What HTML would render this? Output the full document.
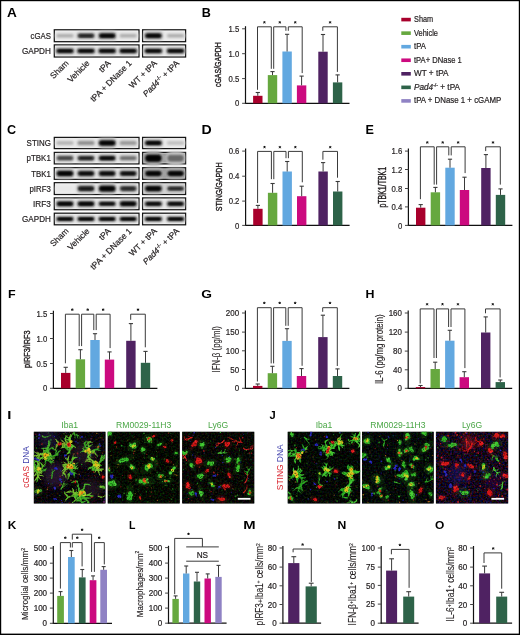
<!DOCTYPE html><html><head><meta charset="utf-8"><style>html,body{margin:0;padding:0;background:#fff;width:520px;height:635px;overflow:hidden}svg svg polyline{fill:none;stroke-linecap:round;stroke-linejoin:round}</style></head><body><svg width="520" height="635" viewBox="0 0 520 635" style="display:block;will-change:transform">
<defs><filter id="bl" x="-50%" y="-50%" width="200%" height="200%"><feGaussianBlur stdDeviation="0.85"/></filter><filter id="bl2" x="-50%" y="-50%" width="200%" height="200%"><feGaussianBlur stdDeviation="1.6"/></filter><filter id="bm" x="-20%" y="-20%" width="140%" height="140%"><feGaussianBlur stdDeviation="0.5"/></filter><filter id="bh" x="-50%" y="-50%" width="200%" height="200%"><feGaussianBlur stdDeviation="3"/></filter></defs>
<g font-family='"Liberation Sans", sans-serif'>
<rect x="0.00" y="0.00" width="520.00" height="635.00" fill="#fff" />
<text transform="translate(7.0,17.0) scale(1.08,1)" font-size="12.6" font-weight="bold" fill="#000">A</text>
<text transform="translate(201.8,17.1) scale(1.0,1)" font-size="12.6" font-weight="bold" fill="#000">B</text>
<text transform="translate(7.0,133.8) scale(1.0,1)" font-size="12.6" font-weight="bold" fill="#000">C</text>
<text transform="translate(201.6,133.7) scale(1.12,1)" font-size="12.6" font-weight="bold" fill="#000">D</text>
<text transform="translate(365.6,133.8) scale(1.0,1)" font-size="12.6" font-weight="bold" fill="#000">E</text>
<text transform="translate(7.9,297.6) scale(1.18,1)" font-size="10.6" font-weight="bold" fill="#000">F</text>
<text transform="translate(201.2,298.0) scale(1.3,1)" font-size="10.6" font-weight="bold" fill="#000">G</text>
<text transform="translate(365.4,298.0) scale(1.17,1)" font-size="10.6" font-weight="bold" fill="#000">H</text>
<text transform="translate(7.2,418.8) scale(1.4,1)" font-size="10.6" font-weight="bold" fill="#000">I</text>
<text transform="translate(269.6,418.8) scale(1.05,1)" font-size="10.6" font-weight="bold" fill="#000">J</text>
<text transform="translate(7.8,529.1) scale(1.12,1)" font-size="10.6" font-weight="bold" fill="#000">K</text>
<text transform="translate(129.0,529.0) scale(1.0,1)" font-size="10.6" font-weight="bold" fill="#000">L</text>
<text transform="translate(243.3,529.3) scale(1.4,1)" font-size="10.6" font-weight="bold" fill="#000">M</text>
<text transform="translate(337.6,529.3) scale(1.15,1)" font-size="10.6" font-weight="bold" fill="#000">N</text>
<text transform="translate(434.9,529.3) scale(1.13,1)" font-size="10.6" font-weight="bold" fill="#000">O</text>
<rect x="54.30" y="29.80" width="84.70" height="11.90" fill="#ececec" stroke="#111" stroke-width="1.25"/>
<rect x="55.50" y="31.00" width="82.30" height="9.50" fill="none" stroke="#fafafa" stroke-width="0.7" opacity="0.5"/>
<rect x="142.60" y="29.80" width="43.00" height="11.90" fill="#ececec" stroke="#111" stroke-width="1.25"/>
<rect x="143.80" y="31.00" width="40.60" height="9.50" fill="none" stroke="#fafafa" stroke-width="0.7" opacity="0.5"/>
<rect x="55.25" y="32.95" width="19.50" height="5.60" rx="2.52" fill="rgb(220,220,220)" filter="url(#bl2)"/>
<rect x="56.75" y="34.35" width="16.50" height="2.80" rx="1.26" fill="rgb(170,170,170)" filter="url(#bl)"/>
<rect x="76.25" y="31.95" width="19.50" height="7.60" rx="3.42" fill="rgb(192,192,192)" filter="url(#bl2)"/>
<rect x="77.75" y="33.85" width="16.50" height="3.80" rx="1.71" fill="rgb(58,58,58)" filter="url(#bl)"/>
<rect x="79.07" y="34.69" width="13.86" height="2.13" rx="1.06" fill="rgb(18,18,18)" filter="url(#bl)"/>
<rect x="97.45" y="31.15" width="19.50" height="9.20" rx="4.14" fill="rgb(183,183,183)" filter="url(#bl2)"/>
<rect x="98.95" y="33.45" width="16.50" height="4.60" rx="2.07" fill="rgb(20,20,20)" filter="url(#bl)"/>
<rect x="100.27" y="34.46" width="13.86" height="2.58" rx="1.29" fill="rgb(0,0,0)" filter="url(#bl)"/>
<rect x="118.45" y="32.95" width="19.50" height="5.60" rx="2.52" fill="rgb(220,220,220)" filter="url(#bl2)"/>
<rect x="119.95" y="34.35" width="16.50" height="2.80" rx="1.26" fill="rgb(170,170,170)" filter="url(#bl)"/>
<rect x="143.65" y="31.35" width="19.50" height="8.80" rx="3.96" fill="rgb(184,184,184)" filter="url(#bl2)"/>
<rect x="145.15" y="33.55" width="16.50" height="4.40" rx="1.98" fill="rgb(26,26,26)" filter="url(#bl)"/>
<rect x="146.47" y="34.52" width="13.86" height="2.46" rx="1.23" fill="rgb(0,0,0)" filter="url(#bl)"/>
<rect x="165.85" y="32.95" width="19.50" height="5.60" rx="2.52" fill="rgb(220,220,220)" filter="url(#bl2)"/>
<rect x="167.35" y="34.35" width="16.50" height="2.80" rx="1.26" fill="rgb(170,170,170)" filter="url(#bl)"/>
<rect x="54.30" y="44.90" width="84.70" height="12.10" fill="#ececec" stroke="#111" stroke-width="1.25"/>
<rect x="55.50" y="46.10" width="82.30" height="9.70" fill="none" stroke="#fafafa" stroke-width="0.7" opacity="0.5"/>
<rect x="142.60" y="44.90" width="43.00" height="12.10" fill="#ececec" stroke="#111" stroke-width="1.25"/>
<rect x="143.80" y="46.10" width="40.60" height="9.70" fill="none" stroke="#fafafa" stroke-width="0.7" opacity="0.5"/>
<rect x="55.00" y="47.25" width="20.00" height="7.40" rx="3.33" fill="rgb(182,182,182)" filter="url(#bl2)"/>
<rect x="56.50" y="49.10" width="17.00" height="3.70" rx="1.67" fill="rgb(18,18,18)" filter="url(#bl)"/>
<rect x="57.86" y="49.91" width="14.28" height="2.07" rx="1.04" fill="rgb(0,0,0)" filter="url(#bl)"/>
<rect x="76.00" y="47.25" width="20.00" height="7.40" rx="3.33" fill="rgb(182,182,182)" filter="url(#bl2)"/>
<rect x="77.50" y="49.10" width="17.00" height="3.70" rx="1.67" fill="rgb(18,18,18)" filter="url(#bl)"/>
<rect x="78.86" y="49.91" width="14.28" height="2.07" rx="1.04" fill="rgb(0,0,0)" filter="url(#bl)"/>
<rect x="97.20" y="47.25" width="20.00" height="7.40" rx="3.33" fill="rgb(182,182,182)" filter="url(#bl2)"/>
<rect x="98.70" y="49.10" width="17.00" height="3.70" rx="1.67" fill="rgb(18,18,18)" filter="url(#bl)"/>
<rect x="100.06" y="49.91" width="14.28" height="2.07" rx="1.04" fill="rgb(0,0,0)" filter="url(#bl)"/>
<rect x="118.20" y="47.25" width="20.00" height="7.40" rx="3.33" fill="rgb(182,182,182)" filter="url(#bl2)"/>
<rect x="119.70" y="49.10" width="17.00" height="3.70" rx="1.67" fill="rgb(18,18,18)" filter="url(#bl)"/>
<rect x="121.06" y="49.91" width="14.28" height="2.07" rx="1.04" fill="rgb(0,0,0)" filter="url(#bl)"/>
<rect x="143.40" y="47.25" width="20.00" height="7.40" rx="3.33" fill="rgb(182,182,182)" filter="url(#bl2)"/>
<rect x="144.90" y="49.10" width="17.00" height="3.70" rx="1.67" fill="rgb(18,18,18)" filter="url(#bl)"/>
<rect x="146.26" y="49.91" width="14.28" height="2.07" rx="1.04" fill="rgb(0,0,0)" filter="url(#bl)"/>
<rect x="165.60" y="47.25" width="20.00" height="7.40" rx="3.33" fill="rgb(182,182,182)" filter="url(#bl2)"/>
<rect x="167.10" y="49.10" width="17.00" height="3.70" rx="1.67" fill="rgb(18,18,18)" filter="url(#bl)"/>
<rect x="168.46" y="49.91" width="14.28" height="2.07" rx="1.04" fill="rgb(0,0,0)" filter="url(#bl)"/>
<text x="50.90" y="38.90" font-size="8.6" text-anchor="end" fill="#231f20" font-weight="normal" textLength="20.4" lengthAdjust="spacingAndGlyphs" stroke="#231f20" stroke-width="0.2" >cGAS</text>
<text x="50.90" y="53.90" font-size="8.6" text-anchor="end" fill="#231f20" font-weight="normal" textLength="29.0" lengthAdjust="spacingAndGlyphs" stroke="#231f20" stroke-width="0.2" >GAPDH</text>
<rect x="54.30" y="137.40" width="84.70" height="11.20" fill="#ececec" stroke="#111" stroke-width="1.25"/>
<rect x="55.50" y="138.60" width="82.30" height="8.80" fill="none" stroke="#fafafa" stroke-width="0.7" opacity="0.5"/>
<rect x="142.60" y="137.40" width="43.00" height="11.20" fill="#ececec" stroke="#111" stroke-width="1.25"/>
<rect x="143.80" y="138.60" width="40.60" height="8.80" fill="none" stroke="#fafafa" stroke-width="0.7" opacity="0.5"/>
<rect x="55.25" y="140.00" width="19.50" height="6.00" rx="2.70" fill="rgb(221,221,221)" filter="url(#bl2)"/>
<rect x="56.75" y="141.50" width="16.50" height="3.00" rx="1.35" fill="rgb(175,175,175)" filter="url(#bl)"/>
<rect x="76.25" y="139.40" width="19.50" height="7.20" rx="3.24" fill="rgb(211,211,211)" filter="url(#bl2)"/>
<rect x="77.75" y="141.20" width="16.50" height="3.60" rx="1.62" fill="rgb(137,137,137)" filter="url(#bl)"/>
<rect x="97.45" y="137.80" width="19.50" height="10.40" rx="4.68" fill="rgb(182,182,182)" filter="url(#bl2)"/>
<rect x="98.95" y="140.40" width="16.50" height="5.20" rx="2.34" fill="rgb(18,18,18)" filter="url(#bl)"/>
<rect x="100.27" y="141.54" width="13.86" height="2.91" rx="1.46" fill="rgb(0,0,0)" filter="url(#bl)"/>
<rect x="118.45" y="139.40" width="19.50" height="7.20" rx="3.24" fill="rgb(214,214,214)" filter="url(#bl2)"/>
<rect x="119.95" y="141.20" width="16.50" height="3.60" rx="1.62" fill="rgb(148,148,148)" filter="url(#bl)"/>
<rect x="143.65" y="138.80" width="19.50" height="8.40" rx="3.78" fill="rgb(183,183,183)" filter="url(#bl2)"/>
<rect x="145.15" y="140.90" width="16.50" height="4.20" rx="1.89" fill="rgb(22,22,22)" filter="url(#bl)"/>
<rect x="146.47" y="141.82" width="13.86" height="2.35" rx="1.18" fill="rgb(0,0,0)" filter="url(#bl)"/>
<rect x="165.85" y="140.00" width="19.50" height="6.00" rx="2.70" fill="rgb(224,224,224)" filter="url(#bl2)"/>
<rect x="167.35" y="141.50" width="16.50" height="3.00" rx="1.35" fill="rgb(188,188,188)" filter="url(#bl)"/>
<text x="50.80" y="146.00" font-size="8.6" text-anchor="end" fill="#231f20" font-weight="normal" textLength="24.2" lengthAdjust="spacingAndGlyphs" stroke="#231f20" stroke-width="0.2" >STING</text>
<rect x="54.30" y="152.40" width="84.70" height="11.50" fill="#ececec" stroke="#111" stroke-width="1.25"/>
<rect x="55.50" y="153.60" width="82.30" height="9.10" fill="none" stroke="#fafafa" stroke-width="0.7" opacity="0.5"/>
<rect x="142.60" y="152.40" width="43.00" height="11.50" fill="#989898" stroke="#111" stroke-width="1.25"/>
<rect x="143.80" y="153.60" width="40.60" height="9.10" fill="none" stroke="#fafafa" stroke-width="0.7" opacity="0.5"/>
<rect x="55.25" y="153.95" width="19.50" height="8.40" rx="3.78" fill="rgb(202,202,202)" filter="url(#bl2)"/>
<rect x="56.75" y="156.05" width="16.50" height="4.20" rx="1.89" fill="rgb(98,98,98)" filter="url(#bl)"/>
<rect x="58.07" y="156.97" width="13.86" height="2.35" rx="1.18" fill="rgb(58,58,58)" filter="url(#bl)"/>
<rect x="76.25" y="154.15" width="19.50" height="8.00" rx="3.60" fill="rgb(193,193,193)" filter="url(#bl2)"/>
<rect x="77.75" y="156.15" width="16.50" height="4.00" rx="1.80" fill="rgb(62,62,62)" filter="url(#bl)"/>
<rect x="79.07" y="157.03" width="13.86" height="2.24" rx="1.12" fill="rgb(22,22,22)" filter="url(#bl)"/>
<rect x="97.45" y="153.75" width="19.50" height="8.80" rx="3.96" fill="rgb(188,188,188)" filter="url(#bl2)"/>
<rect x="98.95" y="155.95" width="16.50" height="4.40" rx="1.98" fill="rgb(40,40,40)" filter="url(#bl)"/>
<rect x="100.27" y="156.92" width="13.86" height="2.46" rx="1.23" fill="rgb(0,0,0)" filter="url(#bl)"/>
<rect x="118.45" y="154.35" width="19.50" height="7.60" rx="3.42" fill="rgb(204,204,204)" filter="url(#bl2)"/>
<rect x="119.95" y="156.25" width="16.50" height="3.80" rx="1.71" fill="rgb(108,108,108)" filter="url(#bl)"/>
<rect x="143.65" y="150.65" width="19.50" height="15.00" rx="6.75" fill="rgb(182,182,182)" filter="url(#bl2)"/>
<rect x="145.15" y="154.40" width="16.50" height="7.50" rx="3.38" fill="rgb(15,15,15)" filter="url(#bl)"/>
<rect x="146.47" y="156.05" width="13.86" height="4.20" rx="2.10" fill="rgb(0,0,0)" filter="url(#bl)"/>
<rect x="165.85" y="151.15" width="19.50" height="14.00" rx="6.30" fill="rgb(203,203,203)" filter="url(#bl2)"/>
<rect x="167.35" y="154.65" width="16.50" height="7.00" rx="3.15" fill="rgb(103,103,103)" filter="url(#bl)"/>
<text x="50.80" y="161.15" font-size="8.6" text-anchor="end" fill="#231f20" font-weight="normal" textLength="24.2" lengthAdjust="spacingAndGlyphs" stroke="#231f20" stroke-width="0.2" >pTBK1</text>
<rect x="54.30" y="167.70" width="84.70" height="11.60" fill="#ececec" stroke="#111" stroke-width="1.25"/>
<rect x="55.50" y="168.90" width="82.30" height="9.20" fill="none" stroke="#fafafa" stroke-width="0.7" opacity="0.5"/>
<rect x="142.60" y="167.70" width="43.00" height="11.60" fill="#989898" stroke="#111" stroke-width="1.25"/>
<rect x="143.80" y="168.90" width="40.60" height="9.20" fill="none" stroke="#fafafa" stroke-width="0.7" opacity="0.5"/>
<rect x="55.25" y="168.30" width="19.50" height="10.40" rx="4.68" fill="rgb(182,182,182)" filter="url(#bl2)"/>
<rect x="56.75" y="170.90" width="16.50" height="5.20" rx="2.34" fill="rgb(18,18,18)" filter="url(#bl)"/>
<rect x="58.07" y="172.04" width="13.86" height="2.91" rx="1.46" fill="rgb(0,0,0)" filter="url(#bl)"/>
<rect x="76.25" y="168.90" width="19.50" height="9.20" rx="4.14" fill="rgb(188,188,188)" filter="url(#bl2)"/>
<rect x="77.75" y="171.20" width="16.50" height="4.60" rx="2.07" fill="rgb(40,40,40)" filter="url(#bl)"/>
<rect x="79.07" y="172.21" width="13.86" height="2.58" rx="1.29" fill="rgb(0,0,0)" filter="url(#bl)"/>
<rect x="97.45" y="168.90" width="19.50" height="9.20" rx="4.14" fill="rgb(188,188,188)" filter="url(#bl2)"/>
<rect x="98.95" y="171.20" width="16.50" height="4.60" rx="2.07" fill="rgb(40,40,40)" filter="url(#bl)"/>
<rect x="100.27" y="172.21" width="13.86" height="2.58" rx="1.29" fill="rgb(0,0,0)" filter="url(#bl)"/>
<rect x="118.45" y="169.10" width="19.50" height="8.80" rx="3.96" fill="rgb(190,190,190)" filter="url(#bl2)"/>
<rect x="119.95" y="171.30" width="16.50" height="4.40" rx="1.98" fill="rgb(49,49,49)" filter="url(#bl)"/>
<rect x="121.27" y="172.27" width="13.86" height="2.46" rx="1.23" fill="rgb(9,9,9)" filter="url(#bl)"/>
<rect x="143.65" y="168.10" width="19.50" height="10.80" rx="4.86" fill="rgb(185,185,185)" filter="url(#bl2)"/>
<rect x="145.15" y="170.80" width="16.50" height="5.40" rx="2.43" fill="rgb(31,31,31)" filter="url(#bl)"/>
<rect x="146.47" y="171.99" width="13.86" height="3.02" rx="1.51" fill="rgb(0,0,0)" filter="url(#bl)"/>
<rect x="165.85" y="168.10" width="19.50" height="10.80" rx="4.86" fill="rgb(184,184,184)" filter="url(#bl2)"/>
<rect x="167.35" y="170.80" width="16.50" height="5.40" rx="2.43" fill="rgb(26,26,26)" filter="url(#bl)"/>
<rect x="168.67" y="171.99" width="13.86" height="3.02" rx="1.51" fill="rgb(0,0,0)" filter="url(#bl)"/>
<text x="50.80" y="176.50" font-size="8.6" text-anchor="end" fill="#231f20" font-weight="normal" textLength="19.6" lengthAdjust="spacingAndGlyphs" stroke="#231f20" stroke-width="0.2" >TBK1</text>
<rect x="54.30" y="182.70" width="84.70" height="11.80" fill="#ececec" stroke="#111" stroke-width="1.25"/>
<rect x="55.50" y="183.90" width="82.30" height="9.40" fill="none" stroke="#fafafa" stroke-width="0.7" opacity="0.5"/>
<rect x="142.60" y="182.70" width="43.00" height="11.80" fill="#d4d4d4" stroke="#111" stroke-width="1.25"/>
<rect x="143.80" y="183.90" width="40.60" height="9.40" fill="none" stroke="#fafafa" stroke-width="0.7" opacity="0.5"/>
<rect x="55.25" y="185.60" width="19.50" height="6.00" rx="2.70" fill="rgb(234,234,234)" filter="url(#bl2)"/>
<rect x="56.75" y="187.10" width="16.50" height="3.00" rx="1.35" fill="rgb(231,231,231)" filter="url(#bl)"/>
<rect x="76.25" y="183.80" width="19.50" height="9.60" rx="4.32" fill="rgb(191,191,191)" filter="url(#bl2)"/>
<rect x="77.75" y="186.20" width="16.50" height="4.80" rx="2.16" fill="rgb(54,54,54)" filter="url(#bl)"/>
<rect x="79.07" y="187.26" width="13.86" height="2.69" rx="1.34" fill="rgb(14,14,14)" filter="url(#bl)"/>
<rect x="97.45" y="183.00" width="19.50" height="11.20" rx="5.04" fill="rgb(184,184,184)" filter="url(#bl2)"/>
<rect x="98.95" y="185.80" width="16.50" height="5.60" rx="2.52" fill="rgb(24,24,24)" filter="url(#bl)"/>
<rect x="100.27" y="187.03" width="13.86" height="3.14" rx="1.57" fill="rgb(0,0,0)" filter="url(#bl)"/>
<rect x="118.45" y="184.00" width="19.50" height="9.20" rx="4.14" fill="rgb(196,196,196)" filter="url(#bl2)"/>
<rect x="119.95" y="186.30" width="16.50" height="4.60" rx="2.07" fill="rgb(76,76,76)" filter="url(#bl)"/>
<rect x="121.27" y="187.31" width="13.86" height="2.58" rx="1.29" fill="rgb(36,36,36)" filter="url(#bl)"/>
<rect x="143.65" y="183.40" width="19.50" height="10.40" rx="4.68" fill="rgb(182,182,182)" filter="url(#bl2)"/>
<rect x="145.15" y="186.00" width="16.50" height="5.20" rx="2.34" fill="rgb(18,18,18)" filter="url(#bl)"/>
<rect x="146.47" y="187.14" width="13.86" height="2.91" rx="1.46" fill="rgb(0,0,0)" filter="url(#bl)"/>
<rect x="165.85" y="185.00" width="19.50" height="7.20" rx="3.24" fill="rgb(193,193,193)" filter="url(#bl2)"/>
<rect x="167.35" y="186.80" width="16.50" height="3.60" rx="1.62" fill="rgb(62,62,62)" filter="url(#bl)"/>
<rect x="168.67" y="187.59" width="13.86" height="2.02" rx="1.01" fill="rgb(22,22,22)" filter="url(#bl)"/>
<text x="50.80" y="191.60" font-size="8.6" text-anchor="end" fill="#231f20" font-weight="normal" textLength="21.3" lengthAdjust="spacingAndGlyphs" stroke="#231f20" stroke-width="0.2" >pIRF3</text>
<rect x="54.30" y="197.90" width="84.70" height="11.80" fill="#ececec" stroke="#111" stroke-width="1.25"/>
<rect x="55.50" y="199.10" width="82.30" height="9.40" fill="none" stroke="#fafafa" stroke-width="0.7" opacity="0.5"/>
<rect x="142.60" y="197.90" width="43.00" height="11.80" fill="#ececec" stroke="#111" stroke-width="1.25"/>
<rect x="143.80" y="199.10" width="40.60" height="9.40" fill="none" stroke="#fafafa" stroke-width="0.7" opacity="0.5"/>
<rect x="55.25" y="199.60" width="19.50" height="8.40" rx="3.78" fill="rgb(183,183,183)" filter="url(#bl2)"/>
<rect x="56.75" y="201.70" width="16.50" height="4.20" rx="1.89" fill="rgb(20,20,20)" filter="url(#bl)"/>
<rect x="58.07" y="202.62" width="13.86" height="2.35" rx="1.18" fill="rgb(0,0,0)" filter="url(#bl)"/>
<rect x="76.25" y="199.60" width="19.50" height="8.40" rx="3.78" fill="rgb(183,183,183)" filter="url(#bl2)"/>
<rect x="77.75" y="201.70" width="16.50" height="4.20" rx="1.89" fill="rgb(20,20,20)" filter="url(#bl)"/>
<rect x="79.07" y="202.62" width="13.86" height="2.35" rx="1.18" fill="rgb(0,0,0)" filter="url(#bl)"/>
<rect x="97.45" y="200.40" width="19.50" height="6.80" rx="3.06" fill="rgb(185,185,185)" filter="url(#bl2)"/>
<rect x="98.95" y="202.10" width="16.50" height="3.40" rx="1.53" fill="rgb(29,29,29)" filter="url(#bl)"/>
<rect x="100.27" y="202.85" width="13.86" height="1.90" rx="0.95" fill="rgb(0,0,0)" filter="url(#bl)"/>
<rect x="118.45" y="199.20" width="19.50" height="9.20" rx="4.14" fill="rgb(183,183,183)" filter="url(#bl2)"/>
<rect x="119.95" y="201.50" width="16.50" height="4.60" rx="2.07" fill="rgb(20,20,20)" filter="url(#bl)"/>
<rect x="121.27" y="202.51" width="13.86" height="2.58" rx="1.29" fill="rgb(0,0,0)" filter="url(#bl)"/>
<rect x="143.65" y="200.00" width="19.50" height="7.60" rx="3.42" fill="rgb(183,183,183)" filter="url(#bl2)"/>
<rect x="145.15" y="201.90" width="16.50" height="3.80" rx="1.71" fill="rgb(22,22,22)" filter="url(#bl)"/>
<rect x="146.47" y="202.74" width="13.86" height="2.13" rx="1.06" fill="rgb(0,0,0)" filter="url(#bl)"/>
<rect x="165.85" y="200.00" width="19.50" height="7.60" rx="3.42" fill="rgb(183,183,183)" filter="url(#bl2)"/>
<rect x="167.35" y="201.90" width="16.50" height="3.80" rx="1.71" fill="rgb(22,22,22)" filter="url(#bl)"/>
<rect x="168.67" y="202.74" width="13.86" height="2.13" rx="1.06" fill="rgb(0,0,0)" filter="url(#bl)"/>
<text x="50.80" y="206.80" font-size="8.6" text-anchor="end" fill="#231f20" font-weight="normal" textLength="17.8" lengthAdjust="spacingAndGlyphs" stroke="#231f20" stroke-width="0.2" >IRF3</text>
<rect x="54.30" y="213.20" width="84.70" height="11.60" fill="#ececec" stroke="#111" stroke-width="1.25"/>
<rect x="55.50" y="214.40" width="82.30" height="9.20" fill="none" stroke="#fafafa" stroke-width="0.7" opacity="0.5"/>
<rect x="142.60" y="213.20" width="43.00" height="11.60" fill="#ececec" stroke="#111" stroke-width="1.25"/>
<rect x="143.80" y="214.40" width="40.60" height="9.20" fill="none" stroke="#fafafa" stroke-width="0.7" opacity="0.5"/>
<rect x="55.25" y="215.70" width="19.50" height="6.60" rx="2.97" fill="rgb(182,182,182)" filter="url(#bl2)"/>
<rect x="56.75" y="217.35" width="16.50" height="3.30" rx="1.48" fill="rgb(18,18,18)" filter="url(#bl)"/>
<rect x="58.07" y="218.08" width="13.86" height="1.85" rx="0.92" fill="rgb(0,0,0)" filter="url(#bl)"/>
<rect x="76.25" y="215.70" width="19.50" height="6.60" rx="2.97" fill="rgb(182,182,182)" filter="url(#bl2)"/>
<rect x="77.75" y="217.35" width="16.50" height="3.30" rx="1.48" fill="rgb(18,18,18)" filter="url(#bl)"/>
<rect x="79.07" y="218.08" width="13.86" height="1.85" rx="0.92" fill="rgb(0,0,0)" filter="url(#bl)"/>
<rect x="97.45" y="215.70" width="19.50" height="6.60" rx="2.97" fill="rgb(182,182,182)" filter="url(#bl2)"/>
<rect x="98.95" y="217.35" width="16.50" height="3.30" rx="1.48" fill="rgb(18,18,18)" filter="url(#bl)"/>
<rect x="100.27" y="218.08" width="13.86" height="1.85" rx="0.92" fill="rgb(0,0,0)" filter="url(#bl)"/>
<rect x="118.45" y="215.70" width="19.50" height="6.60" rx="2.97" fill="rgb(182,182,182)" filter="url(#bl2)"/>
<rect x="119.95" y="217.35" width="16.50" height="3.30" rx="1.48" fill="rgb(18,18,18)" filter="url(#bl)"/>
<rect x="121.27" y="218.08" width="13.86" height="1.85" rx="0.92" fill="rgb(0,0,0)" filter="url(#bl)"/>
<rect x="143.65" y="215.70" width="19.50" height="6.60" rx="2.97" fill="rgb(182,182,182)" filter="url(#bl2)"/>
<rect x="145.15" y="217.35" width="16.50" height="3.30" rx="1.48" fill="rgb(18,18,18)" filter="url(#bl)"/>
<rect x="146.47" y="218.08" width="13.86" height="1.85" rx="0.92" fill="rgb(0,0,0)" filter="url(#bl)"/>
<rect x="165.85" y="215.70" width="19.50" height="6.60" rx="2.97" fill="rgb(182,182,182)" filter="url(#bl2)"/>
<rect x="167.35" y="217.35" width="16.50" height="3.30" rx="1.48" fill="rgb(18,18,18)" filter="url(#bl)"/>
<rect x="168.67" y="218.08" width="13.86" height="1.85" rx="0.92" fill="rgb(0,0,0)" filter="url(#bl)"/>
<text x="50.80" y="222.00" font-size="8.6" text-anchor="end" fill="#231f20" font-weight="normal" textLength="28.7" lengthAdjust="spacingAndGlyphs" stroke="#231f20" stroke-width="0.2" >GAPDH</text>
<text transform="translate(69.10,63.80) rotate(-45)" x="0" y="0" font-size="8.4" text-anchor="end" fill="#231f20" stroke="#231f20" stroke-width="0.2">Sham</text>
<text transform="translate(90.10,63.80) rotate(-45)" x="0" y="0" font-size="8.4" text-anchor="end" fill="#231f20" stroke="#231f20" stroke-width="0.2">Vehicle</text>
<text transform="translate(111.30,63.80) rotate(-45)" x="0" y="0" font-size="8.4" text-anchor="end" fill="#231f20" stroke="#231f20" stroke-width="0.2">tPA</text>
<text transform="translate(132.30,63.80) rotate(-45)" x="0" y="0" font-size="8.4" text-anchor="end" fill="#231f20" stroke="#231f20" stroke-width="0.2">tPA + DNase 1</text>
<text transform="translate(157.50,63.80) rotate(-45)" x="0" y="0" font-size="8.4" text-anchor="end" fill="#231f20" stroke="#231f20" stroke-width="0.2">WT + tPA</text>
<text transform="translate(179.70,63.80) rotate(-45)" x="0" y="0" font-size="8.4" text-anchor="end" fill="#231f20" stroke="#231f20" stroke-width="0.2"><tspan font-style="italic">Pad4</tspan><tspan font-size="5.5" dy="-3">-/-</tspan><tspan dy="3"> + tPA</tspan></text>
<text transform="translate(69.10,231.60) rotate(-45)" x="0" y="0" font-size="8.4" text-anchor="end" fill="#231f20" stroke="#231f20" stroke-width="0.2">Sham</text>
<text transform="translate(90.10,231.60) rotate(-45)" x="0" y="0" font-size="8.4" text-anchor="end" fill="#231f20" stroke="#231f20" stroke-width="0.2">Vehicle</text>
<text transform="translate(111.30,231.60) rotate(-45)" x="0" y="0" font-size="8.4" text-anchor="end" fill="#231f20" stroke="#231f20" stroke-width="0.2">tPA</text>
<text transform="translate(132.30,231.60) rotate(-45)" x="0" y="0" font-size="8.4" text-anchor="end" fill="#231f20" stroke="#231f20" stroke-width="0.2">tPA + DNase 1</text>
<text transform="translate(157.50,231.60) rotate(-45)" x="0" y="0" font-size="8.4" text-anchor="end" fill="#231f20" stroke="#231f20" stroke-width="0.2">WT + tPA</text>
<text transform="translate(179.70,231.60) rotate(-45)" x="0" y="0" font-size="8.4" text-anchor="end" fill="#231f20" stroke="#231f20" stroke-width="0.2"><tspan font-style="italic">Pad4</tspan><tspan font-size="5.5" dy="-3">-/-</tspan><tspan dy="3"> + tPA</tspan></text>
<line x1="245.50" y1="26.20" x2="245.50" y2="103.90" stroke="#111" stroke-width="1.2"/>
<line x1="244.90" y1="103.30" x2="349.50" y2="103.30" stroke="#111" stroke-width="1.3"/>
<line x1="242.10" y1="103.30" x2="245.50" y2="103.30" stroke="#444" stroke-width="1.0"/>
<text x="239.30" y="106.40" font-size="8.6" text-anchor="end" fill="#231f20" font-weight="normal" textLength="4.3" lengthAdjust="spacingAndGlyphs" stroke="#231f20" stroke-width="0.2" >0</text>
<line x1="242.10" y1="78.60" x2="245.50" y2="78.60" stroke="#444" stroke-width="1.0"/>
<text x="239.30" y="81.70" font-size="8.6" text-anchor="end" fill="#231f20" font-weight="normal" textLength="10.76" lengthAdjust="spacingAndGlyphs" stroke="#231f20" stroke-width="0.2" >0.5</text>
<line x1="242.10" y1="53.70" x2="245.50" y2="53.70" stroke="#444" stroke-width="1.0"/>
<text x="239.30" y="56.80" font-size="8.6" text-anchor="end" fill="#231f20" font-weight="normal" textLength="10.76" lengthAdjust="spacingAndGlyphs" stroke="#231f20" stroke-width="0.2" >1.0</text>
<line x1="242.10" y1="28.80" x2="245.50" y2="28.80" stroke="#444" stroke-width="1.0"/>
<text x="239.30" y="31.90" font-size="8.6" text-anchor="end" fill="#231f20" font-weight="normal" textLength="10.76" lengthAdjust="spacingAndGlyphs" stroke="#231f20" stroke-width="0.2" >1.5</text>
<rect x="253.10" y="95.80" width="9.40" height="7.50" fill="#a8002c" />
<line x1="257.80" y1="95.80" x2="257.80" y2="92.50" stroke="#3a3a3a" stroke-width="1.0"/>
<line x1="255.70" y1="92.50" x2="259.90" y2="92.50" stroke="#3a3a3a" stroke-width="1.1"/>
<rect x="267.80" y="75.10" width="9.40" height="28.20" fill="#66a83f" />
<line x1="272.50" y1="75.10" x2="272.50" y2="71.60" stroke="#3a3a3a" stroke-width="1.0"/>
<line x1="270.40" y1="71.60" x2="274.60" y2="71.60" stroke="#3a3a3a" stroke-width="1.1"/>
<rect x="282.40" y="51.50" width="9.40" height="51.80" fill="#62a8e0" />
<line x1="287.10" y1="51.50" x2="287.10" y2="34.30" stroke="#3a3a3a" stroke-width="1.0"/>
<line x1="285.00" y1="34.30" x2="289.20" y2="34.30" stroke="#3a3a3a" stroke-width="1.1"/>
<rect x="296.90" y="85.40" width="9.40" height="17.90" fill="#cc0a7f" />
<line x1="301.60" y1="85.40" x2="301.60" y2="76.10" stroke="#3a3a3a" stroke-width="1.0"/>
<line x1="299.50" y1="76.10" x2="303.70" y2="76.10" stroke="#3a3a3a" stroke-width="1.1"/>
<rect x="318.30" y="51.70" width="9.40" height="51.60" fill="#4f2262" />
<line x1="323.00" y1="51.70" x2="323.00" y2="34.50" stroke="#3a3a3a" stroke-width="1.0"/>
<line x1="320.90" y1="34.50" x2="325.10" y2="34.50" stroke="#3a3a3a" stroke-width="1.1"/>
<rect x="332.90" y="82.40" width="9.40" height="20.90" fill="#2e6349" />
<line x1="337.60" y1="82.40" x2="337.60" y2="74.90" stroke="#3a3a3a" stroke-width="1.0"/>
<line x1="335.50" y1="74.90" x2="339.70" y2="74.90" stroke="#3a3a3a" stroke-width="1.1"/>
<polyline points="257.50,89.80 257.50,26.80 271.30,26.80 271.30,68.80" fill="none" stroke="#3a3a3a" stroke-width="1.0"/>
<path d="M264.40,22.40L264.40,21.15M264.40,22.40L265.59,22.01M264.40,22.40L265.13,23.41M264.40,22.40L263.21,22.01M264.40,22.40L263.67,23.41" stroke="#111" stroke-width="1.0" fill="none"/>
<polyline points="273.70,68.80 273.70,26.80 285.90,26.80 285.90,30.80" fill="none" stroke="#3a3a3a" stroke-width="1.0"/>
<path d="M279.80,22.40L279.80,21.15M279.80,22.40L280.99,22.01M279.80,22.40L280.53,23.41M279.80,22.40L278.61,22.01M279.80,22.40L279.07,23.41" stroke="#111" stroke-width="1.0" fill="none"/>
<polyline points="288.30,30.80 288.30,26.80 302.20,26.80 302.20,73.10" fill="none" stroke="#3a3a3a" stroke-width="1.0"/>
<path d="M295.25,22.40L295.25,21.15M295.25,22.40L296.44,22.01M295.25,22.40L295.98,23.41M295.25,22.40L294.06,22.01M295.25,22.40L294.52,23.41" stroke="#111" stroke-width="1.0" fill="none"/>
<polyline points="322.80,30.80 322.80,26.80 337.40,26.80 337.40,71.90" fill="none" stroke="#3a3a3a" stroke-width="1.0"/>
<path d="M330.10,22.40L330.10,21.15M330.10,22.40L331.29,22.01M330.10,22.40L330.83,23.41M330.10,22.40L328.91,22.01M330.10,22.40L329.37,23.41" stroke="#111" stroke-width="1.0" fill="none"/>
<text transform="translate(217.90,64.60) rotate(-90)" x="0" y="3.36" font-size="9.6" text-anchor="middle" fill="#231f20" stroke="#231f20" stroke-width="0.4" textLength="45" lengthAdjust="spacingAndGlyphs">cGAS/GAPDH</text>
<line x1="245.60" y1="148.50" x2="245.60" y2="226.00" stroke="#111" stroke-width="1.2"/>
<line x1="245.00" y1="225.40" x2="349.60" y2="225.40" stroke="#111" stroke-width="1.3"/>
<line x1="242.20" y1="225.40" x2="245.60" y2="225.40" stroke="#444" stroke-width="1.0"/>
<text x="239.40" y="228.50" font-size="8.6" text-anchor="end" fill="#231f20" font-weight="normal" textLength="4.3" lengthAdjust="spacingAndGlyphs" stroke="#231f20" stroke-width="0.2" >0</text>
<line x1="242.20" y1="201.10" x2="245.60" y2="201.10" stroke="#444" stroke-width="1.0"/>
<text x="239.40" y="204.20" font-size="8.6" text-anchor="end" fill="#231f20" font-weight="normal" textLength="10.76" lengthAdjust="spacingAndGlyphs" stroke="#231f20" stroke-width="0.2" >0.2</text>
<line x1="242.20" y1="176.20" x2="245.60" y2="176.20" stroke="#444" stroke-width="1.0"/>
<text x="239.40" y="179.30" font-size="8.6" text-anchor="end" fill="#231f20" font-weight="normal" textLength="10.76" lengthAdjust="spacingAndGlyphs" stroke="#231f20" stroke-width="0.2" >0.4</text>
<line x1="242.20" y1="151.10" x2="245.60" y2="151.10" stroke="#444" stroke-width="1.0"/>
<text x="239.40" y="154.20" font-size="8.6" text-anchor="end" fill="#231f20" font-weight="normal" textLength="10.76" lengthAdjust="spacingAndGlyphs" stroke="#231f20" stroke-width="0.2" >0.6</text>
<rect x="253.20" y="208.80" width="9.40" height="16.60" fill="#a8002c" />
<line x1="257.90" y1="208.80" x2="257.90" y2="205.40" stroke="#3a3a3a" stroke-width="1.0"/>
<line x1="255.80" y1="205.40" x2="260.00" y2="205.40" stroke="#3a3a3a" stroke-width="1.1"/>
<rect x="267.90" y="192.80" width="9.40" height="32.60" fill="#66a83f" />
<line x1="272.60" y1="192.80" x2="272.60" y2="183.50" stroke="#3a3a3a" stroke-width="1.0"/>
<line x1="270.50" y1="183.50" x2="274.70" y2="183.50" stroke="#3a3a3a" stroke-width="1.1"/>
<rect x="282.50" y="171.50" width="9.40" height="53.90" fill="#62a8e0" />
<line x1="287.20" y1="171.50" x2="287.20" y2="161.50" stroke="#3a3a3a" stroke-width="1.0"/>
<line x1="285.10" y1="161.50" x2="289.30" y2="161.50" stroke="#3a3a3a" stroke-width="1.1"/>
<rect x="297.00" y="196.20" width="9.40" height="29.20" fill="#cc0a7f" />
<line x1="301.70" y1="196.20" x2="301.70" y2="186.20" stroke="#3a3a3a" stroke-width="1.0"/>
<line x1="299.60" y1="186.20" x2="303.80" y2="186.20" stroke="#3a3a3a" stroke-width="1.1"/>
<rect x="318.40" y="171.50" width="9.40" height="53.90" fill="#4f2262" />
<line x1="323.10" y1="171.50" x2="323.10" y2="162.60" stroke="#3a3a3a" stroke-width="1.0"/>
<line x1="321.00" y1="162.60" x2="325.20" y2="162.60" stroke="#3a3a3a" stroke-width="1.1"/>
<rect x="333.00" y="191.50" width="9.40" height="33.90" fill="#2e6349" />
<line x1="337.70" y1="191.50" x2="337.70" y2="181.50" stroke="#3a3a3a" stroke-width="1.0"/>
<line x1="335.60" y1="181.50" x2="339.80" y2="181.50" stroke="#3a3a3a" stroke-width="1.1"/>
<polyline points="257.60,203.00 257.60,151.40 271.40,151.40 271.40,179.20" fill="none" stroke="#3a3a3a" stroke-width="1.0"/>
<path d="M264.50,147.20L264.50,145.95M264.50,147.20L265.69,146.81M264.50,147.20L265.23,148.21M264.50,147.20L263.31,146.81M264.50,147.20L263.77,148.21" stroke="#111" stroke-width="1.0" fill="none"/>
<polyline points="273.80,179.20 273.80,151.40 286.00,151.40 286.00,158.20" fill="none" stroke="#3a3a3a" stroke-width="1.0"/>
<path d="M279.90,147.20L279.90,145.95M279.90,147.20L281.09,146.81M279.90,147.20L280.63,148.21M279.90,147.20L278.71,146.81M279.90,147.20L279.17,148.21" stroke="#111" stroke-width="1.0" fill="none"/>
<polyline points="288.40,158.20 288.40,151.40 302.30,151.40 302.30,182.30" fill="none" stroke="#3a3a3a" stroke-width="1.0"/>
<path d="M295.35,147.20L295.35,145.95M295.35,147.20L296.54,146.81M295.35,147.20L296.08,148.21M295.35,147.20L294.16,146.81M295.35,147.20L294.62,148.21" stroke="#111" stroke-width="1.0" fill="none"/>
<polyline points="322.90,159.70 322.90,151.40 337.50,151.40 337.50,177.70" fill="none" stroke="#3a3a3a" stroke-width="1.0"/>
<path d="M330.20,147.20L330.20,145.95M330.20,147.20L331.39,146.81M330.20,147.20L330.93,148.21M330.20,147.20L329.01,146.81M330.20,147.20L329.47,148.21" stroke="#111" stroke-width="1.0" fill="none"/>
<text transform="translate(218.75,186.90) rotate(-90)" x="0" y="3.39" font-size="9.7" text-anchor="middle" fill="#231f20" stroke="#231f20" stroke-width="0.4" textLength="48.9" lengthAdjust="spacingAndGlyphs">STING/GAPDH</text>
<line x1="408.40" y1="148.50" x2="408.40" y2="226.00" stroke="#111" stroke-width="1.2"/>
<line x1="407.80" y1="225.40" x2="512.40" y2="225.40" stroke="#111" stroke-width="1.3"/>
<line x1="405.00" y1="225.40" x2="408.40" y2="225.40" stroke="#444" stroke-width="1.0"/>
<text x="402.20" y="228.50" font-size="8.6" text-anchor="end" fill="#231f20" font-weight="normal" textLength="4.3" lengthAdjust="spacingAndGlyphs" stroke="#231f20" stroke-width="0.2" >0</text>
<line x1="405.00" y1="206.90" x2="408.40" y2="206.90" stroke="#444" stroke-width="1.0"/>
<text x="402.20" y="210.00" font-size="8.6" text-anchor="end" fill="#231f20" font-weight="normal" textLength="10.76" lengthAdjust="spacingAndGlyphs" stroke="#231f20" stroke-width="0.2" >0.4</text>
<line x1="405.00" y1="188.50" x2="408.40" y2="188.50" stroke="#444" stroke-width="1.0"/>
<text x="402.20" y="191.60" font-size="8.6" text-anchor="end" fill="#231f20" font-weight="normal" textLength="10.76" lengthAdjust="spacingAndGlyphs" stroke="#231f20" stroke-width="0.2" >0.8</text>
<line x1="405.00" y1="169.50" x2="408.40" y2="169.50" stroke="#444" stroke-width="1.0"/>
<text x="402.20" y="172.60" font-size="8.6" text-anchor="end" fill="#231f20" font-weight="normal" textLength="10.76" lengthAdjust="spacingAndGlyphs" stroke="#231f20" stroke-width="0.2" >1.2</text>
<line x1="405.00" y1="151.10" x2="408.40" y2="151.10" stroke="#444" stroke-width="1.0"/>
<text x="402.20" y="154.20" font-size="8.6" text-anchor="end" fill="#231f20" font-weight="normal" textLength="10.76" lengthAdjust="spacingAndGlyphs" stroke="#231f20" stroke-width="0.2" >1.6</text>
<rect x="416.00" y="207.70" width="9.40" height="17.70" fill="#a8002c" />
<line x1="420.70" y1="207.70" x2="420.70" y2="204.60" stroke="#3a3a3a" stroke-width="1.0"/>
<line x1="418.60" y1="204.60" x2="422.80" y2="204.60" stroke="#3a3a3a" stroke-width="1.1"/>
<rect x="430.70" y="192.30" width="9.40" height="33.10" fill="#66a83f" />
<line x1="435.40" y1="192.30" x2="435.40" y2="187.40" stroke="#3a3a3a" stroke-width="1.0"/>
<line x1="433.30" y1="187.40" x2="437.50" y2="187.40" stroke="#3a3a3a" stroke-width="1.1"/>
<rect x="445.30" y="167.70" width="9.40" height="57.70" fill="#62a8e0" />
<line x1="450.00" y1="167.70" x2="450.00" y2="159.20" stroke="#3a3a3a" stroke-width="1.0"/>
<line x1="447.90" y1="159.20" x2="452.10" y2="159.20" stroke="#3a3a3a" stroke-width="1.1"/>
<rect x="459.80" y="190.00" width="9.40" height="35.40" fill="#cc0a7f" />
<line x1="464.50" y1="190.00" x2="464.50" y2="177.20" stroke="#3a3a3a" stroke-width="1.0"/>
<line x1="462.40" y1="177.20" x2="466.60" y2="177.20" stroke="#3a3a3a" stroke-width="1.1"/>
<rect x="481.20" y="168.00" width="9.40" height="57.40" fill="#4f2262" />
<line x1="485.90" y1="168.00" x2="485.90" y2="154.60" stroke="#3a3a3a" stroke-width="1.0"/>
<line x1="483.80" y1="154.60" x2="488.00" y2="154.60" stroke="#3a3a3a" stroke-width="1.1"/>
<rect x="495.80" y="194.90" width="9.40" height="30.50" fill="#2e6349" />
<line x1="500.50" y1="194.90" x2="500.50" y2="188.90" stroke="#3a3a3a" stroke-width="1.0"/>
<line x1="498.40" y1="188.90" x2="502.60" y2="188.90" stroke="#3a3a3a" stroke-width="1.1"/>
<polyline points="420.40,199.20 420.40,146.80 434.20,146.80 434.20,184.60" fill="none" stroke="#3a3a3a" stroke-width="1.0"/>
<path d="M427.30,142.50L427.30,141.25M427.30,142.50L428.49,142.11M427.30,142.50L428.03,143.51M427.30,142.50L426.11,142.11M427.30,142.50L426.57,143.51" stroke="#111" stroke-width="1.0" fill="none"/>
<polyline points="436.60,184.60 436.60,146.80 448.80,146.80 448.80,155.40" fill="none" stroke="#3a3a3a" stroke-width="1.0"/>
<path d="M442.70,142.50L442.70,141.25M442.70,142.50L443.89,142.11M442.70,142.50L443.43,143.51M442.70,142.50L441.51,142.11M442.70,142.50L441.97,143.51" stroke="#111" stroke-width="1.0" fill="none"/>
<polyline points="451.20,155.40 451.20,146.80 465.10,146.80 465.10,173.10" fill="none" stroke="#3a3a3a" stroke-width="1.0"/>
<path d="M458.15,142.50L458.15,141.25M458.15,142.50L459.34,142.11M458.15,142.50L458.88,143.51M458.15,142.50L456.96,142.11M458.15,142.50L457.42,143.51" stroke="#111" stroke-width="1.0" fill="none"/>
<polyline points="485.70,151.10 485.70,146.80 500.30,146.80 500.30,184.60" fill="none" stroke="#3a3a3a" stroke-width="1.0"/>
<path d="M493.00,142.50L493.00,141.25M493.00,142.50L494.19,142.11M493.00,142.50L493.73,143.51M493.00,142.50L491.81,142.11M493.00,142.50L492.27,143.51" stroke="#111" stroke-width="1.0" fill="none"/>
<text transform="translate(382.90,187.25) rotate(-90)" x="0" y="3.50" font-size="10" text-anchor="middle" fill="#231f20" stroke="#231f20" stroke-width="0.4" textLength="40.7" lengthAdjust="spacingAndGlyphs">pTBK1/TBK1</text>
<line x1="53.40" y1="310.80" x2="53.40" y2="388.90" stroke="#111" stroke-width="1.2"/>
<line x1="52.80" y1="388.30" x2="157.40" y2="388.30" stroke="#111" stroke-width="1.3"/>
<line x1="50.00" y1="388.30" x2="53.40" y2="388.30" stroke="#444" stroke-width="1.0"/>
<text x="47.20" y="391.40" font-size="8.6" text-anchor="end" fill="#231f20" font-weight="normal" textLength="4.3" lengthAdjust="spacingAndGlyphs" stroke="#231f20" stroke-width="0.2" >0</text>
<line x1="50.00" y1="363.50" x2="53.40" y2="363.50" stroke="#444" stroke-width="1.0"/>
<text x="47.20" y="366.60" font-size="8.6" text-anchor="end" fill="#231f20" font-weight="normal" textLength="10.76" lengthAdjust="spacingAndGlyphs" stroke="#231f20" stroke-width="0.2" >0.5</text>
<line x1="50.00" y1="338.50" x2="53.40" y2="338.50" stroke="#444" stroke-width="1.0"/>
<text x="47.20" y="341.60" font-size="8.6" text-anchor="end" fill="#231f20" font-weight="normal" textLength="10.76" lengthAdjust="spacingAndGlyphs" stroke="#231f20" stroke-width="0.2" >1.0</text>
<line x1="50.00" y1="313.50" x2="53.40" y2="313.50" stroke="#444" stroke-width="1.0"/>
<text x="47.20" y="316.60" font-size="8.6" text-anchor="end" fill="#231f20" font-weight="normal" textLength="10.76" lengthAdjust="spacingAndGlyphs" stroke="#231f20" stroke-width="0.2" >1.5</text>
<rect x="61.00" y="372.90" width="9.40" height="15.40" fill="#a8002c" />
<line x1="65.70" y1="372.90" x2="65.70" y2="367.30" stroke="#3a3a3a" stroke-width="1.0"/>
<line x1="63.60" y1="367.30" x2="67.80" y2="367.30" stroke="#3a3a3a" stroke-width="1.1"/>
<rect x="75.70" y="359.30" width="9.40" height="29.00" fill="#66a83f" />
<line x1="80.40" y1="359.30" x2="80.40" y2="349.70" stroke="#3a3a3a" stroke-width="1.0"/>
<line x1="78.30" y1="349.70" x2="82.50" y2="349.70" stroke="#3a3a3a" stroke-width="1.1"/>
<rect x="90.30" y="340.00" width="9.40" height="48.30" fill="#62a8e0" />
<line x1="95.00" y1="340.00" x2="95.00" y2="333.70" stroke="#3a3a3a" stroke-width="1.0"/>
<line x1="92.90" y1="333.70" x2="97.10" y2="333.70" stroke="#3a3a3a" stroke-width="1.1"/>
<rect x="104.80" y="359.60" width="9.40" height="28.70" fill="#cc0a7f" />
<line x1="109.50" y1="359.60" x2="109.50" y2="351.90" stroke="#3a3a3a" stroke-width="1.0"/>
<line x1="107.40" y1="351.90" x2="111.60" y2="351.90" stroke="#3a3a3a" stroke-width="1.1"/>
<rect x="126.20" y="340.80" width="9.40" height="47.50" fill="#4f2262" />
<line x1="130.90" y1="340.80" x2="130.90" y2="323.60" stroke="#3a3a3a" stroke-width="1.0"/>
<line x1="128.80" y1="323.60" x2="133.00" y2="323.60" stroke="#3a3a3a" stroke-width="1.1"/>
<rect x="140.80" y="362.80" width="9.40" height="25.50" fill="#2e6349" />
<line x1="145.50" y1="362.80" x2="145.50" y2="351.40" stroke="#3a3a3a" stroke-width="1.0"/>
<line x1="143.40" y1="351.40" x2="147.60" y2="351.40" stroke="#3a3a3a" stroke-width="1.1"/>
<polyline points="65.40,363.30 65.40,314.20 79.20,314.20 79.20,346.10" fill="none" stroke="#3a3a3a" stroke-width="1.0"/>
<path d="M72.30,309.70L72.30,308.45M72.30,309.70L73.49,309.31M72.30,309.70L73.03,310.71M72.30,309.70L71.11,309.31M72.30,309.70L71.57,310.71" stroke="#111" stroke-width="1.0" fill="none"/>
<polyline points="81.60,346.10 81.60,314.20 93.80,314.20 93.80,330.10" fill="none" stroke="#3a3a3a" stroke-width="1.0"/>
<path d="M87.70,309.70L87.70,308.45M87.70,309.70L88.89,309.31M87.70,309.70L88.43,310.71M87.70,309.70L86.51,309.31M87.70,309.70L86.97,310.71" stroke="#111" stroke-width="1.0" fill="none"/>
<polyline points="96.20,330.10 96.20,314.20 110.10,314.20 110.10,348.10" fill="none" stroke="#3a3a3a" stroke-width="1.0"/>
<path d="M103.15,309.70L103.15,308.45M103.15,309.70L104.34,309.31M103.15,309.70L103.88,310.71M103.15,309.70L101.96,309.31M103.15,309.70L102.42,310.71" stroke="#111" stroke-width="1.0" fill="none"/>
<polyline points="130.70,319.80 130.70,314.20 145.30,314.20 145.30,347.30" fill="none" stroke="#3a3a3a" stroke-width="1.0"/>
<path d="M138.00,309.70L138.00,308.45M138.00,309.70L139.19,309.31M138.00,309.70L138.73,310.71M138.00,309.70L136.81,309.31M138.00,309.70L137.27,310.71" stroke="#111" stroke-width="1.0" fill="none"/>
<text transform="translate(26.90,349.30) rotate(-90)" x="0" y="3.39" font-size="9.7" text-anchor="middle" fill="#231f20" stroke="#231f20" stroke-width="0.4" textLength="37.6" lengthAdjust="spacingAndGlyphs">pIRF3/IRF3</text>
<line x1="245.40" y1="310.60" x2="245.40" y2="388.90" stroke="#111" stroke-width="1.2"/>
<line x1="244.80" y1="388.30" x2="349.40" y2="388.30" stroke="#111" stroke-width="1.3"/>
<line x1="242.00" y1="388.30" x2="245.40" y2="388.30" stroke="#444" stroke-width="1.0"/>
<text x="239.20" y="391.40" font-size="8.6" text-anchor="end" fill="#231f20" font-weight="normal" textLength="4.45" lengthAdjust="spacingAndGlyphs" stroke="#231f20" stroke-width="0.2" >0</text>
<line x1="242.00" y1="369.50" x2="245.40" y2="369.50" stroke="#444" stroke-width="1.0"/>
<text x="239.20" y="372.60" font-size="8.6" text-anchor="end" fill="#231f20" font-weight="normal" textLength="8.9" lengthAdjust="spacingAndGlyphs" stroke="#231f20" stroke-width="0.2" >50</text>
<line x1="242.00" y1="350.80" x2="245.40" y2="350.80" stroke="#444" stroke-width="1.0"/>
<text x="239.20" y="353.90" font-size="8.6" text-anchor="end" fill="#231f20" font-weight="normal" textLength="13.34" lengthAdjust="spacingAndGlyphs" stroke="#231f20" stroke-width="0.2" >100</text>
<line x1="242.00" y1="332.10" x2="245.40" y2="332.10" stroke="#444" stroke-width="1.0"/>
<text x="239.20" y="335.20" font-size="8.6" text-anchor="end" fill="#231f20" font-weight="normal" textLength="13.34" lengthAdjust="spacingAndGlyphs" stroke="#231f20" stroke-width="0.2" >150</text>
<line x1="242.00" y1="313.00" x2="245.40" y2="313.00" stroke="#444" stroke-width="1.0"/>
<text x="239.20" y="316.10" font-size="8.6" text-anchor="end" fill="#231f20" font-weight="normal" textLength="13.34" lengthAdjust="spacingAndGlyphs" stroke="#231f20" stroke-width="0.2" >200</text>
<rect x="253.00" y="385.90" width="9.40" height="2.40" fill="#a8002c" />
<line x1="257.70" y1="385.90" x2="257.70" y2="384.00" stroke="#3a3a3a" stroke-width="1.0"/>
<line x1="255.60" y1="384.00" x2="259.80" y2="384.00" stroke="#3a3a3a" stroke-width="1.1"/>
<rect x="267.70" y="373.20" width="9.40" height="15.10" fill="#66a83f" />
<line x1="272.40" y1="373.20" x2="272.40" y2="366.30" stroke="#3a3a3a" stroke-width="1.0"/>
<line x1="270.30" y1="366.30" x2="274.50" y2="366.30" stroke="#3a3a3a" stroke-width="1.1"/>
<rect x="282.30" y="340.90" width="9.40" height="47.40" fill="#62a8e0" />
<line x1="287.00" y1="340.90" x2="287.00" y2="328.70" stroke="#3a3a3a" stroke-width="1.0"/>
<line x1="284.90" y1="328.70" x2="289.10" y2="328.70" stroke="#3a3a3a" stroke-width="1.1"/>
<rect x="296.80" y="376.00" width="9.40" height="12.30" fill="#cc0a7f" />
<line x1="301.50" y1="376.00" x2="301.50" y2="368.60" stroke="#3a3a3a" stroke-width="1.0"/>
<line x1="299.40" y1="368.60" x2="303.60" y2="368.60" stroke="#3a3a3a" stroke-width="1.1"/>
<rect x="318.20" y="337.10" width="9.40" height="51.20" fill="#4f2262" />
<line x1="322.90" y1="337.10" x2="322.90" y2="315.20" stroke="#3a3a3a" stroke-width="1.0"/>
<line x1="320.80" y1="315.20" x2="325.00" y2="315.20" stroke="#3a3a3a" stroke-width="1.1"/>
<rect x="332.80" y="376.00" width="9.40" height="12.30" fill="#2e6349" />
<line x1="337.50" y1="376.00" x2="337.50" y2="368.90" stroke="#3a3a3a" stroke-width="1.0"/>
<line x1="335.40" y1="368.90" x2="339.60" y2="368.90" stroke="#3a3a3a" stroke-width="1.1"/>
<polyline points="257.40,381.50 257.40,307.70 271.20,307.70 271.20,363.40" fill="none" stroke="#3a3a3a" stroke-width="1.0"/>
<path d="M264.30,303.00L264.30,301.75M264.30,303.00L265.49,302.61M264.30,303.00L265.03,304.01M264.30,303.00L263.11,302.61M264.30,303.00L263.57,304.01" stroke="#111" stroke-width="1.0" fill="none"/>
<polyline points="273.60,363.40 273.60,307.70 285.80,307.70 285.80,325.80" fill="none" stroke="#3a3a3a" stroke-width="1.0"/>
<path d="M279.70,303.00L279.70,301.75M279.70,303.00L280.89,302.61M279.70,303.00L280.43,304.01M279.70,303.00L278.51,302.61M279.70,303.00L278.97,304.01" stroke="#111" stroke-width="1.0" fill="none"/>
<polyline points="288.20,325.80 288.20,307.70 302.10,307.70 302.10,365.80" fill="none" stroke="#3a3a3a" stroke-width="1.0"/>
<path d="M295.15,303.00L295.15,301.75M295.15,303.00L296.34,302.61M295.15,303.00L295.88,304.01M295.15,303.00L293.96,302.61M295.15,303.00L294.42,304.01" stroke="#111" stroke-width="1.0" fill="none"/>
<polyline points="322.70,311.80 322.70,307.70 337.30,307.70 337.30,366.00" fill="none" stroke="#3a3a3a" stroke-width="1.0"/>
<path d="M330.00,303.00L330.00,301.75M330.00,303.00L331.19,302.61M330.00,303.00L330.73,304.01M330.00,303.00L328.81,302.61M330.00,303.00L329.27,304.01" stroke="#111" stroke-width="1.0" fill="none"/>
<text transform="translate(216.20,349.25) rotate(-90)" x="0" y="3.67" font-size="10.5" text-anchor="middle" fill="#231f20" stroke="#231f20" stroke-width="0.12" textLength="46.3" lengthAdjust="spacingAndGlyphs">IFN-β (pg/ml)</text>
<line x1="408.20" y1="310.60" x2="408.20" y2="388.90" stroke="#111" stroke-width="1.2"/>
<line x1="407.60" y1="388.30" x2="512.20" y2="388.30" stroke="#111" stroke-width="1.3"/>
<line x1="404.80" y1="388.30" x2="408.20" y2="388.30" stroke="#444" stroke-width="1.0"/>
<text x="402.00" y="391.40" font-size="8.6" text-anchor="end" fill="#231f20" font-weight="normal" textLength="4.45" lengthAdjust="spacingAndGlyphs" stroke="#231f20" stroke-width="0.2" >0</text>
<line x1="404.80" y1="369.80" x2="408.20" y2="369.80" stroke="#444" stroke-width="1.0"/>
<text x="402.00" y="372.90" font-size="8.6" text-anchor="end" fill="#231f20" font-weight="normal" textLength="8.9" lengthAdjust="spacingAndGlyphs" stroke="#231f20" stroke-width="0.2" >40</text>
<line x1="404.80" y1="351.10" x2="408.20" y2="351.10" stroke="#444" stroke-width="1.0"/>
<text x="402.00" y="354.20" font-size="8.6" text-anchor="end" fill="#231f20" font-weight="normal" textLength="8.9" lengthAdjust="spacingAndGlyphs" stroke="#231f20" stroke-width="0.2" >80</text>
<line x1="404.80" y1="332.10" x2="408.20" y2="332.10" stroke="#444" stroke-width="1.0"/>
<text x="402.00" y="335.20" font-size="8.6" text-anchor="end" fill="#231f20" font-weight="normal" textLength="13.34" lengthAdjust="spacingAndGlyphs" stroke="#231f20" stroke-width="0.2" >120</text>
<line x1="404.80" y1="313.00" x2="408.20" y2="313.00" stroke="#444" stroke-width="1.0"/>
<text x="402.00" y="316.10" font-size="8.6" text-anchor="end" fill="#231f20" font-weight="normal" textLength="13.34" lengthAdjust="spacingAndGlyphs" stroke="#231f20" stroke-width="0.2" >160</text>
<rect x="415.80" y="387.10" width="9.40" height="1.20" fill="#a8002c" />
<line x1="420.50" y1="387.10" x2="420.50" y2="385.50" stroke="#3a3a3a" stroke-width="1.0"/>
<line x1="418.40" y1="385.50" x2="422.60" y2="385.50" stroke="#3a3a3a" stroke-width="1.1"/>
<rect x="430.50" y="369.00" width="9.40" height="19.30" fill="#66a83f" />
<line x1="435.20" y1="369.00" x2="435.20" y2="362.20" stroke="#3a3a3a" stroke-width="1.0"/>
<line x1="433.10" y1="362.20" x2="437.30" y2="362.20" stroke="#3a3a3a" stroke-width="1.1"/>
<rect x="445.10" y="340.70" width="9.40" height="47.60" fill="#62a8e0" />
<line x1="449.80" y1="340.70" x2="449.80" y2="330.30" stroke="#3a3a3a" stroke-width="1.0"/>
<line x1="447.70" y1="330.30" x2="451.90" y2="330.30" stroke="#3a3a3a" stroke-width="1.1"/>
<rect x="459.60" y="377.20" width="9.40" height="11.10" fill="#cc0a7f" />
<line x1="464.30" y1="377.20" x2="464.30" y2="371.70" stroke="#3a3a3a" stroke-width="1.0"/>
<line x1="462.20" y1="371.70" x2="466.40" y2="371.70" stroke="#3a3a3a" stroke-width="1.1"/>
<rect x="481.00" y="332.50" width="9.40" height="55.80" fill="#4f2262" />
<line x1="485.70" y1="332.50" x2="485.70" y2="316.90" stroke="#3a3a3a" stroke-width="1.0"/>
<line x1="483.60" y1="316.90" x2="487.80" y2="316.90" stroke="#3a3a3a" stroke-width="1.1"/>
<rect x="495.60" y="382.10" width="9.40" height="6.20" fill="#2e6349" />
<line x1="500.30" y1="382.10" x2="500.30" y2="380.00" stroke="#3a3a3a" stroke-width="1.0"/>
<line x1="498.20" y1="380.00" x2="502.40" y2="380.00" stroke="#3a3a3a" stroke-width="1.1"/>
<polyline points="420.20,383.50 420.20,308.90 434.00,308.90 434.00,358.00" fill="none" stroke="#3a3a3a" stroke-width="1.0"/>
<path d="M427.10,304.30L427.10,303.05M427.10,304.30L428.29,303.91M427.10,304.30L427.83,305.31M427.10,304.30L425.91,303.91M427.10,304.30L426.37,305.31" stroke="#111" stroke-width="1.0" fill="none"/>
<polyline points="436.40,358.00 436.40,308.90 448.60,308.90 448.60,327.00" fill="none" stroke="#3a3a3a" stroke-width="1.0"/>
<path d="M442.50,304.30L442.50,303.05M442.50,304.30L443.69,303.91M442.50,304.30L443.23,305.31M442.50,304.30L441.31,303.91M442.50,304.30L441.77,305.31" stroke="#111" stroke-width="1.0" fill="none"/>
<polyline points="451.00,327.00 451.00,308.90 464.90,308.90 464.90,368.10" fill="none" stroke="#3a3a3a" stroke-width="1.0"/>
<path d="M457.95,304.30L457.95,303.05M457.95,304.30L459.14,303.91M457.95,304.30L458.68,305.31M457.95,304.30L456.76,303.91M457.95,304.30L457.22,305.31" stroke="#111" stroke-width="1.0" fill="none"/>
<polyline points="485.50,313.30 485.50,308.90 500.10,308.90 500.10,377.40" fill="none" stroke="#3a3a3a" stroke-width="1.0"/>
<path d="M492.80,304.30L492.80,303.05M492.80,304.30L493.99,303.91M492.80,304.30L493.53,305.31M492.80,304.30L491.61,303.91M492.80,304.30L492.07,305.31" stroke="#111" stroke-width="1.0" fill="none"/>
<text transform="translate(379.80,349.25) rotate(-90)" x="0" y="3.57" font-size="10.2" text-anchor="middle" fill="#231f20" stroke="#231f20" stroke-width="0.12" textLength="69.7" lengthAdjust="spacingAndGlyphs">IL-6 (pg/mg protein)</text>
<rect x="401.30" y="17.80" width="9.50" height="3.60" fill="#a8002c" />
<text x="414.00" y="22.10" font-size="8.2" text-anchor="start" fill="#231f20" font-weight="normal" textLength="19.1" lengthAdjust="spacingAndGlyphs" stroke="#231f20" stroke-width="0.2" >Sham</text>
<rect x="401.30" y="31.35" width="9.50" height="3.60" fill="#66a83f" />
<text x="414.00" y="35.65" font-size="8.2" text-anchor="start" fill="#231f20" font-weight="normal" textLength="24.0" lengthAdjust="spacingAndGlyphs" stroke="#231f20" stroke-width="0.2" >Vehicle</text>
<rect x="401.30" y="44.90" width="9.50" height="3.60" fill="#62a8e0" />
<text x="414.00" y="49.20" font-size="8.2" text-anchor="start" fill="#231f20" font-weight="normal" textLength="11.9" lengthAdjust="spacingAndGlyphs" stroke="#231f20" stroke-width="0.2" >tPA</text>
<rect x="401.30" y="58.45" width="9.50" height="3.60" fill="#cc0a7f" />
<text x="414.00" y="62.75" font-size="8.2" text-anchor="start" fill="#231f20" font-weight="normal" textLength="47.8" lengthAdjust="spacingAndGlyphs" stroke="#231f20" stroke-width="0.2" >tPA+ DNase 1</text>
<rect x="401.30" y="72.00" width="9.50" height="3.60" fill="#4f2262" />
<text x="414.00" y="76.30" font-size="8.2" text-anchor="start" fill="#231f20" font-weight="normal" stroke="#231f20" stroke-width="0.2" >WT + tPA</text>
<rect x="401.30" y="85.55" width="9.50" height="3.60" fill="#2e6349" />
<text x="414.00" y="89.85" font-size="8.2" text-anchor="start" fill="#231f20" font-weight="normal" stroke="#231f20" stroke-width="0.2" ><tspan font-style="italic">Pad4</tspan><tspan font-size="5.2" dy="-3">-/-</tspan><tspan dy="3"> + tPA</tspan></text>
<rect x="401.30" y="99.10" width="9.50" height="3.60" fill="#8f82c4" />
<text x="414.00" y="103.40" font-size="8.2" text-anchor="start" fill="#231f20" font-weight="normal" textLength="87.2" lengthAdjust="spacingAndGlyphs" stroke="#231f20" stroke-width="0.2" >tPA + DNase 1 + cGAMP</text>
<line x1="53.30" y1="546.00" x2="53.30" y2="623.90" stroke="#111" stroke-width="1.2"/>
<line x1="52.70" y1="623.30" x2="112.00" y2="623.30" stroke="#111" stroke-width="1.3"/>
<line x1="49.90" y1="623.30" x2="53.30" y2="623.30" stroke="#444" stroke-width="1.0"/>
<text x="47.10" y="626.40" font-size="8.3" text-anchor="end" fill="#231f20" font-weight="normal" textLength="4.48" lengthAdjust="spacingAndGlyphs" stroke="#231f20" stroke-width="0.2" >0</text>
<line x1="49.90" y1="608.10" x2="53.30" y2="608.10" stroke="#444" stroke-width="1.0"/>
<text x="47.10" y="611.20" font-size="8.3" text-anchor="end" fill="#231f20" font-weight="normal" textLength="13.43" lengthAdjust="spacingAndGlyphs" stroke="#231f20" stroke-width="0.2" >100</text>
<line x1="49.90" y1="593.10" x2="53.30" y2="593.10" stroke="#444" stroke-width="1.0"/>
<text x="47.10" y="596.20" font-size="8.3" text-anchor="end" fill="#231f20" font-weight="normal" textLength="13.43" lengthAdjust="spacingAndGlyphs" stroke="#231f20" stroke-width="0.2" >200</text>
<line x1="49.90" y1="578.10" x2="53.30" y2="578.10" stroke="#444" stroke-width="1.0"/>
<text x="47.10" y="581.20" font-size="8.3" text-anchor="end" fill="#231f20" font-weight="normal" textLength="13.43" lengthAdjust="spacingAndGlyphs" stroke="#231f20" stroke-width="0.2" >300</text>
<line x1="49.90" y1="563.20" x2="53.30" y2="563.20" stroke="#444" stroke-width="1.0"/>
<text x="47.10" y="566.30" font-size="8.3" text-anchor="end" fill="#231f20" font-weight="normal" textLength="13.43" lengthAdjust="spacingAndGlyphs" stroke="#231f20" stroke-width="0.2" >400</text>
<line x1="49.90" y1="548.10" x2="53.30" y2="548.10" stroke="#444" stroke-width="1.0"/>
<text x="47.10" y="551.20" font-size="8.3" text-anchor="end" fill="#231f20" font-weight="normal" textLength="13.43" lengthAdjust="spacingAndGlyphs" stroke="#231f20" stroke-width="0.2" >500</text>
<rect x="57.20" y="595.90" width="6.70" height="27.40" fill="#66a83f" />
<line x1="60.55" y1="595.90" x2="60.55" y2="591.60" stroke="#3a3a3a" stroke-width="1.0"/>
<line x1="58.55" y1="591.60" x2="62.55" y2="591.60" stroke="#3a3a3a" stroke-width="1.1"/>
<rect x="68.00" y="557.00" width="6.70" height="66.30" fill="#62a8e0" />
<line x1="71.35" y1="557.00" x2="71.35" y2="550.50" stroke="#3a3a3a" stroke-width="1.0"/>
<line x1="69.35" y1="550.50" x2="73.35" y2="550.50" stroke="#3a3a3a" stroke-width="1.1"/>
<rect x="78.90" y="577.40" width="6.70" height="45.90" fill="#2e6349" />
<line x1="82.25" y1="577.40" x2="82.25" y2="569.50" stroke="#3a3a3a" stroke-width="1.0"/>
<line x1="80.25" y1="569.50" x2="84.25" y2="569.50" stroke="#3a3a3a" stroke-width="1.1"/>
<rect x="89.70" y="580.20" width="6.70" height="43.10" fill="#cc0a7f" />
<line x1="93.05" y1="580.20" x2="93.05" y2="575.90" stroke="#3a3a3a" stroke-width="1.0"/>
<line x1="91.05" y1="575.90" x2="95.05" y2="575.90" stroke="#3a3a3a" stroke-width="1.1"/>
<rect x="100.30" y="569.80" width="6.70" height="53.50" fill="#8f82c4" />
<line x1="103.65" y1="569.80" x2="103.65" y2="566.60" stroke="#3a3a3a" stroke-width="1.0"/>
<line x1="101.65" y1="566.60" x2="105.65" y2="566.60" stroke="#3a3a3a" stroke-width="1.1"/>
<polyline points="60.40,588.60 60.40,542.60 70.40,542.60 70.40,547.50" fill="none" stroke="#3a3a3a" stroke-width="1.0"/>
<path d="M65.30,537.80L65.30,536.55M65.30,537.80L66.49,537.41M65.30,537.80L66.03,538.81M65.30,537.80L64.11,537.41M65.30,537.80L64.57,538.81" stroke="#111" stroke-width="1.0" fill="none"/>
<polyline points="72.30,547.50 72.30,542.60 82.10,542.60 82.10,566.40" fill="none" stroke="#3a3a3a" stroke-width="1.0"/>
<path d="M77.30,537.80L77.30,536.55M77.30,537.80L78.49,537.41M77.30,537.80L78.03,538.81M77.30,537.80L76.11,537.41M77.30,537.80L76.57,538.81" stroke="#111" stroke-width="1.0" fill="none"/>
<polyline points="72.30,539.60 72.30,534.20 91.60,534.20 91.60,571.90" fill="none" stroke="#3a3a3a" stroke-width="1.0"/>
<path d="M82.10,529.80L82.10,528.55M82.10,529.80L83.29,529.41M82.10,529.80L82.83,530.81M82.10,529.80L80.91,529.41M82.10,529.80L81.37,530.81" stroke="#111" stroke-width="1.0" fill="none"/>
<polyline points="94.40,571.90 94.40,542.60 104.30,542.60 104.30,564.40" fill="none" stroke="#3a3a3a" stroke-width="1.0"/>
<path d="M99.20,537.80L99.20,536.55M99.20,537.80L100.39,537.41M99.20,537.80L99.93,538.81M99.20,537.80L98.01,537.41M99.20,537.80L98.47,538.81" stroke="#111" stroke-width="1.0" fill="none"/>
<text transform="translate(24.75,583.90) rotate(-90)" x="0" y="3.39" font-size="9.7" text-anchor="middle" fill="#231f20" stroke="#231f20" stroke-width="0.15" textLength="72.2" lengthAdjust="spacingAndGlyphs">Microglial cells/mm<tspan font-size="6" dy="-3.5">2</tspan></text>
<line x1="168.50" y1="545.80" x2="168.50" y2="623.80" stroke="#111" stroke-width="1.2"/>
<line x1="167.90" y1="623.20" x2="226.60" y2="623.20" stroke="#111" stroke-width="1.3"/>
<line x1="165.10" y1="623.20" x2="168.50" y2="623.20" stroke="#444" stroke-width="1.0"/>
<text x="162.30" y="626.30" font-size="8.3" text-anchor="end" fill="#231f20" font-weight="normal" textLength="4.48" lengthAdjust="spacingAndGlyphs" stroke="#231f20" stroke-width="0.2" >0</text>
<line x1="165.10" y1="608.10" x2="168.50" y2="608.10" stroke="#444" stroke-width="1.0"/>
<text x="162.30" y="611.20" font-size="8.3" text-anchor="end" fill="#231f20" font-weight="normal" textLength="13.43" lengthAdjust="spacingAndGlyphs" stroke="#231f20" stroke-width="0.2" >100</text>
<line x1="165.10" y1="593.10" x2="168.50" y2="593.10" stroke="#444" stroke-width="1.0"/>
<text x="162.30" y="596.20" font-size="8.3" text-anchor="end" fill="#231f20" font-weight="normal" textLength="13.43" lengthAdjust="spacingAndGlyphs" stroke="#231f20" stroke-width="0.2" >200</text>
<line x1="165.10" y1="578.10" x2="168.50" y2="578.10" stroke="#444" stroke-width="1.0"/>
<text x="162.30" y="581.20" font-size="8.3" text-anchor="end" fill="#231f20" font-weight="normal" textLength="13.43" lengthAdjust="spacingAndGlyphs" stroke="#231f20" stroke-width="0.2" >300</text>
<line x1="165.10" y1="563.10" x2="168.50" y2="563.10" stroke="#444" stroke-width="1.0"/>
<text x="162.30" y="566.20" font-size="8.3" text-anchor="end" fill="#231f20" font-weight="normal" textLength="13.43" lengthAdjust="spacingAndGlyphs" stroke="#231f20" stroke-width="0.2" >400</text>
<line x1="165.10" y1="547.60" x2="168.50" y2="547.60" stroke="#444" stroke-width="1.0"/>
<text x="162.30" y="550.70" font-size="8.3" text-anchor="end" fill="#231f20" font-weight="normal" textLength="13.43" lengthAdjust="spacingAndGlyphs" stroke="#231f20" stroke-width="0.2" >500</text>
<rect x="172.40" y="598.90" width="6.40" height="24.30" fill="#66a83f" />
<line x1="175.60" y1="598.90" x2="175.60" y2="595.90" stroke="#3a3a3a" stroke-width="1.0"/>
<line x1="173.60" y1="595.90" x2="177.60" y2="595.90" stroke="#3a3a3a" stroke-width="1.1"/>
<rect x="183.00" y="573.50" width="6.40" height="49.70" fill="#62a8e0" />
<line x1="186.20" y1="573.50" x2="186.20" y2="566.00" stroke="#3a3a3a" stroke-width="1.0"/>
<line x1="184.20" y1="566.00" x2="188.20" y2="566.00" stroke="#3a3a3a" stroke-width="1.1"/>
<rect x="193.80" y="581.50" width="6.40" height="41.70" fill="#2e6349" />
<line x1="197.00" y1="581.50" x2="197.00" y2="572.30" stroke="#3a3a3a" stroke-width="1.0"/>
<line x1="195.00" y1="572.30" x2="199.00" y2="572.30" stroke="#3a3a3a" stroke-width="1.1"/>
<rect x="204.50" y="578.50" width="6.40" height="44.70" fill="#cc0a7f" />
<line x1="207.70" y1="578.50" x2="207.70" y2="573.90" stroke="#3a3a3a" stroke-width="1.0"/>
<line x1="205.70" y1="573.90" x2="209.70" y2="573.90" stroke="#3a3a3a" stroke-width="1.1"/>
<rect x="215.30" y="576.90" width="6.40" height="46.30" fill="#8f82c4" />
<line x1="218.50" y1="576.90" x2="218.50" y2="565.40" stroke="#3a3a3a" stroke-width="1.0"/>
<line x1="216.50" y1="565.40" x2="220.50" y2="565.40" stroke="#3a3a3a" stroke-width="1.1"/>
<polyline points="174.7,594.2 174.7,538.4 202.4,538.4 202.4,546.9" fill="none" stroke="#3a3a3a" stroke-width="1"/>
<line x1="186.20" y1="546.90" x2="218.80" y2="546.90" stroke="#3a3a3a" stroke-width="1.0"/>
<line x1="186.20" y1="561.20" x2="218.80" y2="561.20" stroke="#3a3a3a" stroke-width="1.0"/>
<path d="M188.50,534.00L188.50,532.75M188.50,534.00L189.69,533.61M188.50,534.00L189.23,535.01M188.50,534.00L187.31,533.61M188.50,534.00L187.77,535.01" stroke="#111" stroke-width="1.0" fill="none"/>
<text x="202.40" y="558.00" font-size="8.2" text-anchor="middle" fill="#231f20" font-weight="normal" stroke="#231f20" stroke-width="0.2" >NS</text>
<text transform="translate(139.40,583.90) rotate(-90)" x="0" y="3.39" font-size="9.7" text-anchor="middle" fill="#231f20" stroke="#231f20" stroke-width="0.15" textLength="66.5" lengthAdjust="spacingAndGlyphs">Macrophages/mm<tspan font-size="6" dy="-3.5">2</tspan></text>
<line x1="282.90" y1="546.00" x2="282.90" y2="623.80" stroke="#111" stroke-width="1.2"/>
<line x1="282.30" y1="623.20" x2="321.10" y2="623.20" stroke="#111" stroke-width="1.3"/>
<line x1="279.50" y1="623.20" x2="282.90" y2="623.20" stroke="#444" stroke-width="1.0"/>
<text x="276.70" y="626.30" font-size="8.3" text-anchor="end" fill="#231f20" font-weight="normal" textLength="4.48" lengthAdjust="spacingAndGlyphs" stroke="#231f20" stroke-width="0.2" >0</text>
<line x1="279.50" y1="604.50" x2="282.90" y2="604.50" stroke="#444" stroke-width="1.0"/>
<text x="276.70" y="607.60" font-size="8.3" text-anchor="end" fill="#231f20" font-weight="normal" textLength="8.95" lengthAdjust="spacingAndGlyphs" stroke="#231f20" stroke-width="0.2" >20</text>
<line x1="279.50" y1="585.80" x2="282.90" y2="585.80" stroke="#444" stroke-width="1.0"/>
<text x="276.70" y="588.90" font-size="8.3" text-anchor="end" fill="#231f20" font-weight="normal" textLength="8.95" lengthAdjust="spacingAndGlyphs" stroke="#231f20" stroke-width="0.2" >40</text>
<line x1="279.50" y1="567.10" x2="282.90" y2="567.10" stroke="#444" stroke-width="1.0"/>
<text x="276.70" y="570.20" font-size="8.3" text-anchor="end" fill="#231f20" font-weight="normal" textLength="8.95" lengthAdjust="spacingAndGlyphs" stroke="#231f20" stroke-width="0.2" >60</text>
<line x1="279.50" y1="548.00" x2="282.90" y2="548.00" stroke="#444" stroke-width="1.0"/>
<text x="276.70" y="551.10" font-size="8.3" text-anchor="end" fill="#231f20" font-weight="normal" textLength="8.95" lengthAdjust="spacingAndGlyphs" stroke="#231f20" stroke-width="0.2" >80</text>
<rect x="288.20" y="563.10" width="11.20" height="60.10" fill="#4f2262" />
<line x1="293.80" y1="563.10" x2="293.80" y2="556.70" stroke="#3a3a3a" stroke-width="1.0"/>
<line x1="291.40" y1="556.70" x2="296.20" y2="556.70" stroke="#3a3a3a" stroke-width="1.1"/>
<rect x="305.60" y="586.40" width="11.20" height="36.80" fill="#2e6349" />
<line x1="311.20" y1="586.40" x2="311.20" y2="583.20" stroke="#3a3a3a" stroke-width="1.0"/>
<line x1="308.80" y1="583.20" x2="313.60" y2="583.20" stroke="#3a3a3a" stroke-width="1.1"/>
<polyline points="293.10,552.30 293.10,549.00 311.30,549.00 311.30,581.90" fill="none" stroke="#3a3a3a" stroke-width="1.0"/>
<path d="M302.60,544.60L302.60,543.35M302.60,544.60L303.79,544.21M302.60,544.60L303.33,545.61M302.60,544.60L301.41,544.21M302.60,544.60L301.87,545.61" stroke="#111" stroke-width="1.0" fill="none"/>
<text transform="translate(259.60,584.30) rotate(-90)" x="0" y="3.60" font-size="10.3" text-anchor="middle" fill="#231f20" stroke="#231f20" stroke-width="0.12" textLength="82.2" lengthAdjust="spacingAndGlyphs">pIRF3<tspan font-size="8">+</tspan>Iba1<tspan font-size="6.2" dy="-3.2">+</tspan><tspan dy="3.2"> cells/mm</tspan><tspan font-size="6.2" dy="-3.2">2</tspan></text>
<line x1="381.20" y1="546.00" x2="381.20" y2="623.80" stroke="#111" stroke-width="1.2"/>
<line x1="380.60" y1="623.20" x2="418.60" y2="623.20" stroke="#111" stroke-width="1.3"/>
<line x1="377.80" y1="623.20" x2="381.20" y2="623.20" stroke="#444" stroke-width="1.0"/>
<text x="375.00" y="626.30" font-size="8.3" text-anchor="end" fill="#231f20" font-weight="normal" textLength="4.48" lengthAdjust="spacingAndGlyphs" stroke="#231f20" stroke-width="0.2" >0</text>
<line x1="377.80" y1="604.10" x2="381.20" y2="604.10" stroke="#444" stroke-width="1.0"/>
<text x="375.00" y="607.20" font-size="8.3" text-anchor="end" fill="#231f20" font-weight="normal" textLength="8.95" lengthAdjust="spacingAndGlyphs" stroke="#231f20" stroke-width="0.2" >25</text>
<line x1="377.80" y1="585.40" x2="381.20" y2="585.40" stroke="#444" stroke-width="1.0"/>
<text x="375.00" y="588.50" font-size="8.3" text-anchor="end" fill="#231f20" font-weight="normal" textLength="8.95" lengthAdjust="spacingAndGlyphs" stroke="#231f20" stroke-width="0.2" >50</text>
<line x1="377.80" y1="567.10" x2="381.20" y2="567.10" stroke="#444" stroke-width="1.0"/>
<text x="375.00" y="570.20" font-size="8.3" text-anchor="end" fill="#231f20" font-weight="normal" textLength="8.95" lengthAdjust="spacingAndGlyphs" stroke="#231f20" stroke-width="0.2" >75</text>
<line x1="377.80" y1="548.00" x2="381.20" y2="548.00" stroke="#444" stroke-width="1.0"/>
<text x="375.00" y="551.10" font-size="8.3" text-anchor="end" fill="#231f20" font-weight="normal" textLength="13.43" lengthAdjust="spacingAndGlyphs" stroke="#231f20" stroke-width="0.2" >100</text>
<rect x="386.10" y="570.60" width="11.00" height="52.60" fill="#4f2262" />
<line x1="391.60" y1="570.60" x2="391.60" y2="558.80" stroke="#3a3a3a" stroke-width="1.0"/>
<line x1="389.20" y1="558.80" x2="394.00" y2="558.80" stroke="#3a3a3a" stroke-width="1.1"/>
<rect x="403.20" y="596.60" width="11.00" height="26.60" fill="#2e6349" />
<line x1="408.70" y1="596.60" x2="408.70" y2="591.70" stroke="#3a3a3a" stroke-width="1.0"/>
<line x1="406.30" y1="591.70" x2="411.10" y2="591.70" stroke="#3a3a3a" stroke-width="1.1"/>
<polyline points="391.40,554.30 391.40,549.40 409.10,549.40 409.10,587.80" fill="none" stroke="#3a3a3a" stroke-width="1.0"/>
<path d="M399.90,545.00L399.90,543.75M399.90,545.00L401.09,544.61M399.90,545.00L400.63,546.01M399.90,545.00L398.71,544.61M399.90,545.00L399.17,546.01" stroke="#111" stroke-width="1.0" fill="none"/>
<text transform="translate(352.60,584.30) rotate(-90)" x="0" y="3.60" font-size="10.3" text-anchor="middle" fill="#231f20" stroke="#231f20" stroke-width="0.12" textLength="82.2" lengthAdjust="spacingAndGlyphs">IFN-β<tspan font-size="6.2" dy="-3.2">+</tspan><tspan dy="3.2">Iba1</tspan><tspan font-size="6.2" dy="-3.2">+</tspan><tspan dy="3.2"> cells/mm</tspan><tspan font-size="6.2" dy="-3.2">2</tspan></text>
<line x1="473.50" y1="546.00" x2="473.50" y2="623.80" stroke="#111" stroke-width="1.2"/>
<line x1="472.90" y1="623.20" x2="512.10" y2="623.20" stroke="#111" stroke-width="1.3"/>
<line x1="470.10" y1="623.20" x2="473.50" y2="623.20" stroke="#444" stroke-width="1.0"/>
<text x="467.30" y="626.30" font-size="8.3" text-anchor="end" fill="#231f20" font-weight="normal" textLength="4.48" lengthAdjust="spacingAndGlyphs" stroke="#231f20" stroke-width="0.2" >0</text>
<line x1="470.10" y1="604.50" x2="473.50" y2="604.50" stroke="#444" stroke-width="1.0"/>
<text x="467.30" y="607.60" font-size="8.3" text-anchor="end" fill="#231f20" font-weight="normal" textLength="8.95" lengthAdjust="spacingAndGlyphs" stroke="#231f20" stroke-width="0.2" >20</text>
<line x1="470.10" y1="585.80" x2="473.50" y2="585.80" stroke="#444" stroke-width="1.0"/>
<text x="467.30" y="588.90" font-size="8.3" text-anchor="end" fill="#231f20" font-weight="normal" textLength="8.95" lengthAdjust="spacingAndGlyphs" stroke="#231f20" stroke-width="0.2" >40</text>
<line x1="470.10" y1="567.10" x2="473.50" y2="567.10" stroke="#444" stroke-width="1.0"/>
<text x="467.30" y="570.20" font-size="8.3" text-anchor="end" fill="#231f20" font-weight="normal" textLength="8.95" lengthAdjust="spacingAndGlyphs" stroke="#231f20" stroke-width="0.2" >60</text>
<line x1="470.10" y1="548.00" x2="473.50" y2="548.00" stroke="#444" stroke-width="1.0"/>
<text x="467.30" y="551.10" font-size="8.3" text-anchor="end" fill="#231f20" font-weight="normal" textLength="8.95" lengthAdjust="spacingAndGlyphs" stroke="#231f20" stroke-width="0.2" >80</text>
<rect x="479.10" y="573.40" width="11.00" height="49.80" fill="#4f2262" />
<line x1="484.60" y1="573.40" x2="484.60" y2="566.10" stroke="#3a3a3a" stroke-width="1.0"/>
<line x1="482.20" y1="566.10" x2="487.00" y2="566.10" stroke="#3a3a3a" stroke-width="1.1"/>
<rect x="496.20" y="596.60" width="11.00" height="26.60" fill="#2e6349" />
<line x1="501.70" y1="596.60" x2="501.70" y2="592.30" stroke="#3a3a3a" stroke-width="1.0"/>
<line x1="499.30" y1="592.30" x2="504.10" y2="592.30" stroke="#3a3a3a" stroke-width="1.1"/>
<polyline points="484.00,563.00 484.00,552.90 501.70,552.90 501.70,588.70" fill="none" stroke="#3a3a3a" stroke-width="1.0"/>
<path d="M493.20,548.50L493.20,547.25M493.20,548.50L494.39,548.11M493.20,548.50L493.93,549.51M493.20,548.50L492.01,548.11M493.20,548.50L492.47,549.51" stroke="#111" stroke-width="1.0" fill="none"/>
<text transform="translate(450.30,584.30) rotate(-90)" x="0" y="3.60" font-size="10.3" text-anchor="middle" fill="#231f20" stroke="#231f20" stroke-width="0.12" textLength="74.7" lengthAdjust="spacingAndGlyphs">IL-6<tspan font-size="6.2" dy="-3.2">+</tspan><tspan dy="3.2">Iba1</tspan><tspan font-size="6.2" dy="-3.2">+</tspan><tspan dy="3.2"> cells/mm</tspan><tspan font-size="6.2" dy="-3.2">2</tspan></text>
<svg x="33.80" y="431.70" width="71.70" height="71.70" viewBox="0 0 71.70 71.70" overflow="hidden">
<rect width="71.70" height="71.70" fill="#050605"/>
<filter id="nz11" x="0" y="0" width="100%" height="100%" filterUnits="userSpaceOnUse" color-interpolation-filters="sRGB"><feTurbulence type="fractalNoise" baseFrequency="0.55" numOctaves="2" seed="11"/><feColorMatrix type="matrix" values="0.45 0 0 0 -0.2 0 0.35 0 0 -0.16 0 0 0.45 0 -0.2 0 0 0 0 1"/></filter>
<rect width="71.70" height="71.70" filter="url(#nz11)"/>
<g filter="url(#bh)">
<circle cx="21.5" cy="43.0" r="12.0" fill="#402050" opacity="0.5"/>
<circle cx="50.2" cy="21.5" r="12.0" fill="#402040" opacity="0.4"/>
<circle cx="14.3" cy="7.2" r="10.0" fill="#302060" opacity="0.4"/>
<circle cx="57.4" cy="57.4" r="10.0" fill="#402040" opacity="0.4"/>
</g>
<filter id="tx11" x="0" y="0" width="100%" height="100%" filterUnits="userSpaceOnUse" color-interpolation-filters="sRGB"><feGaussianBlur in="SourceGraphic" stdDeviation="0.5" result="b"/><feTurbulence type="fractalNoise" baseFrequency="0.7" numOctaves="2" seed="61" result="n"/><feColorMatrix in="n" type="matrix" values="0 0 0 0 1 0 0 0 0 1 0 0 0 0 1 2.0 0 0 0 0.05" result="na"/><feComposite in="b" in2="na" operator="in"/></filter>
<g filter="url(#tx11)">
<circle cx="32.4" cy="40.1" r="0.6" fill="#c08020" opacity="0.86"/>
<circle cx="13.6" cy="57.6" r="0.7" fill="#c08020" opacity="0.83"/>
<circle cx="6.7" cy="21.8" r="0.7" fill="#2a2ad0" opacity="0.88"/>
<circle cx="45.5" cy="42.7" r="0.8" fill="#c08020" opacity="0.74"/>
<circle cx="44.1" cy="11.3" r="0.9" fill="#2a2ad0" opacity="0.39"/>
<circle cx="2.6" cy="63.1" r="0.4" fill="#602060" opacity="0.63"/>
<circle cx="31.6" cy="60.4" r="0.6" fill="#602060" opacity="0.53"/>
<circle cx="0.3" cy="6.1" r="0.6" fill="#35b828" opacity="0.68"/>
<circle cx="66.8" cy="6.0" r="0.6" fill="#35b828" opacity="0.49"/>
<circle cx="20.7" cy="5.0" r="0.6" fill="#2a2ad0" opacity="0.86"/>
<circle cx="27.7" cy="68.7" r="0.5" fill="#2a2ad0" opacity="0.91"/>
<circle cx="3.8" cy="26.9" r="0.6" fill="#c08020" opacity="0.69"/>
<circle cx="14.2" cy="48.4" r="0.4" fill="#35b828" opacity="0.55"/>
<circle cx="69.1" cy="54.4" r="0.5" fill="#2a2ad0" opacity="0.77"/>
<circle cx="0.8" cy="33.3" r="0.5" fill="#c08020" opacity="0.69"/>
<circle cx="32.1" cy="13.7" r="0.6" fill="#c02020" opacity="0.58"/>
<circle cx="28.3" cy="71.0" r="0.6" fill="#2a2ad0" opacity="0.93"/>
<circle cx="57.6" cy="21.8" r="0.5" fill="#2a2ad0" opacity="0.59"/>
<circle cx="61.3" cy="46.0" r="0.4" fill="#2a2ad0" opacity="0.44"/>
<circle cx="31.7" cy="0.7" r="0.7" fill="#602060" opacity="0.53"/>
<circle cx="5.3" cy="6.5" r="0.9" fill="#602060" opacity="0.36"/>
<circle cx="26.4" cy="44.6" r="0.9" fill="#c02020" opacity="0.64"/>
<circle cx="41.2" cy="62.1" r="0.7" fill="#c02020" opacity="0.54"/>
<circle cx="16.4" cy="43.8" r="0.5" fill="#c02020" opacity="0.73"/>
<circle cx="39.7" cy="49.3" r="0.8" fill="#c08020" opacity="0.71"/>
<circle cx="30.2" cy="7.4" r="0.7" fill="#2a2ad0" opacity="0.50"/>
<circle cx="53.0" cy="28.1" r="0.7" fill="#c08020" opacity="0.71"/>
<circle cx="21.0" cy="12.6" r="0.5" fill="#2a2ad0" opacity="0.64"/>
<circle cx="46.9" cy="44.2" r="0.6" fill="#2a2ad0" opacity="0.90"/>
<circle cx="14.6" cy="1.2" r="0.6" fill="#35b828" opacity="0.50"/>
<circle cx="3.3" cy="20.2" r="0.9" fill="#602060" opacity="0.43"/>
<circle cx="26.0" cy="63.9" r="0.7" fill="#35b828" opacity="0.76"/>
<circle cx="41.9" cy="10.1" r="1.0" fill="#2a2ad0" opacity="0.63"/>
<circle cx="25.6" cy="22.4" r="0.4" fill="#2a2ad0" opacity="0.73"/>
<circle cx="34.6" cy="52.4" r="0.5" fill="#35b828" opacity="0.39"/>
<circle cx="32.5" cy="26.4" r="0.9" fill="#2a2ad0" opacity="0.79"/>
<circle cx="50.5" cy="56.9" r="0.6" fill="#35b828" opacity="0.76"/>
<circle cx="64.6" cy="62.5" r="0.8" fill="#c08020" opacity="0.37"/>
<circle cx="35.8" cy="1.0" r="0.6" fill="#c08020" opacity="0.36"/>
<circle cx="5.2" cy="6.5" r="1.0" fill="#2a2ad0" opacity="0.88"/>
<circle cx="52.2" cy="27.9" r="0.8" fill="#602060" opacity="0.63"/>
<circle cx="38.8" cy="37.2" r="0.4" fill="#602060" opacity="0.71"/>
<circle cx="34.5" cy="16.5" r="0.7" fill="#2a2ad0" opacity="0.72"/>
<circle cx="66.0" cy="18.3" r="0.6" fill="#2a2ad0" opacity="0.44"/>
<circle cx="43.9" cy="37.2" r="0.7" fill="#35b828" opacity="0.62"/>
<circle cx="63.9" cy="23.4" r="0.5" fill="#35b828" opacity="0.61"/>
<circle cx="57.8" cy="65.5" r="0.6" fill="#c02020" opacity="0.70"/>
<circle cx="22.7" cy="9.8" r="0.5" fill="#c08020" opacity="0.89"/>
<circle cx="2.9" cy="4.6" r="0.8" fill="#35b828" opacity="0.42"/>
<circle cx="33.8" cy="66.4" r="0.6" fill="#c08020" opacity="0.66"/>
<circle cx="48.2" cy="51.4" r="0.8" fill="#602060" opacity="0.39"/>
<circle cx="2.3" cy="62.6" r="0.8" fill="#2a2ad0" opacity="0.52"/>
<circle cx="25.4" cy="46.6" r="0.4" fill="#602060" opacity="0.43"/>
<circle cx="32.6" cy="1.8" r="0.5" fill="#35b828" opacity="0.43"/>
<circle cx="3.4" cy="45.1" r="0.4" fill="#c08020" opacity="0.67"/>
<circle cx="45.9" cy="26.4" r="0.8" fill="#2a2ad0" opacity="0.47"/>
<circle cx="34.1" cy="12.8" r="0.9" fill="#2a2ad0" opacity="0.67"/>
<circle cx="2.6" cy="16.2" r="0.7" fill="#35b828" opacity="0.92"/>
<circle cx="35.9" cy="71.5" r="0.6" fill="#c02020" opacity="0.83"/>
<circle cx="65.0" cy="6.3" r="0.5" fill="#c08020" opacity="0.62"/>
<circle cx="44.9" cy="65.2" r="0.6" fill="#c08020" opacity="0.74"/>
<circle cx="36.0" cy="58.8" r="0.6" fill="#35b828" opacity="0.74"/>
<circle cx="14.7" cy="51.8" r="0.5" fill="#2a2ad0" opacity="0.89"/>
<circle cx="70.3" cy="70.1" r="1.2" fill="#602060" opacity="0.91"/>
<circle cx="18.8" cy="51.5" r="0.6" fill="#2a2ad0" opacity="0.40"/>
<circle cx="31.6" cy="39.5" r="0.6" fill="#35b828" opacity="0.37"/>
<circle cx="58.0" cy="4.6" r="0.5" fill="#2a2ad0" opacity="0.55"/>
<circle cx="56.5" cy="10.1" r="0.9" fill="#c02020" opacity="0.89"/>
<circle cx="37.2" cy="48.6" r="0.8" fill="#c08020" opacity="0.65"/>
<circle cx="68.1" cy="6.2" r="0.6" fill="#c02020" opacity="0.69"/>
<circle cx="59.6" cy="40.3" r="0.7" fill="#c02020" opacity="0.86"/>
<circle cx="40.1" cy="22.3" r="0.8" fill="#c08020" opacity="0.87"/>
<circle cx="43.7" cy="21.8" r="0.9" fill="#c02020" opacity="0.66"/>
<circle cx="41.1" cy="14.4" r="0.5" fill="#602060" opacity="0.35"/>
<circle cx="27.0" cy="38.6" r="0.7" fill="#2a2ad0" opacity="0.59"/>
<circle cx="57.4" cy="40.4" r="0.4" fill="#c08020" opacity="0.45"/>
<circle cx="66.7" cy="32.9" r="0.5" fill="#c08020" opacity="0.63"/>
<circle cx="9.1" cy="31.1" r="0.6" fill="#c08020" opacity="0.42"/>
<circle cx="30.1" cy="2.1" r="0.5" fill="#35b828" opacity="0.82"/>
<circle cx="1.6" cy="13.9" r="0.4" fill="#c02020" opacity="0.52"/>
<circle cx="51.9" cy="17.5" r="0.4" fill="#c08020" opacity="0.79"/>
<circle cx="8.8" cy="36.6" r="0.8" fill="#35b828" opacity="0.77"/>
<circle cx="63.0" cy="1.7" r="0.7" fill="#c08020" opacity="0.72"/>
<circle cx="38.6" cy="61.9" r="0.9" fill="#602060" opacity="0.67"/>
<circle cx="61.0" cy="43.9" r="0.5" fill="#c02020" opacity="0.79"/>
<circle cx="58.1" cy="64.7" r="0.7" fill="#35b828" opacity="0.88"/>
<circle cx="14.0" cy="55.8" r="0.8" fill="#c02020" opacity="0.43"/>
<circle cx="17.2" cy="52.1" r="0.6" fill="#35b828" opacity="0.61"/>
<circle cx="67.5" cy="39.0" r="0.5" fill="#c02020" opacity="0.73"/>
<circle cx="57.3" cy="6.9" r="0.9" fill="#602060" opacity="0.90"/>
<circle cx="69.4" cy="8.3" r="0.9" fill="#602060" opacity="0.56"/>
<circle cx="71.6" cy="59.7" r="0.7" fill="#2a2ad0" opacity="0.36"/>
<circle cx="54.6" cy="44.0" r="0.8" fill="#602060" opacity="0.46"/>
<circle cx="8.2" cy="12.4" r="0.9" fill="#c02020" opacity="0.91"/>
<circle cx="6.8" cy="4.4" r="0.4" fill="#c08020" opacity="0.41"/>
<circle cx="28.0" cy="30.6" r="0.6" fill="#35b828" opacity="0.71"/>
<circle cx="0.9" cy="50.3" r="0.5" fill="#c02020" opacity="0.62"/>
<circle cx="53.0" cy="29.1" r="0.7" fill="#c02020" opacity="0.41"/>
<circle cx="56.8" cy="23.2" r="0.9" fill="#2a2ad0" opacity="0.77"/>
<circle cx="61.7" cy="45.1" r="0.6" fill="#c08020" opacity="0.46"/>
<circle cx="41.9" cy="24.4" r="0.5" fill="#35b828" opacity="0.42"/>
<circle cx="53.3" cy="11.5" r="0.5" fill="#c08020" opacity="0.55"/>
<circle cx="38.6" cy="26.5" r="0.7" fill="#c08020" opacity="0.59"/>
<circle cx="51.8" cy="5.1" r="0.6" fill="#35b828" opacity="0.41"/>
<circle cx="63.7" cy="71.0" r="0.4" fill="#602060" opacity="0.51"/>
<circle cx="68.9" cy="21.4" r="0.7" fill="#c02020" opacity="0.69"/>
<circle cx="38.2" cy="27.9" r="0.7" fill="#c08020" opacity="0.77"/>
<circle cx="54.6" cy="70.3" r="0.5" fill="#2a2ad0" opacity="0.41"/>
<circle cx="17.0" cy="31.8" r="0.4" fill="#602060" opacity="0.47"/>
<circle cx="26.9" cy="7.1" r="0.5" fill="#35b828" opacity="0.55"/>
<circle cx="38.8" cy="29.8" r="0.9" fill="#602060" opacity="0.95"/>
<circle cx="45.7" cy="58.0" r="0.7" fill="#2a2ad0" opacity="0.75"/>
<circle cx="68.5" cy="27.7" r="0.6" fill="#c02020" opacity="0.93"/>
<circle cx="61.4" cy="38.9" r="0.4" fill="#602060" opacity="0.92"/>
<circle cx="30.2" cy="37.8" r="0.6" fill="#602060" opacity="0.67"/>
<circle cx="34.6" cy="19.3" r="0.7" fill="#35b828" opacity="0.80"/>
<circle cx="1.9" cy="55.4" r="0.4" fill="#602060" opacity="0.44"/>
<circle cx="54.1" cy="28.0" r="0.8" fill="#35b828" opacity="0.38"/>
<circle cx="70.9" cy="67.7" r="0.9" fill="#2a2ad0" opacity="0.48"/>
<circle cx="51.6" cy="18.0" r="0.4" fill="#c02020" opacity="0.41"/>
<circle cx="58.1" cy="65.2" r="0.9" fill="#c02020" opacity="0.84"/>
<circle cx="43.3" cy="8.3" r="0.7" fill="#602060" opacity="0.42"/>
<circle cx="61.7" cy="25.6" r="0.5" fill="#c02020" opacity="0.62"/>
<circle cx="47.9" cy="32.7" r="0.7" fill="#35b828" opacity="0.76"/>
<circle cx="26.1" cy="53.3" r="0.9" fill="#c02020" opacity="0.79"/>
<circle cx="17.1" cy="8.2" r="0.8" fill="#35b828" opacity="0.72"/>
<circle cx="25.8" cy="19.5" r="1.0" fill="#602060" opacity="0.46"/>
<circle cx="20.0" cy="17.2" r="0.7" fill="#c02020" opacity="0.74"/>
<circle cx="14.1" cy="49.0" r="0.4" fill="#2a2ad0" opacity="0.51"/>
<circle cx="1.9" cy="2.7" r="0.7" fill="#c02020" opacity="0.39"/>
<polyline points="35.1,12.9 36.5,13.6 37.8,14.2" stroke="#5cbc2c" stroke-width="2.3"/>
<polyline points="37.8,14.2 39.3,14.3 40.7,14.9" stroke="#5cbc2c" stroke-width="1.5"/>
<polyline points="40.7,14.9 41.9,15.8" stroke="#5cbc2c" stroke-width="1.0"/>
<polyline points="37.8,14.2 37.9,15.7" stroke="#5cbc2c" stroke-width="1.8"/>
<polyline points="37.9,15.7 37.9,17.2" stroke="#5cbc2c" stroke-width="1.2"/>
<polyline points="35.1,12.9 36.0,14.1 36.2,15.6" stroke="#5cbc2c" stroke-width="2.3"/>
<polyline points="36.2,15.6 36.4,17.1 36.0,18.6" stroke="#5cbc2c" stroke-width="1.5"/>
<polyline points="36.0,18.6 35.7,20.1 36.1,21.5" stroke="#5cbc2c" stroke-width="1.0"/>
<polyline points="35.7,20.1 34.7,21.1" stroke="#5cbc2c" stroke-width="1.8"/>
<polyline points="34.7,21.1 33.5,22.0" stroke="#5cbc2c" stroke-width="1.2"/>
<polyline points="33.5,22.0 32.4,23.1" stroke="#5cbc2c" stroke-width="0.8"/>
<polyline points="35.1,12.9 34.0,13.9 32.8,14.8" stroke="#5cbc2c" stroke-width="2.3"/>
<polyline points="32.8,14.8 31.4,15.3 29.9,15.3" stroke="#5cbc2c" stroke-width="1.5"/>
<polyline points="29.9,15.3 28.5,15.8" stroke="#5cbc2c" stroke-width="1.0"/>
<polyline points="29.9,15.3 28.9,14.1" stroke="#5cbc2c" stroke-width="1.8"/>
<polyline points="28.9,14.1 28.5,12.7" stroke="#5cbc2c" stroke-width="1.2"/>
<polyline points="35.1,12.9 33.6,13.0 32.1,13.2 30.7,12.9" stroke="#78c030" stroke-width="2.3"/>
<polyline points="30.7,12.9 29.3,12.2 27.9,11.7 26.4,11.7" stroke="#78c030" stroke-width="1.5"/>
<polyline points="26.4,11.7 25.0,12.1 23.6,12.8 22.2,13.3" stroke="#78c030" stroke-width="1.0"/>
<polyline points="32.1,13.2 30.9,14.0" stroke="#78c030" stroke-width="1.8"/>
<polyline points="30.9,14.0 29.5,14.6 28.4,15.6" stroke="#78c030" stroke-width="1.2"/>
<polyline points="28.4,15.6 27.3,16.5" stroke="#78c030" stroke-width="0.8"/>
<polyline points="30.7,12.9 30.4,11.4" stroke="#78c030" stroke-width="1.8"/>
<polyline points="30.4,11.4 29.6,10.1 28.4,9.2" stroke="#78c030" stroke-width="1.2"/>
<polyline points="28.4,9.2 27.5,8.1" stroke="#78c030" stroke-width="0.8"/>
<polyline points="25.0,12.1 24.4,10.7" stroke="#78c030" stroke-width="1.8"/>
<polyline points="24.4,10.7 23.5,9.6 22.6,8.3" stroke="#78c030" stroke-width="1.2"/>
<polyline points="22.6,8.3 21.4,7.4" stroke="#78c030" stroke-width="0.8"/>
<polyline points="23.6,12.8 23.0,14.1" stroke="#78c030" stroke-width="1.8"/>
<polyline points="23.0,14.1 22.3,15.4 21.8,16.9" stroke="#78c030" stroke-width="1.2"/>
<polyline points="21.8,16.9 21.7,18.4" stroke="#78c030" stroke-width="0.8"/>
<polyline points="35.1,12.9 33.9,12.1 33.0,10.8" stroke="#78c030" stroke-width="2.3"/>
<polyline points="33.0,10.8 32.2,9.6 31.6,8.2 31.6,6.7" stroke="#78c030" stroke-width="1.5"/>
<polyline points="31.6,6.7 32.0,5.3 32.9,4.0" stroke="#78c030" stroke-width="1.0"/>
<polyline points="35.1,12.9 35.2,11.4 35.7,10.0 36.1,8.5" stroke="#48b02a" stroke-width="2.3"/>
<polyline points="36.1,8.5 36.3,7.1 36.6,5.6 37.4,4.3" stroke="#48b02a" stroke-width="1.5"/>
<polyline points="37.4,4.3 38.4,3.2 39.0,1.8 40.1,0.8" stroke="#48b02a" stroke-width="1.0"/>
<polyline points="36.1,8.5 34.6,8.2" stroke="#48b02a" stroke-width="1.8"/>
<polyline points="34.6,8.2 33.2,8.0 31.8,7.3" stroke="#48b02a" stroke-width="1.2"/>
<polyline points="31.8,7.3 30.4,6.9" stroke="#48b02a" stroke-width="0.8"/>
<polyline points="36.3,7.1 35.1,6.2" stroke="#48b02a" stroke-width="1.8"/>
<polyline points="35.1,6.2 33.8,5.5 32.5,4.7" stroke="#48b02a" stroke-width="1.2"/>
<polyline points="32.5,4.7 31.4,3.8" stroke="#48b02a" stroke-width="0.8"/>
<polyline points="35.1,12.9 35.7,11.5 35.8,10.0" stroke="#78c030" stroke-width="2.3"/>
<polyline points="35.8,10.0 35.6,8.5 35.9,7.0 35.9,5.5" stroke="#78c030" stroke-width="1.5"/>
<polyline points="35.9,5.5 36.4,4.1 37.0,2.7" stroke="#78c030" stroke-width="1.0"/>
<circle cx="34.4" cy="16.8" r="2.1" fill="#3aa826"/>
<circle cx="35.7" cy="16.3" r="2.1" fill="#48b02a"/>
<circle cx="35.7" cy="12.3" r="1.0" fill="#78c030"/>
<circle cx="36.0" cy="14.5" r="1.3" fill="#3aa826"/>
<circle cx="35.4" cy="12.4" r="1.2" fill="#5cbc2c"/>
<circle cx="32.9" cy="15.4" r="2.1" fill="#3aa826"/>
<circle cx="37.4" cy="10.0" r="1.4" fill="#d6d020"/>
<circle cx="34.7" cy="15.3" r="1.2" fill="#78c030"/>
<circle cx="37.7" cy="14.4" r="2.2" fill="#5cbc2c"/>
<circle cx="33.5" cy="11.4" r="1.7" fill="#78c030"/>
<circle cx="35.4" cy="12.8" r="2.1" fill="#d6d020"/>
<circle cx="35.2" cy="13.8" r="1.5" fill="#e08818"/>
<circle cx="35.3" cy="13.8" r="0.7" fill="#e01c1c"/>
<circle cx="35.6" cy="12.8" r="1.4" fill="#e0a020"/>
<circle cx="35.2" cy="12.0" r="1.2" fill="#e01c1c"/>
<circle cx="35.3" cy="13.0" r="0.7" fill="#d86a14"/>
<circle cx="34.1" cy="12.9" r="1.1" fill="#c81818"/>
<circle cx="34.8" cy="14.3" r="0.6" fill="#e01c1c"/>
<circle cx="35.8" cy="13.6" r="0.9" fill="#e08818"/>
<circle cx="35.2" cy="12.9" r="1.6" fill="#c81818"/>
<circle cx="36.4" cy="14.3" r="0.8" fill="#f02828"/>
<polyline points="12.9,22.9 14.2,23.8 15.6,24.1 17.1,24.2" stroke="#3aa826" stroke-width="2.3"/>
<polyline points="17.1,24.2 18.6,24.3 20.1,24.3 21.5,23.7" stroke="#3aa826" stroke-width="1.5"/>
<polyline points="21.5,23.7 22.9,23.2 24.4,23.3" stroke="#3aa826" stroke-width="1.0"/>
<polyline points="15.6,24.1 16.6,25.2" stroke="#3aa826" stroke-width="1.8"/>
<polyline points="16.6,25.2 17.8,26.1 19.2,26.6" stroke="#3aa826" stroke-width="1.2"/>
<polyline points="19.2,26.6 20.7,26.6" stroke="#3aa826" stroke-width="0.8"/>
<polyline points="21.5,23.7 22.1,22.3" stroke="#3aa826" stroke-width="1.8"/>
<polyline points="22.1,22.3 22.1,20.8 22.7,19.4" stroke="#3aa826" stroke-width="1.2"/>
<polyline points="22.7,19.4 23.2,18.0" stroke="#3aa826" stroke-width="0.8"/>
<polyline points="22.9,23.2 23.6,21.9" stroke="#3aa826" stroke-width="1.8"/>
<polyline points="23.6,21.9 24.4,20.6 25.5,19.6" stroke="#3aa826" stroke-width="1.2"/>
<polyline points="25.5,19.6 26.8,18.9" stroke="#3aa826" stroke-width="0.8"/>
<polyline points="12.9,22.9 14.1,23.8 15.2,24.9" stroke="#78c030" stroke-width="2.3"/>
<polyline points="15.2,24.9 16.0,26.1 17.1,27.1" stroke="#78c030" stroke-width="1.5"/>
<polyline points="17.1,27.1 18.3,28.1 19.7,28.7" stroke="#78c030" stroke-width="1.0"/>
<polyline points="16.0,26.1 17.5,26.2" stroke="#78c030" stroke-width="1.8"/>
<polyline points="17.5,26.2 18.9,25.8" stroke="#78c030" stroke-width="1.2"/>
<polyline points="18.9,25.8 20.4,25.7" stroke="#78c030" stroke-width="0.8"/>
<polyline points="12.9,22.9 13.6,24.3 14.3,25.6" stroke="#3aa826" stroke-width="2.3"/>
<polyline points="14.3,25.6 14.9,27.0 15.1,28.5 15.8,29.8" stroke="#3aa826" stroke-width="1.5"/>
<polyline points="15.8,29.8 16.5,31.1 17.6,32.1" stroke="#3aa826" stroke-width="1.0"/>
<polyline points="14.3,25.6 15.7,25.2" stroke="#3aa826" stroke-width="1.8"/>
<polyline points="15.7,25.2 17.2,25.2" stroke="#3aa826" stroke-width="1.2"/>
<polyline points="17.2,25.2 18.7,25.3" stroke="#3aa826" stroke-width="0.8"/>
<polyline points="15.1,28.5 16.3,29.4" stroke="#3aa826" stroke-width="1.8"/>
<polyline points="16.3,29.4 17.7,30.0" stroke="#3aa826" stroke-width="1.2"/>
<polyline points="17.7,30.0 19.0,30.7" stroke="#3aa826" stroke-width="0.8"/>
<polyline points="15.8,29.8 17.2,30.3" stroke="#3aa826" stroke-width="1.8"/>
<polyline points="17.2,30.3 18.7,30.1" stroke="#3aa826" stroke-width="1.2"/>
<polyline points="18.7,30.1 20.1,30.6" stroke="#3aa826" stroke-width="0.8"/>
<polyline points="12.9,22.9 12.7,24.4 12.0,25.7 11.7,27.2" stroke="#3aa826" stroke-width="2.3"/>
<polyline points="11.7,27.2 11.9,28.7 11.6,30.2 11.7,31.6" stroke="#3aa826" stroke-width="1.5"/>
<polyline points="11.7,31.6 11.4,33.1 11.0,34.5" stroke="#3aa826" stroke-width="1.0"/>
<polyline points="12.7,24.4 13.3,25.8" stroke="#3aa826" stroke-width="1.8"/>
<polyline points="13.3,25.8 14.2,27.0 15.3,28.0" stroke="#3aa826" stroke-width="1.2"/>
<polyline points="15.3,28.0 16.7,28.6" stroke="#3aa826" stroke-width="0.8"/>
<polyline points="12.0,25.7 10.5,25.7" stroke="#3aa826" stroke-width="1.8"/>
<polyline points="10.5,25.7 9.0,26.1 7.7,26.7" stroke="#3aa826" stroke-width="1.2"/>
<polyline points="7.7,26.7 6.4,27.4" stroke="#3aa826" stroke-width="0.8"/>
<polyline points="11.9,28.7 13.4,28.7" stroke="#3aa826" stroke-width="1.8"/>
<polyline points="13.4,28.7 14.9,28.4 16.4,28.6" stroke="#3aa826" stroke-width="1.2"/>
<polyline points="16.4,28.6 17.8,28.2" stroke="#3aa826" stroke-width="0.8"/>
<polyline points="12.9,22.9 11.6,23.6 10.6,24.8 9.3,25.5" stroke="#5cbc2c" stroke-width="2.3"/>
<polyline points="9.3,25.5 7.9,26.1 6.7,27.0 5.5,27.9" stroke="#5cbc2c" stroke-width="1.5"/>
<polyline points="5.5,27.9 4.2,28.6 3.2,29.7" stroke="#5cbc2c" stroke-width="1.0"/>
<polyline points="3.2,29.7 1.7,29.7" stroke="#5cbc2c" stroke-width="1.8"/>
<polyline points="1.7,29.7 0.3,29.1 -1.2,28.8" stroke="#5cbc2c" stroke-width="1.2"/>
<polyline points="-1.2,28.8 -2.7,29.1" stroke="#5cbc2c" stroke-width="0.8"/>
<polyline points="12.9,22.9 11.5,22.5 10.0,22.4 8.5,22.8" stroke="#78c030" stroke-width="2.3"/>
<polyline points="8.5,22.8 7.0,22.8 5.5,22.8 4.1,22.5" stroke="#78c030" stroke-width="1.5"/>
<polyline points="4.1,22.5 2.7,21.8 1.6,20.8 0.4,20.0" stroke="#78c030" stroke-width="1.0"/>
<polyline points="8.5,22.8 7.2,22.1" stroke="#78c030" stroke-width="1.8"/>
<polyline points="7.2,22.1 5.8,21.8 4.3,21.3" stroke="#78c030" stroke-width="1.2"/>
<polyline points="4.3,21.3 2.9,20.9" stroke="#78c030" stroke-width="0.8"/>
<polyline points="5.5,22.8 5.1,24.2" stroke="#78c030" stroke-width="1.8"/>
<polyline points="5.1,24.2 5.1,25.7 5.2,27.2" stroke="#78c030" stroke-width="1.2"/>
<polyline points="5.2,27.2 5.8,28.6" stroke="#78c030" stroke-width="0.8"/>
<polyline points="12.9,22.9 11.6,22.2 10.1,22.0" stroke="#78c030" stroke-width="2.3"/>
<polyline points="10.1,22.0 8.6,21.7 7.1,22.0 5.8,22.6" stroke="#78c030" stroke-width="1.5"/>
<polyline points="5.8,22.6 4.4,23.3 3.2,24.2" stroke="#78c030" stroke-width="1.0"/>
<polyline points="11.6,22.2 10.6,21.1" stroke="#78c030" stroke-width="1.8"/>
<polyline points="10.6,21.1 10.0,19.8" stroke="#78c030" stroke-width="1.2"/>
<polyline points="10.0,19.8 9.6,18.3" stroke="#78c030" stroke-width="0.8"/>
<polyline points="3.2,24.2 1.7,24.0" stroke="#78c030" stroke-width="1.8"/>
<polyline points="1.7,24.0 0.2,24.1" stroke="#78c030" stroke-width="1.2"/>
<polyline points="0.2,24.1 -1.2,23.7" stroke="#78c030" stroke-width="0.8"/>
<polyline points="12.9,22.9 13.0,21.4 12.8,20.0" stroke="#5cbc2c" stroke-width="2.3"/>
<polyline points="12.8,20.0 13.2,18.5 13.5,17.0" stroke="#5cbc2c" stroke-width="1.5"/>
<polyline points="13.5,17.0 13.5,15.5" stroke="#5cbc2c" stroke-width="1.0"/>
<polyline points="13.0,21.4 12.0,20.3" stroke="#5cbc2c" stroke-width="1.8"/>
<polyline points="12.0,20.3 10.9,19.2" stroke="#5cbc2c" stroke-width="1.2"/>
<polyline points="12.9,22.9 13.3,21.5 13.6,20.0 13.7,18.5" stroke="#48b02a" stroke-width="2.3"/>
<polyline points="13.7,18.5 13.8,17.0 14.4,15.7 15.1,14.4" stroke="#48b02a" stroke-width="1.5"/>
<polyline points="15.1,14.4 15.9,13.1 16.2,11.6 16.1,10.1" stroke="#48b02a" stroke-width="1.0"/>
<polyline points="13.3,21.5 12.5,20.2" stroke="#48b02a" stroke-width="1.8"/>
<polyline points="12.5,20.2 11.3,19.2 10.0,18.5" stroke="#48b02a" stroke-width="1.2"/>
<polyline points="10.0,18.5 8.9,17.6" stroke="#48b02a" stroke-width="0.8"/>
<polyline points="13.8,17.0 12.3,16.7" stroke="#48b02a" stroke-width="1.8"/>
<polyline points="12.3,16.7 10.8,16.7 9.3,16.6" stroke="#48b02a" stroke-width="1.2"/>
<polyline points="9.3,16.6 7.8,16.9" stroke="#48b02a" stroke-width="0.8"/>
<polyline points="14.4,15.7 14.4,14.2" stroke="#48b02a" stroke-width="1.8"/>
<polyline points="14.4,14.2 15.0,12.8 15.1,11.3" stroke="#48b02a" stroke-width="1.2"/>
<polyline points="15.1,11.3 15.0,9.8" stroke="#48b02a" stroke-width="0.8"/>
<polyline points="15.1,14.4 15.0,12.9" stroke="#48b02a" stroke-width="1.8"/>
<polyline points="15.0,12.9 14.7,11.4 15.0,9.9" stroke="#48b02a" stroke-width="1.2"/>
<polyline points="15.0,9.9 15.2,8.5" stroke="#48b02a" stroke-width="0.8"/>
<polyline points="12.9,22.9 13.7,21.6 13.8,20.2" stroke="#3aa826" stroke-width="2.3"/>
<polyline points="13.8,20.2 14.4,18.8 15.5,17.8 16.6,16.8" stroke="#3aa826" stroke-width="1.5"/>
<polyline points="16.6,16.8 18.0,16.1 19.3,15.4" stroke="#3aa826" stroke-width="1.0"/>
<polyline points="18.0,16.1 19.3,16.9" stroke="#3aa826" stroke-width="1.8"/>
<polyline points="19.3,16.9 20.3,17.9" stroke="#3aa826" stroke-width="1.2"/>
<polyline points="20.3,17.9 21.6,18.7" stroke="#3aa826" stroke-width="0.8"/>
<circle cx="13.6" cy="21.0" r="1.0" fill="#e0b818"/>
<circle cx="12.9" cy="23.2" r="1.6" fill="#3aa826"/>
<circle cx="11.1" cy="21.8" r="1.9" fill="#3aa826"/>
<circle cx="12.9" cy="19.8" r="2.2" fill="#48b02a"/>
<circle cx="11.7" cy="26.5" r="1.8" fill="#d6d020"/>
<circle cx="13.9" cy="20.2" r="1.9" fill="#48b02a"/>
<circle cx="12.8" cy="22.9" r="1.4" fill="#e0b818"/>
<circle cx="15.4" cy="22.6" r="2.1" fill="#78c030"/>
<circle cx="11.6" cy="26.0" r="1.2" fill="#48b02a"/>
<circle cx="11.3" cy="23.0" r="1.9" fill="#e0b818"/>
<circle cx="13.1" cy="23.0" r="1.6" fill="#5cbc2c"/>
<circle cx="12.7" cy="23.3" r="1.3" fill="#e0b818"/>
<circle cx="12.6" cy="23.4" r="1.1" fill="#c8d828"/>
<circle cx="12.9" cy="23.0" r="1.0" fill="#e0b818"/>
<circle cx="12.0" cy="23.4" r="0.9" fill="#d6d020"/>
<circle cx="11.5" cy="25.9" r="1.3" fill="#c8d828"/>
<circle cx="13.7" cy="23.8" r="0.8" fill="#e0a020"/>
<circle cx="10.8" cy="24.2" r="1.0" fill="#e08818"/>
<circle cx="12.4" cy="24.1" r="0.9" fill="#e0b818"/>
<circle cx="12.6" cy="22.9" r="1.2" fill="#e08818"/>
<circle cx="13.7" cy="23.4" r="1.5" fill="#e0b818"/>
<polyline points="4.3,37.3 5.8,37.1 7.2,36.5" stroke="#5cbc2c" stroke-width="2.2"/>
<polyline points="7.2,36.5 8.3,35.6 9.2,34.3" stroke="#5cbc2c" stroke-width="1.5"/>
<polyline points="9.2,34.3 10.3,33.3 11.4,32.3" stroke="#5cbc2c" stroke-width="0.9"/>
<polyline points="9.2,34.3 8.3,33.1" stroke="#5cbc2c" stroke-width="1.7"/>
<polyline points="8.3,33.1 7.3,31.9" stroke="#5cbc2c" stroke-width="1.2"/>
<polyline points="7.3,31.9 6.5,30.7" stroke="#5cbc2c" stroke-width="0.8"/>
<polyline points="4.3,37.3 5.5,38.1 7.0,38.4" stroke="#3aa826" stroke-width="2.2"/>
<polyline points="7.0,38.4 8.5,38.7 10.0,38.7" stroke="#3aa826" stroke-width="1.5"/>
<polyline points="10.0,38.7 11.4,39.2" stroke="#3aa826" stroke-width="0.9"/>
<polyline points="7.0,38.4 7.4,39.8" stroke="#3aa826" stroke-width="1.7"/>
<polyline points="7.4,39.8 7.5,41.3" stroke="#3aa826" stroke-width="1.2"/>
<polyline points="10.0,38.7 11.4,38.1" stroke="#3aa826" stroke-width="1.7"/>
<polyline points="11.4,38.1 12.4,37.1" stroke="#3aa826" stroke-width="1.2"/>
<polyline points="4.3,37.3 4.0,38.8 4.1,40.3" stroke="#48b02a" stroke-width="2.2"/>
<polyline points="4.1,40.3 3.9,41.8 3.6,43.2" stroke="#48b02a" stroke-width="1.5"/>
<polyline points="3.6,43.2 3.7,44.7 4.3,46.1" stroke="#48b02a" stroke-width="0.9"/>
<polyline points="4.3,46.1 3.6,47.4" stroke="#48b02a" stroke-width="1.7"/>
<polyline points="3.6,47.4 3.4,48.9" stroke="#48b02a" stroke-width="1.2"/>
<polyline points="3.4,48.9 2.9,50.3" stroke="#48b02a" stroke-width="0.8"/>
<polyline points="4.3,37.3 3.9,38.7 3.6,40.2 3.5,41.7" stroke="#78c030" stroke-width="2.2"/>
<polyline points="3.5,41.7 3.8,43.2 4.1,44.6 5.0,45.8" stroke="#78c030" stroke-width="1.5"/>
<polyline points="5.0,45.8 5.8,47.1 7.0,48.0" stroke="#78c030" stroke-width="0.9"/>
<polyline points="3.9,38.7 2.6,39.4" stroke="#78c030" stroke-width="1.7"/>
<polyline points="2.6,39.4 1.1,39.8 -0.2,40.4" stroke="#78c030" stroke-width="1.2"/>
<polyline points="-0.2,40.4 -1.7,40.7" stroke="#78c030" stroke-width="0.8"/>
<polyline points="3.6,40.2 2.7,41.4" stroke="#78c030" stroke-width="1.7"/>
<polyline points="2.7,41.4 1.8,42.6 0.9,43.9" stroke="#78c030" stroke-width="1.2"/>
<polyline points="0.9,43.9 -0.3,44.7" stroke="#78c030" stroke-width="0.8"/>
<polyline points="3.8,43.2 5.3,43.3" stroke="#78c030" stroke-width="1.7"/>
<polyline points="5.3,43.3 6.7,43.8 8.2,43.8" stroke="#78c030" stroke-width="1.2"/>
<polyline points="8.2,43.8 9.6,44.5" stroke="#78c030" stroke-width="0.8"/>
<polyline points="4.1,44.6 3.4,45.9" stroke="#78c030" stroke-width="1.7"/>
<polyline points="3.4,45.9 2.4,47.0 1.6,48.3" stroke="#78c030" stroke-width="1.2"/>
<polyline points="1.6,48.3 0.5,49.3" stroke="#78c030" stroke-width="0.8"/>
<polyline points="4.3,37.3 2.9,36.9 1.4,36.7 -0.1,36.9" stroke="#78c030" stroke-width="2.2"/>
<polyline points="-0.1,36.9 -1.6,36.5 -3.1,36.4 -4.5,35.9" stroke="#78c030" stroke-width="1.5"/>
<polyline points="-4.5,35.9 -5.7,35.1 -7.2,34.8" stroke="#78c030" stroke-width="0.9"/>
<polyline points="-1.6,36.5 -2.6,37.6" stroke="#78c030" stroke-width="1.7"/>
<polyline points="-2.6,37.6 -3.3,38.9 -4.3,40.1" stroke="#78c030" stroke-width="1.2"/>
<polyline points="-4.3,40.1 -4.9,41.5" stroke="#78c030" stroke-width="0.8"/>
<polyline points="-7.2,34.8 -7.6,33.4" stroke="#78c030" stroke-width="1.7"/>
<polyline points="-7.6,33.4 -7.9,31.9 -7.6,30.4" stroke="#78c030" stroke-width="1.2"/>
<polyline points="-7.6,30.4 -7.4,28.9" stroke="#78c030" stroke-width="0.8"/>
<polyline points="4.3,37.3 3.4,36.1 2.5,34.9 1.3,34.0" stroke="#48b02a" stroke-width="2.2"/>
<polyline points="1.3,34.0 0.5,32.7 0.3,31.2 -0.3,29.8" stroke="#48b02a" stroke-width="1.5"/>
<polyline points="-0.3,29.8 -0.9,28.4 -1.8,27.2" stroke="#48b02a" stroke-width="0.9"/>
<polyline points="0.3,31.2 -0.8,30.1" stroke="#48b02a" stroke-width="1.7"/>
<polyline points="-0.8,30.1 -2.2,29.6 -3.5,29.0" stroke="#48b02a" stroke-width="1.2"/>
<polyline points="-3.5,29.0 -4.7,28.0" stroke="#48b02a" stroke-width="0.8"/>
<polyline points="-0.9,28.4 -2.1,27.5" stroke="#48b02a" stroke-width="1.7"/>
<polyline points="-2.1,27.5 -3.5,27.2 -4.8,26.4" stroke="#48b02a" stroke-width="1.2"/>
<polyline points="-4.8,26.4 -5.8,25.2" stroke="#48b02a" stroke-width="0.8"/>
<polyline points="-1.8,27.2 -3.3,27.3" stroke="#48b02a" stroke-width="1.7"/>
<polyline points="-3.3,27.3 -4.7,26.9 -6.2,26.9" stroke="#48b02a" stroke-width="1.2"/>
<polyline points="-6.2,26.9 -7.6,27.4" stroke="#48b02a" stroke-width="0.8"/>
<polyline points="4.3,37.3 4.0,35.8 4.3,34.3 4.2,32.9" stroke="#5cbc2c" stroke-width="2.2"/>
<polyline points="4.2,32.9 4.0,31.4 3.7,29.9 3.7,28.4" stroke="#5cbc2c" stroke-width="1.5"/>
<polyline points="3.7,28.4 3.3,26.9 3.5,25.5" stroke="#5cbc2c" stroke-width="0.9"/>
<polyline points="3.3,26.9 4.7,26.3" stroke="#5cbc2c" stroke-width="1.7"/>
<polyline points="4.7,26.3 6.2,26.3 7.6,26.7" stroke="#5cbc2c" stroke-width="1.2"/>
<polyline points="7.6,26.7 8.8,27.6" stroke="#5cbc2c" stroke-width="0.8"/>
<polyline points="4.3,37.3 4.6,35.8 4.8,34.3 4.8,32.8" stroke="#78c030" stroke-width="2.2"/>
<polyline points="4.8,32.8 5.2,31.4 5.2,29.9 5.0,28.4" stroke="#78c030" stroke-width="1.5"/>
<polyline points="5.0,28.4 4.4,27.0 3.4,25.8" stroke="#78c030" stroke-width="0.9"/>
<circle cx="3.9" cy="36.9" r="1.9" fill="#48b02a"/>
<circle cx="4.6" cy="37.1" r="1.4" fill="#c8d828"/>
<circle cx="2.8" cy="38.1" r="2.3" fill="#78c030"/>
<circle cx="0.2" cy="34.4" r="2.3" fill="#3aa826"/>
<circle cx="3.9" cy="37.7" r="1.3" fill="#c8d828"/>
<circle cx="-0.3" cy="36.6" r="2.3" fill="#48b02a"/>
<circle cx="6.6" cy="40.2" r="2.1" fill="#78c030"/>
<circle cx="2.8" cy="38.3" r="2.3" fill="#5cbc2c"/>
<circle cx="-0.3" cy="36.5" r="2.1" fill="#78c030"/>
<circle cx="4.4" cy="37.5" r="1.5" fill="#c8d828"/>
<circle cx="3.5" cy="37.8" r="1.8" fill="#3aa826"/>
<circle cx="4.9" cy="38.2" r="1.3" fill="#e0b818"/>
<circle cx="6.6" cy="36.6" r="1.1" fill="#c8d828"/>
<circle cx="3.4" cy="37.9" r="0.7" fill="#d6d020"/>
<circle cx="4.5" cy="36.2" r="0.8" fill="#e8c030"/>
<circle cx="4.4" cy="36.9" r="1.0" fill="#c8d828"/>
<circle cx="5.9" cy="37.5" r="0.7" fill="#d6d020"/>
<circle cx="3.6" cy="37.7" r="0.7" fill="#e0b818"/>
<circle cx="4.5" cy="37.1" r="1.3" fill="#e8c030"/>
<circle cx="5.5" cy="37.1" r="1.3" fill="#e8c030"/>
<circle cx="4.9" cy="37.4" r="1.2" fill="#c8d828"/>
<polyline points="35.9,35.1 37.3,35.4 38.6,36.1" stroke="#5cbc2c" stroke-width="2.3"/>
<polyline points="38.6,36.1 40.1,36.4 41.5,37.0" stroke="#5cbc2c" stroke-width="1.5"/>
<polyline points="41.5,37.0 43.0,36.9 44.4,36.2" stroke="#5cbc2c" stroke-width="1.0"/>
<polyline points="40.1,36.4 41.5,35.9" stroke="#5cbc2c" stroke-width="1.8"/>
<polyline points="41.5,35.9 42.6,34.9" stroke="#5cbc2c" stroke-width="1.2"/>
<polyline points="42.6,34.9 43.5,33.7" stroke="#5cbc2c" stroke-width="0.8"/>
<polyline points="35.9,35.1 36.4,36.5 37.1,37.8" stroke="#5cbc2c" stroke-width="2.3"/>
<polyline points="37.1,37.8 37.4,39.3 37.1,40.8" stroke="#5cbc2c" stroke-width="1.5"/>
<polyline points="37.1,40.8 36.4,42.1 35.4,43.2" stroke="#5cbc2c" stroke-width="1.0"/>
<polyline points="37.1,40.8 35.8,41.6" stroke="#5cbc2c" stroke-width="1.8"/>
<polyline points="35.8,41.6 34.7,42.6" stroke="#5cbc2c" stroke-width="1.2"/>
<polyline points="34.7,42.6 33.4,43.4" stroke="#5cbc2c" stroke-width="0.8"/>
<polyline points="35.4,43.2 34.8,44.6" stroke="#5cbc2c" stroke-width="1.8"/>
<polyline points="34.8,44.6 34.5,46.1" stroke="#5cbc2c" stroke-width="1.2"/>
<polyline points="34.5,46.1 34.0,47.5" stroke="#5cbc2c" stroke-width="0.8"/>
<polyline points="35.9,35.1 36.2,36.6 36.8,37.9" stroke="#3aa826" stroke-width="2.3"/>
<polyline points="36.8,37.9 37.4,39.3 38.4,40.4" stroke="#3aa826" stroke-width="1.5"/>
<polyline points="38.4,40.4 39.7,41.3 41.0,42.0" stroke="#3aa826" stroke-width="1.0"/>
<polyline points="36.8,37.9 38.3,38.1" stroke="#3aa826" stroke-width="1.8"/>
<polyline points="38.3,38.1 39.6,38.8" stroke="#3aa826" stroke-width="1.2"/>
<polyline points="39.6,38.8 41.1,39.2" stroke="#3aa826" stroke-width="0.8"/>
<polyline points="38.4,40.4 39.8,41.0" stroke="#3aa826" stroke-width="1.8"/>
<polyline points="39.8,41.0 41.3,41.3" stroke="#3aa826" stroke-width="1.2"/>
<polyline points="41.3,41.3 42.6,42.0" stroke="#3aa826" stroke-width="0.8"/>
<polyline points="39.7,41.3 40.3,42.6" stroke="#3aa826" stroke-width="1.8"/>
<polyline points="40.3,42.6 40.4,44.1" stroke="#3aa826" stroke-width="1.2"/>
<polyline points="40.4,44.1 40.5,45.6" stroke="#3aa826" stroke-width="0.8"/>
<polyline points="35.9,35.1 34.5,35.8 33.0,36.0" stroke="#78c030" stroke-width="2.3"/>
<polyline points="33.0,36.0 31.6,36.4 30.5,37.4" stroke="#78c030" stroke-width="1.5"/>
<polyline points="30.5,37.4 29.2,38.3 28.4,39.5" stroke="#78c030" stroke-width="1.0"/>
<polyline points="33.0,36.0 32.0,34.8" stroke="#78c030" stroke-width="1.8"/>
<polyline points="32.0,34.8 31.0,33.7" stroke="#78c030" stroke-width="1.2"/>
<polyline points="31.0,33.7 30.3,32.4" stroke="#78c030" stroke-width="0.8"/>
<polyline points="31.6,36.4 30.3,35.6" stroke="#78c030" stroke-width="1.8"/>
<polyline points="30.3,35.6 29.4,34.4" stroke="#78c030" stroke-width="1.2"/>
<polyline points="29.4,34.4 29.1,32.9" stroke="#78c030" stroke-width="0.8"/>
<polyline points="35.9,35.1 34.7,36.1 33.3,36.7 32.0,37.4" stroke="#78c030" stroke-width="2.3"/>
<polyline points="32.0,37.4 31.1,38.6 30.2,39.8 29.5,41.2" stroke="#78c030" stroke-width="1.5"/>
<polyline points="29.5,41.2 29.3,42.6 28.4,43.9" stroke="#78c030" stroke-width="1.0"/>
<polyline points="29.5,41.2 30.7,42.1" stroke="#78c030" stroke-width="1.8"/>
<polyline points="30.7,42.1 31.6,43.3 31.9,44.8" stroke="#78c030" stroke-width="1.2"/>
<polyline points="31.9,44.8 32.3,46.3" stroke="#78c030" stroke-width="0.8"/>
<polyline points="35.9,35.1 34.4,34.7 33.1,33.9" stroke="#78c030" stroke-width="2.3"/>
<polyline points="33.1,33.9 32.3,32.6 31.3,31.6" stroke="#78c030" stroke-width="1.5"/>
<polyline points="31.3,31.6 30.2,30.6" stroke="#78c030" stroke-width="1.0"/>
<polyline points="34.4,34.7 33.1,35.4" stroke="#78c030" stroke-width="1.8"/>
<polyline points="33.1,35.4 32.0,36.4" stroke="#78c030" stroke-width="1.2"/>
<polyline points="32.3,32.6 30.9,33.0" stroke="#78c030" stroke-width="1.8"/>
<polyline points="30.9,33.0 29.4,33.1" stroke="#78c030" stroke-width="1.2"/>
<polyline points="35.9,35.1 35.1,33.8 34.7,32.4" stroke="#78c030" stroke-width="2.3"/>
<polyline points="34.7,32.4 34.8,30.9 34.5,29.4 33.6,28.2" stroke="#78c030" stroke-width="1.5"/>
<polyline points="33.6,28.2 32.5,27.2 31.3,26.3" stroke="#78c030" stroke-width="1.0"/>
<polyline points="35.1,33.8 35.3,32.4" stroke="#78c030" stroke-width="1.8"/>
<polyline points="35.3,32.4 35.8,30.9" stroke="#78c030" stroke-width="1.2"/>
<polyline points="35.8,30.9 36.3,29.5" stroke="#78c030" stroke-width="0.8"/>
<polyline points="33.6,28.2 34.4,26.9" stroke="#78c030" stroke-width="1.8"/>
<polyline points="34.4,26.9 34.7,25.5" stroke="#78c030" stroke-width="1.2"/>
<polyline points="34.7,25.5 35.2,24.0" stroke="#78c030" stroke-width="0.8"/>
<polyline points="35.9,35.1 36.2,33.7 36.4,32.2" stroke="#5cbc2c" stroke-width="2.3"/>
<polyline points="36.4,32.2 36.9,30.8 37.9,29.7" stroke="#5cbc2c" stroke-width="1.5"/>
<polyline points="37.9,29.7 38.6,28.3 39.4,27.0" stroke="#5cbc2c" stroke-width="1.0"/>
<polyline points="38.6,28.3 38.8,26.8" stroke="#5cbc2c" stroke-width="1.8"/>
<polyline points="38.8,26.8 39.2,25.4" stroke="#5cbc2c" stroke-width="1.2"/>
<polyline points="39.2,25.4 39.4,23.9" stroke="#5cbc2c" stroke-width="0.8"/>
<polyline points="39.4,27.0 40.6,26.1" stroke="#5cbc2c" stroke-width="1.8"/>
<polyline points="40.6,26.1 42.0,25.8" stroke="#5cbc2c" stroke-width="1.2"/>
<polyline points="42.0,25.8 43.5,25.8" stroke="#5cbc2c" stroke-width="0.8"/>
<polyline points="35.9,35.1 37.3,34.7 38.7,34.2" stroke="#3aa826" stroke-width="2.3"/>
<polyline points="38.7,34.2 40.1,33.6 41.5,33.0" stroke="#3aa826" stroke-width="1.5"/>
<polyline points="41.5,33.0 42.7,32.3 43.8,31.2" stroke="#3aa826" stroke-width="1.0"/>
<polyline points="37.3,34.7 37.5,33.3" stroke="#3aa826" stroke-width="1.8"/>
<polyline points="37.5,33.3 38.2,31.9" stroke="#3aa826" stroke-width="1.2"/>
<polyline points="38.2,31.9 38.6,30.5" stroke="#3aa826" stroke-width="0.8"/>
<circle cx="40.0" cy="32.4" r="1.5" fill="#e8c030"/>
<circle cx="36.7" cy="34.4" r="1.9" fill="#5cbc2c"/>
<circle cx="36.9" cy="34.2" r="1.6" fill="#48b02a"/>
<circle cx="36.0" cy="33.2" r="1.9" fill="#78c030"/>
<circle cx="34.0" cy="36.0" r="1.8" fill="#48b02a"/>
<circle cx="36.7" cy="34.2" r="1.1" fill="#e0b818"/>
<circle cx="32.8" cy="35.5" r="1.6" fill="#78c030"/>
<circle cx="34.1" cy="35.4" r="1.5" fill="#e8c030"/>
<circle cx="39.2" cy="34.6" r="2.4" fill="#48b02a"/>
<circle cx="36.4" cy="35.3" r="1.1" fill="#3aa826"/>
<circle cx="37.3" cy="34.2" r="1.9" fill="#e0b818"/>
<circle cx="38.0" cy="35.8" r="1.0" fill="#d86a14"/>
<circle cx="34.9" cy="33.7" r="1.6" fill="#e08818"/>
<circle cx="37.7" cy="35.5" r="1.4" fill="#d86a14"/>
<circle cx="34.3" cy="34.7" r="1.1" fill="#e8c030"/>
<circle cx="36.4" cy="35.9" r="1.3" fill="#e08818"/>
<circle cx="38.5" cy="35.7" r="1.3" fill="#e8c030"/>
<circle cx="35.9" cy="34.6" r="1.4" fill="#c8d828"/>
<circle cx="33.4" cy="35.0" r="1.0" fill="#d86a14"/>
<circle cx="38.2" cy="35.8" r="1.5" fill="#e08818"/>
<circle cx="36.6" cy="35.8" r="1.2" fill="#e08818"/>
<polyline points="62.4,33.7 63.7,32.9 64.8,31.9" stroke="#48b02a" stroke-width="2.4"/>
<polyline points="64.8,31.9 65.7,30.7 66.5,29.5 67.4,28.3" stroke="#48b02a" stroke-width="1.6"/>
<polyline points="67.4,28.3 68.7,27.5 70.0,26.7" stroke="#48b02a" stroke-width="1.0"/>
<polyline points="63.7,32.9 63.2,31.5" stroke="#48b02a" stroke-width="1.9"/>
<polyline points="63.2,31.5 62.3,30.3" stroke="#48b02a" stroke-width="1.3"/>
<polyline points="62.3,30.3 61.8,28.9" stroke="#48b02a" stroke-width="0.8"/>
<polyline points="67.4,28.3 67.4,26.8" stroke="#48b02a" stroke-width="1.9"/>
<polyline points="67.4,26.8 67.7,25.3" stroke="#48b02a" stroke-width="1.3"/>
<polyline points="67.7,25.3 67.6,23.8" stroke="#48b02a" stroke-width="0.8"/>
<polyline points="68.7,27.5 69.2,26.0" stroke="#48b02a" stroke-width="1.9"/>
<polyline points="69.2,26.0 69.0,24.6" stroke="#48b02a" stroke-width="1.3"/>
<polyline points="69.0,24.6 68.4,23.2" stroke="#48b02a" stroke-width="0.8"/>
<polyline points="70.0,26.7 70.0,25.2" stroke="#48b02a" stroke-width="1.9"/>
<polyline points="70.0,25.2 70.6,23.9" stroke="#48b02a" stroke-width="1.3"/>
<polyline points="70.6,23.9 71.4,22.6" stroke="#48b02a" stroke-width="0.8"/>
<polyline points="62.4,33.7 63.2,35.0 64.1,36.2" stroke="#78c030" stroke-width="2.4"/>
<polyline points="64.1,36.2 65.3,37.1 66.4,38.0" stroke="#78c030" stroke-width="1.6"/>
<polyline points="66.4,38.0 67.7,38.8" stroke="#78c030" stroke-width="1.0"/>
<polyline points="63.2,35.0 64.7,34.6" stroke="#78c030" stroke-width="1.9"/>
<polyline points="64.7,34.6 66.1,34.1" stroke="#78c030" stroke-width="1.3"/>
<polyline points="66.4,38.0 67.9,37.8" stroke="#78c030" stroke-width="1.9"/>
<polyline points="67.9,37.8 69.4,37.4" stroke="#78c030" stroke-width="1.3"/>
<polyline points="62.4,33.7 62.7,35.2 63.0,36.6" stroke="#78c030" stroke-width="2.4"/>
<polyline points="63.0,36.6 63.5,38.1 64.5,39.2 64.9,40.6" stroke="#78c030" stroke-width="1.6"/>
<polyline points="64.9,40.6 65.3,42.1 65.9,43.4" stroke="#78c030" stroke-width="1.0"/>
<polyline points="63.0,36.6 62.5,38.0" stroke="#78c030" stroke-width="1.9"/>
<polyline points="62.5,38.0 61.7,39.3" stroke="#78c030" stroke-width="1.3"/>
<polyline points="61.7,39.3 61.1,40.7" stroke="#78c030" stroke-width="0.8"/>
<polyline points="63.5,38.1 65.0,38.1" stroke="#78c030" stroke-width="1.9"/>
<polyline points="65.0,38.1 66.3,38.7" stroke="#78c030" stroke-width="1.3"/>
<polyline points="66.3,38.7 67.6,39.6" stroke="#78c030" stroke-width="0.8"/>
<polyline points="62.4,33.7 61.0,34.2 59.5,34.7" stroke="#48b02a" stroke-width="2.4"/>
<polyline points="59.5,34.7 58.4,35.7 57.1,36.3" stroke="#48b02a" stroke-width="1.6"/>
<polyline points="57.1,36.3 55.7,36.8 54.5,37.8" stroke="#48b02a" stroke-width="1.0"/>
<polyline points="58.4,35.7 56.9,35.9" stroke="#48b02a" stroke-width="1.9"/>
<polyline points="56.9,35.9 55.5,36.2" stroke="#48b02a" stroke-width="1.3"/>
<polyline points="55.5,36.2 54.2,36.9" stroke="#48b02a" stroke-width="0.8"/>
<polyline points="62.4,33.7 61.1,32.9 59.9,32.0" stroke="#5cbc2c" stroke-width="2.4"/>
<polyline points="59.9,32.0 58.8,31.0 58.2,29.6" stroke="#5cbc2c" stroke-width="1.6"/>
<polyline points="58.2,29.6 57.1,28.6" stroke="#5cbc2c" stroke-width="1.0"/>
<polyline points="59.9,32.0 59.8,30.5" stroke="#5cbc2c" stroke-width="1.9"/>
<polyline points="59.8,30.5 59.9,29.0" stroke="#5cbc2c" stroke-width="1.3"/>
<polyline points="62.4,33.7 61.3,32.6 60.8,31.2 59.8,30.1" stroke="#78c030" stroke-width="2.4"/>
<polyline points="59.8,30.1 58.8,29.0 57.5,28.3 56.3,27.3" stroke="#78c030" stroke-width="1.6"/>
<polyline points="56.3,27.3 55.1,26.5 54.0,25.5" stroke="#78c030" stroke-width="1.0"/>
<polyline points="59.8,30.1 58.3,30.1" stroke="#78c030" stroke-width="1.9"/>
<polyline points="58.3,30.1 56.8,29.9 55.4,29.5" stroke="#78c030" stroke-width="1.3"/>
<polyline points="55.4,29.5 53.9,29.7" stroke="#78c030" stroke-width="0.8"/>
<polyline points="56.3,27.3 54.8,27.5" stroke="#78c030" stroke-width="1.9"/>
<polyline points="54.8,27.5 53.5,28.2 52.3,29.2" stroke="#78c030" stroke-width="1.3"/>
<polyline points="52.3,29.2 51.5,30.4" stroke="#78c030" stroke-width="0.8"/>
<polyline points="62.4,33.7 63.6,32.9 64.7,31.8" stroke="#3aa826" stroke-width="2.4"/>
<polyline points="64.7,31.8 65.7,30.7 66.9,29.9" stroke="#3aa826" stroke-width="1.6"/>
<polyline points="66.9,29.9 68.2,29.0 69.6,28.6" stroke="#3aa826" stroke-width="1.0"/>
<polyline points="63.6,32.9 65.0,33.5" stroke="#3aa826" stroke-width="1.9"/>
<polyline points="65.0,33.5 66.5,33.5" stroke="#3aa826" stroke-width="1.3"/>
<polyline points="66.5,33.5 67.9,34.0" stroke="#3aa826" stroke-width="0.8"/>
<circle cx="63.7" cy="35.6" r="1.7" fill="#e0b818"/>
<circle cx="62.8" cy="35.0" r="1.9" fill="#78c030"/>
<circle cx="63.7" cy="33.7" r="1.1" fill="#78c030"/>
<circle cx="61.6" cy="33.4" r="2.1" fill="#e0b818"/>
<circle cx="59.7" cy="37.2" r="2.2" fill="#48b02a"/>
<circle cx="62.2" cy="30.7" r="1.7" fill="#e0b818"/>
<circle cx="61.8" cy="34.3" r="1.6" fill="#d6d020"/>
<circle cx="63.1" cy="31.5" r="1.4" fill="#e0b818"/>
<circle cx="61.3" cy="34.5" r="2.3" fill="#48b02a"/>
<circle cx="61.6" cy="35.3" r="1.3" fill="#78c030"/>
<circle cx="62.2" cy="33.2" r="2.5" fill="#5cbc2c"/>
<circle cx="62.6" cy="34.2" r="0.9" fill="#c8d828"/>
<circle cx="60.4" cy="33.5" r="1.2" fill="#c8d828"/>
<circle cx="63.1" cy="34.1" r="1.6" fill="#c8d828"/>
<circle cx="64.5" cy="33.7" r="1.6" fill="#d6d020"/>
<circle cx="62.4" cy="33.7" r="1.2" fill="#c8d828"/>
<circle cx="63.0" cy="34.0" r="1.2" fill="#c8d828"/>
<circle cx="62.9" cy="33.2" r="0.9" fill="#c8d828"/>
<circle cx="62.1" cy="34.0" r="1.0" fill="#e0b818"/>
<circle cx="63.8" cy="33.7" r="1.4" fill="#c8d828"/>
<circle cx="62.2" cy="32.7" r="1.4" fill="#e0b818"/>
<polyline points="46.6,62.4 48.0,62.9 49.4,63.5" stroke="#5cbc2c" stroke-width="2.3"/>
<polyline points="49.4,63.5 50.9,63.8 52.3,63.5" stroke="#5cbc2c" stroke-width="1.5"/>
<polyline points="52.3,63.5 53.8,63.5 55.3,63.5" stroke="#5cbc2c" stroke-width="1.0"/>
<polyline points="53.8,63.5 55.2,63.0" stroke="#5cbc2c" stroke-width="1.8"/>
<polyline points="55.2,63.0 56.3,61.9" stroke="#5cbc2c" stroke-width="1.2"/>
<polyline points="56.3,61.9 57.6,61.1" stroke="#5cbc2c" stroke-width="0.8"/>
<polyline points="55.3,63.5 56.7,64.2" stroke="#5cbc2c" stroke-width="1.8"/>
<polyline points="56.7,64.2 58.2,64.2" stroke="#5cbc2c" stroke-width="1.2"/>
<polyline points="58.2,64.2 59.7,64.3" stroke="#5cbc2c" stroke-width="0.8"/>
<polyline points="46.6,62.4 47.5,63.6 48.7,64.4 49.9,65.4" stroke="#48b02a" stroke-width="2.3"/>
<polyline points="49.9,65.4 50.7,66.7 51.8,67.6 53.0,68.5" stroke="#48b02a" stroke-width="1.5"/>
<polyline points="53.0,68.5 54.1,69.6 55.4,70.3" stroke="#48b02a" stroke-width="1.0"/>
<polyline points="50.7,66.7 52.1,66.4" stroke="#48b02a" stroke-width="1.8"/>
<polyline points="52.1,66.4 53.6,66.2 55.1,66.5" stroke="#48b02a" stroke-width="1.2"/>
<polyline points="55.1,66.5 56.6,66.3" stroke="#48b02a" stroke-width="0.8"/>
<polyline points="54.1,69.6 54.3,71.1" stroke="#48b02a" stroke-width="1.8"/>
<polyline points="54.3,71.1 54.1,72.5 53.7,74.0" stroke="#48b02a" stroke-width="1.2"/>
<polyline points="53.7,74.0 53.0,75.3" stroke="#48b02a" stroke-width="0.8"/>
<polyline points="46.6,62.4 45.9,63.7 45.8,65.2" stroke="#3aa826" stroke-width="2.3"/>
<polyline points="45.8,65.2 46.4,66.6 46.9,68.0 47.1,69.5" stroke="#3aa826" stroke-width="1.5"/>
<polyline points="47.1,69.5 47.9,70.8 48.3,72.2" stroke="#3aa826" stroke-width="1.0"/>
<polyline points="45.9,63.7 47.0,64.7" stroke="#3aa826" stroke-width="1.8"/>
<polyline points="47.0,64.7 48.3,65.5" stroke="#3aa826" stroke-width="1.2"/>
<polyline points="48.3,65.5 49.8,65.7" stroke="#3aa826" stroke-width="0.8"/>
<polyline points="45.8,65.2 44.4,65.4" stroke="#3aa826" stroke-width="1.8"/>
<polyline points="44.4,65.4 42.9,65.8" stroke="#3aa826" stroke-width="1.2"/>
<polyline points="42.9,65.8 41.5,66.2" stroke="#3aa826" stroke-width="0.8"/>
<polyline points="46.4,66.6 47.9,66.9" stroke="#3aa826" stroke-width="1.8"/>
<polyline points="47.9,66.9 49.4,67.0" stroke="#3aa826" stroke-width="1.2"/>
<polyline points="49.4,67.0 50.8,67.3" stroke="#3aa826" stroke-width="0.8"/>
<polyline points="47.9,70.8 49.4,70.4" stroke="#3aa826" stroke-width="1.8"/>
<polyline points="49.4,70.4 50.7,69.7" stroke="#3aa826" stroke-width="1.2"/>
<polyline points="50.7,69.7 52.2,69.5" stroke="#3aa826" stroke-width="0.8"/>
<polyline points="46.6,62.4 46.6,63.9 46.3,65.4" stroke="#3aa826" stroke-width="2.3"/>
<polyline points="46.3,65.4 46.0,66.8 45.5,68.2" stroke="#3aa826" stroke-width="1.5"/>
<polyline points="45.5,68.2 45.3,69.7" stroke="#3aa826" stroke-width="1.0"/>
<polyline points="46.6,63.9 45.4,64.8" stroke="#3aa826" stroke-width="1.8"/>
<polyline points="45.4,64.8 44.1,65.5" stroke="#3aa826" stroke-width="1.2"/>
<polyline points="45.5,68.2 44.0,68.6" stroke="#3aa826" stroke-width="1.8"/>
<polyline points="44.0,68.6 42.6,68.9" stroke="#3aa826" stroke-width="1.2"/>
<polyline points="46.6,62.4 45.8,63.7 45.2,65.0 44.1,66.0" stroke="#5cbc2c" stroke-width="2.3"/>
<polyline points="44.1,66.0 43.3,67.3 42.2,68.3 40.9,69.1" stroke="#5cbc2c" stroke-width="1.5"/>
<polyline points="40.9,69.1 39.8,70.1 38.5,70.8" stroke="#5cbc2c" stroke-width="1.0"/>
<polyline points="45.8,63.7 45.8,65.2" stroke="#5cbc2c" stroke-width="1.8"/>
<polyline points="45.8,65.2 46.4,66.5 47.0,67.9" stroke="#5cbc2c" stroke-width="1.2"/>
<polyline points="47.0,67.9 47.8,69.2" stroke="#5cbc2c" stroke-width="0.8"/>
<polyline points="46.6,62.4 45.5,63.4 44.1,63.9 42.6,63.8" stroke="#5cbc2c" stroke-width="2.3"/>
<polyline points="42.6,63.8 41.1,64.2 39.6,64.2 38.1,64.4" stroke="#5cbc2c" stroke-width="1.5"/>
<polyline points="38.1,64.4 36.8,65.0 35.3,65.0 33.8,64.8" stroke="#5cbc2c" stroke-width="1.0"/>
<polyline points="45.5,63.4 44.0,63.2" stroke="#5cbc2c" stroke-width="1.8"/>
<polyline points="44.0,63.2 42.5,63.1 41.0,62.8" stroke="#5cbc2c" stroke-width="1.2"/>
<polyline points="41.0,62.8 39.6,62.5" stroke="#5cbc2c" stroke-width="0.8"/>
<polyline points="42.6,63.8 42.4,62.4" stroke="#5cbc2c" stroke-width="1.8"/>
<polyline points="42.4,62.4 42.2,60.9 42.7,59.4" stroke="#5cbc2c" stroke-width="1.2"/>
<polyline points="42.7,59.4 42.6,57.9" stroke="#5cbc2c" stroke-width="0.8"/>
<polyline points="41.1,64.2 41.2,65.7" stroke="#5cbc2c" stroke-width="1.8"/>
<polyline points="41.2,65.7 41.8,67.1 42.7,68.3" stroke="#5cbc2c" stroke-width="1.2"/>
<polyline points="42.7,68.3 43.2,69.7" stroke="#5cbc2c" stroke-width="0.8"/>
<polyline points="35.3,65.0 34.1,65.9" stroke="#5cbc2c" stroke-width="1.8"/>
<polyline points="34.1,65.9 32.9,66.9 32.1,68.1" stroke="#5cbc2c" stroke-width="1.2"/>
<polyline points="32.1,68.1 31.4,69.5" stroke="#5cbc2c" stroke-width="0.8"/>
<polyline points="33.8,64.8 32.9,63.6" stroke="#5cbc2c" stroke-width="1.8"/>
<polyline points="32.9,63.6 31.7,62.6 30.9,61.4" stroke="#5cbc2c" stroke-width="1.2"/>
<polyline points="30.9,61.4 30.7,59.9" stroke="#5cbc2c" stroke-width="0.8"/>
<polyline points="46.6,62.4 45.3,61.6 43.9,61.4" stroke="#78c030" stroke-width="2.3"/>
<polyline points="43.9,61.4 42.4,61.3 40.9,61.4 39.5,60.8" stroke="#78c030" stroke-width="1.5"/>
<polyline points="39.5,60.8 38.1,60.3 36.6,59.8" stroke="#78c030" stroke-width="1.0"/>
<polyline points="45.3,61.6 46.2,60.3" stroke="#78c030" stroke-width="1.8"/>
<polyline points="46.2,60.3 46.9,59.0" stroke="#78c030" stroke-width="1.2"/>
<polyline points="46.9,59.0 47.9,57.9" stroke="#78c030" stroke-width="0.8"/>
<polyline points="42.4,61.3 41.1,62.1" stroke="#78c030" stroke-width="1.8"/>
<polyline points="41.1,62.1 39.6,62.6" stroke="#78c030" stroke-width="1.2"/>
<polyline points="39.6,62.6 38.4,63.4" stroke="#78c030" stroke-width="0.8"/>
<polyline points="39.5,60.8 39.6,59.3" stroke="#78c030" stroke-width="1.8"/>
<polyline points="39.6,59.3 39.3,57.9" stroke="#78c030" stroke-width="1.2"/>
<polyline points="39.3,57.9 38.6,56.6" stroke="#78c030" stroke-width="0.8"/>
<polyline points="36.6,59.8 35.2,60.2" stroke="#78c030" stroke-width="1.8"/>
<polyline points="35.2,60.2 33.7,60.5" stroke="#78c030" stroke-width="1.2"/>
<polyline points="33.7,60.5 32.3,60.8" stroke="#78c030" stroke-width="0.8"/>
<polyline points="46.6,62.4 45.9,61.1 45.7,59.6" stroke="#78c030" stroke-width="2.3"/>
<polyline points="45.7,59.6 45.0,58.2 44.9,56.7" stroke="#78c030" stroke-width="1.5"/>
<polyline points="44.9,56.7 44.4,55.3 43.6,54.1" stroke="#78c030" stroke-width="1.0"/>
<polyline points="46.6,62.4 46.9,60.9 46.4,59.5 45.5,58.2" stroke="#3aa826" stroke-width="2.3"/>
<polyline points="45.5,58.2 45.0,56.8 44.7,55.4 44.3,53.9" stroke="#3aa826" stroke-width="1.5"/>
<polyline points="44.3,53.9 44.4,52.4 43.8,51.0 43.5,49.6" stroke="#3aa826" stroke-width="1.0"/>
<polyline points="43.5,49.6 42.0,49.7" stroke="#3aa826" stroke-width="1.8"/>
<polyline points="42.0,49.7 40.5,49.8 39.1,50.5" stroke="#3aa826" stroke-width="1.2"/>
<polyline points="39.1,50.5 37.7,50.8" stroke="#3aa826" stroke-width="0.8"/>
<polyline points="46.6,62.4 47.3,61.1 48.1,59.8 48.9,58.5" stroke="#48b02a" stroke-width="2.3"/>
<polyline points="48.9,58.5 49.7,57.2 50.2,55.8 50.7,54.4" stroke="#48b02a" stroke-width="1.5"/>
<polyline points="50.7,54.4 50.9,52.9 51.6,51.6" stroke="#48b02a" stroke-width="1.0"/>
<polyline points="50.9,52.9 52.3,52.6" stroke="#48b02a" stroke-width="1.8"/>
<polyline points="52.3,52.6 53.8,52.6 55.3,53.0" stroke="#48b02a" stroke-width="1.2"/>
<polyline points="55.3,53.0 56.6,53.7" stroke="#48b02a" stroke-width="0.8"/>
<circle cx="46.7" cy="63.4" r="1.3" fill="#48b02a"/>
<circle cx="44.8" cy="64.4" r="1.7" fill="#c8d828"/>
<circle cx="50.1" cy="62.2" r="2.3" fill="#c8d828"/>
<circle cx="45.8" cy="65.9" r="1.2" fill="#48b02a"/>
<circle cx="43.8" cy="64.8" r="1.4" fill="#3aa826"/>
<circle cx="49.6" cy="62.3" r="1.3" fill="#e8c030"/>
<circle cx="47.1" cy="62.4" r="2.0" fill="#48b02a"/>
<circle cx="47.6" cy="61.0" r="1.5" fill="#48b02a"/>
<circle cx="50.3" cy="61.4" r="1.9" fill="#78c030"/>
<circle cx="44.9" cy="60.8" r="1.0" fill="#3aa826"/>
<circle cx="49.9" cy="60.0" r="1.3" fill="#e0b818"/>
<circle cx="47.5" cy="61.7" r="0.9" fill="#d86a14"/>
<circle cx="45.8" cy="62.9" r="1.4" fill="#e08818"/>
<circle cx="47.0" cy="60.3" r="1.5" fill="#e0a020"/>
<circle cx="48.3" cy="61.2" r="0.9" fill="#d6d020"/>
<circle cx="46.8" cy="62.9" r="0.9" fill="#e0b818"/>
<circle cx="46.4" cy="62.5" r="0.7" fill="#c8d828"/>
<circle cx="48.0" cy="61.4" r="1.3" fill="#d86a14"/>
<circle cx="46.3" cy="60.7" r="1.0" fill="#d6d020"/>
<circle cx="46.6" cy="62.2" r="0.7" fill="#e0a020"/>
<circle cx="46.4" cy="60.8" r="1.4" fill="#e0b818"/>
<polyline points="55.2,19.4 56.7,19.6 58.1,20.0" stroke="#78c030" stroke-width="1.7"/>
<polyline points="58.1,20.0 59.5,20.6 60.6,21.6 61.9,22.4" stroke="#78c030" stroke-width="1.2"/>
<polyline points="61.9,22.4 62.7,23.6 63.9,24.6" stroke="#78c030" stroke-width="0.8"/>
<polyline points="56.7,19.6 57.9,20.4" stroke="#78c030" stroke-width="1.4"/>
<polyline points="57.9,20.4 59.4,20.9" stroke="#78c030" stroke-width="1.0"/>
<polyline points="59.4,20.9 60.8,21.4" stroke="#78c030" stroke-width="0.6"/>
<polyline points="55.2,19.4 56.7,19.7 58.1,19.5" stroke="#3aa826" stroke-width="1.7"/>
<polyline points="58.1,19.5 59.4,18.7 60.9,18.5" stroke="#3aa826" stroke-width="1.2"/>
<polyline points="60.9,18.5 62.2,17.8 63.6,17.2" stroke="#3aa826" stroke-width="0.8"/>
<polyline points="58.1,19.5 59.4,18.6" stroke="#3aa826" stroke-width="1.4"/>
<polyline points="59.4,18.6 60.6,17.8" stroke="#3aa826" stroke-width="1.0"/>
<polyline points="60.6,17.8 62.1,17.3" stroke="#3aa826" stroke-width="0.6"/>
<polyline points="62.2,17.8 63.7,18.0" stroke="#3aa826" stroke-width="1.4"/>
<polyline points="63.7,18.0 65.1,18.6" stroke="#3aa826" stroke-width="1.0"/>
<polyline points="65.1,18.6 66.6,18.8" stroke="#3aa826" stroke-width="0.6"/>
<polyline points="55.2,19.4 55.0,20.8 54.8,22.3" stroke="#48b02a" stroke-width="1.7"/>
<polyline points="54.8,22.3 54.4,23.8 53.8,25.1" stroke="#48b02a" stroke-width="1.2"/>
<polyline points="53.8,25.1 53.2,26.5" stroke="#48b02a" stroke-width="0.8"/>
<polyline points="55.0,20.8 56.2,21.7" stroke="#48b02a" stroke-width="1.4"/>
<polyline points="56.2,21.7 56.9,23.0" stroke="#48b02a" stroke-width="1.0"/>
<polyline points="53.8,25.1 55.1,25.9" stroke="#48b02a" stroke-width="1.4"/>
<polyline points="55.1,25.9 56.5,26.4" stroke="#48b02a" stroke-width="1.0"/>
<polyline points="55.2,19.4 54.8,20.8 54.7,22.3" stroke="#78c030" stroke-width="1.7"/>
<polyline points="54.7,22.3 54.7,23.8 54.9,25.3" stroke="#78c030" stroke-width="1.2"/>
<polyline points="54.9,25.3 55.2,26.7 55.7,28.2" stroke="#78c030" stroke-width="0.8"/>
<polyline points="54.7,22.3 55.7,23.4" stroke="#78c030" stroke-width="1.4"/>
<polyline points="55.7,23.4 56.8,24.4" stroke="#78c030" stroke-width="1.0"/>
<polyline points="56.8,24.4 57.9,25.5" stroke="#78c030" stroke-width="0.6"/>
<polyline points="55.2,19.4 53.7,19.6 52.2,19.4" stroke="#78c030" stroke-width="1.7"/>
<polyline points="52.2,19.4 50.9,18.8 49.7,17.9" stroke="#78c030" stroke-width="1.2"/>
<polyline points="49.7,17.9 48.6,16.8" stroke="#78c030" stroke-width="0.8"/>
<polyline points="50.9,18.8 49.5,19.3" stroke="#78c030" stroke-width="1.4"/>
<polyline points="49.5,19.3 48.0,19.7" stroke="#78c030" stroke-width="1.0"/>
<polyline points="55.2,19.4 53.7,19.6 52.2,19.4" stroke="#3aa826" stroke-width="1.7"/>
<polyline points="52.2,19.4 50.7,19.3 49.2,19.3" stroke="#3aa826" stroke-width="1.2"/>
<polyline points="49.2,19.3 47.8,19.7 46.6,20.7" stroke="#3aa826" stroke-width="0.8"/>
<polyline points="50.7,19.3 50.1,17.9" stroke="#3aa826" stroke-width="1.4"/>
<polyline points="50.1,17.9 49.8,16.5" stroke="#3aa826" stroke-width="1.0"/>
<polyline points="49.8,16.5 49.4,15.0" stroke="#3aa826" stroke-width="0.6"/>
<polyline points="55.2,19.4 54.3,18.2 53.2,17.2" stroke="#3aa826" stroke-width="1.7"/>
<polyline points="53.2,17.2 52.1,16.2 51.5,14.8" stroke="#3aa826" stroke-width="1.2"/>
<polyline points="51.5,14.8 51.0,13.4 50.4,12.0" stroke="#3aa826" stroke-width="0.8"/>
<polyline points="51.5,14.8 52.3,13.5" stroke="#3aa826" stroke-width="1.4"/>
<polyline points="52.3,13.5 53.3,12.4" stroke="#3aa826" stroke-width="1.0"/>
<polyline points="53.3,12.4 54.3,11.3" stroke="#3aa826" stroke-width="0.6"/>
<polyline points="51.0,13.4 51.3,11.9" stroke="#3aa826" stroke-width="1.4"/>
<polyline points="51.3,11.9 51.8,10.5" stroke="#3aa826" stroke-width="1.0"/>
<polyline points="51.8,10.5 52.2,9.1" stroke="#3aa826" stroke-width="0.6"/>
<polyline points="50.4,12.0 51.3,10.8" stroke="#3aa826" stroke-width="1.4"/>
<polyline points="51.3,10.8 52.7,10.1" stroke="#3aa826" stroke-width="1.0"/>
<polyline points="52.7,10.1 54.0,9.5" stroke="#3aa826" stroke-width="0.6"/>
<polyline points="55.2,19.4 54.7,17.9 54.5,16.5" stroke="#48b02a" stroke-width="1.7"/>
<polyline points="54.5,16.5 54.7,15.0 54.6,13.5" stroke="#48b02a" stroke-width="1.2"/>
<polyline points="54.6,13.5 54.5,12.0" stroke="#48b02a" stroke-width="0.8"/>
<polyline points="54.5,12.0 55.5,10.8" stroke="#48b02a" stroke-width="1.4"/>
<polyline points="55.5,10.8 56.8,10.0" stroke="#48b02a" stroke-width="1.0"/>
<polyline points="55.2,19.4 55.4,17.9 55.0,16.4" stroke="#5cbc2c" stroke-width="1.7"/>
<polyline points="55.0,16.4 54.9,14.9 54.4,13.5" stroke="#5cbc2c" stroke-width="1.2"/>
<polyline points="54.4,13.5 54.1,12.1 54.3,10.6" stroke="#5cbc2c" stroke-width="0.8"/>
<polyline points="55.4,17.9 54.0,17.4" stroke="#5cbc2c" stroke-width="1.4"/>
<polyline points="54.0,17.4 52.9,16.5" stroke="#5cbc2c" stroke-width="1.0"/>
<polyline points="52.9,16.5 52.0,15.2" stroke="#5cbc2c" stroke-width="0.6"/>
<polyline points="55.0,16.4 53.6,16.1" stroke="#5cbc2c" stroke-width="1.4"/>
<polyline points="53.6,16.1 52.1,15.8" stroke="#5cbc2c" stroke-width="1.0"/>
<polyline points="52.1,15.8 50.6,15.7" stroke="#5cbc2c" stroke-width="0.6"/>
<polyline points="54.9,14.9 56.2,14.2" stroke="#5cbc2c" stroke-width="1.4"/>
<polyline points="56.2,14.2 57.6,13.6" stroke="#5cbc2c" stroke-width="1.0"/>
<polyline points="57.6,13.6 58.8,12.8" stroke="#5cbc2c" stroke-width="0.6"/>
<polyline points="54.3,10.6 55.8,10.2" stroke="#5cbc2c" stroke-width="1.4"/>
<polyline points="55.8,10.2 57.3,10.4" stroke="#5cbc2c" stroke-width="1.0"/>
<polyline points="57.3,10.4 58.7,10.9" stroke="#5cbc2c" stroke-width="0.6"/>
<polyline points="55.2,19.4 56.7,19.4" stroke="#5cbc2c" stroke-width="1.7"/>
<polyline points="56.7,19.4 58.2,19.1 59.7,19.0" stroke="#5cbc2c" stroke-width="1.2"/>
<polyline points="59.7,19.0 61.1,18.6" stroke="#5cbc2c" stroke-width="0.8"/>
<polyline points="59.7,19.0 60.7,20.1" stroke="#5cbc2c" stroke-width="1.4"/>
<polyline points="60.7,20.1 61.5,21.4" stroke="#5cbc2c" stroke-width="1.0"/>
<circle cx="58.4" cy="20.5" r="1.4" fill="#e0b818"/>
<circle cx="56.6" cy="19.7" r="1.4" fill="#78c030"/>
<circle cx="52.4" cy="17.9" r="0.8" fill="#5cbc2c"/>
<circle cx="51.7" cy="19.7" r="1.4" fill="#d6d020"/>
<circle cx="54.6" cy="20.6" r="1.5" fill="#5cbc2c"/>
<circle cx="58.3" cy="20.3" r="1.0" fill="#48b02a"/>
<circle cx="54.2" cy="19.8" r="1.0" fill="#48b02a"/>
<circle cx="55.2" cy="19.4" r="1.2" fill="#3aa826"/>
<circle cx="54.3" cy="18.9" r="0.9" fill="#5cbc2c"/>
<circle cx="53.0" cy="19.2" r="1.1" fill="#e0b818"/>
<circle cx="55.9" cy="18.6" r="1.6" fill="#78c030"/>
<circle cx="54.9" cy="18.3" r="0.9" fill="#e0b818"/>
<circle cx="55.7" cy="21.2" r="1.1" fill="#e0a020"/>
<circle cx="55.3" cy="20.1" r="0.5" fill="#e8c030"/>
<circle cx="55.3" cy="20.4" r="0.9" fill="#e0a020"/>
<circle cx="56.4" cy="20.4" r="1.0" fill="#c8d828"/>
<circle cx="53.8" cy="18.1" r="0.6" fill="#e0b818"/>
<circle cx="55.1" cy="17.3" r="1.2" fill="#e8c030"/>
<circle cx="55.3" cy="19.4" r="0.7" fill="#e0a020"/>
<circle cx="55.1" cy="18.2" r="0.7" fill="#e8c030"/>
<circle cx="54.7" cy="19.3" r="1.2" fill="#e0b818"/>
<ellipse cx="4.3" cy="59.5" rx="5.1" ry="5.1" transform="rotate(179 4.3 59.5)" fill="#48b02a" opacity="0.13"/>
<circle cx="3.7" cy="58.7" r="1.3" fill="#48b02a"/>
<circle cx="6.7" cy="58.7" r="1.5" fill="#48b02a"/>
<circle cx="4.7" cy="59.7" r="1.1" fill="#5cbc2c"/>
<circle cx="4.6" cy="60.0" r="1.1" fill="#3aa826"/>
<circle cx="1.9" cy="59.7" r="1.3" fill="#48b02a"/>
<circle cx="4.0" cy="57.9" r="0.9" fill="#48b02a"/>
<circle cx="4.2" cy="58.7" r="0.8" fill="#48b02a"/>
<circle cx="3.8" cy="59.6" r="0.8" fill="#5cbc2c"/>
<circle cx="4.3" cy="59.7" r="0.7" fill="#5cbc2c"/>
<circle cx="3.9" cy="61.1" r="1.4" fill="#78c030"/>
<circle cx="4.6" cy="60.6" r="0.8" fill="#c8d828"/>
<circle cx="5.1" cy="58.8" r="1.0" fill="#d6d020"/>
<circle cx="4.3" cy="60.1" r="0.9" fill="#c8d828"/>
<circle cx="4.5" cy="58.2" r="0.6" fill="#d6d020"/>
<circle cx="4.1" cy="59.4" r="0.9" fill="#d6d020"/>
<circle cx="4.0" cy="59.9" r="0.5" fill="#c8d828"/>
<circle cx="3.8" cy="61.0" r="0.5" fill="#e8c030"/>
<ellipse cx="68.8" cy="55.2" rx="5.2" ry="3.5" transform="rotate(168 68.8 55.2)" fill="#48b02a" opacity="0.13"/>
<circle cx="67.8" cy="55.4" r="1.0" fill="#48b02a"/>
<circle cx="69.0" cy="55.2" r="0.6" fill="#3aa826"/>
<circle cx="69.8" cy="55.3" r="1.3" fill="#5cbc2c"/>
<circle cx="68.8" cy="55.2" r="1.1" fill="#5cbc2c"/>
<circle cx="69.9" cy="54.7" r="0.6" fill="#48b02a"/>
<circle cx="68.1" cy="54.9" r="0.7" fill="#78c030"/>
<circle cx="70.4" cy="55.8" r="1.2" fill="#48b02a"/>
<circle cx="68.9" cy="55.1" r="0.8" fill="#48b02a"/>
<circle cx="68.4" cy="55.6" r="1.1" fill="#5cbc2c"/>
<circle cx="68.7" cy="55.2" r="1.2" fill="#48b02a"/>
<circle cx="69.4" cy="55.3" r="0.7" fill="#78c030"/>
<circle cx="68.4" cy="55.1" r="1.1" fill="#5cbc2c"/>
<circle cx="66.8" cy="55.0" r="1.2" fill="#78c030"/>
<polyline points="8.6,4.3 9.3,5.0 10.2,5.5 11.2,5.6" stroke="#48b02a" stroke-width="1.3"/>
<polyline points="11.2,5.6 12.1,5.3 13.1,5.1 14.1,4.9" stroke="#48b02a" stroke-width="0.9"/>
<polyline points="14.1,4.9 15.0,4.4 15.9,4.1 16.9,4.0" stroke="#48b02a" stroke-width="0.6"/>
<polyline points="39.4,2.2 40.4,2.2 41.3,2.7 42.3,3.0" stroke="#3aa826" stroke-width="1.3"/>
<polyline points="42.3,3.0 43.2,3.3 44.2,3.6 45.0,4.2" stroke="#3aa826" stroke-width="0.9"/>
<polyline points="45.0,4.2 45.7,4.8 46.1,5.8 46.4,6.7" stroke="#3aa826" stroke-width="0.6"/>
<polyline points="40.4,2.2 40.7,1.3" stroke="#3aa826" stroke-width="1.0"/>
<polyline points="40.7,1.3 40.9,0.3 41.2,-0.7" stroke="#3aa826" stroke-width="0.7"/>
<polyline points="41.2,-0.7 41.2,-1.7" stroke="#3aa826" stroke-width="0.4"/>
<polyline points="41.3,2.7 41.1,3.6" stroke="#3aa826" stroke-width="1.0"/>
<polyline points="41.1,3.6 41.2,4.6 41.2,5.6" stroke="#3aa826" stroke-width="0.7"/>
<polyline points="41.2,5.6 41.5,6.6" stroke="#3aa826" stroke-width="0.4"/>
<polyline points="43.2,3.3 43.5,4.3" stroke="#3aa826" stroke-width="1.0"/>
<polyline points="43.5,4.3 43.6,5.3 44.0,6.2" stroke="#3aa826" stroke-width="0.7"/>
<polyline points="44.0,6.2 44.5,7.1" stroke="#3aa826" stroke-width="0.4"/>
<polyline points="27.2,57.4 27.7,56.5 28.3,55.7 28.9,54.9" stroke="#48b02a" stroke-width="1.3"/>
<polyline points="28.9,54.9 29.1,53.9 29.5,53.0 29.9,52.0" stroke="#48b02a" stroke-width="0.9"/>
<polyline points="29.9,52.0 30.0,51.1 30.3,50.1 31.0,49.4" stroke="#48b02a" stroke-width="0.6"/>
<polyline points="28.3,55.7 29.2,55.3" stroke="#48b02a" stroke-width="1.0"/>
<polyline points="29.2,55.3 30.1,54.8 30.9,54.2" stroke="#48b02a" stroke-width="0.7"/>
<polyline points="30.9,54.2 31.8,53.8" stroke="#48b02a" stroke-width="0.4"/>
<polyline points="29.1,53.9 28.5,53.2" stroke="#48b02a" stroke-width="1.0"/>
<polyline points="28.5,53.2 27.9,52.4 27.1,51.8" stroke="#48b02a" stroke-width="0.7"/>
<polyline points="27.1,51.8 26.5,51.0" stroke="#48b02a" stroke-width="0.4"/>
<polyline points="29.9,52.0 30.8,52.3" stroke="#48b02a" stroke-width="1.0"/>
<polyline points="30.8,52.3 31.8,52.3 32.8,52.4" stroke="#48b02a" stroke-width="0.7"/>
<polyline points="32.8,52.4 33.8,52.1" stroke="#48b02a" stroke-width="0.4"/>
<polyline points="64.5,64.5 65.4,65.0 66.4,65.3 67.4,65.4" stroke="#78c030" stroke-width="1.3"/>
<polyline points="67.4,65.4 68.4,65.4 69.3,65.1 70.2,64.6" stroke="#78c030" stroke-width="0.9"/>
<polyline points="70.2,64.6 71.0,64.1 72.0,63.9 72.9,63.4" stroke="#78c030" stroke-width="0.6"/>
<polyline points="72.0,63.9 72.7,63.2" stroke="#78c030" stroke-width="1.0"/>
<polyline points="72.7,63.2 73.2,62.4 73.6,61.4" stroke="#78c030" stroke-width="0.7"/>
<polyline points="73.6,61.4 73.6,60.4" stroke="#78c030" stroke-width="0.4"/>
<polyline points="17.9,46.6 18.0,45.6 18.2,44.6 18.3,43.6" stroke="#3aa826" stroke-width="1.3"/>
<polyline points="18.3,43.6 18.2,42.6 18.4,41.7 18.5,40.7" stroke="#3aa826" stroke-width="0.9"/>
<polyline points="18.5,40.7 18.6,39.7 18.4,38.7 18.2,37.7" stroke="#3aa826" stroke-width="0.6"/>
<polyline points="18.2,42.6 18.8,41.8" stroke="#3aa826" stroke-width="1.0"/>
<polyline points="18.8,41.8 18.9,40.8 19.5,40.0" stroke="#3aa826" stroke-width="0.7"/>
<polyline points="19.5,40.0 20.2,39.3" stroke="#3aa826" stroke-width="0.4"/>
<polyline points="18.5,40.7 19.2,40.0" stroke="#3aa826" stroke-width="1.0"/>
<polyline points="19.2,40.0 20.1,39.4 20.8,38.8" stroke="#3aa826" stroke-width="0.7"/>
<polyline points="20.8,38.8 21.4,38.0" stroke="#3aa826" stroke-width="0.4"/>
<ellipse cx="26.5" cy="12.2" rx="4.5" ry="2.1" transform="rotate(173 26.5 12.2)" fill="#e01c1c" opacity="0.13"/>
<circle cx="25.2" cy="12.7" r="0.9" fill="#e01c1c"/>
<circle cx="26.4" cy="12.2" r="0.6" fill="#e01c1c"/>
<circle cx="24.5" cy="12.7" r="0.7" fill="#c81818"/>
<circle cx="26.1" cy="12.1" r="0.5" fill="#f02828"/>
<circle cx="26.8" cy="11.8" r="0.9" fill="#e01c1c"/>
<circle cx="26.1" cy="12.2" r="0.5" fill="#d01414"/>
<circle cx="25.1" cy="11.7" r="0.8" fill="#e01c1c"/>
<circle cx="26.9" cy="12.2" r="0.6" fill="#d01414"/>
<circle cx="26.6" cy="12.2" r="1.0" fill="#f02828"/>
<circle cx="26.8" cy="12.6" r="0.4" fill="#e01c1c"/>
<circle cx="25.8" cy="12.3" r="0.6" fill="#d01414"/>
<circle cx="25.7" cy="13.1" r="0.5" fill="#c81818"/>
<circle cx="27.1" cy="11.2" r="0.5" fill="#e01c1c"/>
<circle cx="22.1" cy="36.2" r="0.5" fill="#3030c0"/>
<circle cx="23.3" cy="37.7" r="0.5" fill="#2020a0"/>
<circle cx="20.9" cy="37.0" r="0.9" fill="#2020a0"/>
<circle cx="22.6" cy="36.8" r="0.9" fill="#3030c0"/>
<circle cx="23.1" cy="37.2" r="0.7" fill="#2a2ad8"/>
<circle cx="21.5" cy="36.3" r="1.0" fill="#2020a0"/>
<circle cx="22.1" cy="36.6" r="0.9" fill="#2a2ad8"/>
<circle cx="1.4" cy="26.4" r="0.7" fill="#3030c0"/>
<circle cx="3.3" cy="27.6" r="0.8" fill="#2a2ad8"/>
<circle cx="3.7" cy="28.4" r="0.8" fill="#2020a0"/>
<circle cx="4.8" cy="28.3" r="1.0" fill="#3030c0"/>
<circle cx="1.4" cy="26.8" r="0.7" fill="#3030c0"/>
<circle cx="3.0" cy="27.2" r="0.6" fill="#3030c0"/>
<circle cx="1.3" cy="27.2" r="1.0" fill="#2020a0"/>
<circle cx="37.3" cy="41.5" r="0.6" fill="#2020a0"/>
<circle cx="38.1" cy="42.7" r="0.9" fill="#3030c0"/>
<circle cx="36.6" cy="40.7" r="0.8" fill="#2020a0"/>
<circle cx="36.4" cy="40.9" r="0.7" fill="#3030c0"/>
<circle cx="37.0" cy="42.7" r="0.6" fill="#3030c0"/>
<circle cx="38.7" cy="41.9" r="0.9" fill="#3030c0"/>
<circle cx="36.8" cy="42.0" r="0.5" fill="#2020a0"/>
<circle cx="47.9" cy="5.7" r="0.4" fill="#2020a0"/>
<circle cx="48.1" cy="5.7" r="0.6" fill="#2020a0"/>
<circle cx="48.5" cy="5.4" r="0.6" fill="#3030c0"/>
<circle cx="48.3" cy="4.5" r="0.5" fill="#2020a0"/>
<circle cx="48.2" cy="5.7" r="0.8" fill="#2a2ad8"/>
<circle cx="47.3" cy="5.5" r="0.6" fill="#2a2ad8"/>
<circle cx="48.2" cy="5.5" r="0.9" fill="#2020a0"/>
<circle cx="66.2" cy="14.3" r="0.4" fill="#2a2ad8"/>
<circle cx="66.7" cy="13.3" r="0.4" fill="#2020a0"/>
<circle cx="67.0" cy="14.0" r="0.7" fill="#2020a0"/>
<circle cx="65.8" cy="12.4" r="0.8" fill="#3030c0"/>
<circle cx="66.0" cy="13.8" r="0.4" fill="#2a2ad8"/>
<circle cx="66.9" cy="14.5" r="0.4" fill="#2a2ad8"/>
<circle cx="65.3" cy="13.0" r="0.5" fill="#2020a0"/>
<circle cx="26.5" cy="48.0" r="0.7" fill="#2a2ad8"/>
<circle cx="26.8" cy="48.3" r="0.6" fill="#2020a0"/>
<circle cx="27.1" cy="47.9" r="0.8" fill="#3030c0"/>
<circle cx="25.7" cy="47.7" r="0.7" fill="#2a2ad8"/>
<circle cx="25.9" cy="48.3" r="0.5" fill="#2a2ad8"/>
<circle cx="26.2" cy="46.9" r="0.7" fill="#3030c0"/>
<circle cx="27.7" cy="50.1" r="0.9" fill="#3030c0"/>
<circle cx="21.4" cy="56.4" r="0.8" fill="#3030c0"/>
<circle cx="20.7" cy="57.0" r="0.5" fill="#2a2ad8"/>
<circle cx="21.0" cy="54.9" r="0.4" fill="#2a2ad8"/>
<circle cx="20.9" cy="56.4" r="0.6" fill="#2a2ad8"/>
<circle cx="20.1" cy="55.9" r="0.7" fill="#3030c0"/>
<circle cx="20.9" cy="55.8" r="0.7" fill="#3030c0"/>
<circle cx="21.2" cy="57.1" r="1.0" fill="#3030c0"/>
<circle cx="20.2" cy="67.1" r="0.6" fill="#2a2ad8"/>
<circle cx="22.5" cy="67.5" r="0.7" fill="#2a2ad8"/>
<circle cx="20.8" cy="67.4" r="0.5" fill="#3030c0"/>
<circle cx="19.6" cy="67.0" r="0.4" fill="#2020a0"/>
<circle cx="20.4" cy="67.7" r="0.4" fill="#2a2ad8"/>
<circle cx="21.2" cy="67.0" r="0.8" fill="#2a2ad8"/>
<circle cx="21.1" cy="68.1" r="0.4" fill="#2a2ad8"/>
<circle cx="5.8" cy="4.2" r="0.4" fill="#3030c0"/>
<circle cx="5.2" cy="2.5" r="0.8" fill="#3030c0"/>
<circle cx="5.8" cy="3.0" r="0.5" fill="#3030c0"/>
<circle cx="6.6" cy="4.3" r="0.4" fill="#3030c0"/>
<circle cx="5.2" cy="3.6" r="0.4" fill="#3030c0"/>
<circle cx="5.8" cy="3.0" r="0.7" fill="#3030c0"/>
<circle cx="5.1" cy="3.6" r="0.8" fill="#2020a0"/>
<circle cx="32.7" cy="23.3" r="0.6" fill="#2a2ad8"/>
<circle cx="30.5" cy="23.0" r="0.4" fill="#2a2ad8"/>
<circle cx="30.7" cy="24.0" r="0.6" fill="#3030c0"/>
<circle cx="31.6" cy="23.7" r="0.6" fill="#2020a0"/>
<circle cx="31.0" cy="24.6" r="0.6" fill="#3030c0"/>
<circle cx="32.6" cy="23.9" r="0.5" fill="#3030c0"/>
<circle cx="31.6" cy="23.6" r="0.7" fill="#2a2ad8"/>
<ellipse cx="68.8" cy="45.2" rx="3.7" ry="2.5" transform="rotate(53 68.8 45.2)" fill="#e01c1c" opacity="0.13"/>
<circle cx="68.8" cy="45.2" r="0.7" fill="#e01c1c"/>
<circle cx="68.9" cy="45.1" r="0.4" fill="#d01414"/>
<circle cx="68.9" cy="45.3" r="0.9" fill="#c81818"/>
<circle cx="69.0" cy="45.8" r="0.6" fill="#c81818"/>
<circle cx="69.9" cy="44.9" r="0.9" fill="#d01414"/>
<circle cx="69.0" cy="44.5" r="0.7" fill="#e01c1c"/>
<circle cx="70.0" cy="45.2" r="0.7" fill="#e01c1c"/>
<circle cx="68.8" cy="45.0" r="0.4" fill="#d01414"/>
<circle cx="69.2" cy="45.4" r="0.9" fill="#c81818"/>
<circle cx="68.9" cy="46.2" r="0.9" fill="#c81818"/>
<circle cx="69.1" cy="45.5" r="0.8" fill="#f02828"/>
<circle cx="69.4" cy="45.7" r="0.7" fill="#e01c1c"/>
<circle cx="68.6" cy="44.0" r="0.4" fill="#c81818"/>
<ellipse cx="64.5" cy="15.1" rx="3.4" ry="2.2" transform="rotate(86 64.5 15.1)" fill="#48b02a" opacity="0.13"/>
<circle cx="64.0" cy="16.3" r="0.8" fill="#48b02a"/>
<circle cx="64.7" cy="15.1" r="0.6" fill="#48b02a"/>
<circle cx="64.2" cy="15.3" r="0.6" fill="#78c030"/>
<circle cx="64.3" cy="15.4" r="0.4" fill="#5cbc2c"/>
<circle cx="64.7" cy="15.0" r="0.8" fill="#78c030"/>
<circle cx="64.7" cy="14.6" r="0.9" fill="#3aa826"/>
<circle cx="64.6" cy="14.9" r="0.8" fill="#48b02a"/>
<circle cx="64.6" cy="15.0" r="0.4" fill="#48b02a"/>
<circle cx="64.7" cy="15.4" r="0.4" fill="#3aa826"/>
<circle cx="64.7" cy="16.2" r="0.6" fill="#3aa826"/>
<circle cx="64.4" cy="14.8" r="0.4" fill="#e0a020"/>
<circle cx="64.6" cy="15.1" r="0.3" fill="#d86a14"/>
<circle cx="64.0" cy="15.0" r="0.2" fill="#e08818"/>
<circle cx="64.1" cy="15.8" r="0.5" fill="#c81818"/>
<circle cx="64.6" cy="14.5" r="0.5" fill="#c81818"/>
<circle cx="64.6" cy="15.1" r="0.3" fill="#d01414"/>
<circle cx="64.8" cy="15.2" r="0.5" fill="#f02828"/>
<ellipse cx="41.6" cy="50.2" rx="2.5" ry="1.2" transform="rotate(80 41.6 50.2)" fill="#e01c1c" opacity="0.13"/>
<circle cx="41.9" cy="49.7" r="0.3" fill="#e01c1c"/>
<circle cx="41.8" cy="50.2" r="0.5" fill="#c81818"/>
<circle cx="41.5" cy="49.9" r="0.4" fill="#e01c1c"/>
<circle cx="41.2" cy="50.9" r="0.5" fill="#d01414"/>
<circle cx="41.3" cy="51.0" r="0.5" fill="#d01414"/>
<circle cx="41.6" cy="50.2" r="0.5" fill="#d01414"/>
<circle cx="41.9" cy="50.0" r="0.3" fill="#f02828"/>
<circle cx="41.7" cy="49.9" r="0.5" fill="#e01c1c"/>
<circle cx="41.8" cy="49.8" r="0.5" fill="#c81818"/>
<circle cx="41.6" cy="50.2" r="0.4" fill="#d01414"/>
<circle cx="41.9" cy="50.6" r="0.3" fill="#e01c1c"/>
<circle cx="41.7" cy="49.9" r="0.4" fill="#c81818"/>
<circle cx="41.7" cy="49.3" r="0.5" fill="#d01414"/>
</g></svg>
<svg x="107.70" y="431.70" width="72.00" height="71.70" viewBox="0 0 72.00 71.70" overflow="hidden">
<rect width="72.00" height="71.70" fill="#050605"/>
<filter id="nz12" x="0" y="0" width="100%" height="100%" filterUnits="userSpaceOnUse" color-interpolation-filters="sRGB"><feTurbulence type="fractalNoise" baseFrequency="0.55" numOctaves="2" seed="12"/><feColorMatrix type="matrix" values="0.3 0 0 0 -0.14 0 0.45 0 0 -0.19 0 0 0.2 0 -0.1 0 0 0 0 1"/></filter>
<rect width="72.00" height="71.70" filter="url(#nz12)"/>
<filter id="tx12" x="0" y="0" width="100%" height="100%" filterUnits="userSpaceOnUse" color-interpolation-filters="sRGB"><feGaussianBlur in="SourceGraphic" stdDeviation="0.5" result="b"/><feTurbulence type="fractalNoise" baseFrequency="0.7" numOctaves="2" seed="62" result="n"/><feColorMatrix in="n" type="matrix" values="0 0 0 0 1 0 0 0 0 1 0 0 0 0 1 2.0 0 0 0 0.05" result="na"/><feComposite in="b" in2="na" operator="in"/></filter>
<g filter="url(#tx12)">
<circle cx="34.2" cy="47.1" r="0.5" fill="#30b828" opacity="0.36"/>
<circle cx="27.0" cy="19.6" r="0.7" fill="#a07010" opacity="0.71"/>
<circle cx="40.2" cy="47.4" r="0.9" fill="#c03020" opacity="0.57"/>
<circle cx="24.5" cy="15.1" r="0.4" fill="#c03020" opacity="0.76"/>
<circle cx="24.3" cy="29.0" r="0.4" fill="#2a9a20" opacity="0.39"/>
<circle cx="65.9" cy="36.5" r="0.9" fill="#2a9a20" opacity="0.60"/>
<circle cx="31.9" cy="47.4" r="0.7" fill="#c03020" opacity="0.88"/>
<circle cx="40.2" cy="70.0" r="0.7" fill="#2a9a20" opacity="0.65"/>
<circle cx="6.0" cy="43.6" r="0.6" fill="#a07010" opacity="0.58"/>
<circle cx="2.2" cy="52.1" r="0.9" fill="#c03020" opacity="0.75"/>
<circle cx="25.7" cy="26.0" r="0.7" fill="#a07010" opacity="0.42"/>
<circle cx="16.9" cy="26.1" r="0.4" fill="#c03020" opacity="0.84"/>
<circle cx="31.0" cy="37.2" r="0.7" fill="#c03020" opacity="0.38"/>
<circle cx="14.7" cy="43.5" r="0.5" fill="#c03020" opacity="0.77"/>
<circle cx="2.7" cy="19.8" r="0.6" fill="#30b828" opacity="0.79"/>
<circle cx="37.0" cy="26.4" r="0.5" fill="#30b828" opacity="0.64"/>
<circle cx="69.0" cy="34.5" r="0.6" fill="#c03020" opacity="0.68"/>
<circle cx="13.1" cy="55.0" r="0.9" fill="#c03020" opacity="0.35"/>
<circle cx="19.3" cy="55.3" r="0.5" fill="#30b828" opacity="0.83"/>
<circle cx="36.1" cy="17.7" r="0.9" fill="#2a9a20" opacity="0.95"/>
<circle cx="36.3" cy="1.7" r="0.8" fill="#30b828" opacity="0.75"/>
<circle cx="20.1" cy="8.5" r="0.6" fill="#a07010" opacity="0.56"/>
<circle cx="49.3" cy="31.9" r="0.6" fill="#c03020" opacity="0.72"/>
<circle cx="3.3" cy="23.7" r="0.7" fill="#a07010" opacity="0.48"/>
<circle cx="20.5" cy="18.3" r="0.7" fill="#2a9a20" opacity="0.43"/>
<circle cx="63.8" cy="30.1" r="0.5" fill="#c03020" opacity="0.63"/>
<circle cx="4.2" cy="40.9" r="0.7" fill="#30b828" opacity="0.60"/>
<circle cx="42.4" cy="64.6" r="0.7" fill="#c03020" opacity="0.56"/>
<circle cx="26.5" cy="52.8" r="0.4" fill="#c03020" opacity="0.78"/>
<circle cx="65.1" cy="57.2" r="0.9" fill="#2a9a20" opacity="0.67"/>
<circle cx="56.8" cy="27.2" r="0.8" fill="#2a9a20" opacity="0.46"/>
<circle cx="19.5" cy="56.9" r="0.6" fill="#a07010" opacity="0.42"/>
<circle cx="38.5" cy="50.2" r="0.6" fill="#a07010" opacity="0.39"/>
<circle cx="25.6" cy="5.9" r="0.5" fill="#30b828" opacity="0.40"/>
<circle cx="22.5" cy="49.9" r="0.5" fill="#a07010" opacity="0.37"/>
<circle cx="35.1" cy="31.8" r="0.4" fill="#c03020" opacity="0.71"/>
<circle cx="32.9" cy="63.4" r="0.9" fill="#2a9a20" opacity="0.35"/>
<circle cx="25.9" cy="20.1" r="0.7" fill="#c03020" opacity="0.53"/>
<circle cx="37.2" cy="10.5" r="0.5" fill="#30b828" opacity="0.63"/>
<circle cx="43.7" cy="60.4" r="0.6" fill="#c03020" opacity="0.82"/>
<circle cx="3.5" cy="55.4" r="0.6" fill="#a07010" opacity="0.81"/>
<circle cx="28.5" cy="48.3" r="0.9" fill="#2a9a20" opacity="0.68"/>
<circle cx="49.0" cy="25.1" r="0.6" fill="#2a9a20" opacity="0.65"/>
<circle cx="26.0" cy="22.0" r="0.6" fill="#c03020" opacity="0.83"/>
<circle cx="9.7" cy="35.5" r="0.7" fill="#a07010" opacity="0.52"/>
<circle cx="67.4" cy="42.9" r="0.7" fill="#a07010" opacity="0.82"/>
<circle cx="43.7" cy="10.6" r="0.7" fill="#30b828" opacity="0.86"/>
<circle cx="43.8" cy="56.2" r="0.6" fill="#a07010" opacity="0.75"/>
<circle cx="24.5" cy="55.1" r="0.6" fill="#a07010" opacity="0.59"/>
<circle cx="58.1" cy="12.2" r="0.8" fill="#c03020" opacity="0.42"/>
<circle cx="19.3" cy="63.6" r="0.8" fill="#30b828" opacity="0.90"/>
<circle cx="55.5" cy="61.6" r="0.7" fill="#30b828" opacity="0.48"/>
<circle cx="63.3" cy="1.8" r="0.4" fill="#30b828" opacity="0.84"/>
<circle cx="14.1" cy="14.1" r="0.8" fill="#30b828" opacity="0.94"/>
<circle cx="55.7" cy="39.2" r="0.7" fill="#2a9a20" opacity="0.41"/>
<circle cx="49.3" cy="38.4" r="0.4" fill="#a07010" opacity="0.35"/>
<circle cx="9.1" cy="28.2" r="0.7" fill="#a07010" opacity="0.63"/>
<circle cx="45.7" cy="27.9" r="0.8" fill="#a07010" opacity="0.37"/>
<circle cx="60.8" cy="1.5" r="0.6" fill="#c03020" opacity="0.86"/>
<circle cx="49.7" cy="68.6" r="0.6" fill="#a07010" opacity="0.93"/>
<circle cx="27.0" cy="5.1" r="0.6" fill="#c03020" opacity="0.49"/>
<circle cx="30.5" cy="57.8" r="0.9" fill="#2a9a20" opacity="0.37"/>
<circle cx="49.4" cy="40.5" r="0.7" fill="#2a9a20" opacity="0.70"/>
<circle cx="57.8" cy="45.1" r="0.7" fill="#a07010" opacity="0.60"/>
<circle cx="39.1" cy="22.7" r="0.6" fill="#c03020" opacity="0.74"/>
<circle cx="24.3" cy="4.2" r="0.5" fill="#30b828" opacity="0.42"/>
<circle cx="35.0" cy="9.8" r="0.4" fill="#30b828" opacity="0.49"/>
<circle cx="34.7" cy="52.4" r="0.7" fill="#a07010" opacity="0.55"/>
<circle cx="27.5" cy="61.8" r="0.5" fill="#a07010" opacity="0.88"/>
<circle cx="45.8" cy="44.4" r="0.5" fill="#2a9a20" opacity="0.58"/>
<circle cx="44.1" cy="9.1" r="0.7" fill="#a07010" opacity="0.50"/>
<circle cx="30.1" cy="7.3" r="0.5" fill="#a07010" opacity="0.68"/>
<circle cx="42.9" cy="41.4" r="0.5" fill="#a07010" opacity="0.57"/>
<circle cx="65.3" cy="65.7" r="0.4" fill="#a07010" opacity="0.72"/>
<circle cx="64.0" cy="67.4" r="0.6" fill="#30b828" opacity="0.87"/>
<circle cx="10.2" cy="24.1" r="0.4" fill="#a07010" opacity="0.55"/>
<circle cx="38.7" cy="59.9" r="0.8" fill="#2a9a20" opacity="0.45"/>
<circle cx="35.0" cy="6.5" r="0.5" fill="#30b828" opacity="0.61"/>
<circle cx="20.4" cy="60.3" r="0.5" fill="#c03020" opacity="0.51"/>
<circle cx="8.8" cy="15.2" r="0.6" fill="#c03020" opacity="0.93"/>
<circle cx="33.0" cy="67.2" r="0.6" fill="#a07010" opacity="0.58"/>
<circle cx="19.7" cy="64.7" r="0.5" fill="#c03020" opacity="0.67"/>
<circle cx="52.3" cy="36.0" r="0.5" fill="#30b828" opacity="0.53"/>
<circle cx="1.8" cy="63.8" r="0.6" fill="#30b828" opacity="0.93"/>
<circle cx="65.0" cy="10.9" r="0.6" fill="#a07010" opacity="0.46"/>
<circle cx="30.4" cy="59.6" r="0.4" fill="#c03020" opacity="0.42"/>
<circle cx="22.1" cy="11.4" r="0.8" fill="#2a9a20" opacity="0.68"/>
<circle cx="36.9" cy="22.0" r="0.9" fill="#2a9a20" opacity="0.44"/>
<circle cx="16.4" cy="61.7" r="0.8" fill="#30b828" opacity="0.67"/>
<circle cx="26.4" cy="13.5" r="0.8" fill="#c03020" opacity="0.68"/>
<circle cx="57.0" cy="18.7" r="0.4" fill="#a07010" opacity="0.72"/>
<circle cx="13.3" cy="60.1" r="0.6" fill="#2a9a20" opacity="0.36"/>
<circle cx="35.6" cy="25.8" r="0.4" fill="#a07010" opacity="0.68"/>
<circle cx="65.6" cy="32.6" r="0.6" fill="#a07010" opacity="0.86"/>
<circle cx="26.8" cy="64.6" r="0.6" fill="#2a9a20" opacity="0.39"/>
<circle cx="48.8" cy="19.9" r="0.5" fill="#30b828" opacity="0.59"/>
<circle cx="57.6" cy="53.5" r="0.8" fill="#2a9a20" opacity="0.76"/>
<circle cx="62.6" cy="46.6" r="0.7" fill="#30b828" opacity="0.56"/>
<circle cx="47.1" cy="59.2" r="0.9" fill="#2a9a20" opacity="0.43"/>
<circle cx="43.4" cy="9.6" r="0.5" fill="#c03020" opacity="0.85"/>
<circle cx="61.9" cy="70.1" r="0.8" fill="#c03020" opacity="0.36"/>
<circle cx="10.4" cy="32.8" r="0.7" fill="#a07010" opacity="0.80"/>
<circle cx="59.3" cy="53.8" r="0.6" fill="#30b828" opacity="0.81"/>
<circle cx="14.8" cy="68.4" r="0.5" fill="#30b828" opacity="0.41"/>
<circle cx="35.3" cy="29.7" r="0.4" fill="#30b828" opacity="0.53"/>
<circle cx="62.8" cy="44.6" r="0.5" fill="#2a9a20" opacity="0.87"/>
<circle cx="22.7" cy="67.2" r="0.9" fill="#2a9a20" opacity="0.49"/>
<circle cx="39.3" cy="56.1" r="0.8" fill="#c03020" opacity="0.40"/>
<circle cx="69.0" cy="43.7" r="0.8" fill="#a07010" opacity="0.94"/>
<circle cx="24.5" cy="19.2" r="0.6" fill="#2a9a20" opacity="0.90"/>
<ellipse cx="1.4" cy="1.4" rx="4.6" ry="4.3" transform="rotate(57 1.4 1.4)" fill="#34bb28" opacity="0.13"/>
<circle cx="2.9" cy="2.8" r="1.1" fill="#4cd03a"/>
<circle cx="3.2" cy="2.2" r="1.1" fill="#34bb28"/>
<circle cx="1.9" cy="0.5" r="1.3" fill="#3fc82e"/>
<circle cx="0.7" cy="0.1" r="1.0" fill="#4cd03a"/>
<circle cx="2.8" cy="-0.2" r="1.3" fill="#3fc82e"/>
<circle cx="1.4" cy="1.1" r="1.0" fill="#4cd03a"/>
<circle cx="1.6" cy="1.6" r="1.1" fill="#3fc82e"/>
<circle cx="0.8" cy="2.6" r="0.9" fill="#4cd03a"/>
<circle cx="1.0" cy="0.5" r="0.9" fill="#3fc82e"/>
<circle cx="0.6" cy="3.1" r="1.1" fill="#3fc82e"/>
<circle cx="1.5" cy="1.1" r="1.0" fill="#3fc82e"/>
<circle cx="2.4" cy="0.5" r="1.2" fill="#34bb28"/>
<circle cx="0.2" cy="2.4" r="1.0" fill="#3fc82e"/>
<ellipse cx="41.0" cy="7.2" rx="5.7" ry="5.0" transform="rotate(29 41.0 7.2)" fill="#34bb28" opacity="0.13"/>
<circle cx="42.7" cy="7.4" r="1.4" fill="#3fc82e"/>
<circle cx="41.5" cy="9.7" r="1.2" fill="#3fc82e"/>
<circle cx="42.4" cy="7.0" r="1.3" fill="#2aa822"/>
<circle cx="40.6" cy="8.0" r="1.3" fill="#34bb28"/>
<circle cx="40.9" cy="7.2" r="1.6" fill="#3fc82e"/>
<circle cx="42.7" cy="7.7" r="1.5" fill="#3fc82e"/>
<circle cx="41.0" cy="5.4" r="0.7" fill="#34bb28"/>
<circle cx="41.2" cy="6.8" r="1.0" fill="#3fc82e"/>
<circle cx="42.0" cy="8.7" r="1.4" fill="#34bb28"/>
<circle cx="39.1" cy="6.0" r="0.8" fill="#3fc82e"/>
<circle cx="41.5" cy="5.7" r="0.5" fill="#e08818"/>
<circle cx="39.8" cy="7.4" r="0.6" fill="#e0a020"/>
<circle cx="41.1" cy="7.3" r="0.8" fill="#d86a14"/>
<circle cx="42.1" cy="6.4" r="0.5" fill="#f02828"/>
<circle cx="42.3" cy="6.2" r="0.7" fill="#e0a020"/>
<circle cx="39.9" cy="8.3" r="0.5" fill="#e0a020"/>
<circle cx="40.8" cy="6.7" r="1.0" fill="#c81818"/>
<ellipse cx="25.9" cy="13.6" rx="7.6" ry="4.3" transform="rotate(138 25.9 13.6)" fill="#34bb28" opacity="0.13"/>
<circle cx="25.7" cy="13.8" r="0.7" fill="#3fc82e"/>
<circle cx="27.0" cy="12.2" r="1.3" fill="#4cd03a"/>
<circle cx="25.0" cy="15.9" r="1.2" fill="#34bb28"/>
<circle cx="23.1" cy="14.7" r="0.9" fill="#4cd03a"/>
<circle cx="23.3" cy="13.5" r="1.7" fill="#4cd03a"/>
<circle cx="25.9" cy="12.9" r="1.5" fill="#34bb28"/>
<circle cx="25.4" cy="14.1" r="1.3" fill="#2aa822"/>
<circle cx="27.2" cy="15.3" r="1.8" fill="#34bb28"/>
<circle cx="26.1" cy="13.4" r="1.1" fill="#4cd03a"/>
<circle cx="24.6" cy="14.8" r="1.1" fill="#2aa822"/>
<circle cx="25.5" cy="13.6" r="0.6" fill="#e8c030"/>
<circle cx="25.4" cy="15.1" r="0.9" fill="#d6d020"/>
<circle cx="26.2" cy="13.4" r="0.5" fill="#e0b818"/>
<circle cx="26.2" cy="14.2" r="1.0" fill="#c8d828"/>
<circle cx="24.7" cy="14.8" r="0.9" fill="#d6d020"/>
<circle cx="27.5" cy="13.8" r="0.8" fill="#e8c030"/>
<circle cx="25.3" cy="14.5" r="0.9" fill="#c8d828"/>
<ellipse cx="35.3" cy="17.9" rx="4.4" ry="3.5" transform="rotate(77 35.3 17.9)" fill="#34bb28" opacity="0.13"/>
<circle cx="34.8" cy="18.6" r="0.6" fill="#34bb28"/>
<circle cx="35.3" cy="18.1" r="0.9" fill="#3fc82e"/>
<circle cx="36.5" cy="17.8" r="1.2" fill="#3fc82e"/>
<circle cx="35.3" cy="16.6" r="1.2" fill="#2aa822"/>
<circle cx="35.3" cy="18.0" r="1.3" fill="#34bb28"/>
<circle cx="35.3" cy="18.1" r="1.2" fill="#4cd03a"/>
<circle cx="36.3" cy="17.9" r="1.0" fill="#4cd03a"/>
<circle cx="35.1" cy="17.0" r="0.7" fill="#4cd03a"/>
<circle cx="34.4" cy="16.9" r="1.0" fill="#4cd03a"/>
<circle cx="35.9" cy="17.9" r="1.1" fill="#3fc82e"/>
<circle cx="35.8" cy="18.0" r="1.0" fill="#34bb28"/>
<circle cx="34.0" cy="18.7" r="1.1" fill="#34bb28"/>
<circle cx="34.6" cy="18.7" r="1.2" fill="#4cd03a"/>
<ellipse cx="16.6" cy="28.0" rx="10.9" ry="3.8" transform="rotate(157 16.6 28.0)" fill="#34bb28" opacity="0.13"/>
<circle cx="18.1" cy="28.6" r="1.0" fill="#2aa822"/>
<circle cx="14.5" cy="29.5" r="1.2" fill="#3fc82e"/>
<circle cx="12.5" cy="30.6" r="0.9" fill="#34bb28"/>
<circle cx="15.8" cy="28.6" r="1.6" fill="#4cd03a"/>
<circle cx="18.8" cy="27.4" r="1.6" fill="#4cd03a"/>
<circle cx="16.8" cy="27.8" r="1.6" fill="#34bb28"/>
<circle cx="19.2" cy="27.9" r="1.9" fill="#34bb28"/>
<circle cx="15.8" cy="27.9" r="1.9" fill="#34bb28"/>
<circle cx="12.3" cy="29.5" r="1.4" fill="#4cd03a"/>
<circle cx="16.7" cy="28.0" r="1.4" fill="#4cd03a"/>
<circle cx="14.8" cy="28.5" r="1.1" fill="#4cd03a"/>
<circle cx="13.6" cy="28.4" r="1.6" fill="#2aa822"/>
<circle cx="17.1" cy="27.4" r="1.3" fill="#2aa822"/>
<ellipse cx="24.5" cy="35.8" rx="8.8" ry="3.3" transform="rotate(44 24.5 35.8)" fill="#34bb28" opacity="0.13"/>
<circle cx="24.4" cy="36.8" r="1.2" fill="#3fc82e"/>
<circle cx="25.4" cy="35.3" r="1.3" fill="#34bb28"/>
<circle cx="24.7" cy="35.7" r="1.5" fill="#4cd03a"/>
<circle cx="23.0" cy="35.2" r="1.3" fill="#4cd03a"/>
<circle cx="23.7" cy="34.5" r="1.4" fill="#3fc82e"/>
<circle cx="23.8" cy="36.3" r="0.8" fill="#2aa822"/>
<circle cx="24.1" cy="35.9" r="1.4" fill="#4cd03a"/>
<circle cx="23.2" cy="33.4" r="0.8" fill="#4cd03a"/>
<circle cx="25.9" cy="36.3" r="1.4" fill="#2aa822"/>
<circle cx="24.4" cy="35.9" r="1.3" fill="#4cd03a"/>
<circle cx="23.9" cy="36.3" r="0.8" fill="#d6d020"/>
<circle cx="23.6" cy="35.8" r="0.8" fill="#e8c030"/>
<circle cx="23.3" cy="35.8" r="0.6" fill="#d6d020"/>
<circle cx="24.3" cy="36.0" r="0.7" fill="#c8d828"/>
<circle cx="25.0" cy="36.8" r="0.6" fill="#e8c030"/>
<circle cx="24.2" cy="37.0" r="0.6" fill="#e0b818"/>
<circle cx="24.4" cy="35.7" r="0.9" fill="#e8c030"/>
<ellipse cx="41.8" cy="35.1" rx="10.8" ry="5.2" transform="rotate(148 41.8 35.1)" fill="#34bb28" opacity="0.13"/>
<circle cx="39.4" cy="38.6" r="1.1" fill="#3fc82e"/>
<circle cx="40.9" cy="35.5" r="1.2" fill="#4cd03a"/>
<circle cx="38.1" cy="35.5" r="1.1" fill="#34bb28"/>
<circle cx="41.4" cy="33.9" r="2.0" fill="#3fc82e"/>
<circle cx="42.1" cy="33.8" r="2.3" fill="#4cd03a"/>
<circle cx="39.5" cy="34.7" r="2.2" fill="#3fc82e"/>
<circle cx="41.5" cy="34.4" r="2.2" fill="#2aa822"/>
<circle cx="43.0" cy="34.4" r="2.2" fill="#3fc82e"/>
<circle cx="42.8" cy="34.5" r="1.9" fill="#2aa822"/>
<circle cx="39.1" cy="36.7" r="2.1" fill="#34bb28"/>
<circle cx="41.3" cy="36.0" r="1.1" fill="#d6d020"/>
<circle cx="40.6" cy="34.2" r="1.3" fill="#e8c030"/>
<circle cx="42.2" cy="34.8" r="1.0" fill="#c8d828"/>
<circle cx="41.1" cy="34.4" r="0.9" fill="#c8d828"/>
<circle cx="42.0" cy="33.6" r="1.0" fill="#e0b818"/>
<circle cx="41.8" cy="34.2" r="0.6" fill="#e0b818"/>
<circle cx="41.2" cy="33.4" r="1.4" fill="#e0b818"/>
<ellipse cx="44.6" cy="27.2" rx="5.3" ry="2.4" transform="rotate(26 44.6 27.2)" fill="#34bb28" opacity="0.13"/>
<circle cx="44.9" cy="26.3" r="0.8" fill="#4cd03a"/>
<circle cx="44.6" cy="28.4" r="1.0" fill="#2aa822"/>
<circle cx="44.6" cy="27.2" r="1.1" fill="#4cd03a"/>
<circle cx="44.4" cy="26.5" r="1.0" fill="#3fc82e"/>
<circle cx="45.3" cy="27.1" r="0.7" fill="#4cd03a"/>
<circle cx="43.3" cy="27.4" r="0.8" fill="#2aa822"/>
<circle cx="44.3" cy="27.0" r="1.1" fill="#4cd03a"/>
<circle cx="44.6" cy="27.2" r="0.8" fill="#4cd03a"/>
<circle cx="43.6" cy="26.8" r="0.9" fill="#3fc82e"/>
<circle cx="46.3" cy="27.1" r="1.0" fill="#4cd03a"/>
<circle cx="45.4" cy="27.8" r="0.4" fill="#c8d828"/>
<circle cx="44.1" cy="26.1" r="0.7" fill="#d6d020"/>
<circle cx="45.5" cy="28.2" r="0.6" fill="#e8c030"/>
<circle cx="44.6" cy="27.2" r="0.6" fill="#e0b818"/>
<circle cx="44.8" cy="27.6" r="0.3" fill="#e0b818"/>
<circle cx="45.4" cy="27.9" r="0.3" fill="#e8c030"/>
<circle cx="45.5" cy="27.8" r="0.7" fill="#c8d828"/>
<ellipse cx="64.8" cy="38.7" rx="8.2" ry="3.5" transform="rotate(123 64.8 38.7)" fill="#34bb28" opacity="0.13"/>
<circle cx="62.4" cy="42.0" r="0.7" fill="#4cd03a"/>
<circle cx="64.9" cy="38.2" r="0.7" fill="#2aa822"/>
<circle cx="62.7" cy="41.2" r="1.7" fill="#4cd03a"/>
<circle cx="64.8" cy="38.6" r="1.2" fill="#4cd03a"/>
<circle cx="66.6" cy="36.3" r="1.1" fill="#34bb28"/>
<circle cx="66.8" cy="36.1" r="1.3" fill="#4cd03a"/>
<circle cx="65.7" cy="37.3" r="1.4" fill="#3fc82e"/>
<circle cx="64.4" cy="40.0" r="1.0" fill="#3fc82e"/>
<circle cx="64.8" cy="38.7" r="1.3" fill="#34bb28"/>
<circle cx="64.4" cy="38.4" r="0.8" fill="#2aa822"/>
<circle cx="65.3" cy="38.1" r="0.5" fill="#e8c030"/>
<circle cx="65.5" cy="39.2" r="0.9" fill="#c8d828"/>
<circle cx="65.0" cy="38.7" r="0.7" fill="#c8d828"/>
<circle cx="65.0" cy="38.0" r="0.8" fill="#d6d020"/>
<circle cx="64.1" cy="38.3" r="0.8" fill="#e0b818"/>
<circle cx="65.4" cy="38.9" r="0.4" fill="#d6d020"/>
<circle cx="64.1" cy="38.2" r="0.9" fill="#d6d020"/>
<ellipse cx="37.4" cy="49.5" rx="10.5" ry="5.4" transform="rotate(2 37.4 49.5)" fill="#34bb28" opacity="0.13"/>
<circle cx="36.6" cy="48.6" r="2.2" fill="#34bb28"/>
<circle cx="36.5" cy="51.2" r="1.8" fill="#2aa822"/>
<circle cx="35.4" cy="49.1" r="1.6" fill="#2aa822"/>
<circle cx="37.1" cy="49.2" r="1.1" fill="#4cd03a"/>
<circle cx="40.3" cy="50.8" r="1.0" fill="#4cd03a"/>
<circle cx="39.6" cy="47.7" r="1.1" fill="#4cd03a"/>
<circle cx="37.4" cy="49.5" r="1.8" fill="#3fc82e"/>
<circle cx="37.3" cy="49.6" r="2.3" fill="#3fc82e"/>
<circle cx="36.6" cy="49.5" r="2.4" fill="#2aa822"/>
<circle cx="32.8" cy="49.7" r="2.1" fill="#3fc82e"/>
<circle cx="38.6" cy="50.9" r="0.8" fill="#e0a020"/>
<circle cx="37.4" cy="49.4" r="0.9" fill="#f02828"/>
<circle cx="36.3" cy="46.9" r="0.7" fill="#e01c1c"/>
<circle cx="36.8" cy="48.8" r="1.3" fill="#e08818"/>
<circle cx="37.1" cy="49.9" r="1.2" fill="#d86a14"/>
<circle cx="37.4" cy="47.2" r="1.0" fill="#f02828"/>
<circle cx="35.9" cy="48.7" r="1.1" fill="#f02828"/>
<ellipse cx="52.6" cy="44.5" rx="5.4" ry="4.0" transform="rotate(164 52.6 44.5)" fill="#34bb28" opacity="0.13"/>
<circle cx="52.5" cy="44.4" r="1.2" fill="#34bb28"/>
<circle cx="50.3" cy="44.7" r="0.7" fill="#4cd03a"/>
<circle cx="51.4" cy="44.9" r="1.1" fill="#4cd03a"/>
<circle cx="54.6" cy="43.9" r="1.4" fill="#2aa822"/>
<circle cx="52.0" cy="43.0" r="0.7" fill="#3fc82e"/>
<circle cx="52.2" cy="44.7" r="1.1" fill="#2aa822"/>
<circle cx="52.6" cy="44.4" r="0.7" fill="#34bb28"/>
<circle cx="54.8" cy="43.8" r="1.0" fill="#2aa822"/>
<circle cx="52.5" cy="44.7" r="1.1" fill="#4cd03a"/>
<circle cx="51.7" cy="43.6" r="1.5" fill="#2aa822"/>
<circle cx="53.1" cy="45.0" r="0.9" fill="#e0a020"/>
<circle cx="52.6" cy="43.7" r="0.5" fill="#c81818"/>
<circle cx="52.6" cy="44.5" r="0.5" fill="#e0a020"/>
<circle cx="53.3" cy="43.5" r="0.5" fill="#e0a020"/>
<circle cx="53.9" cy="44.5" r="0.7" fill="#d86a14"/>
<circle cx="53.4" cy="45.6" r="0.6" fill="#e08818"/>
<circle cx="52.4" cy="45.2" r="0.6" fill="#f02828"/>
<ellipse cx="58.3" cy="49.5" rx="7.7" ry="2.8" transform="rotate(169 58.3 49.5)" fill="#34bb28" opacity="0.13"/>
<circle cx="61.4" cy="49.5" r="1.1" fill="#4cd03a"/>
<circle cx="58.7" cy="49.3" r="0.7" fill="#2aa822"/>
<circle cx="54.8" cy="49.9" r="0.6" fill="#2aa822"/>
<circle cx="57.3" cy="48.6" r="1.0" fill="#4cd03a"/>
<circle cx="57.7" cy="49.2" r="0.7" fill="#2aa822"/>
<circle cx="58.3" cy="49.5" r="0.7" fill="#2aa822"/>
<circle cx="60.2" cy="49.3" r="0.7" fill="#4cd03a"/>
<circle cx="57.8" cy="50.0" r="0.8" fill="#34bb28"/>
<circle cx="59.4" cy="49.3" r="0.8" fill="#3fc82e"/>
<circle cx="57.9" cy="49.5" r="0.8" fill="#3fc82e"/>
<circle cx="59.1" cy="49.4" r="0.8" fill="#c81818"/>
<circle cx="57.3" cy="49.5" r="0.8" fill="#c81818"/>
<circle cx="58.9" cy="49.4" r="0.8" fill="#d86a14"/>
<circle cx="56.7" cy="49.8" r="0.4" fill="#e08818"/>
<circle cx="56.6" cy="49.4" r="0.5" fill="#d86a14"/>
<circle cx="58.4" cy="49.5" r="0.5" fill="#d01414"/>
<circle cx="57.6" cy="49.0" r="0.5" fill="#d86a14"/>
<ellipse cx="4.3" cy="52.3" rx="8.8" ry="5.8" transform="rotate(180 4.3 52.3)" fill="#34bb28" opacity="0.13"/>
<circle cx="4.0" cy="52.3" r="1.7" fill="#2aa822"/>
<circle cx="2.7" cy="52.6" r="2.0" fill="#3fc82e"/>
<circle cx="4.3" cy="52.8" r="1.8" fill="#34bb28"/>
<circle cx="4.0" cy="51.1" r="2.0" fill="#2aa822"/>
<circle cx="2.0" cy="51.4" r="1.8" fill="#34bb28"/>
<circle cx="5.8" cy="50.4" r="1.9" fill="#4cd03a"/>
<circle cx="1.5" cy="51.5" r="1.4" fill="#3fc82e"/>
<circle cx="3.4" cy="51.9" r="1.4" fill="#34bb28"/>
<circle cx="4.5" cy="52.0" r="1.3" fill="#2aa822"/>
<circle cx="4.3" cy="52.8" r="1.3" fill="#3fc82e"/>
<circle cx="7.5" cy="52.7" r="1.6" fill="#4cd03a"/>
<circle cx="3.2" cy="50.8" r="0.9" fill="#3fc82e"/>
<circle cx="4.5" cy="53.0" r="1.8" fill="#2aa822"/>
<ellipse cx="22.3" cy="62.4" rx="10.3" ry="4.0" transform="rotate(95 22.3 62.4)" fill="#34bb28" opacity="0.13"/>
<circle cx="22.4" cy="66.6" r="1.5" fill="#3fc82e"/>
<circle cx="22.3" cy="62.6" r="1.2" fill="#4cd03a"/>
<circle cx="21.0" cy="66.5" r="2.0" fill="#34bb28"/>
<circle cx="22.5" cy="60.5" r="1.2" fill="#2aa822"/>
<circle cx="22.7" cy="63.9" r="1.9" fill="#3fc82e"/>
<circle cx="22.1" cy="65.8" r="1.3" fill="#3fc82e"/>
<circle cx="22.9" cy="66.0" r="1.5" fill="#3fc82e"/>
<circle cx="22.2" cy="61.7" r="1.7" fill="#3fc82e"/>
<circle cx="23.6" cy="63.2" r="1.7" fill="#3fc82e"/>
<circle cx="21.7" cy="64.8" r="1.7" fill="#34bb28"/>
<circle cx="22.5" cy="66.8" r="2.0" fill="#34bb28"/>
<circle cx="22.0" cy="61.7" r="1.7" fill="#3fc82e"/>
<circle cx="21.8" cy="63.8" r="1.9" fill="#34bb28"/>
<circle cx="10.7" cy="64.5" r="1.0" fill="#2020a0"/>
<circle cx="12.5" cy="63.5" r="1.0" fill="#2020a0"/>
<circle cx="10.9" cy="63.5" r="0.7" fill="#2020a0"/>
<circle cx="11.0" cy="65.0" r="0.9" fill="#2a2ad8"/>
<circle cx="11.1" cy="64.6" r="1.3" fill="#3030c0"/>
<circle cx="12.3" cy="65.1" r="1.4" fill="#3030c0"/>
<circle cx="11.7" cy="64.3" r="0.8" fill="#2020a0"/>
<circle cx="3.1" cy="45.0" r="1.1" fill="#2020a0"/>
<circle cx="3.2" cy="43.5" r="0.8" fill="#3030c0"/>
<circle cx="4.6" cy="45.5" r="1.1" fill="#3030c0"/>
<circle cx="4.7" cy="43.7" r="0.9" fill="#2a2ad8"/>
<circle cx="3.3" cy="44.5" r="0.6" fill="#2020a0"/>
<circle cx="3.9" cy="46.6" r="0.7" fill="#2020a0"/>
<circle cx="4.3" cy="45.2" r="0.6" fill="#3030c0"/>
<ellipse cx="59.8" cy="29.4" rx="4.4" ry="2.4" transform="rotate(19 59.8 29.4)" fill="#e01c1c" opacity="0.13"/>
<circle cx="59.4" cy="28.7" r="0.5" fill="#d01414"/>
<circle cx="60.4" cy="29.7" r="0.6" fill="#e01c1c"/>
<circle cx="61.0" cy="29.9" r="0.6" fill="#e01c1c"/>
<circle cx="59.1" cy="29.2" r="0.7" fill="#f02828"/>
<circle cx="59.2" cy="28.2" r="0.8" fill="#f02828"/>
<circle cx="60.2" cy="29.9" r="0.9" fill="#c81818"/>
<circle cx="59.4" cy="29.5" r="1.0" fill="#d01414"/>
<circle cx="59.8" cy="28.8" r="0.9" fill="#d01414"/>
<circle cx="59.4" cy="29.5" r="0.7" fill="#c81818"/>
<circle cx="60.0" cy="28.3" r="0.5" fill="#d01414"/>
<circle cx="58.4" cy="29.7" r="0.5" fill="#d01414"/>
<circle cx="60.0" cy="30.3" r="0.9" fill="#d01414"/>
<circle cx="59.8" cy="29.3" r="0.5" fill="#c81818"/>
<ellipse cx="22.3" cy="45.2" rx="3.4" ry="3.0" transform="rotate(46 22.3 45.2)" fill="#e01c1c" opacity="0.13"/>
<circle cx="22.0" cy="45.2" r="0.8" fill="#f02828"/>
<circle cx="23.1" cy="46.6" r="1.0" fill="#d01414"/>
<circle cx="22.3" cy="45.2" r="1.0" fill="#d01414"/>
<circle cx="22.9" cy="45.5" r="0.9" fill="#e01c1c"/>
<circle cx="23.0" cy="44.6" r="0.7" fill="#f02828"/>
<circle cx="22.0" cy="44.9" r="0.8" fill="#e01c1c"/>
<circle cx="23.0" cy="46.0" r="0.9" fill="#c81818"/>
<circle cx="22.2" cy="45.2" r="0.9" fill="#c81818"/>
<circle cx="21.6" cy="44.1" r="0.7" fill="#e01c1c"/>
<circle cx="21.6" cy="45.6" r="0.7" fill="#f02828"/>
<circle cx="22.6" cy="46.5" r="0.9" fill="#d01414"/>
<circle cx="22.4" cy="45.3" r="0.8" fill="#d01414"/>
<circle cx="22.5" cy="43.8" r="0.9" fill="#e01c1c"/>
<ellipse cx="51.8" cy="12.9" rx="5.8" ry="2.2" transform="rotate(140 51.8 12.9)" fill="#34bb28" opacity="0.13"/>
<circle cx="51.6" cy="12.7" r="1.0" fill="#4cd03a"/>
<circle cx="51.7" cy="13.0" r="0.7" fill="#4cd03a"/>
<circle cx="52.7" cy="12.7" r="0.6" fill="#34bb28"/>
<circle cx="51.6" cy="13.2" r="0.6" fill="#4cd03a"/>
<circle cx="52.7" cy="11.7" r="0.6" fill="#34bb28"/>
<circle cx="51.8" cy="12.9" r="0.5" fill="#3fc82e"/>
<circle cx="53.7" cy="12.1" r="0.7" fill="#3fc82e"/>
<circle cx="50.9" cy="13.9" r="0.7" fill="#3fc82e"/>
<circle cx="52.5" cy="12.9" r="1.0" fill="#3fc82e"/>
<circle cx="50.5" cy="13.4" r="1.1" fill="#34bb28"/>
<circle cx="51.6" cy="13.4" r="0.5" fill="#34bb28"/>
<circle cx="52.3" cy="12.4" r="0.5" fill="#34bb28"/>
<circle cx="51.9" cy="12.7" r="0.6" fill="#2aa822"/>
<ellipse cx="1.4" cy="37.3" rx="5.1" ry="2.0" transform="rotate(91 1.4 37.3)" fill="#34bb28" opacity="0.13"/>
<circle cx="1.6" cy="38.5" r="0.5" fill="#34bb28"/>
<circle cx="1.8" cy="38.4" r="0.7" fill="#2aa822"/>
<circle cx="1.4" cy="37.3" r="1.0" fill="#4cd03a"/>
<circle cx="1.3" cy="37.7" r="1.0" fill="#4cd03a"/>
<circle cx="1.7" cy="37.5" r="0.9" fill="#34bb28"/>
<circle cx="0.9" cy="38.5" r="0.5" fill="#2aa822"/>
<circle cx="1.6" cy="36.1" r="0.6" fill="#4cd03a"/>
<circle cx="1.8" cy="39.2" r="0.8" fill="#4cd03a"/>
<circle cx="1.4" cy="37.1" r="0.5" fill="#2aa822"/>
<circle cx="1.2" cy="37.0" r="1.0" fill="#2aa822"/>
<circle cx="1.6" cy="37.2" r="0.4" fill="#c81818"/>
<circle cx="1.6" cy="36.8" r="0.5" fill="#d86a14"/>
<circle cx="1.5" cy="37.0" r="0.3" fill="#f02828"/>
<circle cx="1.5" cy="36.1" r="0.5" fill="#c81818"/>
<circle cx="1.3" cy="37.4" r="0.4" fill="#e0a020"/>
<circle cx="1.9" cy="38.5" r="0.3" fill="#e0a020"/>
<circle cx="1.7" cy="37.0" r="0.3" fill="#e01c1c"/>
<ellipse cx="46.1" cy="4.3" rx="3.6" ry="1.7" transform="rotate(160 46.1 4.3)" fill="#e01c1c" opacity="0.13"/>
<circle cx="44.7" cy="5.2" r="0.3" fill="#f02828"/>
<circle cx="45.7" cy="4.4" r="0.8" fill="#d01414"/>
<circle cx="46.1" cy="4.3" r="0.5" fill="#f02828"/>
<circle cx="45.6" cy="5.0" r="0.7" fill="#c81818"/>
<circle cx="46.1" cy="4.3" r="0.7" fill="#e01c1c"/>
<circle cx="46.0" cy="4.3" r="0.7" fill="#d01414"/>
<circle cx="47.2" cy="3.4" r="0.4" fill="#e01c1c"/>
<circle cx="46.7" cy="4.6" r="0.6" fill="#e01c1c"/>
<circle cx="45.3" cy="4.7" r="0.7" fill="#e01c1c"/>
<circle cx="46.2" cy="4.4" r="0.6" fill="#f02828"/>
<circle cx="46.7" cy="4.2" r="0.5" fill="#d01414"/>
<circle cx="45.2" cy="4.9" r="0.6" fill="#c81818"/>
<circle cx="46.1" cy="4.0" r="0.5" fill="#d01414"/>
<ellipse cx="56.9" cy="15.1" rx="2.7" ry="2.3" transform="rotate(8 56.9 15.1)" fill="#e01c1c" opacity="0.13"/>
<circle cx="57.5" cy="15.1" r="0.4" fill="#d01414"/>
<circle cx="55.8" cy="14.9" r="0.5" fill="#f02828"/>
<circle cx="57.2" cy="15.3" r="0.3" fill="#d01414"/>
<circle cx="56.6" cy="16.0" r="0.4" fill="#d01414"/>
<circle cx="57.0" cy="15.1" r="0.8" fill="#e01c1c"/>
<circle cx="57.9" cy="15.6" r="0.8" fill="#f02828"/>
<circle cx="56.9" cy="15.1" r="0.5" fill="#d01414"/>
<circle cx="58.1" cy="15.6" r="0.4" fill="#d01414"/>
<circle cx="56.9" cy="15.0" r="0.8" fill="#d01414"/>
<circle cx="57.2" cy="14.9" r="0.3" fill="#f02828"/>
<circle cx="57.0" cy="14.8" r="0.5" fill="#f02828"/>
<circle cx="56.3" cy="14.5" r="0.5" fill="#d01414"/>
<circle cx="55.8" cy="14.9" r="0.5" fill="#f02828"/>
<ellipse cx="64.1" cy="8.6" rx="2.9" ry="1.6" transform="rotate(156 64.1 8.6)" fill="#e01c1c" opacity="0.13"/>
<circle cx="63.9" cy="8.6" r="0.3" fill="#f02828"/>
<circle cx="64.9" cy="8.5" r="0.6" fill="#f02828"/>
<circle cx="64.1" cy="8.6" r="0.5" fill="#d01414"/>
<circle cx="64.6" cy="8.5" r="0.6" fill="#d01414"/>
<circle cx="64.2" cy="8.8" r="0.3" fill="#f02828"/>
<circle cx="63.9" cy="8.1" r="0.6" fill="#d01414"/>
<circle cx="63.3" cy="8.8" r="0.5" fill="#c81818"/>
<circle cx="64.1" cy="8.6" r="0.3" fill="#c81818"/>
<circle cx="64.2" cy="9.3" r="0.7" fill="#c81818"/>
<circle cx="64.1" cy="8.6" r="0.4" fill="#f02828"/>
<circle cx="64.4" cy="8.8" r="0.4" fill="#f02828"/>
<circle cx="64.2" cy="8.5" r="0.4" fill="#f02828"/>
<circle cx="64.0" cy="8.5" r="0.3" fill="#f02828"/>
<ellipse cx="7.2" cy="10.8" rx="2.7" ry="1.7" transform="rotate(146 7.2 10.8)" fill="#e01c1c" opacity="0.13"/>
<circle cx="7.2" cy="10.9" r="0.4" fill="#d01414"/>
<circle cx="7.3" cy="10.1" r="0.4" fill="#c81818"/>
<circle cx="7.2" cy="10.7" r="0.6" fill="#f02828"/>
<circle cx="7.4" cy="10.8" r="0.6" fill="#e01c1c"/>
<circle cx="7.8" cy="10.4" r="0.4" fill="#e01c1c"/>
<circle cx="7.8" cy="11.2" r="0.7" fill="#e01c1c"/>
<circle cx="6.9" cy="10.8" r="0.4" fill="#e01c1c"/>
<circle cx="8.0" cy="9.9" r="0.6" fill="#d01414"/>
<circle cx="7.6" cy="11.2" r="0.5" fill="#d01414"/>
<circle cx="7.4" cy="11.0" r="0.5" fill="#d01414"/>
<circle cx="7.1" cy="11.6" r="0.6" fill="#d01414"/>
<circle cx="7.3" cy="10.8" r="0.4" fill="#e01c1c"/>
<circle cx="6.6" cy="11.2" r="0.4" fill="#c81818"/>
<ellipse cx="32.4" cy="66.0" rx="3.0" ry="1.5" transform="rotate(58 32.4 66.0)" fill="#e01c1c" opacity="0.13"/>
<circle cx="32.8" cy="65.6" r="0.5" fill="#c81818"/>
<circle cx="32.1" cy="65.9" r="0.6" fill="#f02828"/>
<circle cx="31.9" cy="65.9" r="0.5" fill="#d01414"/>
<circle cx="32.6" cy="65.8" r="0.4" fill="#f02828"/>
<circle cx="32.2" cy="65.2" r="0.7" fill="#f02828"/>
<circle cx="32.6" cy="65.8" r="0.5" fill="#c81818"/>
<circle cx="32.7" cy="66.6" r="0.3" fill="#e01c1c"/>
<circle cx="32.8" cy="66.9" r="0.5" fill="#c81818"/>
<circle cx="32.3" cy="66.0" r="0.5" fill="#f02828"/>
<circle cx="32.5" cy="65.8" r="0.6" fill="#d01414"/>
<circle cx="32.2" cy="65.1" r="0.4" fill="#d01414"/>
<circle cx="32.1" cy="66.4" r="0.5" fill="#d01414"/>
<circle cx="32.6" cy="67.2" r="0.6" fill="#f02828"/>
<ellipse cx="68.4" cy="21.5" rx="3.4" ry="2.4" transform="rotate(14 68.4 21.5)" fill="#34bb28" opacity="0.13"/>
<circle cx="69.1" cy="21.5" r="0.9" fill="#3fc82e"/>
<circle cx="68.4" cy="21.5" r="0.5" fill="#3fc82e"/>
<circle cx="68.7" cy="21.4" r="0.6" fill="#34bb28"/>
<circle cx="67.7" cy="20.9" r="0.8" fill="#2aa822"/>
<circle cx="69.1" cy="21.1" r="0.7" fill="#2aa822"/>
<circle cx="68.2" cy="21.3" r="0.4" fill="#2aa822"/>
<circle cx="68.4" cy="21.5" r="0.8" fill="#34bb28"/>
<circle cx="68.5" cy="21.2" r="0.5" fill="#3fc82e"/>
<circle cx="67.2" cy="22.0" r="0.7" fill="#34bb28"/>
<circle cx="67.9" cy="21.3" r="0.7" fill="#4cd03a"/>
<circle cx="68.6" cy="21.5" r="0.7" fill="#34bb28"/>
<circle cx="68.6" cy="21.6" r="0.8" fill="#34bb28"/>
<circle cx="68.3" cy="21.7" r="0.8" fill="#34bb28"/>
</g></svg>
<svg x="182.20" y="431.70" width="72.10" height="71.70" viewBox="0 0 72.10 71.70" overflow="hidden">
<rect width="72.10" height="71.70" fill="#050605"/>
<filter id="nz13" x="0" y="0" width="100%" height="100%" filterUnits="userSpaceOnUse" color-interpolation-filters="sRGB"><feTurbulence type="fractalNoise" baseFrequency="0.55" numOctaves="2" seed="13"/><feColorMatrix type="matrix" values="0.35 0 0 0 -0.15 0 0.4 0 0 -0.17 0 0 0.3 0 -0.14 0 0 0 0 1"/></filter>
<rect width="72.10" height="71.70" filter="url(#nz13)"/>
<filter id="tx13" x="0" y="0" width="100%" height="100%" filterUnits="userSpaceOnUse" color-interpolation-filters="sRGB"><feGaussianBlur in="SourceGraphic" stdDeviation="0.5" result="b"/><feTurbulence type="fractalNoise" baseFrequency="0.7" numOctaves="2" seed="63" result="n"/><feColorMatrix in="n" type="matrix" values="0 0 0 0 1 0 0 0 0 1 0 0 0 0 1 2.0 0 0 0 0.05" result="na"/><feComposite in="b" in2="na" operator="in"/></filter>
<g filter="url(#tx13)">
<circle cx="18.7" cy="49.1" r="0.7" fill="#2a9a20" opacity="0.75"/>
<circle cx="62.7" cy="46.0" r="0.5" fill="#2a9a20" opacity="0.67"/>
<circle cx="15.4" cy="21.1" r="0.4" fill="#30b828" opacity="0.76"/>
<circle cx="72.0" cy="71.2" r="0.4" fill="#2a9a20" opacity="0.83"/>
<circle cx="64.1" cy="18.8" r="0.6" fill="#30b828" opacity="0.92"/>
<circle cx="57.2" cy="18.4" r="0.6" fill="#2a9a20" opacity="0.80"/>
<circle cx="40.7" cy="30.8" r="0.8" fill="#2a2ad0" opacity="0.73"/>
<circle cx="47.2" cy="24.8" r="0.7" fill="#2a2ad0" opacity="0.68"/>
<circle cx="54.0" cy="9.7" r="0.6" fill="#30b828" opacity="0.53"/>
<circle cx="12.9" cy="25.5" r="0.6" fill="#2a2ad0" opacity="0.71"/>
<circle cx="28.5" cy="9.4" r="0.6" fill="#30b828" opacity="0.69"/>
<circle cx="63.9" cy="50.3" r="0.4" fill="#2a9a20" opacity="0.74"/>
<circle cx="68.8" cy="27.9" r="0.7" fill="#30b828" opacity="0.38"/>
<circle cx="10.2" cy="57.8" r="0.6" fill="#30b828" opacity="0.45"/>
<circle cx="29.8" cy="62.3" r="0.5" fill="#2a2ad0" opacity="0.86"/>
<circle cx="27.0" cy="51.4" r="0.9" fill="#2a9a20" opacity="0.77"/>
<circle cx="17.1" cy="35.6" r="0.7" fill="#d02020" opacity="0.70"/>
<circle cx="25.9" cy="52.2" r="0.5" fill="#2a2ad0" opacity="0.47"/>
<circle cx="56.8" cy="39.8" r="0.5" fill="#2a9a20" opacity="0.61"/>
<circle cx="42.9" cy="57.9" r="0.9" fill="#d02020" opacity="0.85"/>
<circle cx="46.5" cy="37.8" r="0.9" fill="#2a9a20" opacity="0.42"/>
<circle cx="21.7" cy="19.3" r="0.9" fill="#d02020" opacity="0.66"/>
<circle cx="61.4" cy="2.6" r="0.5" fill="#2a2ad0" opacity="0.65"/>
<circle cx="69.9" cy="37.0" r="0.5" fill="#30b828" opacity="0.47"/>
<circle cx="57.6" cy="27.0" r="0.8" fill="#2a9a20" opacity="0.50"/>
<circle cx="49.3" cy="60.9" r="0.6" fill="#2a2ad0" opacity="0.49"/>
<circle cx="55.7" cy="42.5" r="0.5" fill="#30b828" opacity="0.56"/>
<circle cx="2.7" cy="28.5" r="0.4" fill="#d02020" opacity="0.38"/>
<circle cx="66.4" cy="46.8" r="0.5" fill="#2a2ad0" opacity="0.64"/>
<circle cx="40.0" cy="23.9" r="0.6" fill="#2a2ad0" opacity="0.92"/>
<circle cx="10.7" cy="3.8" r="0.7" fill="#2a2ad0" opacity="0.48"/>
<circle cx="21.9" cy="27.8" r="0.6" fill="#d02020" opacity="0.41"/>
<circle cx="35.4" cy="42.0" r="0.4" fill="#30b828" opacity="0.67"/>
<circle cx="9.3" cy="57.6" r="0.5" fill="#2a2ad0" opacity="0.88"/>
<circle cx="53.3" cy="64.7" r="0.9" fill="#2a9a20" opacity="0.76"/>
<circle cx="6.5" cy="66.8" r="0.6" fill="#d02020" opacity="0.83"/>
<circle cx="15.4" cy="51.5" r="0.7" fill="#2a9a20" opacity="0.90"/>
<circle cx="31.8" cy="41.1" r="0.8" fill="#d02020" opacity="0.89"/>
<circle cx="8.3" cy="9.8" r="0.6" fill="#2a2ad0" opacity="0.53"/>
<circle cx="69.4" cy="21.4" r="0.6" fill="#d02020" opacity="0.91"/>
<circle cx="12.0" cy="1.1" r="0.7" fill="#2a2ad0" opacity="0.95"/>
<circle cx="58.3" cy="30.4" r="0.8" fill="#2a2ad0" opacity="0.37"/>
<circle cx="6.8" cy="29.1" r="0.5" fill="#30b828" opacity="0.51"/>
<circle cx="56.6" cy="32.3" r="0.7" fill="#d02020" opacity="0.67"/>
<circle cx="19.9" cy="16.2" r="0.9" fill="#2a9a20" opacity="0.92"/>
<circle cx="27.0" cy="11.2" r="0.5" fill="#30b828" opacity="0.44"/>
<circle cx="41.7" cy="68.7" r="0.5" fill="#30b828" opacity="0.58"/>
<circle cx="34.3" cy="13.7" r="0.6" fill="#d02020" opacity="0.65"/>
<circle cx="9.0" cy="0.4" r="0.6" fill="#2a9a20" opacity="0.88"/>
<circle cx="35.8" cy="37.4" r="0.5" fill="#d02020" opacity="0.80"/>
<circle cx="46.8" cy="30.7" r="0.8" fill="#d02020" opacity="0.76"/>
<circle cx="21.5" cy="44.4" r="0.8" fill="#d02020" opacity="0.61"/>
<circle cx="54.1" cy="16.2" r="0.7" fill="#d02020" opacity="0.50"/>
<circle cx="38.2" cy="0.7" r="0.7" fill="#30b828" opacity="0.89"/>
<circle cx="47.1" cy="43.6" r="0.5" fill="#30b828" opacity="0.66"/>
<circle cx="0.9" cy="26.5" r="0.9" fill="#2a9a20" opacity="0.84"/>
<circle cx="59.9" cy="48.9" r="0.7" fill="#2a9a20" opacity="0.70"/>
<circle cx="18.5" cy="9.6" r="0.7" fill="#2a9a20" opacity="0.38"/>
<circle cx="46.3" cy="43.7" r="0.8" fill="#d02020" opacity="0.88"/>
<circle cx="27.5" cy="58.4" r="0.6" fill="#30b828" opacity="0.66"/>
<circle cx="4.9" cy="61.6" r="0.5" fill="#2a2ad0" opacity="0.75"/>
<circle cx="65.8" cy="49.0" r="0.6" fill="#30b828" opacity="0.81"/>
<circle cx="67.2" cy="21.5" r="0.9" fill="#d02020" opacity="0.62"/>
<circle cx="29.6" cy="40.5" r="0.4" fill="#d02020" opacity="0.48"/>
<circle cx="10.5" cy="23.3" r="0.7" fill="#2a2ad0" opacity="0.67"/>
<circle cx="31.1" cy="40.3" r="0.5" fill="#d02020" opacity="0.93"/>
<circle cx="6.4" cy="8.1" r="0.9" fill="#2a9a20" opacity="0.68"/>
<circle cx="45.3" cy="22.5" r="0.5" fill="#d02020" opacity="0.46"/>
<circle cx="4.0" cy="31.4" r="0.7" fill="#2a9a20" opacity="0.78"/>
<circle cx="50.5" cy="57.2" r="0.5" fill="#2a9a20" opacity="0.56"/>
<circle cx="3.7" cy="58.8" r="0.4" fill="#2a9a20" opacity="0.82"/>
<circle cx="22.0" cy="21.3" r="0.5" fill="#2a2ad0" opacity="0.70"/>
<circle cx="39.9" cy="65.0" r="0.7" fill="#2a2ad0" opacity="0.48"/>
<circle cx="60.5" cy="6.1" r="0.8" fill="#d02020" opacity="0.93"/>
<circle cx="18.3" cy="57.9" r="0.7" fill="#2a9a20" opacity="0.41"/>
<circle cx="35.5" cy="42.9" r="0.8" fill="#d02020" opacity="0.70"/>
<circle cx="30.3" cy="50.9" r="0.6" fill="#2a9a20" opacity="0.85"/>
<circle cx="9.0" cy="51.1" r="0.4" fill="#30b828" opacity="0.41"/>
<circle cx="57.5" cy="58.7" r="0.4" fill="#30b828" opacity="0.90"/>
<circle cx="50.9" cy="45.3" r="0.5" fill="#2a9a20" opacity="0.44"/>
<circle cx="65.3" cy="1.4" r="0.5" fill="#2a2ad0" opacity="0.56"/>
<circle cx="13.9" cy="10.6" r="0.7" fill="#2a9a20" opacity="0.73"/>
<circle cx="68.0" cy="57.3" r="0.6" fill="#30b828" opacity="0.65"/>
<circle cx="39.8" cy="58.6" r="0.6" fill="#30b828" opacity="0.59"/>
<circle cx="28.4" cy="65.4" r="0.5" fill="#30b828" opacity="0.68"/>
<circle cx="28.9" cy="59.8" r="0.8" fill="#d02020" opacity="0.61"/>
<circle cx="38.7" cy="53.8" r="0.6" fill="#30b828" opacity="0.88"/>
<circle cx="40.2" cy="39.8" r="0.4" fill="#2a9a20" opacity="0.93"/>
<circle cx="3.2" cy="19.6" r="0.4" fill="#30b828" opacity="0.56"/>
<circle cx="53.4" cy="32.9" r="0.6" fill="#2a9a20" opacity="0.47"/>
<circle cx="54.4" cy="28.2" r="0.5" fill="#30b828" opacity="0.83"/>
<circle cx="53.0" cy="40.4" r="0.5" fill="#30b828" opacity="0.37"/>
<circle cx="1.2" cy="37.6" r="0.5" fill="#30b828" opacity="0.87"/>
<circle cx="9.5" cy="68.8" r="0.6" fill="#d02020" opacity="0.64"/>
<circle cx="45.3" cy="5.8" r="0.4" fill="#d02020" opacity="0.83"/>
<circle cx="46.1" cy="17.2" r="0.4" fill="#d02020" opacity="0.77"/>
<circle cx="40.4" cy="14.6" r="0.4" fill="#30b828" opacity="0.85"/>
<circle cx="14.6" cy="52.4" r="0.6" fill="#30b828" opacity="0.44"/>
<circle cx="11.2" cy="59.1" r="0.5" fill="#d02020" opacity="0.39"/>
<circle cx="12.2" cy="34.1" r="0.7" fill="#2a9a20" opacity="0.65"/>
<circle cx="43.5" cy="17.8" r="0.6" fill="#30b828" opacity="0.39"/>
<circle cx="42.9" cy="27.8" r="0.5" fill="#2a9a20" opacity="0.90"/>
<circle cx="52.8" cy="27.4" r="0.8" fill="#2a9a20" opacity="0.88"/>
<circle cx="48.8" cy="71.4" r="0.6" fill="#2a9a20" opacity="0.71"/>
<circle cx="55.3" cy="63.3" r="0.7" fill="#2a9a20" opacity="0.91"/>
<circle cx="50.6" cy="56.8" r="0.7" fill="#d02020" opacity="0.61"/>
<circle cx="58.6" cy="28.7" r="0.5" fill="#30b828" opacity="0.54"/>
<circle cx="32.5" cy="53.9" r="0.8" fill="#d02020" opacity="0.62"/>
<circle cx="51.4" cy="57.8" r="0.5" fill="#2a9a20" opacity="0.78"/>
<circle cx="33.5" cy="15.6" r="0.6" fill="#2a2ad0" opacity="0.90"/>
<ellipse cx="12.3" cy="12.2" rx="7.8" ry="2.9" transform="rotate(127 12.3 12.2)" fill="#e01c1c" opacity="0.13"/>
<circle cx="14.3" cy="11.4" r="0.7" fill="#f02828"/>
<circle cx="11.7" cy="11.9" r="1.3" fill="#f02828"/>
<circle cx="12.2" cy="12.3" r="0.9" fill="#e01c1c"/>
<circle cx="9.9" cy="14.3" r="0.7" fill="#f02828"/>
<circle cx="10.3" cy="13.9" r="1.3" fill="#d01414"/>
<circle cx="12.9" cy="12.6" r="1.1" fill="#e01c1c"/>
<circle cx="13.7" cy="9.9" r="1.5" fill="#f02828"/>
<circle cx="14.7" cy="9.6" r="0.7" fill="#c81818"/>
<circle cx="13.1" cy="13.2" r="1.4" fill="#d01414"/>
<circle cx="12.0" cy="12.7" r="1.1" fill="#e01c1c"/>
<circle cx="12.6" cy="11.3" r="1.1" fill="#c81818"/>
<circle cx="12.3" cy="13.2" r="0.7" fill="#c81818"/>
<circle cx="12.2" cy="12.0" r="1.0" fill="#d01414"/>
<polyline points="10.1,5.7 9.1,6.0 8.3,6.5 7.4,6.9" stroke="#e01c1c" stroke-width="1.1"/>
<polyline points="7.4,6.9 6.6,7.6 5.7,8.0 4.8,8.3" stroke="#e01c1c" stroke-width="0.8"/>
<polyline points="4.8,8.3 3.8,8.1 2.8,8.3 1.8,8.2" stroke="#e01c1c" stroke-width="0.5"/>
<polyline points="9.1,6.0 8.2,5.7" stroke="#e01c1c" stroke-width="0.9"/>
<polyline points="8.2,5.7 7.3,5.2 6.5,4.6" stroke="#e01c1c" stroke-width="0.6"/>
<polyline points="6.5,4.6 5.6,4.3" stroke="#e01c1c" stroke-width="0.4"/>
<polyline points="7.4,6.9 6.4,7.1" stroke="#e01c1c" stroke-width="0.9"/>
<polyline points="6.4,7.1 5.4,6.8 4.4,7.0" stroke="#e01c1c" stroke-width="0.6"/>
<polyline points="4.4,7.0 3.5,7.3" stroke="#e01c1c" stroke-width="0.4"/>
<polyline points="3.8,8.1 3.0,7.5" stroke="#e01c1c" stroke-width="0.9"/>
<polyline points="3.0,7.5 2.4,6.7 2.1,5.7" stroke="#e01c1c" stroke-width="0.6"/>
<polyline points="2.1,5.7 2.2,4.7" stroke="#e01c1c" stroke-width="0.4"/>
<ellipse cx="20.2" cy="12.9" rx="5.1" ry="5.1" transform="rotate(114 20.2 12.9)" fill="#34bb28" opacity="0.13"/>
<circle cx="20.6" cy="13.1" r="1.6" fill="#34bb28"/>
<circle cx="21.4" cy="11.5" r="0.8" fill="#4cd03a"/>
<circle cx="20.6" cy="14.0" r="1.0" fill="#2aa822"/>
<circle cx="19.4" cy="13.7" r="1.3" fill="#4cd03a"/>
<circle cx="18.1" cy="13.8" r="0.8" fill="#3fc82e"/>
<circle cx="19.7" cy="13.1" r="1.3" fill="#2aa822"/>
<circle cx="20.1" cy="12.4" r="1.2" fill="#34bb28"/>
<circle cx="19.5" cy="13.4" r="1.1" fill="#4cd03a"/>
<circle cx="20.1" cy="12.7" r="1.2" fill="#3fc82e"/>
<circle cx="18.4" cy="12.0" r="1.0" fill="#34bb28"/>
<circle cx="21.5" cy="11.0" r="0.7" fill="#34bb28"/>
<circle cx="21.0" cy="12.6" r="1.2" fill="#4cd03a"/>
<circle cx="21.1" cy="13.3" r="0.8" fill="#3fc82e"/>
<ellipse cx="2.9" cy="20.8" rx="6.6" ry="2.9" transform="rotate(172 2.9 20.8)" fill="#34bb28" opacity="0.13"/>
<circle cx="4.5" cy="20.0" r="1.0" fill="#3fc82e"/>
<circle cx="0.8" cy="20.2" r="0.9" fill="#4cd03a"/>
<circle cx="4.4" cy="21.7" r="0.9" fill="#34bb28"/>
<circle cx="2.0" cy="21.4" r="0.9" fill="#2aa822"/>
<circle cx="1.8" cy="22.0" r="1.0" fill="#2aa822"/>
<circle cx="1.7" cy="21.1" r="0.8" fill="#2aa822"/>
<circle cx="1.3" cy="21.9" r="1.3" fill="#34bb28"/>
<circle cx="3.0" cy="20.7" r="0.7" fill="#3fc82e"/>
<circle cx="3.0" cy="22.1" r="1.3" fill="#2aa822"/>
<circle cx="2.2" cy="21.3" r="1.0" fill="#3fc82e"/>
<circle cx="4.3" cy="20.9" r="0.9" fill="#4cd03a"/>
<circle cx="0.2" cy="20.4" r="1.4" fill="#3fc82e"/>
<circle cx="2.3" cy="22.1" r="0.6" fill="#34bb28"/>
<ellipse cx="16.6" cy="29.4" rx="6.1" ry="4.9" transform="rotate(75 16.6 29.4)" fill="#e01c1c" opacity="0.13"/>
<circle cx="15.1" cy="30.5" r="1.7" fill="#f02828"/>
<circle cx="15.9" cy="31.5" r="1.3" fill="#e01c1c"/>
<circle cx="15.5" cy="28.0" r="1.1" fill="#e01c1c"/>
<circle cx="16.1" cy="28.6" r="1.6" fill="#f02828"/>
<circle cx="14.4" cy="29.9" r="1.2" fill="#e01c1c"/>
<circle cx="15.5" cy="27.0" r="1.5" fill="#c81818"/>
<circle cx="15.8" cy="30.4" r="1.6" fill="#d01414"/>
<circle cx="17.2" cy="27.0" r="1.3" fill="#c81818"/>
<circle cx="18.5" cy="28.6" r="1.1" fill="#f02828"/>
<circle cx="17.6" cy="30.7" r="0.8" fill="#d01414"/>
<circle cx="18.6" cy="30.0" r="1.3" fill="#f02828"/>
<circle cx="15.1" cy="28.7" r="0.9" fill="#e01c1c"/>
<circle cx="17.6" cy="29.2" r="1.6" fill="#e01c1c"/>
<polyline points="4.3,28.7 4.1,27.7 3.8,26.8 3.1,26.0" stroke="#f02828" stroke-width="1.1"/>
<polyline points="3.1,26.0 2.6,25.2 2.0,24.4 1.1,23.9" stroke="#f02828" stroke-width="0.8"/>
<polyline points="1.1,23.9 0.3,23.4 -0.7,23.0 -1.6,22.6" stroke="#f02828" stroke-width="0.5"/>
<polyline points="3.1,26.0 2.1,26.0" stroke="#f02828" stroke-width="0.9"/>
<polyline points="2.1,26.0 1.2,26.4 0.3,26.8" stroke="#f02828" stroke-width="0.6"/>
<polyline points="0.3,26.8 -0.7,26.9" stroke="#f02828" stroke-width="0.4"/>
<polyline points="2.6,25.2 3.0,24.3" stroke="#f02828" stroke-width="0.9"/>
<polyline points="3.0,24.3 3.4,23.3 4.0,22.5" stroke="#f02828" stroke-width="0.6"/>
<polyline points="4.0,22.5 4.8,22.0" stroke="#f02828" stroke-width="0.4"/>
<polyline points="1.1,23.9 0.3,24.4" stroke="#f02828" stroke-width="0.9"/>
<polyline points="0.3,24.4 -0.3,25.2 -0.6,26.2" stroke="#f02828" stroke-width="0.6"/>
<polyline points="-0.6,26.2 -1.0,27.1" stroke="#f02828" stroke-width="0.4"/>
<ellipse cx="9.4" cy="33.0" rx="6.0" ry="3.2" transform="rotate(61 9.4 33.0)" fill="#34bb28" opacity="0.13"/>
<circle cx="10.3" cy="35.6" r="0.8" fill="#4cd03a"/>
<circle cx="9.0" cy="32.8" r="1.1" fill="#2aa822"/>
<circle cx="8.6" cy="32.8" r="1.3" fill="#3fc82e"/>
<circle cx="9.8" cy="33.3" r="1.4" fill="#4cd03a"/>
<circle cx="10.2" cy="34.1" r="0.8" fill="#34bb28"/>
<circle cx="10.0" cy="34.9" r="0.6" fill="#2aa822"/>
<circle cx="9.6" cy="33.2" r="1.1" fill="#2aa822"/>
<circle cx="8.0" cy="33.7" r="0.6" fill="#3fc82e"/>
<circle cx="8.4" cy="32.7" r="0.7" fill="#4cd03a"/>
<circle cx="8.8" cy="33.3" r="1.0" fill="#3fc82e"/>
<circle cx="9.2" cy="33.2" r="1.0" fill="#4cd03a"/>
<circle cx="9.2" cy="34.4" r="0.7" fill="#2aa822"/>
<circle cx="9.2" cy="34.4" r="1.3" fill="#4cd03a"/>
<ellipse cx="28.1" cy="31.5" rx="7.4" ry="4.0" transform="rotate(171 28.1 31.5)" fill="#34bb28" opacity="0.13"/>
<circle cx="28.6" cy="31.2" r="1.3" fill="#4cd03a"/>
<circle cx="29.5" cy="31.3" r="1.0" fill="#34bb28"/>
<circle cx="26.0" cy="32.0" r="1.5" fill="#2aa822"/>
<circle cx="27.9" cy="31.8" r="0.8" fill="#4cd03a"/>
<circle cx="29.2" cy="32.6" r="1.6" fill="#4cd03a"/>
<circle cx="26.8" cy="30.8" r="1.5" fill="#3fc82e"/>
<circle cx="29.0" cy="32.4" r="1.5" fill="#34bb28"/>
<circle cx="27.3" cy="31.6" r="1.2" fill="#3fc82e"/>
<circle cx="28.2" cy="32.1" r="1.3" fill="#3fc82e"/>
<circle cx="28.2" cy="31.6" r="1.1" fill="#2aa822"/>
<circle cx="30.6" cy="31.2" r="1.4" fill="#4cd03a"/>
<circle cx="29.2" cy="31.2" r="0.8" fill="#3fc82e"/>
<circle cx="29.9" cy="32.5" r="1.0" fill="#3fc82e"/>
<polyline points="41.8,8.6 41.3,9.5 40.5,10.1 39.8,10.8" stroke="#f02828" stroke-width="1.1"/>
<polyline points="39.8,10.8 38.9,11.2 38.0,11.6 37.0,11.6 36.0,11.4" stroke="#f02828" stroke-width="0.8"/>
<polyline points="36.0,11.4 35.0,11.6 34.2,12.1 33.6,12.9" stroke="#f02828" stroke-width="0.5"/>
<polyline points="37.0,11.6 36.3,12.4 36.0,13.3" stroke="#f02828" stroke-width="0.9"/>
<polyline points="36.0,13.3 35.4,14.1 34.4,14.5" stroke="#f02828" stroke-width="0.6"/>
<polyline points="34.4,14.5 33.6,15.0" stroke="#f02828" stroke-width="0.4"/>
<ellipse cx="45.4" cy="12.9" rx="4.5" ry="4.3" transform="rotate(113 45.4 12.9)" fill="#e01c1c" opacity="0.13"/>
<circle cx="46.4" cy="11.7" r="1.4" fill="#f02828"/>
<circle cx="45.1" cy="12.9" r="1.4" fill="#c81818"/>
<circle cx="45.0" cy="12.8" r="1.1" fill="#d01414"/>
<circle cx="44.3" cy="12.4" r="1.0" fill="#d01414"/>
<circle cx="44.8" cy="12.2" r="0.7" fill="#e01c1c"/>
<circle cx="45.2" cy="12.4" r="0.9" fill="#e01c1c"/>
<circle cx="45.7" cy="12.9" r="1.3" fill="#e01c1c"/>
<circle cx="46.4" cy="11.3" r="1.1" fill="#e01c1c"/>
<circle cx="45.2" cy="12.8" r="0.7" fill="#c81818"/>
<circle cx="44.0" cy="13.3" r="1.4" fill="#e01c1c"/>
<circle cx="44.9" cy="14.3" r="0.9" fill="#d01414"/>
<circle cx="45.8" cy="13.5" r="0.7" fill="#e01c1c"/>
<circle cx="43.9" cy="11.5" r="1.4" fill="#d01414"/>
<polyline points="59.8,10.8 58.9,10.4 57.9,10.4 56.9,10.5" stroke="#e01c1c" stroke-width="1.1"/>
<polyline points="56.9,10.5 56.0,10.2 55.1,9.7 54.2,9.2 53.4,8.7" stroke="#e01c1c" stroke-width="0.8"/>
<polyline points="53.4,8.7 52.4,8.5 51.4,8.2 50.5,7.8" stroke="#e01c1c" stroke-width="0.5"/>
<polyline points="58.9,10.4 58.6,9.4 58.3,8.5" stroke="#e01c1c" stroke-width="0.9"/>
<polyline points="58.3,8.5 57.8,7.6 57.5,6.7" stroke="#e01c1c" stroke-width="0.6"/>
<polyline points="57.5,6.7 57.2,5.7" stroke="#e01c1c" stroke-width="0.4"/>
<polyline points="56.0,10.2 55.6,11.1 55.2,12.0" stroke="#e01c1c" stroke-width="0.9"/>
<polyline points="55.2,12.0 55.0,13.0 54.5,13.8" stroke="#e01c1c" stroke-width="0.6"/>
<polyline points="54.5,13.8 53.7,14.4" stroke="#e01c1c" stroke-width="0.4"/>
<polyline points="54.2,9.2 53.2,9.5 52.4,10.1" stroke="#e01c1c" stroke-width="0.9"/>
<polyline points="52.4,10.1 51.4,10.2 50.4,10.0" stroke="#e01c1c" stroke-width="0.6"/>
<polyline points="50.4,10.0 49.6,9.5" stroke="#e01c1c" stroke-width="0.4"/>
<polyline points="50.5,7.8 49.6,7.3 48.8,6.8" stroke="#e01c1c" stroke-width="0.9"/>
<polyline points="48.8,6.8 47.8,6.5 46.9,6.1" stroke="#e01c1c" stroke-width="0.6"/>
<polyline points="46.9,6.1 46.1,5.5" stroke="#e01c1c" stroke-width="0.4"/>
<polyline points="61.3,16.5 62.0,17.2 62.8,17.7 63.8,17.9" stroke="#f02828" stroke-width="1.1"/>
<polyline points="63.8,17.9 64.8,17.9 65.7,17.6 66.7,17.4" stroke="#f02828" stroke-width="0.8"/>
<polyline points="66.7,17.4 67.7,17.5 68.7,17.4 69.7,17.3" stroke="#f02828" stroke-width="0.5"/>
<polyline points="67.7,17.5 68.4,16.8" stroke="#f02828" stroke-width="0.9"/>
<polyline points="68.4,16.8 68.7,15.9 68.9,14.9" stroke="#f02828" stroke-width="0.6"/>
<polyline points="68.9,14.9 69.3,14.0" stroke="#f02828" stroke-width="0.4"/>
<polyline points="69.7,17.3 70.3,16.5" stroke="#f02828" stroke-width="0.9"/>
<polyline points="70.3,16.5 70.6,15.6 70.5,14.6" stroke="#f02828" stroke-width="0.6"/>
<polyline points="70.5,14.6 70.8,13.6" stroke="#f02828" stroke-width="0.4"/>
<ellipse cx="46.1" cy="28.0" rx="6.1" ry="4.3" transform="rotate(174 46.1 28.0)" fill="#34bb28" opacity="0.13"/>
<circle cx="46.3" cy="28.0" r="1.2" fill="#3fc82e"/>
<circle cx="45.5" cy="27.9" r="1.0" fill="#2aa822"/>
<circle cx="44.9" cy="29.9" r="1.1" fill="#3fc82e"/>
<circle cx="47.7" cy="27.4" r="1.6" fill="#3fc82e"/>
<circle cx="44.5" cy="26.8" r="1.0" fill="#34bb28"/>
<circle cx="45.7" cy="28.2" r="0.8" fill="#2aa822"/>
<circle cx="46.3" cy="27.4" r="1.6" fill="#2aa822"/>
<circle cx="46.1" cy="29.7" r="1.1" fill="#4cd03a"/>
<circle cx="46.1" cy="27.9" r="1.4" fill="#2aa822"/>
<circle cx="44.7" cy="28.1" r="1.0" fill="#3fc82e"/>
<circle cx="46.5" cy="26.4" r="1.0" fill="#4cd03a"/>
<circle cx="46.6" cy="29.4" r="1.1" fill="#4cd03a"/>
<circle cx="47.4" cy="29.5" r="0.9" fill="#34bb28"/>
<ellipse cx="56.2" cy="28.7" rx="6.3" ry="3.1" transform="rotate(108 56.2 28.7)" fill="#34bb28" opacity="0.13"/>
<circle cx="56.1" cy="28.7" r="1.2" fill="#3fc82e"/>
<circle cx="55.1" cy="29.8" r="0.6" fill="#3fc82e"/>
<circle cx="54.9" cy="31.3" r="1.0" fill="#2aa822"/>
<circle cx="55.8" cy="26.7" r="0.6" fill="#3fc82e"/>
<circle cx="56.1" cy="26.5" r="0.7" fill="#4cd03a"/>
<circle cx="55.8" cy="27.3" r="1.2" fill="#3fc82e"/>
<circle cx="55.2" cy="30.3" r="0.9" fill="#4cd03a"/>
<circle cx="56.4" cy="28.3" r="0.7" fill="#2aa822"/>
<circle cx="56.3" cy="28.9" r="1.3" fill="#2aa822"/>
<circle cx="56.6" cy="28.7" r="1.1" fill="#34bb28"/>
<circle cx="55.3" cy="30.2" r="0.6" fill="#3fc82e"/>
<circle cx="57.1" cy="27.4" r="0.7" fill="#4cd03a"/>
<circle cx="56.4" cy="29.6" r="1.0" fill="#34bb28"/>
<ellipse cx="55.5" cy="36.6" rx="6.2" ry="3.6" transform="rotate(125 55.5 36.6)" fill="#34bb28" opacity="0.13"/>
<circle cx="56.0" cy="37.6" r="0.7" fill="#34bb28"/>
<circle cx="55.5" cy="38.7" r="1.5" fill="#4cd03a"/>
<circle cx="55.5" cy="36.7" r="1.2" fill="#4cd03a"/>
<circle cx="56.3" cy="34.4" r="1.5" fill="#2aa822"/>
<circle cx="56.2" cy="35.2" r="1.1" fill="#4cd03a"/>
<circle cx="55.3" cy="37.6" r="0.7" fill="#2aa822"/>
<circle cx="54.2" cy="35.9" r="0.9" fill="#2aa822"/>
<circle cx="55.9" cy="38.0" r="0.8" fill="#4cd03a"/>
<circle cx="55.6" cy="38.0" r="1.2" fill="#3fc82e"/>
<circle cx="55.4" cy="37.0" r="0.9" fill="#34bb28"/>
<circle cx="55.9" cy="35.8" r="0.9" fill="#3fc82e"/>
<circle cx="55.9" cy="38.0" r="0.8" fill="#34bb28"/>
<circle cx="56.7" cy="36.5" r="1.1" fill="#34bb28"/>
<ellipse cx="18.7" cy="44.5" rx="6.5" ry="4.0" transform="rotate(171 18.7 44.5)" fill="#34bb28" opacity="0.13"/>
<circle cx="17.4" cy="43.7" r="1.1" fill="#4cd03a"/>
<circle cx="21.3" cy="43.8" r="0.7" fill="#34bb28"/>
<circle cx="16.1" cy="44.1" r="1.4" fill="#3fc82e"/>
<circle cx="19.8" cy="45.2" r="1.0" fill="#34bb28"/>
<circle cx="18.1" cy="43.4" r="1.1" fill="#3fc82e"/>
<circle cx="16.3" cy="45.0" r="1.2" fill="#2aa822"/>
<circle cx="19.1" cy="43.3" r="1.6" fill="#34bb28"/>
<circle cx="19.8" cy="43.1" r="1.1" fill="#3fc82e"/>
<circle cx="17.7" cy="43.3" r="0.8" fill="#34bb28"/>
<circle cx="19.0" cy="45.1" r="0.7" fill="#3fc82e"/>
<circle cx="18.8" cy="43.7" r="1.5" fill="#4cd03a"/>
<circle cx="19.0" cy="44.7" r="0.8" fill="#2aa822"/>
<circle cx="18.2" cy="45.7" r="1.5" fill="#3fc82e"/>
<circle cx="33.2" cy="44.4" r="0.7" fill="#3030c0"/>
<circle cx="33.4" cy="43.6" r="0.7" fill="#2a2ad8"/>
<circle cx="32.6" cy="43.8" r="0.5" fill="#2a2ad8"/>
<circle cx="32.1" cy="44.0" r="0.7" fill="#3030c0"/>
<circle cx="31.8" cy="44.1" r="0.6" fill="#3030c0"/>
<circle cx="33.3" cy="43.7" r="0.9" fill="#2020a0"/>
<circle cx="31.0" cy="44.4" r="0.8" fill="#2a2ad8"/>
<ellipse cx="29.6" cy="52.3" rx="6.7" ry="2.5" transform="rotate(60 29.6 52.3)" fill="#34bb28" opacity="0.13"/>
<circle cx="29.9" cy="52.7" r="0.6" fill="#34bb28"/>
<circle cx="29.4" cy="52.3" r="0.6" fill="#34bb28"/>
<circle cx="29.9" cy="53.8" r="1.2" fill="#4cd03a"/>
<circle cx="29.8" cy="52.1" r="1.2" fill="#2aa822"/>
<circle cx="30.5" cy="54.2" r="0.9" fill="#2aa822"/>
<circle cx="31.4" cy="54.2" r="1.2" fill="#2aa822"/>
<circle cx="30.4" cy="53.5" r="0.5" fill="#2aa822"/>
<circle cx="28.9" cy="51.6" r="0.8" fill="#3fc82e"/>
<circle cx="29.4" cy="52.2" r="0.8" fill="#4cd03a"/>
<circle cx="29.6" cy="52.1" r="1.1" fill="#34bb28"/>
<circle cx="28.8" cy="51.4" r="0.5" fill="#e0b818"/>
<circle cx="29.6" cy="52.4" r="0.8" fill="#d6d020"/>
<circle cx="29.9" cy="52.9" r="0.7" fill="#d6d020"/>
<circle cx="29.8" cy="52.6" r="0.6" fill="#d6d020"/>
<circle cx="29.5" cy="52.5" r="0.4" fill="#c8d828"/>
<circle cx="29.1" cy="52.3" r="0.5" fill="#d6d020"/>
<circle cx="29.3" cy="52.0" r="0.5" fill="#e0b818"/>
<ellipse cx="5.8" cy="54.5" rx="6.1" ry="3.2" transform="rotate(80 5.8 54.5)" fill="#e01c1c" opacity="0.13"/>
<circle cx="6.4" cy="52.9" r="1.1" fill="#f02828"/>
<circle cx="7.3" cy="55.8" r="1.0" fill="#f02828"/>
<circle cx="5.2" cy="55.4" r="1.0" fill="#f02828"/>
<circle cx="5.3" cy="54.6" r="0.8" fill="#f02828"/>
<circle cx="4.8" cy="54.1" r="1.3" fill="#c81818"/>
<circle cx="5.7" cy="53.8" r="1.2" fill="#c81818"/>
<circle cx="5.9" cy="53.2" r="1.3" fill="#f02828"/>
<circle cx="5.9" cy="51.7" r="0.9" fill="#d01414"/>
<circle cx="5.3" cy="51.6" r="1.3" fill="#e01c1c"/>
<circle cx="4.5" cy="55.4" r="1.1" fill="#e01c1c"/>
<circle cx="7.0" cy="56.1" r="1.4" fill="#c81818"/>
<circle cx="5.9" cy="54.3" r="1.2" fill="#f02828"/>
<circle cx="5.4" cy="54.3" r="1.2" fill="#f02828"/>
<ellipse cx="43.3" cy="54.5" rx="7.3" ry="3.1" transform="rotate(175 43.3 54.5)" fill="#e01c1c" opacity="0.13"/>
<circle cx="42.9" cy="54.8" r="1.3" fill="#e01c1c"/>
<circle cx="43.3" cy="54.5" r="1.4" fill="#d01414"/>
<circle cx="46.4" cy="54.9" r="1.2" fill="#f02828"/>
<circle cx="41.9" cy="53.8" r="1.5" fill="#e01c1c"/>
<circle cx="44.3" cy="54.1" r="1.0" fill="#e01c1c"/>
<circle cx="45.7" cy="53.3" r="0.9" fill="#f02828"/>
<circle cx="42.0" cy="55.8" r="1.3" fill="#d01414"/>
<circle cx="41.9" cy="53.3" r="0.6" fill="#c81818"/>
<circle cx="42.8" cy="53.5" r="0.8" fill="#d01414"/>
<circle cx="40.5" cy="54.5" r="0.8" fill="#d01414"/>
<circle cx="44.1" cy="54.9" r="1.4" fill="#c81818"/>
<circle cx="46.1" cy="54.6" r="0.9" fill="#d01414"/>
<circle cx="41.7" cy="54.4" r="0.8" fill="#f02828"/>
<ellipse cx="18.7" cy="60.9" rx="8.3" ry="3.2" transform="rotate(76 18.7 60.9)" fill="#34bb28" opacity="0.13"/>
<circle cx="18.3" cy="60.1" r="0.8" fill="#34bb28"/>
<circle cx="18.4" cy="61.7" r="1.3" fill="#34bb28"/>
<circle cx="18.8" cy="62.3" r="1.1" fill="#2aa822"/>
<circle cx="18.7" cy="63.3" r="0.9" fill="#3fc82e"/>
<circle cx="18.4" cy="60.6" r="1.5" fill="#34bb28"/>
<circle cx="18.1" cy="60.1" r="0.9" fill="#2aa822"/>
<circle cx="19.0" cy="64.1" r="0.9" fill="#4cd03a"/>
<circle cx="18.4" cy="60.0" r="0.9" fill="#3fc82e"/>
<circle cx="19.4" cy="60.9" r="1.0" fill="#2aa822"/>
<circle cx="19.9" cy="61.3" r="1.6" fill="#3fc82e"/>
<circle cx="19.5" cy="62.6" r="1.2" fill="#4cd03a"/>
<circle cx="17.4" cy="59.7" r="1.0" fill="#34bb28"/>
<circle cx="18.2" cy="61.2" r="1.4" fill="#4cd03a"/>
<ellipse cx="9.4" cy="61.7" rx="4.4" ry="4.4" transform="rotate(107 9.4 61.7)" fill="#34bb28" opacity="0.13"/>
<circle cx="9.1" cy="62.6" r="0.7" fill="#34bb28"/>
<circle cx="10.5" cy="60.0" r="0.9" fill="#2aa822"/>
<circle cx="9.7" cy="61.7" r="1.4" fill="#2aa822"/>
<circle cx="9.5" cy="62.8" r="1.3" fill="#3fc82e"/>
<circle cx="10.1" cy="61.3" r="1.4" fill="#34bb28"/>
<circle cx="8.8" cy="60.9" r="0.8" fill="#2aa822"/>
<circle cx="9.7" cy="61.7" r="1.2" fill="#34bb28"/>
<circle cx="9.0" cy="61.8" r="1.2" fill="#4cd03a"/>
<circle cx="10.1" cy="62.2" r="1.4" fill="#2aa822"/>
<circle cx="7.6" cy="61.0" r="1.2" fill="#2aa822"/>
<circle cx="8.5" cy="62.0" r="1.3" fill="#2aa822"/>
<circle cx="11.5" cy="61.8" r="0.9" fill="#2aa822"/>
<circle cx="9.4" cy="62.0" r="1.1" fill="#2aa822"/>
<ellipse cx="38.9" cy="67.4" rx="5.7" ry="4.6" transform="rotate(171 38.9 67.4)" fill="#e01c1c" opacity="0.13"/>
<circle cx="38.7" cy="67.0" r="0.8" fill="#f02828"/>
<circle cx="39.6" cy="67.6" r="1.5" fill="#f02828"/>
<circle cx="37.6" cy="67.7" r="0.9" fill="#d01414"/>
<circle cx="39.6" cy="67.8" r="1.6" fill="#d01414"/>
<circle cx="40.9" cy="67.1" r="0.9" fill="#c81818"/>
<circle cx="41.5" cy="67.5" r="1.2" fill="#c81818"/>
<circle cx="41.3" cy="67.4" r="1.3" fill="#c81818"/>
<circle cx="39.6" cy="68.1" r="1.4" fill="#d01414"/>
<circle cx="40.6" cy="67.5" r="1.1" fill="#c81818"/>
<circle cx="39.7" cy="67.0" r="1.3" fill="#c81818"/>
<circle cx="40.9" cy="67.5" r="1.5" fill="#e01c1c"/>
<circle cx="36.6" cy="66.7" r="1.2" fill="#c81818"/>
<circle cx="39.2" cy="67.7" r="1.3" fill="#c81818"/>
<ellipse cx="67.8" cy="60.9" rx="5.0" ry="3.9" transform="rotate(102 67.8 60.9)" fill="#34bb28" opacity="0.13"/>
<circle cx="67.8" cy="61.5" r="1.0" fill="#3fc82e"/>
<circle cx="67.9" cy="61.4" r="1.1" fill="#4cd03a"/>
<circle cx="66.4" cy="62.3" r="1.1" fill="#3fc82e"/>
<circle cx="67.3" cy="58.7" r="0.9" fill="#4cd03a"/>
<circle cx="67.5" cy="60.2" r="1.3" fill="#4cd03a"/>
<circle cx="68.1" cy="61.2" r="0.6" fill="#2aa822"/>
<circle cx="67.2" cy="62.2" r="1.3" fill="#34bb28"/>
<circle cx="67.9" cy="59.4" r="1.0" fill="#2aa822"/>
<circle cx="66.5" cy="61.9" r="1.0" fill="#4cd03a"/>
<circle cx="65.9" cy="61.9" r="0.7" fill="#34bb28"/>
<circle cx="67.6" cy="60.9" r="0.7" fill="#d01414"/>
<circle cx="67.8" cy="61.5" r="0.9" fill="#d86a14"/>
<circle cx="67.7" cy="59.7" r="0.5" fill="#d86a14"/>
<circle cx="67.8" cy="60.7" r="0.8" fill="#c81818"/>
<circle cx="67.8" cy="60.9" r="0.7" fill="#e01c1c"/>
<circle cx="67.3" cy="62.1" r="0.4" fill="#c81818"/>
<circle cx="68.5" cy="61.0" r="0.8" fill="#d86a14"/>
<polyline points="61.3,60.9 62.0,60.3 62.8,59.6 63.2,58.7" stroke="#e01c1c" stroke-width="1.1"/>
<polyline points="63.2,58.7 64.0,58.1 64.4,57.2 64.5,56.2" stroke="#e01c1c" stroke-width="0.8"/>
<polyline points="64.5,56.2 64.8,55.2 64.9,54.2 64.9,53.2" stroke="#e01c1c" stroke-width="0.5"/>
<ellipse cx="47.6" cy="43.7" rx="4.3" ry="2.7" transform="rotate(63 47.6 43.7)" fill="#e01c1c" opacity="0.13"/>
<circle cx="47.6" cy="42.9" r="0.8" fill="#f02828"/>
<circle cx="47.6" cy="43.6" r="0.5" fill="#d01414"/>
<circle cx="47.4" cy="45.3" r="0.9" fill="#f02828"/>
<circle cx="46.8" cy="43.5" r="0.8" fill="#d01414"/>
<circle cx="47.2" cy="43.3" r="0.5" fill="#d01414"/>
<circle cx="47.7" cy="44.9" r="0.5" fill="#f02828"/>
<circle cx="47.0" cy="43.5" r="0.8" fill="#d01414"/>
<circle cx="46.5" cy="42.2" r="1.1" fill="#c81818"/>
<circle cx="46.3" cy="42.2" r="1.1" fill="#d01414"/>
<circle cx="48.0" cy="45.2" r="0.8" fill="#f02828"/>
<circle cx="47.3" cy="43.2" r="0.6" fill="#e01c1c"/>
<circle cx="46.7" cy="42.7" r="1.1" fill="#c81818"/>
<circle cx="47.1" cy="42.3" r="1.0" fill="#d01414"/>
<polyline points="62.7,50.9 63.4,50.2 63.9,49.3 64.4,48.4" stroke="#f02828" stroke-width="1.1"/>
<polyline points="64.4,48.4 64.8,47.5 64.9,46.5 65.4,45.6" stroke="#f02828" stroke-width="0.8"/>
<polyline points="65.4,45.6 65.4,44.6 65.6,43.7 65.9,42.7" stroke="#f02828" stroke-width="0.5"/>
<polyline points="65.6,43.7 64.8,43.1" stroke="#f02828" stroke-width="0.9"/>
<polyline points="64.8,43.1 63.9,42.6 63.3,41.8" stroke="#f02828" stroke-width="0.6"/>
<polyline points="63.3,41.8 62.5,41.2" stroke="#f02828" stroke-width="0.4"/>
<ellipse cx="25.2" cy="38.7" rx="5.1" ry="2.3" transform="rotate(138 25.2 38.7)" fill="#e01c1c" opacity="0.13"/>
<circle cx="25.1" cy="38.6" r="1.0" fill="#c81818"/>
<circle cx="25.9" cy="38.2" r="0.7" fill="#f02828"/>
<circle cx="25.2" cy="38.7" r="0.9" fill="#e01c1c"/>
<circle cx="23.3" cy="39.8" r="0.5" fill="#d01414"/>
<circle cx="25.4" cy="39.3" r="0.5" fill="#c81818"/>
<circle cx="25.2" cy="38.7" r="0.6" fill="#c81818"/>
<circle cx="25.4" cy="38.3" r="0.9" fill="#e01c1c"/>
<circle cx="26.0" cy="39.5" r="0.7" fill="#f02828"/>
<circle cx="26.1" cy="38.3" r="0.7" fill="#c81818"/>
<circle cx="25.4" cy="38.3" r="1.0" fill="#c81818"/>
<circle cx="24.3" cy="40.4" r="0.6" fill="#d01414"/>
<circle cx="24.0" cy="40.4" r="0.5" fill="#c81818"/>
<circle cx="25.6" cy="37.8" r="0.5" fill="#f02828"/>
<circle cx="13.6" cy="63.2" r="0.8" fill="#3030c0"/>
<circle cx="12.9" cy="61.5" r="0.8" fill="#2020a0"/>
<circle cx="13.6" cy="61.6" r="0.6" fill="#2a2ad8"/>
<circle cx="14.4" cy="63.3" r="0.5" fill="#3030c0"/>
<circle cx="14.5" cy="64.9" r="0.6" fill="#2020a0"/>
<circle cx="13.7" cy="61.7" r="1.0" fill="#2a2ad8"/>
<circle cx="13.5" cy="63.0" r="0.7" fill="#3030c0"/>
<circle cx="37.6" cy="54.8" r="0.4" fill="#2a2ad8"/>
<circle cx="36.8" cy="55.1" r="0.8" fill="#3030c0"/>
<circle cx="37.8" cy="55.3" r="0.7" fill="#2a2ad8"/>
<circle cx="36.4" cy="57.1" r="0.4" fill="#2020a0"/>
<circle cx="35.4" cy="57.0" r="0.4" fill="#2020a0"/>
<circle cx="36.7" cy="55.9" r="0.4" fill="#2020a0"/>
<circle cx="36.4" cy="55.8" r="0.6" fill="#2a2ad8"/>
<circle cx="31.2" cy="68.3" r="0.9" fill="#2020a0"/>
<circle cx="30.6" cy="68.2" r="0.9" fill="#2020a0"/>
<circle cx="29.1" cy="67.7" r="0.9" fill="#2020a0"/>
<circle cx="31.1" cy="68.2" r="0.4" fill="#2020a0"/>
<circle cx="31.1" cy="68.3" r="0.5" fill="#2020a0"/>
<circle cx="30.9" cy="68.1" r="0.5" fill="#2a2ad8"/>
<circle cx="31.0" cy="69.0" r="0.5" fill="#2020a0"/>
<polyline points="36.0,21.5 37.0,21.5 38.0,21.5 39.0,21.4" stroke="#4cd03a" stroke-width="1.3"/>
<polyline points="39.0,21.4 40.0,21.3 41.0,21.0 41.8,20.4" stroke="#4cd03a" stroke-width="0.9"/>
<polyline points="41.8,20.4 42.4,19.6 42.8,18.7 43.0,17.7" stroke="#4cd03a" stroke-width="0.6"/>
<polyline points="37.0,21.5 37.9,21.0" stroke="#4cd03a" stroke-width="1.0"/>
<polyline points="37.9,21.0 38.6,20.2 39.0,19.3" stroke="#4cd03a" stroke-width="0.7"/>
<polyline points="39.0,19.3 39.5,18.4" stroke="#4cd03a" stroke-width="0.4"/>
<polyline points="41.0,21.0 42.0,21.2" stroke="#4cd03a" stroke-width="1.0"/>
<polyline points="42.0,21.2 43.0,21.3 43.9,21.1" stroke="#4cd03a" stroke-width="0.7"/>
<polyline points="43.9,21.1 44.9,20.9" stroke="#4cd03a" stroke-width="0.4"/>
<polyline points="64.9,43.0 64.9,42.0 65.3,41.1 65.6,40.1" stroke="#34bb28" stroke-width="1.3"/>
<polyline points="65.6,40.1 66.3,39.4 66.6,38.5 67.2,37.6" stroke="#34bb28" stroke-width="0.9"/>
<polyline points="67.2,37.6 67.6,36.7 68.1,35.8 68.9,35.2" stroke="#34bb28" stroke-width="0.6"/>
<polyline points="65.3,41.1 64.5,40.4" stroke="#34bb28" stroke-width="1.0"/>
<polyline points="64.5,40.4 63.6,40.1 62.7,39.6" stroke="#34bb28" stroke-width="0.7"/>
<polyline points="62.7,39.6 61.9,39.0" stroke="#34bb28" stroke-width="0.4"/>
<polyline points="66.6,38.5 66.0,37.7" stroke="#34bb28" stroke-width="1.0"/>
<polyline points="66.0,37.7 65.7,36.7 65.0,36.0" stroke="#34bb28" stroke-width="0.7"/>
<polyline points="65.0,36.0 64.2,35.4" stroke="#34bb28" stroke-width="0.4"/>
</g></svg>
<svg x="287.70" y="431.70" width="72.50" height="71.70" viewBox="0 0 72.50 71.70" overflow="hidden">
<rect width="72.50" height="71.70" fill="#050605"/>
<filter id="nz14" x="0" y="0" width="100%" height="100%" filterUnits="userSpaceOnUse" color-interpolation-filters="sRGB"><feTurbulence type="fractalNoise" baseFrequency="0.55" numOctaves="2" seed="14"/><feColorMatrix type="matrix" values="0.3 0 0 0 -0.14 0 0.4 0 0 -0.17 0 0 0.3 0 -0.14 0 0 0 0 1"/></filter>
<rect width="72.50" height="71.70" filter="url(#nz14)"/>
<filter id="tx14" x="0" y="0" width="100%" height="100%" filterUnits="userSpaceOnUse" color-interpolation-filters="sRGB"><feGaussianBlur in="SourceGraphic" stdDeviation="0.5" result="b"/><feTurbulence type="fractalNoise" baseFrequency="0.7" numOctaves="2" seed="64" result="n"/><feColorMatrix in="n" type="matrix" values="0 0 0 0 1 0 0 0 0 1 0 0 0 0 1 2.0 0 0 0 0.05" result="na"/><feComposite in="b" in2="na" operator="in"/></filter>
<g filter="url(#tx14)">
<circle cx="7.7" cy="50.4" r="0.8" fill="#c08020" opacity="0.51"/>
<circle cx="18.5" cy="52.6" r="0.5" fill="#2a9a20" opacity="0.76"/>
<circle cx="28.8" cy="55.7" r="0.6" fill="#30b828" opacity="0.87"/>
<circle cx="22.9" cy="57.9" r="0.8" fill="#2a2ad0" opacity="0.73"/>
<circle cx="10.9" cy="39.5" r="0.5" fill="#2a2ad0" opacity="0.74"/>
<circle cx="8.9" cy="24.2" r="0.6" fill="#30b828" opacity="0.86"/>
<circle cx="27.7" cy="41.8" r="0.8" fill="#2a9a20" opacity="0.41"/>
<circle cx="46.5" cy="63.5" r="0.6" fill="#c08020" opacity="0.73"/>
<circle cx="13.1" cy="6.8" r="0.6" fill="#2a9a20" opacity="0.47"/>
<circle cx="32.8" cy="15.6" r="0.7" fill="#2a2ad0" opacity="0.41"/>
<circle cx="59.3" cy="6.4" r="0.5" fill="#2a2ad0" opacity="0.45"/>
<circle cx="29.9" cy="49.2" r="0.4" fill="#c08020" opacity="0.64"/>
<circle cx="49.7" cy="38.3" r="0.5" fill="#2a9a20" opacity="0.63"/>
<circle cx="30.3" cy="59.3" r="0.6" fill="#2a2ad0" opacity="0.49"/>
<circle cx="62.7" cy="67.3" r="0.7" fill="#30b828" opacity="0.64"/>
<circle cx="19.3" cy="31.6" r="0.8" fill="#2a9a20" opacity="0.60"/>
<circle cx="25.2" cy="40.8" r="0.5" fill="#2a9a20" opacity="0.53"/>
<circle cx="13.7" cy="45.1" r="0.7" fill="#2a9a20" opacity="0.41"/>
<circle cx="7.1" cy="13.8" r="1.0" fill="#30b828" opacity="0.70"/>
<circle cx="20.5" cy="67.1" r="0.9" fill="#2a2ad0" opacity="0.42"/>
<circle cx="69.3" cy="55.6" r="0.5" fill="#30b828" opacity="0.87"/>
<circle cx="19.2" cy="17.8" r="0.7" fill="#c08020" opacity="0.55"/>
<circle cx="52.3" cy="64.2" r="0.7" fill="#30b828" opacity="0.71"/>
<circle cx="68.3" cy="54.3" r="0.7" fill="#c08020" opacity="0.47"/>
<circle cx="35.5" cy="17.6" r="0.6" fill="#2a9a20" opacity="0.81"/>
<circle cx="22.8" cy="65.6" r="0.4" fill="#c08020" opacity="0.74"/>
<circle cx="31.1" cy="55.5" r="0.6" fill="#30b828" opacity="0.41"/>
<circle cx="14.5" cy="49.6" r="0.5" fill="#e02020" opacity="0.64"/>
<circle cx="9.1" cy="64.3" r="0.9" fill="#30b828" opacity="0.50"/>
<circle cx="26.7" cy="30.5" r="0.6" fill="#e02020" opacity="0.40"/>
<circle cx="58.6" cy="12.3" r="0.8" fill="#30b828" opacity="0.48"/>
<circle cx="46.9" cy="47.1" r="0.9" fill="#2a2ad0" opacity="0.71"/>
<circle cx="59.7" cy="50.4" r="0.6" fill="#c08020" opacity="0.51"/>
<circle cx="34.1" cy="66.9" r="0.4" fill="#2a2ad0" opacity="0.76"/>
<circle cx="67.7" cy="38.9" r="1.0" fill="#30b828" opacity="0.39"/>
<circle cx="60.9" cy="8.3" r="0.9" fill="#30b828" opacity="0.91"/>
<circle cx="4.9" cy="56.9" r="0.4" fill="#2a2ad0" opacity="0.94"/>
<circle cx="64.3" cy="10.7" r="0.6" fill="#2a9a20" opacity="0.87"/>
<circle cx="52.1" cy="1.4" r="1.0" fill="#30b828" opacity="0.50"/>
<circle cx="49.4" cy="46.3" r="0.7" fill="#30b828" opacity="0.83"/>
<circle cx="52.6" cy="0.6" r="0.9" fill="#2a2ad0" opacity="0.86"/>
<circle cx="28.8" cy="31.9" r="0.8" fill="#2a2ad0" opacity="0.55"/>
<circle cx="18.3" cy="20.2" r="0.7" fill="#c08020" opacity="0.77"/>
<circle cx="70.2" cy="37.5" r="0.4" fill="#2a9a20" opacity="0.74"/>
<circle cx="72.4" cy="24.4" r="0.7" fill="#2a9a20" opacity="0.60"/>
<circle cx="49.3" cy="69.4" r="0.8" fill="#2a9a20" opacity="0.82"/>
<circle cx="27.3" cy="51.3" r="0.6" fill="#e02020" opacity="0.66"/>
<circle cx="8.7" cy="15.9" r="0.5" fill="#e02020" opacity="0.86"/>
<circle cx="5.4" cy="56.7" r="0.7" fill="#2a9a20" opacity="0.68"/>
<circle cx="2.0" cy="48.4" r="0.7" fill="#c08020" opacity="0.81"/>
<circle cx="30.7" cy="16.1" r="0.8" fill="#30b828" opacity="0.77"/>
<circle cx="13.3" cy="26.7" r="0.6" fill="#e02020" opacity="0.71"/>
<circle cx="34.3" cy="54.1" r="0.6" fill="#2a2ad0" opacity="0.67"/>
<circle cx="71.1" cy="3.6" r="0.7" fill="#c08020" opacity="0.43"/>
<circle cx="62.1" cy="19.7" r="0.7" fill="#2a2ad0" opacity="0.44"/>
<circle cx="37.8" cy="48.9" r="0.5" fill="#2a9a20" opacity="0.53"/>
<circle cx="48.6" cy="53.0" r="0.8" fill="#e02020" opacity="0.36"/>
<circle cx="36.8" cy="4.8" r="0.8" fill="#e02020" opacity="0.49"/>
<circle cx="62.6" cy="60.9" r="0.6" fill="#c08020" opacity="0.71"/>
<circle cx="25.4" cy="25.2" r="0.7" fill="#c08020" opacity="0.55"/>
<circle cx="37.8" cy="70.2" r="0.4" fill="#30b828" opacity="0.53"/>
<circle cx="65.1" cy="12.3" r="0.8" fill="#e02020" opacity="0.47"/>
<circle cx="37.1" cy="53.0" r="0.5" fill="#2a9a20" opacity="0.61"/>
<circle cx="28.0" cy="8.1" r="0.7" fill="#c08020" opacity="0.40"/>
<circle cx="59.6" cy="58.9" r="0.4" fill="#e02020" opacity="0.68"/>
<circle cx="39.3" cy="70.4" r="0.6" fill="#c08020" opacity="0.67"/>
<circle cx="9.5" cy="61.9" r="0.7" fill="#2a9a20" opacity="0.40"/>
<circle cx="54.0" cy="6.5" r="0.6" fill="#c08020" opacity="0.49"/>
<circle cx="68.9" cy="9.6" r="0.6" fill="#c08020" opacity="0.58"/>
<circle cx="4.7" cy="47.8" r="0.5" fill="#2a2ad0" opacity="0.65"/>
<circle cx="61.5" cy="11.9" r="0.8" fill="#2a9a20" opacity="0.82"/>
<circle cx="45.9" cy="2.8" r="0.5" fill="#2a9a20" opacity="0.80"/>
<circle cx="38.8" cy="14.5" r="0.4" fill="#c08020" opacity="0.66"/>
<circle cx="56.7" cy="66.4" r="0.6" fill="#2a2ad0" opacity="0.46"/>
<circle cx="69.9" cy="30.4" r="0.6" fill="#2a2ad0" opacity="0.46"/>
<circle cx="63.8" cy="63.2" r="0.5" fill="#2a9a20" opacity="0.92"/>
<circle cx="39.3" cy="49.9" r="0.8" fill="#2a2ad0" opacity="0.83"/>
<circle cx="15.7" cy="49.9" r="0.6" fill="#30b828" opacity="0.66"/>
<circle cx="4.3" cy="10.3" r="0.5" fill="#2a9a20" opacity="0.49"/>
<circle cx="0.7" cy="53.1" r="0.4" fill="#2a2ad0" opacity="0.52"/>
<polyline points="10.9,23.7 12.1,22.8 13.0,21.6" stroke="#3fc82e" stroke-width="2.0"/>
<polyline points="13.0,21.6 14.2,20.7 15.2,19.6 16.5,18.8" stroke="#3fc82e" stroke-width="1.4"/>
<polyline points="16.5,18.8 17.7,17.9 19.1,17.2" stroke="#3fc82e" stroke-width="0.9"/>
<polyline points="17.7,17.9 18.2,16.5" stroke="#3fc82e" stroke-width="1.6"/>
<polyline points="18.2,16.5 19.2,15.4" stroke="#3fc82e" stroke-width="1.1"/>
<polyline points="19.2,15.4 20.2,14.3" stroke="#3fc82e" stroke-width="0.7"/>
<polyline points="10.9,23.7 11.5,25.0 12.2,26.3" stroke="#34bb28" stroke-width="2.0"/>
<polyline points="12.2,26.3 12.3,27.8 12.3,29.3" stroke="#34bb28" stroke-width="1.4"/>
<polyline points="12.3,29.3 12.9,30.7" stroke="#34bb28" stroke-width="0.9"/>
<polyline points="10.9,23.7 9.8,24.7" stroke="#3fc82e" stroke-width="2.0"/>
<polyline points="9.8,24.7 8.8,25.8 7.9,27.0" stroke="#3fc82e" stroke-width="1.4"/>
<polyline points="7.9,27.0 7.1,28.3" stroke="#3fc82e" stroke-width="0.9"/>
<polyline points="7.1,28.3 7.4,29.7" stroke="#3fc82e" stroke-width="1.6"/>
<polyline points="7.4,29.7 7.6,31.2" stroke="#3fc82e" stroke-width="1.1"/>
<polyline points="10.9,23.7 9.4,23.9 7.9,23.6" stroke="#4cd03a" stroke-width="2.0"/>
<polyline points="7.9,23.6 6.6,23.0 5.2,22.5" stroke="#4cd03a" stroke-width="1.4"/>
<polyline points="5.2,22.5 3.9,21.7 2.5,21.2" stroke="#4cd03a" stroke-width="0.9"/>
<polyline points="2.5,21.2 1.5,22.3" stroke="#4cd03a" stroke-width="1.6"/>
<polyline points="1.5,22.3 0.6,23.5" stroke="#4cd03a" stroke-width="1.1"/>
<polyline points="0.6,23.5 -0.6,24.5" stroke="#4cd03a" stroke-width="0.7"/>
<polyline points="10.9,23.7 9.4,23.6 8.0,24.2" stroke="#34bb28" stroke-width="2.0"/>
<polyline points="8.0,24.2 6.5,24.2 5.0,24.0 3.5,24.3" stroke="#34bb28" stroke-width="1.4"/>
<polyline points="3.5,24.3 2.0,24.2 0.6,24.6" stroke="#34bb28" stroke-width="0.9"/>
<polyline points="3.5,24.3 2.5,23.2" stroke="#34bb28" stroke-width="1.6"/>
<polyline points="2.5,23.2 1.2,22.6" stroke="#34bb28" stroke-width="1.1"/>
<polyline points="1.2,22.6 -0.0,21.7" stroke="#34bb28" stroke-width="0.7"/>
<polyline points="10.9,23.7 9.9,22.5 9.1,21.3" stroke="#3fc82e" stroke-width="2.0"/>
<polyline points="9.1,21.3 8.3,20.0 7.1,19.1" stroke="#3fc82e" stroke-width="1.4"/>
<polyline points="7.1,19.1 5.6,18.8 4.2,19.2" stroke="#3fc82e" stroke-width="0.9"/>
<polyline points="9.9,22.5 8.4,22.2" stroke="#3fc82e" stroke-width="1.6"/>
<polyline points="8.4,22.2 7.1,21.6" stroke="#3fc82e" stroke-width="1.1"/>
<polyline points="7.1,21.6 5.6,21.4" stroke="#3fc82e" stroke-width="0.7"/>
<polyline points="4.2,19.2 2.7,18.7" stroke="#3fc82e" stroke-width="1.6"/>
<polyline points="2.7,18.7 1.2,18.9" stroke="#3fc82e" stroke-width="1.1"/>
<polyline points="1.2,18.9 -0.3,19.1" stroke="#3fc82e" stroke-width="0.7"/>
<polyline points="10.9,23.7 10.1,22.4 9.1,21.3" stroke="#2aa822" stroke-width="2.0"/>
<polyline points="9.1,21.3 8.1,20.2 7.4,18.8" stroke="#2aa822" stroke-width="1.4"/>
<polyline points="7.4,18.8 7.0,17.4" stroke="#2aa822" stroke-width="0.9"/>
<polyline points="8.1,20.2 8.1,18.7" stroke="#2aa822" stroke-width="1.6"/>
<polyline points="8.1,18.7 8.2,17.2" stroke="#2aa822" stroke-width="1.1"/>
<polyline points="10.9,23.7 11.5,22.3 12.5,21.2" stroke="#2aa822" stroke-width="2.0"/>
<polyline points="12.5,21.2 13.5,20.1 14.0,18.7" stroke="#2aa822" stroke-width="1.4"/>
<polyline points="14.0,18.7 14.9,17.5 16.3,16.9" stroke="#2aa822" stroke-width="0.9"/>
<polyline points="11.5,22.3 12.8,21.5" stroke="#2aa822" stroke-width="1.6"/>
<polyline points="12.8,21.5 14.1,20.8" stroke="#2aa822" stroke-width="1.1"/>
<polyline points="14.1,20.8 15.6,20.5" stroke="#2aa822" stroke-width="0.7"/>
<polyline points="16.3,16.9 15.9,15.5" stroke="#2aa822" stroke-width="1.6"/>
<polyline points="15.9,15.5 15.2,14.1" stroke="#2aa822" stroke-width="1.1"/>
<polyline points="15.2,14.1 14.6,12.8" stroke="#2aa822" stroke-width="0.7"/>
<circle cx="10.9" cy="23.1" r="1.1" fill="#d6d020"/>
<circle cx="10.3" cy="25.2" r="1.1" fill="#3fc82e"/>
<circle cx="10.2" cy="26.3" r="1.7" fill="#e0b818"/>
<circle cx="10.6" cy="22.3" r="1.2" fill="#c8d828"/>
<circle cx="14.4" cy="21.1" r="1.2" fill="#e8c030"/>
<circle cx="10.1" cy="26.0" r="1.0" fill="#3fc82e"/>
<circle cx="11.2" cy="22.4" r="2.1" fill="#3fc82e"/>
<circle cx="10.2" cy="21.8" r="1.3" fill="#4cd03a"/>
<circle cx="10.9" cy="24.7" r="1.8" fill="#34bb28"/>
<circle cx="10.5" cy="23.0" r="1.3" fill="#d6d020"/>
<circle cx="10.2" cy="25.0" r="2.1" fill="#e8c030"/>
<circle cx="11.3" cy="24.9" r="1.4" fill="#e0a020"/>
<circle cx="12.1" cy="25.4" r="1.4" fill="#e0a020"/>
<circle cx="12.4" cy="24.4" r="0.7" fill="#e08818"/>
<circle cx="10.0" cy="24.0" r="1.0" fill="#d86a14"/>
<circle cx="12.5" cy="25.2" r="1.1" fill="#d86a14"/>
<circle cx="11.5" cy="22.5" r="0.9" fill="#e01c1c"/>
<circle cx="9.0" cy="22.1" r="0.7" fill="#d01414"/>
<circle cx="10.3" cy="22.8" r="0.8" fill="#d86a14"/>
<circle cx="11.9" cy="24.4" r="1.4" fill="#f02828"/>
<circle cx="12.4" cy="23.7" r="1.4" fill="#e0a020"/>
<polyline points="40.6,18.6 42.0,19.1 43.2,20.1" stroke="#4cd03a" stroke-width="2.0"/>
<polyline points="43.2,20.1 44.0,21.3 44.5,22.7" stroke="#4cd03a" stroke-width="1.4"/>
<polyline points="44.5,22.7 45.0,24.2" stroke="#4cd03a" stroke-width="0.9"/>
<polyline points="44.0,21.3 45.5,21.1" stroke="#4cd03a" stroke-width="1.6"/>
<polyline points="45.5,21.1 46.9,21.4" stroke="#4cd03a" stroke-width="1.1"/>
<polyline points="40.6,18.6 41.4,19.9" stroke="#34bb28" stroke-width="2.0"/>
<polyline points="41.4,19.9 42.5,20.9 43.2,22.2" stroke="#34bb28" stroke-width="1.4"/>
<polyline points="43.2,22.2 43.8,23.6" stroke="#34bb28" stroke-width="0.9"/>
<polyline points="41.4,19.9 42.9,20.1" stroke="#34bb28" stroke-width="1.6"/>
<polyline points="42.9,20.1 44.4,20.3" stroke="#34bb28" stroke-width="1.1"/>
<polyline points="40.6,18.6 40.6,20.1" stroke="#3fc82e" stroke-width="2.0"/>
<polyline points="40.6,20.1 41.1,21.5 42.1,22.7" stroke="#3fc82e" stroke-width="1.4"/>
<polyline points="42.1,22.7 43.0,23.9" stroke="#3fc82e" stroke-width="0.9"/>
<polyline points="40.6,20.1 39.2,20.5" stroke="#3fc82e" stroke-width="1.6"/>
<polyline points="39.2,20.5 37.9,21.3" stroke="#3fc82e" stroke-width="1.1"/>
<polyline points="41.1,21.5 40.0,22.5" stroke="#3fc82e" stroke-width="1.6"/>
<polyline points="40.0,22.5 39.1,23.7" stroke="#3fc82e" stroke-width="1.1"/>
<polyline points="42.1,22.7 43.6,22.6" stroke="#3fc82e" stroke-width="1.6"/>
<polyline points="43.6,22.6 45.1,22.6" stroke="#3fc82e" stroke-width="1.1"/>
<polyline points="40.6,18.6 40.5,20.1 40.1,21.6" stroke="#3fc82e" stroke-width="2.0"/>
<polyline points="40.1,21.6 40.4,23.1 40.3,24.6" stroke="#3fc82e" stroke-width="1.4"/>
<polyline points="40.3,24.6 39.9,26.0 39.0,27.2" stroke="#3fc82e" stroke-width="0.9"/>
<polyline points="40.6,18.6 39.2,18.0 38.2,16.9" stroke="#4cd03a" stroke-width="2.0"/>
<polyline points="38.2,16.9 37.7,15.5 36.5,14.5" stroke="#4cd03a" stroke-width="1.4"/>
<polyline points="36.5,14.5 35.4,13.6 34.0,12.9" stroke="#4cd03a" stroke-width="0.9"/>
<polyline points="38.2,16.9 36.8,16.4" stroke="#4cd03a" stroke-width="1.6"/>
<polyline points="36.8,16.4 35.3,16.6" stroke="#4cd03a" stroke-width="1.1"/>
<polyline points="35.3,16.6 33.8,16.9" stroke="#4cd03a" stroke-width="0.7"/>
<polyline points="40.6,18.6 39.2,18.0" stroke="#3fc82e" stroke-width="2.0"/>
<polyline points="39.2,18.0 37.8,17.7 36.3,17.6" stroke="#3fc82e" stroke-width="1.4"/>
<polyline points="36.3,17.6 34.8,17.2" stroke="#3fc82e" stroke-width="0.9"/>
<polyline points="37.8,17.7 36.5,18.5" stroke="#3fc82e" stroke-width="1.6"/>
<polyline points="36.5,18.5 35.1,18.9" stroke="#3fc82e" stroke-width="1.1"/>
<polyline points="36.3,17.6 36.3,19.1" stroke="#3fc82e" stroke-width="1.6"/>
<polyline points="36.3,19.1 36.2,20.6" stroke="#3fc82e" stroke-width="1.1"/>
<polyline points="34.8,17.2 35.0,15.7" stroke="#3fc82e" stroke-width="1.6"/>
<polyline points="35.0,15.7 35.0,14.2" stroke="#3fc82e" stroke-width="1.1"/>
<polyline points="40.6,18.6 39.2,18.1 37.8,17.5" stroke="#2aa822" stroke-width="2.0"/>
<polyline points="37.8,17.5 36.7,16.5 35.3,16.1 33.8,15.7" stroke="#2aa822" stroke-width="1.4"/>
<polyline points="33.8,15.7 32.5,14.9 31.1,14.7" stroke="#2aa822" stroke-width="0.9"/>
<polyline points="39.2,18.1 39.1,16.7" stroke="#2aa822" stroke-width="1.6"/>
<polyline points="39.1,16.7 38.8,15.2" stroke="#2aa822" stroke-width="1.1"/>
<polyline points="38.8,15.2 38.2,13.8" stroke="#2aa822" stroke-width="0.7"/>
<polyline points="35.3,16.1 33.9,16.7" stroke="#2aa822" stroke-width="1.6"/>
<polyline points="33.9,16.7 32.5,17.1" stroke="#2aa822" stroke-width="1.1"/>
<polyline points="32.5,17.1 31.0,17.0" stroke="#2aa822" stroke-width="0.7"/>
<polyline points="40.6,18.6 40.3,17.2 40.1,15.7" stroke="#3fc82e" stroke-width="2.0"/>
<polyline points="40.1,15.7 39.2,14.5 38.3,13.3" stroke="#3fc82e" stroke-width="1.4"/>
<polyline points="38.3,13.3 37.8,11.9 37.6,10.4" stroke="#3fc82e" stroke-width="0.9"/>
<polyline points="37.6,10.4 38.5,9.2" stroke="#3fc82e" stroke-width="1.6"/>
<polyline points="38.5,9.2 39.7,8.3" stroke="#3fc82e" stroke-width="1.1"/>
<polyline points="39.7,8.3 41.2,8.1" stroke="#3fc82e" stroke-width="0.7"/>
<polyline points="40.6,18.6 41.7,17.7 42.6,16.4" stroke="#34bb28" stroke-width="2.0"/>
<polyline points="42.6,16.4 43.5,15.2 43.9,13.8" stroke="#34bb28" stroke-width="1.4"/>
<polyline points="43.9,13.8 43.8,12.3 43.3,10.9" stroke="#34bb28" stroke-width="0.9"/>
<polyline points="41.7,17.7 43.1,17.1" stroke="#34bb28" stroke-width="1.6"/>
<polyline points="43.1,17.1 44.5,16.6" stroke="#34bb28" stroke-width="1.1"/>
<polyline points="44.5,16.6 45.8,15.8" stroke="#34bb28" stroke-width="0.7"/>
<polyline points="43.9,13.8 42.8,12.7" stroke="#34bb28" stroke-width="1.6"/>
<polyline points="42.8,12.7 42.0,11.5" stroke="#34bb28" stroke-width="1.1"/>
<polyline points="42.0,11.5 41.4,10.1" stroke="#34bb28" stroke-width="0.7"/>
<circle cx="40.9" cy="16.2" r="1.7" fill="#3fc82e"/>
<circle cx="38.6" cy="23.0" r="1.0" fill="#3fc82e"/>
<circle cx="40.6" cy="18.6" r="1.8" fill="#34bb28"/>
<circle cx="41.2" cy="15.5" r="1.5" fill="#e0b818"/>
<circle cx="41.1" cy="21.7" r="1.8" fill="#2aa822"/>
<circle cx="40.6" cy="19.7" r="1.8" fill="#4cd03a"/>
<circle cx="40.9" cy="19.8" r="2.1" fill="#c8d828"/>
<circle cx="40.6" cy="19.2" r="1.5" fill="#3fc82e"/>
<circle cx="41.7" cy="18.7" r="1.6" fill="#34bb28"/>
<circle cx="41.0" cy="17.7" r="1.6" fill="#d6d020"/>
<circle cx="40.3" cy="17.5" r="2.1" fill="#4cd03a"/>
<circle cx="40.2" cy="17.7" r="0.6" fill="#f02828"/>
<circle cx="41.6" cy="15.9" r="1.2" fill="#e08818"/>
<circle cx="41.0" cy="17.5" r="1.0" fill="#e08818"/>
<circle cx="39.7" cy="20.9" r="1.2" fill="#e08818"/>
<circle cx="40.8" cy="17.0" r="1.4" fill="#f02828"/>
<circle cx="40.3" cy="19.3" r="1.1" fill="#c81818"/>
<circle cx="40.1" cy="19.1" r="1.3" fill="#c81818"/>
<circle cx="40.5" cy="18.7" r="0.9" fill="#c81818"/>
<circle cx="39.6" cy="20.0" r="1.3" fill="#f02828"/>
<circle cx="39.7" cy="19.5" r="1.2" fill="#e01c1c"/>
<polyline points="51.5,11.5 52.8,12.2" stroke="#4cd03a" stroke-width="1.8"/>
<polyline points="52.8,12.2 53.9,13.2 55.2,13.9" stroke="#4cd03a" stroke-width="1.3"/>
<polyline points="55.2,13.9 56.7,14.1" stroke="#4cd03a" stroke-width="0.8"/>
<polyline points="51.5,11.5 52.6,12.5" stroke="#3fc82e" stroke-width="1.8"/>
<polyline points="52.6,12.5 53.3,13.8 54.2,15.0" stroke="#3fc82e" stroke-width="1.3"/>
<polyline points="54.2,15.0 55.1,16.2" stroke="#3fc82e" stroke-width="0.8"/>
<polyline points="52.6,12.5 53.8,11.6" stroke="#3fc82e" stroke-width="1.5"/>
<polyline points="53.8,11.6 55.2,11.3" stroke="#3fc82e" stroke-width="1.0"/>
<polyline points="51.5,11.5 51.4,13.0" stroke="#3fc82e" stroke-width="1.8"/>
<polyline points="51.4,13.0 51.1,14.4 51.1,15.9" stroke="#3fc82e" stroke-width="1.3"/>
<polyline points="51.1,15.9 50.8,17.4" stroke="#3fc82e" stroke-width="0.8"/>
<polyline points="51.1,15.9 51.7,17.3" stroke="#3fc82e" stroke-width="1.5"/>
<polyline points="51.7,17.3 51.7,18.8" stroke="#3fc82e" stroke-width="1.0"/>
<polyline points="51.5,11.5 50.3,12.4 48.9,12.9" stroke="#3fc82e" stroke-width="1.8"/>
<polyline points="48.9,12.9 47.7,13.8 46.9,15.1" stroke="#3fc82e" stroke-width="1.3"/>
<polyline points="46.9,15.1 46.3,16.5" stroke="#3fc82e" stroke-width="0.8"/>
<polyline points="48.9,12.9 47.8,11.9" stroke="#3fc82e" stroke-width="1.5"/>
<polyline points="47.8,11.9 47.0,10.6" stroke="#3fc82e" stroke-width="1.0"/>
<polyline points="46.3,16.5 44.8,16.5" stroke="#3fc82e" stroke-width="1.5"/>
<polyline points="44.8,16.5 43.3,16.1" stroke="#3fc82e" stroke-width="1.0"/>
<polyline points="51.5,11.5 50.1,11.9 48.6,12.5" stroke="#3fc82e" stroke-width="1.8"/>
<polyline points="48.6,12.5 47.2,13.0 45.7,12.9" stroke="#3fc82e" stroke-width="1.3"/>
<polyline points="45.7,12.9 44.3,13.4 42.8,13.7" stroke="#3fc82e" stroke-width="0.8"/>
<polyline points="50.1,11.9 48.6,11.7" stroke="#3fc82e" stroke-width="1.5"/>
<polyline points="48.6,11.7 47.1,11.5" stroke="#3fc82e" stroke-width="1.0"/>
<polyline points="47.1,11.5 45.7,10.8" stroke="#3fc82e" stroke-width="0.6"/>
<polyline points="47.2,13.0 46.4,14.2" stroke="#3fc82e" stroke-width="1.5"/>
<polyline points="46.4,14.2 45.9,15.6" stroke="#3fc82e" stroke-width="1.0"/>
<polyline points="45.9,15.6 44.9,16.7" stroke="#3fc82e" stroke-width="0.6"/>
<polyline points="45.7,12.9 44.7,14.0" stroke="#3fc82e" stroke-width="1.5"/>
<polyline points="44.7,14.0 43.7,15.1" stroke="#3fc82e" stroke-width="1.0"/>
<polyline points="43.7,15.1 42.9,16.4" stroke="#3fc82e" stroke-width="0.6"/>
<polyline points="51.5,11.5 50.1,10.8" stroke="#3fc82e" stroke-width="1.8"/>
<polyline points="50.1,10.8 48.7,10.4 47.2,10.2" stroke="#3fc82e" stroke-width="1.3"/>
<polyline points="47.2,10.2 45.8,10.7" stroke="#3fc82e" stroke-width="0.8"/>
<polyline points="51.5,11.5 51.7,10.0 51.6,8.5" stroke="#34bb28" stroke-width="1.8"/>
<polyline points="51.6,8.5 51.9,7.0 52.5,5.6" stroke="#34bb28" stroke-width="1.3"/>
<polyline points="52.5,5.6 53.1,4.3 54.0,3.0" stroke="#34bb28" stroke-width="0.8"/>
<polyline points="51.5,11.5 52.7,10.6" stroke="#2aa822" stroke-width="1.8"/>
<polyline points="52.7,10.6 53.8,9.6" stroke="#2aa822" stroke-width="1.3"/>
<polyline points="53.8,9.6 55.3,9.2" stroke="#2aa822" stroke-width="0.8"/>
<circle cx="53.6" cy="10.7" r="1.9" fill="#e0b818"/>
<circle cx="50.3" cy="8.6" r="1.1" fill="#e0b818"/>
<circle cx="51.4" cy="11.9" r="1.7" fill="#34bb28"/>
<circle cx="51.5" cy="11.4" r="1.2" fill="#e8c030"/>
<circle cx="52.2" cy="11.7" r="1.8" fill="#3fc82e"/>
<circle cx="51.0" cy="10.2" r="1.4" fill="#34bb28"/>
<circle cx="52.5" cy="11.9" r="1.1" fill="#4cd03a"/>
<circle cx="51.5" cy="10.7" r="1.3" fill="#34bb28"/>
<circle cx="52.9" cy="10.1" r="0.8" fill="#c8d828"/>
<circle cx="51.4" cy="7.6" r="1.8" fill="#e8c030"/>
<circle cx="51.4" cy="8.4" r="1.8" fill="#34bb28"/>
<circle cx="51.4" cy="10.5" r="1.0" fill="#d6d020"/>
<circle cx="52.1" cy="11.3" r="0.7" fill="#e0b818"/>
<circle cx="51.8" cy="10.7" r="0.6" fill="#e8c030"/>
<circle cx="51.5" cy="11.5" r="1.3" fill="#e8c030"/>
<circle cx="52.0" cy="10.4" r="0.7" fill="#e8c030"/>
<circle cx="51.5" cy="12.3" r="1.1" fill="#c8d828"/>
<circle cx="51.3" cy="11.4" r="0.7" fill="#d6d020"/>
<circle cx="51.1" cy="10.0" r="1.3" fill="#c8d828"/>
<circle cx="51.3" cy="12.1" r="1.2" fill="#c8d828"/>
<circle cx="51.2" cy="9.9" r="1.3" fill="#e8c030"/>
<polyline points="68.1,7.2 69.5,7.7 71.0,7.8" stroke="#34bb28" stroke-width="1.7"/>
<polyline points="71.0,7.8 72.5,7.9 74.0,8.1" stroke="#34bb28" stroke-width="1.2"/>
<polyline points="74.0,8.1 75.4,8.7" stroke="#34bb28" stroke-width="0.8"/>
<polyline points="69.5,7.7 69.7,9.2" stroke="#34bb28" stroke-width="1.4"/>
<polyline points="69.7,9.2 69.6,10.7" stroke="#34bb28" stroke-width="1.0"/>
<polyline points="71.0,7.8 72.3,7.0" stroke="#34bb28" stroke-width="1.4"/>
<polyline points="72.3,7.0 73.3,5.9" stroke="#34bb28" stroke-width="1.0"/>
<polyline points="72.5,7.9 72.6,6.4" stroke="#34bb28" stroke-width="1.4"/>
<polyline points="72.6,6.4 73.0,4.9" stroke="#34bb28" stroke-width="1.0"/>
<polyline points="74.0,8.1 74.6,6.7" stroke="#34bb28" stroke-width="1.4"/>
<polyline points="74.6,6.7 74.6,5.2" stroke="#34bb28" stroke-width="1.0"/>
<polyline points="75.4,8.7 76.7,7.9" stroke="#34bb28" stroke-width="1.4"/>
<polyline points="76.7,7.9 78.2,7.7" stroke="#34bb28" stroke-width="1.0"/>
<polyline points="68.1,7.2 69.2,8.2 70.5,9.0" stroke="#2aa822" stroke-width="1.7"/>
<polyline points="70.5,9.0 71.8,9.7 73.3,9.9" stroke="#2aa822" stroke-width="1.2"/>
<polyline points="73.3,9.9 74.8,10.1" stroke="#2aa822" stroke-width="0.8"/>
<polyline points="69.2,8.2 68.3,9.4" stroke="#2aa822" stroke-width="1.4"/>
<polyline points="68.3,9.4 67.2,10.4" stroke="#2aa822" stroke-width="1.0"/>
<polyline points="68.1,7.2 68.3,8.7 68.9,10.0" stroke="#4cd03a" stroke-width="1.7"/>
<polyline points="68.9,10.0 69.9,11.2 71.0,12.1" stroke="#4cd03a" stroke-width="1.2"/>
<polyline points="71.0,12.1 72.0,13.3" stroke="#4cd03a" stroke-width="0.8"/>
<polyline points="72.0,13.3 71.5,14.7" stroke="#4cd03a" stroke-width="1.4"/>
<polyline points="71.5,14.7 70.8,16.0" stroke="#4cd03a" stroke-width="1.0"/>
<polyline points="68.1,7.2 66.7,7.5 65.5,8.4" stroke="#34bb28" stroke-width="1.7"/>
<polyline points="65.5,8.4 64.8,9.7 64.1,11.1" stroke="#34bb28" stroke-width="1.2"/>
<polyline points="64.1,11.1 63.0,12.1" stroke="#34bb28" stroke-width="0.8"/>
<polyline points="68.1,7.2 66.7,7.7 65.3,8.2" stroke="#3fc82e" stroke-width="1.7"/>
<polyline points="65.3,8.2 64.1,9.0 62.6,9.3" stroke="#3fc82e" stroke-width="1.2"/>
<polyline points="62.6,9.3 61.3,10.0" stroke="#3fc82e" stroke-width="0.8"/>
<polyline points="68.1,7.2 66.9,6.3" stroke="#2aa822" stroke-width="1.7"/>
<polyline points="66.9,6.3 65.7,5.4 64.3,5.1" stroke="#2aa822" stroke-width="1.2"/>
<polyline points="64.3,5.1 62.9,4.5" stroke="#2aa822" stroke-width="0.8"/>
<polyline points="68.1,7.2 67.3,5.9" stroke="#34bb28" stroke-width="1.7"/>
<polyline points="67.3,5.9 66.8,4.5 66.0,3.3" stroke="#34bb28" stroke-width="1.2"/>
<polyline points="66.0,3.3 64.8,2.4" stroke="#34bb28" stroke-width="0.8"/>
<polyline points="66.8,4.5 67.5,3.2" stroke="#34bb28" stroke-width="1.4"/>
<polyline points="67.5,3.2 67.7,1.7" stroke="#34bb28" stroke-width="1.0"/>
<polyline points="68.1,7.2 69.3,6.2 70.3,5.0" stroke="#4cd03a" stroke-width="1.7"/>
<polyline points="70.3,5.0 71.1,3.8 72.1,2.7" stroke="#4cd03a" stroke-width="1.2"/>
<polyline points="72.1,2.7 73.1,1.5" stroke="#4cd03a" stroke-width="0.8"/>
<polyline points="69.3,6.2 70.1,4.9" stroke="#4cd03a" stroke-width="1.4"/>
<polyline points="70.1,4.9 71.3,4.0" stroke="#4cd03a" stroke-width="1.0"/>
<polyline points="70.3,5.0 70.7,3.6" stroke="#4cd03a" stroke-width="1.4"/>
<polyline points="70.7,3.6 71.2,2.2" stroke="#4cd03a" stroke-width="1.0"/>
<polyline points="72.1,2.7 72.0,1.2" stroke="#4cd03a" stroke-width="1.4"/>
<polyline points="72.0,1.2 72.3,-0.3" stroke="#4cd03a" stroke-width="1.0"/>
<polyline points="73.1,1.5 74.4,2.1" stroke="#4cd03a" stroke-width="1.4"/>
<polyline points="74.4,2.1 75.5,3.2" stroke="#4cd03a" stroke-width="1.0"/>
<circle cx="66.6" cy="6.4" r="1.1" fill="#c8d828"/>
<circle cx="68.1" cy="7.0" r="1.5" fill="#e0b818"/>
<circle cx="69.4" cy="8.7" r="1.5" fill="#4cd03a"/>
<circle cx="68.1" cy="7.0" r="1.2" fill="#3fc82e"/>
<circle cx="69.1" cy="6.7" r="1.6" fill="#e0b818"/>
<circle cx="67.0" cy="8.4" r="1.4" fill="#2aa822"/>
<circle cx="67.7" cy="7.2" r="0.8" fill="#2aa822"/>
<circle cx="68.9" cy="6.2" r="1.5" fill="#34bb28"/>
<circle cx="67.5" cy="6.8" r="1.0" fill="#3fc82e"/>
<circle cx="68.6" cy="7.5" r="1.5" fill="#2aa822"/>
<circle cx="70.8" cy="9.2" r="1.0" fill="#2aa822"/>
<circle cx="68.3" cy="7.1" r="0.9" fill="#e0b818"/>
<circle cx="68.0" cy="6.4" r="1.2" fill="#d6d020"/>
<circle cx="69.3" cy="7.3" r="0.9" fill="#e8c030"/>
<circle cx="68.6" cy="7.0" r="1.1" fill="#e0a020"/>
<circle cx="67.9" cy="7.1" r="1.2" fill="#e0a020"/>
<circle cx="69.1" cy="7.1" r="0.7" fill="#e8c030"/>
<circle cx="69.1" cy="7.8" r="0.6" fill="#d6d020"/>
<circle cx="68.2" cy="7.8" r="1.0" fill="#e0a020"/>
<circle cx="68.4" cy="6.7" r="0.8" fill="#d86a14"/>
<circle cx="65.8" cy="7.3" r="0.7" fill="#d86a14"/>
<polyline points="63.1,41.6 64.5,41.2 66.0,40.8" stroke="#4cd03a" stroke-width="2.3"/>
<polyline points="66.0,40.8 67.5,41.0 69.0,41.2" stroke="#4cd03a" stroke-width="1.5"/>
<polyline points="69.0,41.2 70.5,41.0" stroke="#4cd03a" stroke-width="1.0"/>
<polyline points="63.1,41.6 63.8,42.9 64.2,44.3" stroke="#4cd03a" stroke-width="2.3"/>
<polyline points="64.2,44.3 64.9,45.7 64.9,47.2" stroke="#4cd03a" stroke-width="1.5"/>
<polyline points="64.9,47.2 65.3,48.6" stroke="#4cd03a" stroke-width="1.0"/>
<polyline points="65.3,48.6 64.3,49.8" stroke="#4cd03a" stroke-width="1.8"/>
<polyline points="64.3,49.8 63.6,51.1" stroke="#4cd03a" stroke-width="1.2"/>
<polyline points="63.1,41.6 63.4,43.0" stroke="#3fc82e" stroke-width="2.3"/>
<polyline points="63.4,43.0 63.2,44.5 62.6,45.9" stroke="#3fc82e" stroke-width="1.5"/>
<polyline points="62.6,45.9 61.8,47.2" stroke="#3fc82e" stroke-width="1.0"/>
<polyline points="63.4,43.0 62.8,44.4" stroke="#3fc82e" stroke-width="1.8"/>
<polyline points="62.8,44.4 61.8,45.5" stroke="#3fc82e" stroke-width="1.2"/>
<polyline points="63.1,41.6 62.1,42.7 61.6,44.1" stroke="#34bb28" stroke-width="2.3"/>
<polyline points="61.6,44.1 61.5,45.6 61.8,47.1 62.2,48.5" stroke="#34bb28" stroke-width="1.5"/>
<polyline points="62.2,48.5 62.0,50.0 61.5,51.4" stroke="#34bb28" stroke-width="1.0"/>
<polyline points="61.5,45.6 62.2,46.9" stroke="#34bb28" stroke-width="1.8"/>
<polyline points="62.2,46.9 62.4,48.4" stroke="#34bb28" stroke-width="1.2"/>
<polyline points="62.4,48.4 62.5,49.9" stroke="#34bb28" stroke-width="0.8"/>
<polyline points="62.2,48.5 63.7,48.6" stroke="#34bb28" stroke-width="1.8"/>
<polyline points="63.7,48.6 65.2,48.4" stroke="#34bb28" stroke-width="1.2"/>
<polyline points="65.2,48.4 66.7,48.3" stroke="#34bb28" stroke-width="0.8"/>
<polyline points="63.1,41.6 61.6,41.7 60.1,41.7" stroke="#34bb28" stroke-width="2.3"/>
<polyline points="60.1,41.7 58.6,41.9 57.2,42.4" stroke="#34bb28" stroke-width="1.5"/>
<polyline points="57.2,42.4 55.7,42.5" stroke="#34bb28" stroke-width="1.0"/>
<polyline points="61.6,41.7 60.7,42.9" stroke="#34bb28" stroke-width="1.8"/>
<polyline points="60.7,42.9 60.1,44.3" stroke="#34bb28" stroke-width="1.2"/>
<polyline points="60.1,41.7 59.4,43.1" stroke="#34bb28" stroke-width="1.8"/>
<polyline points="59.4,43.1 58.3,44.1" stroke="#34bb28" stroke-width="1.2"/>
<polyline points="58.6,41.9 57.4,41.0" stroke="#34bb28" stroke-width="1.8"/>
<polyline points="57.4,41.0 56.1,40.2" stroke="#34bb28" stroke-width="1.2"/>
<polyline points="57.2,42.4 55.8,41.9" stroke="#34bb28" stroke-width="1.8"/>
<polyline points="55.8,41.9 54.5,41.2" stroke="#34bb28" stroke-width="1.2"/>
<polyline points="63.1,41.6 62.4,40.2" stroke="#2aa822" stroke-width="2.3"/>
<polyline points="62.4,40.2 61.8,38.9 60.9,37.7" stroke="#2aa822" stroke-width="1.5"/>
<polyline points="60.9,37.7 60.1,36.4" stroke="#2aa822" stroke-width="1.0"/>
<polyline points="60.1,36.4 60.1,34.9" stroke="#2aa822" stroke-width="1.8"/>
<polyline points="60.1,34.9 60.6,33.5" stroke="#2aa822" stroke-width="1.2"/>
<polyline points="63.1,41.6 64.2,40.6 65.6,40.0" stroke="#3fc82e" stroke-width="2.3"/>
<polyline points="65.6,40.0 67.0,39.7 68.5,39.9 70.0,39.8" stroke="#3fc82e" stroke-width="1.5"/>
<polyline points="70.0,39.8 71.5,39.7 73.0,39.7" stroke="#3fc82e" stroke-width="1.0"/>
<polyline points="64.2,40.6 63.8,39.1" stroke="#3fc82e" stroke-width="1.8"/>
<polyline points="63.8,39.1 63.3,37.7" stroke="#3fc82e" stroke-width="1.2"/>
<polyline points="63.3,37.7 62.9,36.3" stroke="#3fc82e" stroke-width="0.8"/>
<polyline points="67.0,39.7 68.5,39.9" stroke="#3fc82e" stroke-width="1.8"/>
<polyline points="68.5,39.9 69.9,40.5" stroke="#3fc82e" stroke-width="1.2"/>
<polyline points="69.9,40.5 71.3,40.9" stroke="#3fc82e" stroke-width="0.8"/>
<polyline points="73.0,39.7 73.9,38.5" stroke="#3fc82e" stroke-width="1.8"/>
<polyline points="73.9,38.5 74.3,37.1" stroke="#3fc82e" stroke-width="1.2"/>
<polyline points="74.3,37.1 74.4,35.6" stroke="#3fc82e" stroke-width="0.8"/>
<circle cx="61.0" cy="43.2" r="2.2" fill="#d6d020"/>
<circle cx="64.3" cy="38.8" r="1.5" fill="#3fc82e"/>
<circle cx="63.9" cy="42.3" r="1.1" fill="#2aa822"/>
<circle cx="63.7" cy="45.9" r="1.3" fill="#e0b818"/>
<circle cx="63.5" cy="36.3" r="2.4" fill="#2aa822"/>
<circle cx="61.2" cy="42.5" r="1.6" fill="#4cd03a"/>
<circle cx="65.4" cy="39.8" r="1.1" fill="#4cd03a"/>
<circle cx="62.4" cy="41.8" r="1.6" fill="#4cd03a"/>
<circle cx="63.5" cy="37.6" r="1.9" fill="#e0b818"/>
<circle cx="63.8" cy="41.3" r="2.1" fill="#4cd03a"/>
<circle cx="62.3" cy="42.1" r="1.9" fill="#e0b818"/>
<circle cx="62.4" cy="41.6" r="0.9" fill="#c8d828"/>
<circle cx="63.8" cy="41.8" r="1.2" fill="#d6d020"/>
<circle cx="63.5" cy="39.9" r="0.8" fill="#c8d828"/>
<circle cx="60.2" cy="42.8" r="0.6" fill="#e8c030"/>
<circle cx="64.2" cy="40.7" r="1.1" fill="#e8c030"/>
<circle cx="63.1" cy="41.6" r="1.4" fill="#c8d828"/>
<circle cx="63.2" cy="40.8" r="0.8" fill="#d6d020"/>
<circle cx="65.6" cy="42.2" r="1.1" fill="#e0b818"/>
<circle cx="63.9" cy="42.2" r="1.2" fill="#e0b818"/>
<circle cx="63.6" cy="39.8" r="0.8" fill="#c8d828"/>
<polyline points="8.7,43.0 10.2,42.8 11.7,42.8" stroke="#4cd03a" stroke-width="2.0"/>
<polyline points="11.7,42.8 13.1,43.4 14.6,43.3" stroke="#4cd03a" stroke-width="1.4"/>
<polyline points="14.6,43.3 16.0,43.0" stroke="#4cd03a" stroke-width="0.9"/>
<polyline points="10.2,42.8 11.3,43.8" stroke="#4cd03a" stroke-width="1.6"/>
<polyline points="11.3,43.8 12.5,44.7" stroke="#4cd03a" stroke-width="1.1"/>
<polyline points="8.7,43.0 10.1,43.5 11.5,44.1" stroke="#2aa822" stroke-width="2.0"/>
<polyline points="11.5,44.1 12.5,45.2 13.5,46.4 14.5,47.5" stroke="#2aa822" stroke-width="1.4"/>
<polyline points="14.5,47.5 15.4,48.6 16.7,49.4" stroke="#2aa822" stroke-width="0.9"/>
<polyline points="13.5,46.4 15.0,46.1" stroke="#2aa822" stroke-width="1.6"/>
<polyline points="15.0,46.1 16.5,46.3" stroke="#2aa822" stroke-width="1.1"/>
<polyline points="16.5,46.3 17.9,45.9" stroke="#2aa822" stroke-width="0.7"/>
<polyline points="14.5,47.5 14.4,49.0" stroke="#2aa822" stroke-width="1.6"/>
<polyline points="14.4,49.0 13.8,50.3" stroke="#2aa822" stroke-width="1.1"/>
<polyline points="13.8,50.3 13.6,51.8" stroke="#2aa822" stroke-width="0.7"/>
<polyline points="8.7,43.0 9.1,44.5 9.3,46.0" stroke="#2aa822" stroke-width="2.0"/>
<polyline points="9.3,46.0 9.8,47.4 9.8,48.9" stroke="#2aa822" stroke-width="1.4"/>
<polyline points="9.8,48.9 10.0,50.4" stroke="#2aa822" stroke-width="0.9"/>
<polyline points="9.1,44.5 10.0,45.7" stroke="#2aa822" stroke-width="1.6"/>
<polyline points="10.0,45.7 10.7,47.0" stroke="#2aa822" stroke-width="1.1"/>
<polyline points="8.7,43.0 8.6,44.5 9.0,45.9" stroke="#2aa822" stroke-width="2.0"/>
<polyline points="9.0,45.9 8.9,47.4 9.4,48.9" stroke="#2aa822" stroke-width="1.4"/>
<polyline points="9.4,48.9 9.2,50.4" stroke="#2aa822" stroke-width="0.9"/>
<polyline points="8.7,43.0 7.6,44.1 6.2,44.7" stroke="#2aa822" stroke-width="2.0"/>
<polyline points="6.2,44.7 5.0,45.4 3.8,46.4" stroke="#2aa822" stroke-width="1.4"/>
<polyline points="3.8,46.4 2.4,46.9 1.0,47.4" stroke="#2aa822" stroke-width="0.9"/>
<polyline points="5.0,45.4 3.5,45.3" stroke="#2aa822" stroke-width="1.6"/>
<polyline points="3.5,45.3 2.1,44.8" stroke="#2aa822" stroke-width="1.1"/>
<polyline points="2.1,44.8 0.7,44.2" stroke="#2aa822" stroke-width="0.7"/>
<polyline points="8.7,43.0 7.2,42.8" stroke="#3fc82e" stroke-width="2.0"/>
<polyline points="7.2,42.8 5.8,43.3 4.7,44.3" stroke="#3fc82e" stroke-width="1.4"/>
<polyline points="4.7,44.3 3.6,45.3" stroke="#3fc82e" stroke-width="0.9"/>
<polyline points="8.7,43.0 7.7,41.9 7.0,40.6" stroke="#4cd03a" stroke-width="2.0"/>
<polyline points="7.0,40.6 6.2,39.3 5.8,37.9" stroke="#4cd03a" stroke-width="1.4"/>
<polyline points="5.8,37.9 5.8,36.4" stroke="#4cd03a" stroke-width="0.9"/>
<polyline points="7.7,41.9 6.5,42.8" stroke="#4cd03a" stroke-width="1.6"/>
<polyline points="6.5,42.8 5.5,43.9" stroke="#4cd03a" stroke-width="1.1"/>
<polyline points="8.7,43.0 8.9,41.5 9.5,40.1" stroke="#3fc82e" stroke-width="2.0"/>
<polyline points="9.5,40.1 10.2,38.8 10.7,37.4" stroke="#3fc82e" stroke-width="1.4"/>
<polyline points="10.7,37.4 10.7,35.9 10.6,34.4" stroke="#3fc82e" stroke-width="0.9"/>
<polyline points="8.9,41.5 7.5,41.0" stroke="#3fc82e" stroke-width="1.6"/>
<polyline points="7.5,41.0 6.3,40.1" stroke="#3fc82e" stroke-width="1.1"/>
<polyline points="6.3,40.1 5.3,39.0" stroke="#3fc82e" stroke-width="0.7"/>
<polyline points="8.7,43.0 10.0,42.2" stroke="#3fc82e" stroke-width="2.0"/>
<polyline points="10.0,42.2 11.3,41.5 12.4,40.6" stroke="#3fc82e" stroke-width="1.4"/>
<polyline points="12.4,40.6 13.7,39.7" stroke="#3fc82e" stroke-width="0.9"/>
<polyline points="10.0,42.2 9.9,40.7" stroke="#3fc82e" stroke-width="1.6"/>
<polyline points="9.9,40.7 9.6,39.3" stroke="#3fc82e" stroke-width="1.1"/>
<polyline points="11.3,41.5 11.6,40.1" stroke="#3fc82e" stroke-width="1.6"/>
<polyline points="11.6,40.1 12.4,38.8" stroke="#3fc82e" stroke-width="1.1"/>
<polyline points="13.7,39.7 13.0,38.3" stroke="#3fc82e" stroke-width="1.6"/>
<polyline points="13.0,38.3 12.3,37.0" stroke="#3fc82e" stroke-width="1.1"/>
<polyline points="8.7,43.0 10.1,42.6 11.3,41.7" stroke="#2aa822" stroke-width="2.0"/>
<polyline points="11.3,41.7 12.2,40.5 13.3,39.5" stroke="#2aa822" stroke-width="1.4"/>
<polyline points="13.3,39.5 14.6,38.7" stroke="#2aa822" stroke-width="0.9"/>
<circle cx="7.7" cy="41.0" r="2.0" fill="#3fc82e"/>
<circle cx="11.3" cy="44.0" r="2.1" fill="#2aa822"/>
<circle cx="6.5" cy="42.8" r="1.7" fill="#e8c030"/>
<circle cx="11.8" cy="43.3" r="1.6" fill="#34bb28"/>
<circle cx="10.6" cy="45.3" r="1.3" fill="#34bb28"/>
<circle cx="8.8" cy="42.6" r="1.2" fill="#34bb28"/>
<circle cx="6.9" cy="42.9" r="1.6" fill="#c8d828"/>
<circle cx="7.4" cy="40.4" r="1.9" fill="#e8c030"/>
<circle cx="6.1" cy="43.9" r="1.4" fill="#34bb28"/>
<circle cx="9.2" cy="44.6" r="1.1" fill="#e0b818"/>
<circle cx="9.0" cy="44.4" r="1.9" fill="#d6d020"/>
<circle cx="9.7" cy="41.5" r="0.6" fill="#d6d020"/>
<circle cx="9.3" cy="42.0" r="1.1" fill="#d6d020"/>
<circle cx="8.8" cy="43.0" r="1.1" fill="#e8c030"/>
<circle cx="8.3" cy="42.8" r="0.7" fill="#d86a14"/>
<circle cx="9.0" cy="42.6" r="0.7" fill="#e0a020"/>
<circle cx="8.7" cy="43.0" r="0.9" fill="#e0a020"/>
<circle cx="7.4" cy="42.4" r="1.2" fill="#d6d020"/>
<circle cx="8.4" cy="42.8" r="0.8" fill="#e08818"/>
<circle cx="8.6" cy="43.1" r="1.3" fill="#e08818"/>
<circle cx="8.0" cy="42.8" r="0.7" fill="#d6d020"/>
<polyline points="19.6,49.5 18.6,49.5 17.7,50.0 16.9,50.6 16.2,51.3" stroke="#34bb28" stroke-width="1.3"/>
<polyline points="16.2,51.3 15.3,51.8 14.5,52.4 13.8,53.1 13.4,54.0" stroke="#34bb28" stroke-width="0.9"/>
<polyline points="13.4,54.0 12.6,54.6 11.6,55.0 10.8,55.5 10.1,56.2" stroke="#34bb28" stroke-width="0.6"/>
<polyline points="16.9,50.6 16.1,51.1 15.1,51.4" stroke="#34bb28" stroke-width="1.0"/>
<polyline points="15.1,51.4 14.1,51.4 13.2,51.8" stroke="#34bb28" stroke-width="0.7"/>
<polyline points="13.2,51.8 12.3,52.3 11.4,52.6" stroke="#34bb28" stroke-width="0.4"/>
<polyline points="13.8,53.1 13.4,54.0 12.8,54.8" stroke="#34bb28" stroke-width="1.0"/>
<polyline points="12.8,54.8 12.0,55.4 11.2,56.0" stroke="#34bb28" stroke-width="0.7"/>
<polyline points="11.2,56.0 10.3,56.3 9.3,56.7" stroke="#34bb28" stroke-width="0.4"/>
<polyline points="13.4,54.0 13.6,55.0 14.1,55.8" stroke="#34bb28" stroke-width="1.0"/>
<polyline points="14.1,55.8 14.3,56.8 14.6,57.8" stroke="#34bb28" stroke-width="0.7"/>
<polyline points="14.6,57.8 14.6,58.8 14.2,59.7" stroke="#34bb28" stroke-width="0.4"/>
<polyline points="12.6,54.6 13.0,55.5 13.3,56.5" stroke="#34bb28" stroke-width="1.0"/>
<polyline points="13.3,56.5 13.7,57.4 14.2,58.2" stroke="#34bb28" stroke-width="0.7"/>
<polyline points="14.2,58.2 14.8,59.0 15.6,59.7" stroke="#34bb28" stroke-width="0.4"/>
<polyline points="11.6,55.0 11.3,55.9 11.1,56.9" stroke="#34bb28" stroke-width="1.0"/>
<polyline points="11.1,56.9 11.3,57.9 11.0,58.9" stroke="#34bb28" stroke-width="0.7"/>
<polyline points="11.0,58.9 10.4,59.7 9.6,60.2" stroke="#34bb28" stroke-width="0.4"/>
<polyline points="10.1,56.2 9.1,56.3 8.1,56.7" stroke="#34bb28" stroke-width="1.0"/>
<polyline points="8.1,56.7 7.4,57.4 6.8,58.2" stroke="#34bb28" stroke-width="0.7"/>
<polyline points="6.8,58.2 6.0,58.8 5.0,59.1" stroke="#34bb28" stroke-width="0.4"/>
<polyline points="14.5,51.6 13.7,52.3 12.9,52.8 12.2,53.5" stroke="#2aa822" stroke-width="1.3"/>
<polyline points="12.2,53.5 11.5,54.2 11.1,55.2 11.1,56.2" stroke="#2aa822" stroke-width="0.9"/>
<polyline points="11.1,56.2 10.7,57.1 10.6,58.1 10.8,59.1" stroke="#2aa822" stroke-width="0.6"/>
<polyline points="13.7,52.3 13.9,53.3" stroke="#2aa822" stroke-width="1.0"/>
<polyline points="13.9,53.3 13.6,54.2 13.5,55.2" stroke="#2aa822" stroke-width="0.7"/>
<polyline points="13.5,55.2 13.2,56.2" stroke="#2aa822" stroke-width="0.4"/>
<polyline points="11.5,54.2 11.4,55.2" stroke="#2aa822" stroke-width="1.0"/>
<polyline points="11.4,55.2 11.2,56.2 11.0,57.2" stroke="#2aa822" stroke-width="0.7"/>
<polyline points="11.0,57.2 11.2,58.2" stroke="#2aa822" stroke-width="0.4"/>
<polyline points="11.1,55.2 10.2,55.6" stroke="#2aa822" stroke-width="1.0"/>
<polyline points="10.2,55.6 9.2,55.9 8.4,56.4" stroke="#2aa822" stroke-width="0.7"/>
<polyline points="8.4,56.4 7.5,56.9" stroke="#2aa822" stroke-width="0.4"/>
<polyline points="11.1,56.2 11.9,56.6" stroke="#2aa822" stroke-width="1.0"/>
<polyline points="11.9,56.6 12.6,57.4 13.4,57.9" stroke="#2aa822" stroke-width="0.7"/>
<polyline points="13.4,57.9 14.2,58.6" stroke="#2aa822" stroke-width="0.4"/>
<polyline points="10.8,59.1 11.6,59.7" stroke="#2aa822" stroke-width="1.0"/>
<polyline points="11.6,59.7 12.2,60.5 12.9,61.2" stroke="#2aa822" stroke-width="0.7"/>
<polyline points="12.9,61.2 13.7,61.8" stroke="#2aa822" stroke-width="0.4"/>
<polyline points="39.2,38.7 40.6,38.4 42.0,38.0" stroke="#34bb28" stroke-width="1.6"/>
<polyline points="42.0,38.0 43.5,37.5 44.6,36.5" stroke="#34bb28" stroke-width="1.1"/>
<polyline points="44.6,36.5 45.7,35.5" stroke="#34bb28" stroke-width="0.7"/>
<polyline points="42.0,38.0 42.2,36.5" stroke="#34bb28" stroke-width="1.3"/>
<polyline points="42.2,36.5 42.2,35.0" stroke="#34bb28" stroke-width="0.9"/>
<polyline points="39.2,38.7 39.7,40.1" stroke="#3fc82e" stroke-width="1.6"/>
<polyline points="39.7,40.1 40.8,41.1 42.1,41.9" stroke="#3fc82e" stroke-width="1.1"/>
<polyline points="42.1,41.9 43.5,42.4" stroke="#3fc82e" stroke-width="0.7"/>
<polyline points="40.8,41.1 42.3,41.4" stroke="#3fc82e" stroke-width="1.3"/>
<polyline points="42.3,41.4 43.8,41.6" stroke="#3fc82e" stroke-width="0.9"/>
<polyline points="42.1,41.9 41.9,43.3" stroke="#3fc82e" stroke-width="1.3"/>
<polyline points="41.9,43.3 42.2,44.8" stroke="#3fc82e" stroke-width="0.9"/>
<polyline points="39.2,38.7 39.1,40.2 38.4,41.6" stroke="#4cd03a" stroke-width="1.6"/>
<polyline points="38.4,41.6 37.4,42.7 36.0,43.3" stroke="#4cd03a" stroke-width="1.1"/>
<polyline points="36.0,43.3 34.7,44.0" stroke="#4cd03a" stroke-width="0.7"/>
<polyline points="39.1,40.2 37.6,40.7" stroke="#4cd03a" stroke-width="1.3"/>
<polyline points="37.6,40.7 36.5,41.6" stroke="#4cd03a" stroke-width="0.9"/>
<polyline points="37.4,42.7 35.9,42.5" stroke="#4cd03a" stroke-width="1.3"/>
<polyline points="35.9,42.5 34.4,42.7" stroke="#4cd03a" stroke-width="0.9"/>
<polyline points="39.2,38.7 39.2,40.2" stroke="#2aa822" stroke-width="1.6"/>
<polyline points="39.2,40.2 39.1,41.7 39.4,43.2" stroke="#2aa822" stroke-width="1.1"/>
<polyline points="39.4,43.2 39.0,44.6" stroke="#2aa822" stroke-width="0.7"/>
<polyline points="39.2,38.7 38.1,39.8 37.4,41.1" stroke="#3fc82e" stroke-width="1.6"/>
<polyline points="37.4,41.1 36.5,42.4 35.5,43.5" stroke="#3fc82e" stroke-width="1.1"/>
<polyline points="35.5,43.5 34.9,44.8" stroke="#3fc82e" stroke-width="0.7"/>
<polyline points="38.1,39.8 37.9,41.3" stroke="#3fc82e" stroke-width="1.3"/>
<polyline points="37.9,41.3 37.6,42.8" stroke="#3fc82e" stroke-width="0.9"/>
<polyline points="37.4,41.1 37.8,42.6" stroke="#3fc82e" stroke-width="1.3"/>
<polyline points="37.8,42.6 38.4,44.0" stroke="#3fc82e" stroke-width="0.9"/>
<polyline points="36.5,42.4 37.4,43.6" stroke="#3fc82e" stroke-width="1.3"/>
<polyline points="37.4,43.6 38.1,44.9" stroke="#3fc82e" stroke-width="0.9"/>
<polyline points="39.2,38.7 37.7,38.2" stroke="#2aa822" stroke-width="1.6"/>
<polyline points="37.7,38.2 36.4,37.5 35.3,36.5" stroke="#2aa822" stroke-width="1.1"/>
<polyline points="35.3,36.5 34.0,35.8" stroke="#2aa822" stroke-width="0.7"/>
<polyline points="36.4,37.5 35.4,36.4" stroke="#2aa822" stroke-width="1.3"/>
<polyline points="35.4,36.4 34.4,35.3" stroke="#2aa822" stroke-width="0.9"/>
<polyline points="39.2,38.7 38.2,37.5" stroke="#34bb28" stroke-width="1.6"/>
<polyline points="38.2,37.5 37.4,36.3 36.6,35.0" stroke="#34bb28" stroke-width="1.1"/>
<polyline points="36.6,35.0 35.4,34.1" stroke="#34bb28" stroke-width="0.7"/>
<polyline points="37.4,36.3 38.1,35.0" stroke="#34bb28" stroke-width="1.3"/>
<polyline points="38.1,35.0 38.8,33.6" stroke="#34bb28" stroke-width="0.9"/>
<polyline points="39.2,38.7 39.2,37.2 38.7,35.8" stroke="#34bb28" stroke-width="1.6"/>
<polyline points="38.7,35.8 38.6,34.3 39.0,32.9" stroke="#34bb28" stroke-width="1.1"/>
<polyline points="39.0,32.9 39.7,31.5" stroke="#34bb28" stroke-width="0.7"/>
<polyline points="38.7,35.8 37.3,35.3" stroke="#34bb28" stroke-width="1.3"/>
<polyline points="37.3,35.3 35.9,34.7" stroke="#34bb28" stroke-width="0.9"/>
<polyline points="39.0,32.9 37.8,32.1" stroke="#34bb28" stroke-width="1.3"/>
<polyline points="37.8,32.1 36.5,31.3" stroke="#34bb28" stroke-width="0.9"/>
<polyline points="39.2,38.7 40.6,38.4" stroke="#2aa822" stroke-width="1.6"/>
<polyline points="40.6,38.4 42.1,38.7" stroke="#2aa822" stroke-width="1.1"/>
<polyline points="42.1,38.7 43.5,39.4" stroke="#2aa822" stroke-width="0.7"/>
<circle cx="37.6" cy="38.5" r="1.4" fill="#c8d828"/>
<circle cx="37.1" cy="38.1" r="1.4" fill="#3fc82e"/>
<circle cx="40.2" cy="38.2" r="1.3" fill="#e8c030"/>
<circle cx="39.7" cy="37.6" r="1.3" fill="#34bb28"/>
<circle cx="38.7" cy="38.2" r="1.0" fill="#4cd03a"/>
<circle cx="39.9" cy="37.9" r="1.2" fill="#4cd03a"/>
<circle cx="37.6" cy="36.7" r="1.6" fill="#34bb28"/>
<circle cx="38.0" cy="38.5" r="1.3" fill="#3fc82e"/>
<circle cx="37.6" cy="38.0" r="1.5" fill="#e0b818"/>
<circle cx="38.7" cy="38.7" r="1.4" fill="#34bb28"/>
<circle cx="40.6" cy="38.6" r="1.5" fill="#c8d828"/>
<circle cx="39.1" cy="38.6" r="1.0" fill="#c8d828"/>
<circle cx="39.0" cy="38.1" r="0.8" fill="#e0b818"/>
<circle cx="38.5" cy="37.9" r="0.9" fill="#d6d020"/>
<circle cx="38.7" cy="38.2" r="0.6" fill="#e0b818"/>
<circle cx="40.2" cy="38.9" r="0.9" fill="#e0b818"/>
<circle cx="37.9" cy="36.5" r="1.1" fill="#e8c030"/>
<circle cx="38.0" cy="36.8" r="0.7" fill="#c8d828"/>
<circle cx="39.9" cy="39.7" r="0.7" fill="#d6d020"/>
<circle cx="38.9" cy="38.3" r="0.7" fill="#e8c030"/>
<circle cx="38.7" cy="38.2" r="0.7" fill="#c8d828"/>
<ellipse cx="31.9" cy="41.6" rx="3.9" ry="2.4" transform="rotate(60 31.9 41.6)" fill="#34bb28" opacity="0.13"/>
<circle cx="32.5" cy="42.2" r="0.4" fill="#34bb28"/>
<circle cx="31.9" cy="41.9" r="1.0" fill="#3fc82e"/>
<circle cx="32.3" cy="40.9" r="0.6" fill="#34bb28"/>
<circle cx="32.1" cy="41.7" r="0.9" fill="#4cd03a"/>
<circle cx="31.9" cy="41.6" r="0.9" fill="#2aa822"/>
<circle cx="32.1" cy="41.4" r="0.5" fill="#3fc82e"/>
<circle cx="31.4" cy="41.4" r="0.7" fill="#4cd03a"/>
<circle cx="32.7" cy="42.5" r="0.8" fill="#2aa822"/>
<circle cx="31.9" cy="41.7" r="0.6" fill="#3fc82e"/>
<circle cx="32.3" cy="43.2" r="0.4" fill="#2aa822"/>
<circle cx="31.2" cy="41.5" r="0.4" fill="#d6d020"/>
<circle cx="32.2" cy="42.1" r="0.3" fill="#e0b818"/>
<circle cx="32.2" cy="41.5" r="0.3" fill="#c8d828"/>
<circle cx="32.1" cy="41.6" r="0.3" fill="#d6d020"/>
<circle cx="31.7" cy="42.3" r="0.6" fill="#e0b818"/>
<circle cx="31.9" cy="41.6" r="0.5" fill="#e8c030"/>
<circle cx="32.1" cy="40.5" r="0.3" fill="#e8c030"/>
<polyline points="58.7,58.1 59.9,59.0" stroke="#34bb28" stroke-width="1.9"/>
<polyline points="59.9,59.0 61.4,59.3 62.9,59.3" stroke="#34bb28" stroke-width="1.3"/>
<polyline points="62.9,59.3 64.4,59.2" stroke="#34bb28" stroke-width="0.9"/>
<polyline points="59.9,59.0 61.4,58.5" stroke="#34bb28" stroke-width="1.6"/>
<polyline points="61.4,58.5 62.8,58.3" stroke="#34bb28" stroke-width="1.1"/>
<polyline points="61.4,59.3 61.5,60.8" stroke="#34bb28" stroke-width="1.6"/>
<polyline points="61.5,60.8 62.0,62.2" stroke="#34bb28" stroke-width="1.1"/>
<polyline points="58.7,58.1 59.7,59.2 60.1,60.7" stroke="#34bb28" stroke-width="1.9"/>
<polyline points="60.1,60.7 60.9,61.9 61.1,63.4" stroke="#34bb28" stroke-width="1.3"/>
<polyline points="61.1,63.4 60.6,64.8 59.6,66.0" stroke="#34bb28" stroke-width="0.9"/>
<polyline points="59.7,59.2 58.8,60.4" stroke="#34bb28" stroke-width="1.6"/>
<polyline points="58.8,60.4 57.5,61.1" stroke="#34bb28" stroke-width="1.1"/>
<polyline points="57.5,61.1 56.0,61.5" stroke="#34bb28" stroke-width="0.7"/>
<polyline points="59.6,66.0 58.1,66.0" stroke="#34bb28" stroke-width="1.6"/>
<polyline points="58.1,66.0 56.7,65.6" stroke="#34bb28" stroke-width="1.1"/>
<polyline points="56.7,65.6 55.2,65.6" stroke="#34bb28" stroke-width="0.7"/>
<polyline points="58.7,58.1 57.9,59.3" stroke="#2aa822" stroke-width="1.9"/>
<polyline points="57.9,59.3 56.7,60.3 55.9,61.5" stroke="#2aa822" stroke-width="1.3"/>
<polyline points="55.9,61.5 54.6,62.3" stroke="#2aa822" stroke-width="0.9"/>
<polyline points="55.9,61.5 54.7,62.4" stroke="#2aa822" stroke-width="1.6"/>
<polyline points="54.7,62.4 53.4,63.2" stroke="#2aa822" stroke-width="1.1"/>
<polyline points="54.6,62.3 55.1,63.8" stroke="#2aa822" stroke-width="1.6"/>
<polyline points="55.1,63.8 55.0,65.3" stroke="#2aa822" stroke-width="1.1"/>
<polyline points="58.7,58.1 57.9,59.3" stroke="#34bb28" stroke-width="1.9"/>
<polyline points="57.9,59.3 57.0,60.5 56.6,62.0" stroke="#34bb28" stroke-width="1.3"/>
<polyline points="56.6,62.0 55.6,63.1" stroke="#34bb28" stroke-width="0.9"/>
<polyline points="58.7,58.1 57.3,58.6" stroke="#2aa822" stroke-width="1.9"/>
<polyline points="57.3,58.6 56.2,59.6" stroke="#2aa822" stroke-width="1.3"/>
<polyline points="56.2,59.6 54.8,60.2" stroke="#2aa822" stroke-width="0.9"/>
<polyline points="56.2,59.6 55.9,61.0" stroke="#2aa822" stroke-width="1.6"/>
<polyline points="55.9,61.0 55.5,62.5" stroke="#2aa822" stroke-width="1.1"/>
<polyline points="58.7,58.1 57.3,57.5 55.9,57.4" stroke="#2aa822" stroke-width="1.9"/>
<polyline points="55.9,57.4 54.4,57.6 53.0,58.1" stroke="#2aa822" stroke-width="1.3"/>
<polyline points="53.0,58.1 51.8,59.1 50.8,60.1" stroke="#2aa822" stroke-width="0.9"/>
<polyline points="58.7,58.1 58.7,56.6 59.3,55.2" stroke="#34bb28" stroke-width="1.9"/>
<polyline points="59.3,55.2 60.0,53.9 61.1,52.9" stroke="#34bb28" stroke-width="1.3"/>
<polyline points="61.1,52.9 61.9,51.6 62.5,50.2" stroke="#34bb28" stroke-width="0.9"/>
<polyline points="59.3,55.2 60.7,54.8" stroke="#34bb28" stroke-width="1.6"/>
<polyline points="60.7,54.8 62.2,54.6" stroke="#34bb28" stroke-width="1.1"/>
<polyline points="62.2,54.6 63.7,54.6" stroke="#34bb28" stroke-width="0.7"/>
<polyline points="62.5,50.2 63.8,49.5" stroke="#34bb28" stroke-width="1.6"/>
<polyline points="63.8,49.5 65.2,49.0" stroke="#34bb28" stroke-width="1.1"/>
<polyline points="65.2,49.0 66.7,48.8" stroke="#34bb28" stroke-width="0.7"/>
<polyline points="58.7,58.1 59.8,57.0 60.6,55.7" stroke="#4cd03a" stroke-width="1.9"/>
<polyline points="60.6,55.7 61.0,54.3 62.0,53.1" stroke="#4cd03a" stroke-width="1.3"/>
<polyline points="62.0,53.1 62.5,51.7 63.6,50.7" stroke="#4cd03a" stroke-width="0.9"/>
<polyline points="62.5,51.7 63.7,50.8" stroke="#4cd03a" stroke-width="1.6"/>
<polyline points="63.7,50.8 64.7,49.7" stroke="#4cd03a" stroke-width="1.1"/>
<polyline points="64.7,49.7 65.7,48.6" stroke="#4cd03a" stroke-width="0.7"/>
<circle cx="60.3" cy="56.6" r="1.8" fill="#e0b818"/>
<circle cx="54.9" cy="57.9" r="1.9" fill="#2aa822"/>
<circle cx="59.2" cy="59.0" r="1.6" fill="#2aa822"/>
<circle cx="62.1" cy="57.7" r="1.3" fill="#3fc82e"/>
<circle cx="59.7" cy="57.9" r="1.5" fill="#4cd03a"/>
<circle cx="58.6" cy="58.9" r="1.0" fill="#4cd03a"/>
<circle cx="60.6" cy="58.3" r="1.2" fill="#3fc82e"/>
<circle cx="59.0" cy="56.3" r="1.5" fill="#d6d020"/>
<circle cx="57.9" cy="57.1" r="1.8" fill="#34bb28"/>
<circle cx="60.4" cy="59.2" r="1.8" fill="#4cd03a"/>
<circle cx="57.8" cy="57.8" r="1.1" fill="#4cd03a"/>
<circle cx="57.3" cy="57.2" r="0.8" fill="#c8d828"/>
<circle cx="58.2" cy="58.2" r="0.6" fill="#c8d828"/>
<circle cx="58.5" cy="59.6" r="1.1" fill="#d6d020"/>
<circle cx="59.4" cy="59.2" r="1.1" fill="#e8c030"/>
<circle cx="58.3" cy="58.7" r="1.1" fill="#e0b818"/>
<circle cx="59.3" cy="58.7" r="0.9" fill="#e0b818"/>
<circle cx="57.2" cy="59.1" r="0.8" fill="#d6d020"/>
<circle cx="58.9" cy="56.3" r="1.2" fill="#e8c030"/>
<circle cx="57.7" cy="58.0" r="0.9" fill="#d6d020"/>
<circle cx="58.9" cy="57.8" r="1.2" fill="#e0b818"/>
<ellipse cx="2.9" cy="66.0" rx="7.2" ry="2.7" transform="rotate(48 2.9 66.0)" fill="#34bb28" opacity="0.13"/>
<circle cx="3.5" cy="65.9" r="1.0" fill="#3fc82e"/>
<circle cx="3.1" cy="65.0" r="0.8" fill="#4cd03a"/>
<circle cx="1.5" cy="66.1" r="1.4" fill="#4cd03a"/>
<circle cx="4.9" cy="66.3" r="1.1" fill="#2aa822"/>
<circle cx="4.3" cy="68.1" r="0.9" fill="#4cd03a"/>
<circle cx="2.5" cy="65.3" r="0.7" fill="#4cd03a"/>
<circle cx="3.5" cy="66.8" r="1.1" fill="#4cd03a"/>
<circle cx="1.8" cy="65.5" r="0.7" fill="#34bb28"/>
<circle cx="3.2" cy="65.1" r="1.3" fill="#34bb28"/>
<circle cx="3.2" cy="66.8" r="1.4" fill="#34bb28"/>
<circle cx="2.8" cy="65.2" r="0.5" fill="#d86a14"/>
<circle cx="2.6" cy="66.1" r="0.8" fill="#e01c1c"/>
<circle cx="3.4" cy="64.9" r="0.4" fill="#d01414"/>
<circle cx="2.7" cy="66.2" r="0.4" fill="#c81818"/>
<circle cx="3.0" cy="66.4" r="0.7" fill="#e0a020"/>
<circle cx="2.8" cy="67.6" r="0.8" fill="#d01414"/>
<circle cx="2.7" cy="67.5" r="0.7" fill="#e01c1c"/>
<polyline points="34.8,53.8 33.8,53.8 32.9,53.4 32.0,52.9" stroke="#3fc82e" stroke-width="1.3"/>
<polyline points="32.0,52.9 31.4,52.1 31.2,51.2 31.1,50.2" stroke="#3fc82e" stroke-width="0.9"/>
<polyline points="31.1,50.2 31.2,49.2 31.6,48.3 32.0,47.4" stroke="#3fc82e" stroke-width="0.6"/>
<polyline points="31.6,48.3 31.5,47.3" stroke="#3fc82e" stroke-width="1.0"/>
<polyline points="31.5,47.3 31.4,46.3 31.4,45.3" stroke="#3fc82e" stroke-width="0.7"/>
<polyline points="31.4,45.3 31.1,44.4" stroke="#3fc82e" stroke-width="0.4"/>
<ellipse cx="47.9" cy="39.4" rx="4.4" ry="3.2" transform="rotate(12 47.9 39.4)" fill="#e01c1c" opacity="0.13"/>
<circle cx="47.7" cy="38.9" r="0.9" fill="#f02828"/>
<circle cx="49.1" cy="38.5" r="0.8" fill="#d01414"/>
<circle cx="48.2" cy="40.0" r="0.8" fill="#d01414"/>
<circle cx="49.3" cy="40.1" r="0.9" fill="#e01c1c"/>
<circle cx="48.0" cy="39.4" r="1.1" fill="#e01c1c"/>
<circle cx="47.5" cy="39.1" r="0.5" fill="#d01414"/>
<circle cx="50.0" cy="39.6" r="0.8" fill="#d01414"/>
<circle cx="47.2" cy="39.9" r="1.2" fill="#d01414"/>
<circle cx="49.1" cy="39.4" r="0.7" fill="#e01c1c"/>
<circle cx="49.4" cy="40.5" r="0.8" fill="#f02828"/>
<circle cx="48.4" cy="40.1" r="0.6" fill="#f02828"/>
<circle cx="47.2" cy="38.8" r="1.1" fill="#f02828"/>
<circle cx="48.0" cy="39.7" r="0.7" fill="#e01c1c"/>
<ellipse cx="31.9" cy="55.2" rx="4.1" ry="2.3" transform="rotate(175 31.9 55.2)" fill="#e01c1c" opacity="0.13"/>
<circle cx="31.5" cy="55.8" r="0.8" fill="#e01c1c"/>
<circle cx="31.0" cy="54.3" r="0.9" fill="#e01c1c"/>
<circle cx="33.8" cy="54.7" r="0.8" fill="#c81818"/>
<circle cx="31.9" cy="56.2" r="0.5" fill="#c81818"/>
<circle cx="32.1" cy="54.6" r="0.9" fill="#c81818"/>
<circle cx="31.4" cy="55.1" r="0.7" fill="#d01414"/>
<circle cx="32.0" cy="54.9" r="0.7" fill="#e01c1c"/>
<circle cx="30.3" cy="54.9" r="0.5" fill="#f02828"/>
<circle cx="31.9" cy="55.5" r="0.4" fill="#d01414"/>
<circle cx="31.3" cy="55.6" r="0.9" fill="#d01414"/>
<circle cx="32.5" cy="55.4" r="0.9" fill="#f02828"/>
<circle cx="33.5" cy="54.9" r="0.5" fill="#e01c1c"/>
<circle cx="31.8" cy="56.2" r="0.7" fill="#f02828"/>
<ellipse cx="26.8" cy="67.4" rx="5.0" ry="2.8" transform="rotate(29 26.8 67.4)" fill="#e01c1c" opacity="0.13"/>
<circle cx="25.7" cy="67.3" r="0.5" fill="#d01414"/>
<circle cx="26.8" cy="68.1" r="0.7" fill="#d01414"/>
<circle cx="27.5" cy="67.2" r="0.8" fill="#e01c1c"/>
<circle cx="27.0" cy="67.5" r="1.0" fill="#f02828"/>
<circle cx="28.1" cy="67.7" r="0.9" fill="#d01414"/>
<circle cx="28.7" cy="67.8" r="0.8" fill="#e01c1c"/>
<circle cx="28.1" cy="67.1" r="1.0" fill="#d01414"/>
<circle cx="28.5" cy="68.0" r="0.7" fill="#c81818"/>
<circle cx="27.4" cy="68.1" r="0.9" fill="#f02828"/>
<circle cx="26.4" cy="67.4" r="0.6" fill="#c81818"/>
<circle cx="26.6" cy="67.8" r="0.8" fill="#c81818"/>
<circle cx="27.0" cy="67.9" r="1.0" fill="#e01c1c"/>
<circle cx="28.3" cy="68.7" r="0.8" fill="#e01c1c"/>
<ellipse cx="65.2" cy="19.4" rx="3.8" ry="2.5" transform="rotate(37 65.2 19.4)" fill="#e01c1c" opacity="0.13"/>
<circle cx="65.2" cy="19.4" r="0.9" fill="#d01414"/>
<circle cx="65.5" cy="19.4" r="0.8" fill="#f02828"/>
<circle cx="65.1" cy="18.1" r="0.5" fill="#f02828"/>
<circle cx="65.3" cy="19.5" r="0.8" fill="#f02828"/>
<circle cx="64.7" cy="19.6" r="0.8" fill="#e01c1c"/>
<circle cx="66.1" cy="19.9" r="0.8" fill="#f02828"/>
<circle cx="65.3" cy="19.4" r="0.5" fill="#d01414"/>
<circle cx="65.9" cy="18.6" r="0.9" fill="#e01c1c"/>
<circle cx="64.0" cy="19.4" r="0.8" fill="#d01414"/>
<circle cx="64.3" cy="19.1" r="0.7" fill="#f02828"/>
<circle cx="64.2" cy="19.9" r="0.8" fill="#d01414"/>
<circle cx="64.9" cy="20.5" r="0.7" fill="#e01c1c"/>
<circle cx="65.7" cy="19.7" r="0.7" fill="#f02828"/>
<ellipse cx="45.0" cy="10.8" rx="3.2" ry="2.3" transform="rotate(36 45.0 10.8)" fill="#e01c1c" opacity="0.13"/>
<circle cx="44.7" cy="10.7" r="0.7" fill="#e01c1c"/>
<circle cx="45.0" cy="10.8" r="0.8" fill="#e01c1c"/>
<circle cx="45.6" cy="9.9" r="0.6" fill="#f02828"/>
<circle cx="43.9" cy="10.1" r="0.9" fill="#f02828"/>
<circle cx="44.9" cy="10.7" r="0.4" fill="#e01c1c"/>
<circle cx="45.2" cy="10.8" r="0.6" fill="#f02828"/>
<circle cx="44.9" cy="11.1" r="0.5" fill="#d01414"/>
<circle cx="45.8" cy="11.0" r="0.9" fill="#e01c1c"/>
<circle cx="44.9" cy="11.0" r="0.5" fill="#e01c1c"/>
<circle cx="44.0" cy="9.6" r="0.4" fill="#d01414"/>
<circle cx="44.2" cy="11.1" r="0.4" fill="#d01414"/>
<circle cx="45.4" cy="9.9" r="0.4" fill="#f02828"/>
<circle cx="45.3" cy="10.9" r="0.7" fill="#f02828"/>
<circle cx="22.9" cy="3.4" r="1.0" fill="#2a2ad8"/>
<circle cx="24.1" cy="-1.0" r="0.5" fill="#2020a0"/>
<circle cx="22.7" cy="3.7" r="1.0" fill="#3030c0"/>
<circle cx="23.5" cy="1.1" r="0.6" fill="#2a2ad8"/>
<circle cx="22.8" cy="0.1" r="0.8" fill="#3030c0"/>
<circle cx="23.3" cy="1.5" r="1.0" fill="#2020a0"/>
<circle cx="24.1" cy="0.4" r="0.8" fill="#2020a0"/>
<circle cx="33.4" cy="21.6" r="0.6" fill="#2a2ad8"/>
<circle cx="33.6" cy="21.7" r="0.6" fill="#2020a0"/>
<circle cx="32.4" cy="22.8" r="0.8" fill="#3030c0"/>
<circle cx="33.6" cy="22.9" r="0.7" fill="#2020a0"/>
<circle cx="32.2" cy="22.1" r="0.8" fill="#2020a0"/>
<circle cx="33.4" cy="23.4" r="0.7" fill="#3030c0"/>
<circle cx="33.0" cy="21.0" r="1.1" fill="#2020a0"/>
<circle cx="27.6" cy="13.5" r="0.5" fill="#2020a0"/>
<circle cx="29.2" cy="13.5" r="0.5" fill="#2020a0"/>
<circle cx="27.9" cy="13.0" r="1.0" fill="#2a2ad8"/>
<circle cx="29.0" cy="12.1" r="0.8" fill="#2020a0"/>
<circle cx="29.6" cy="13.5" r="0.9" fill="#3030c0"/>
<circle cx="30.1" cy="12.5" r="0.5" fill="#2020a0"/>
<circle cx="28.9" cy="13.6" r="0.8" fill="#2020a0"/>
<circle cx="16.3" cy="18.5" r="0.9" fill="#2a2ad8"/>
<circle cx="13.7" cy="18.3" r="0.8" fill="#3030c0"/>
<circle cx="15.3" cy="17.9" r="0.6" fill="#2a2ad8"/>
<circle cx="14.3" cy="17.4" r="0.6" fill="#2020a0"/>
<circle cx="15.4" cy="18.1" r="0.4" fill="#2020a0"/>
<circle cx="15.9" cy="17.8" r="0.6" fill="#3030c0"/>
<circle cx="15.7" cy="17.0" r="0.4" fill="#2a2ad8"/>
<circle cx="39.1" cy="5.6" r="0.9" fill="#2020a0"/>
<circle cx="39.0" cy="5.0" r="0.7" fill="#2a2ad8"/>
<circle cx="39.0" cy="4.7" r="0.8" fill="#2020a0"/>
<circle cx="39.2" cy="5.7" r="0.4" fill="#2a2ad8"/>
<circle cx="39.1" cy="5.7" r="0.4" fill="#2020a0"/>
<circle cx="38.7" cy="5.5" r="0.8" fill="#2a2ad8"/>
<circle cx="39.5" cy="5.6" r="0.8" fill="#2a2ad8"/>
<circle cx="27.1" cy="52.3" r="0.7" fill="#2a2ad8"/>
<circle cx="26.1" cy="51.1" r="0.6" fill="#2020a0"/>
<circle cx="27.5" cy="53.0" r="0.4" fill="#3030c0"/>
<circle cx="27.9" cy="52.7" r="0.6" fill="#2020a0"/>
<circle cx="26.4" cy="52.4" r="0.4" fill="#2a2ad8"/>
<circle cx="27.7" cy="52.3" r="0.5" fill="#2a2ad8"/>
<circle cx="26.8" cy="52.3" r="0.8" fill="#2a2ad8"/>
<ellipse cx="4.3" cy="2.9" rx="4.4" ry="2.6" transform="rotate(58 4.3 2.9)" fill="#34bb28" opacity="0.13"/>
<circle cx="3.4" cy="2.1" r="0.6" fill="#2aa822"/>
<circle cx="3.0" cy="2.6" r="0.8" fill="#3fc82e"/>
<circle cx="5.4" cy="2.2" r="0.8" fill="#34bb28"/>
<circle cx="4.5" cy="2.9" r="0.5" fill="#2aa822"/>
<circle cx="4.3" cy="4.4" r="1.1" fill="#2aa822"/>
<circle cx="5.5" cy="3.1" r="0.8" fill="#34bb28"/>
<circle cx="3.9" cy="2.6" r="1.0" fill="#3fc82e"/>
<circle cx="5.2" cy="3.8" r="0.5" fill="#2aa822"/>
<circle cx="5.0" cy="4.3" r="0.6" fill="#4cd03a"/>
<circle cx="4.2" cy="2.8" r="0.9" fill="#4cd03a"/>
<circle cx="4.4" cy="3.6" r="0.5" fill="#34bb28"/>
<circle cx="3.6" cy="0.9" r="0.8" fill="#4cd03a"/>
<circle cx="3.6" cy="2.0" r="0.7" fill="#3fc82e"/>
<polyline points="16.7,5.7 17.5,6.3 18.2,7.0 18.7,7.9" stroke="#34bb28" stroke-width="1.3"/>
<polyline points="18.7,7.9 19.2,8.8 19.7,9.6 20.3,10.4" stroke="#34bb28" stroke-width="0.9"/>
<polyline points="20.3,10.4 21.1,11.1 21.5,12.0 21.9,12.9" stroke="#34bb28" stroke-width="0.6"/>
<polyline points="18.2,7.0 19.2,7.2" stroke="#34bb28" stroke-width="1.0"/>
<polyline points="19.2,7.2 20.1,7.4 21.1,7.6" stroke="#34bb28" stroke-width="0.7"/>
<polyline points="21.1,7.6 22.1,7.7" stroke="#34bb28" stroke-width="0.4"/>
<polyline points="2.9,62.4 2.0,61.9 1.2,61.3 0.6,60.5" stroke="#34bb28" stroke-width="1.3"/>
<polyline points="0.6,60.5 -0.1,59.8 -0.9,59.3 -1.9,59.1" stroke="#34bb28" stroke-width="0.9"/>
<polyline points="-1.9,59.1 -2.9,58.8 -3.6,58.1 -4.0,57.2" stroke="#34bb28" stroke-width="0.6"/>
<polyline points="-1.9,59.1 -2.8,59.6" stroke="#34bb28" stroke-width="1.0"/>
<polyline points="-2.8,59.6 -3.8,59.7 -4.8,59.6" stroke="#34bb28" stroke-width="0.7"/>
<polyline points="-4.8,59.6 -5.7,59.2" stroke="#34bb28" stroke-width="0.4"/>
<polyline points="-2.9,58.8 -3.7,58.3" stroke="#34bb28" stroke-width="1.0"/>
<polyline points="-3.7,58.3 -4.4,57.5 -5.1,56.8" stroke="#34bb28" stroke-width="0.7"/>
<polyline points="-5.1,56.8 -5.6,55.9" stroke="#34bb28" stroke-width="0.4"/>
<polyline points="-3.6,58.1 -4.6,57.9" stroke="#34bb28" stroke-width="1.0"/>
<polyline points="-4.6,57.9 -5.6,57.8 -6.6,57.8" stroke="#34bb28" stroke-width="0.7"/>
<polyline points="-6.6,57.8 -7.5,57.4" stroke="#34bb28" stroke-width="0.4"/>
<polyline points="68.9,68.1 68.6,69.1 68.0,69.9 67.1,70.4" stroke="#4cd03a" stroke-width="1.3"/>
<polyline points="67.1,70.4 66.2,70.8 65.3,71.1 64.3,71.1" stroke="#4cd03a" stroke-width="0.9"/>
<polyline points="64.3,71.1 63.3,70.7 62.6,70.0 62.1,69.1" stroke="#4cd03a" stroke-width="0.6"/>
<polyline points="66.2,70.8 65.3,70.3" stroke="#4cd03a" stroke-width="1.0"/>
<polyline points="65.3,70.3 64.5,69.7 63.5,69.4" stroke="#4cd03a" stroke-width="0.7"/>
<polyline points="63.5,69.4 62.7,68.9" stroke="#4cd03a" stroke-width="0.4"/>
<polyline points="65.3,71.1 64.4,70.7" stroke="#4cd03a" stroke-width="1.0"/>
<polyline points="64.4,70.7 63.5,70.2 62.7,69.5" stroke="#4cd03a" stroke-width="0.7"/>
<polyline points="62.7,69.5 62.0,68.9" stroke="#4cd03a" stroke-width="0.4"/>
<polyline points="64.3,71.1 64.0,72.0" stroke="#4cd03a" stroke-width="1.0"/>
<polyline points="64.0,72.0 63.5,72.9 62.8,73.6" stroke="#4cd03a" stroke-width="0.7"/>
<polyline points="62.8,73.6 62.0,74.3" stroke="#4cd03a" stroke-width="0.4"/>
<polyline points="62.6,70.0 61.7,70.3" stroke="#4cd03a" stroke-width="1.0"/>
<polyline points="61.7,70.3 60.7,70.6 59.9,71.2" stroke="#4cd03a" stroke-width="0.7"/>
<polyline points="59.9,71.2 59.4,72.1" stroke="#4cd03a" stroke-width="0.4"/>
</g></svg>
<svg x="362.00" y="431.70" width="71.70" height="71.70" viewBox="0 0 71.70 71.70" overflow="hidden">
<rect width="71.70" height="71.70" fill="#050605"/>
<filter id="nz15" x="0" y="0" width="100%" height="100%" filterUnits="userSpaceOnUse" color-interpolation-filters="sRGB"><feTurbulence type="fractalNoise" baseFrequency="0.55" numOctaves="2" seed="15"/><feColorMatrix type="matrix" values="0.3 0 0 0 -0.14 0 0.4 0 0 -0.17 0 0 0.35 0 -0.15 0 0 0 0 1"/></filter>
<rect width="71.70" height="71.70" filter="url(#nz15)"/>
<filter id="tx15" x="0" y="0" width="100%" height="100%" filterUnits="userSpaceOnUse" color-interpolation-filters="sRGB"><feGaussianBlur in="SourceGraphic" stdDeviation="0.5" result="b"/><feTurbulence type="fractalNoise" baseFrequency="0.7" numOctaves="2" seed="65" result="n"/><feColorMatrix in="n" type="matrix" values="0 0 0 0 1 0 0 0 0 1 0 0 0 0 1 2.0 0 0 0 0.05" result="na"/><feComposite in="b" in2="na" operator="in"/></filter>
<g filter="url(#tx15)">
<circle cx="69.2" cy="0.8" r="0.5" fill="#30c028" opacity="0.94"/>
<circle cx="1.2" cy="63.1" r="0.7" fill="#d08020" opacity="0.95"/>
<circle cx="17.2" cy="24.2" r="0.5" fill="#2a2ad0" opacity="0.51"/>
<circle cx="16.4" cy="61.5" r="0.7" fill="#2a2ad0" opacity="0.48"/>
<circle cx="66.3" cy="36.7" r="0.6" fill="#d08020" opacity="0.85"/>
<circle cx="35.1" cy="33.1" r="0.6" fill="#2a2ad0" opacity="0.54"/>
<circle cx="49.8" cy="32.3" r="0.7" fill="#30c028" opacity="0.92"/>
<circle cx="1.3" cy="10.1" r="0.6" fill="#d08020" opacity="0.82"/>
<circle cx="60.5" cy="1.2" r="0.4" fill="#e02020" opacity="0.86"/>
<circle cx="63.9" cy="28.3" r="0.7" fill="#30c028" opacity="0.85"/>
<circle cx="39.8" cy="28.8" r="0.5" fill="#d08020" opacity="0.92"/>
<circle cx="25.4" cy="16.9" r="0.5" fill="#2a2ad0" opacity="0.73"/>
<circle cx="27.7" cy="34.2" r="0.6" fill="#e02020" opacity="0.80"/>
<circle cx="60.1" cy="19.5" r="0.4" fill="#d08020" opacity="0.65"/>
<circle cx="27.0" cy="60.2" r="0.6" fill="#30c028" opacity="0.37"/>
<circle cx="64.1" cy="67.7" r="0.7" fill="#d08020" opacity="0.69"/>
<circle cx="62.6" cy="35.7" r="0.7" fill="#30c028" opacity="0.40"/>
<circle cx="68.9" cy="16.6" r="0.6" fill="#e02020" opacity="0.50"/>
<circle cx="6.1" cy="0.6" r="0.7" fill="#2a2ad0" opacity="0.85"/>
<circle cx="31.1" cy="4.0" r="0.6" fill="#2a2ad0" opacity="0.54"/>
<circle cx="58.9" cy="57.4" r="0.4" fill="#e02020" opacity="0.75"/>
<circle cx="25.0" cy="27.9" r="0.5" fill="#30c028" opacity="0.50"/>
<circle cx="70.7" cy="23.7" r="0.7" fill="#d08020" opacity="0.54"/>
<circle cx="22.9" cy="43.4" r="0.5" fill="#d08020" opacity="0.39"/>
<circle cx="12.3" cy="61.7" r="1.0" fill="#30c028" opacity="0.78"/>
<circle cx="28.6" cy="62.7" r="0.5" fill="#d08020" opacity="0.54"/>
<circle cx="32.9" cy="44.0" r="0.6" fill="#e02020" opacity="0.42"/>
<circle cx="66.5" cy="41.7" r="0.9" fill="#30c028" opacity="0.44"/>
<circle cx="47.0" cy="60.1" r="0.6" fill="#d08020" opacity="0.68"/>
<circle cx="53.9" cy="26.4" r="0.8" fill="#d08020" opacity="0.74"/>
<circle cx="45.1" cy="71.4" r="0.6" fill="#e02020" opacity="0.85"/>
<circle cx="49.2" cy="65.9" r="0.7" fill="#e02020" opacity="0.94"/>
<circle cx="47.5" cy="29.2" r="0.5" fill="#2a2ad0" opacity="0.81"/>
<circle cx="25.6" cy="13.4" r="0.7" fill="#e02020" opacity="0.77"/>
<circle cx="56.2" cy="7.1" r="0.5" fill="#2a2ad0" opacity="0.76"/>
<circle cx="56.9" cy="51.7" r="0.8" fill="#d08020" opacity="0.49"/>
<circle cx="11.3" cy="62.1" r="0.6" fill="#30c028" opacity="0.49"/>
<circle cx="53.0" cy="12.2" r="0.6" fill="#d08020" opacity="0.64"/>
<circle cx="33.9" cy="33.6" r="0.6" fill="#d08020" opacity="0.60"/>
<circle cx="66.3" cy="70.0" r="0.7" fill="#d08020" opacity="0.94"/>
<circle cx="32.4" cy="29.0" r="0.4" fill="#d08020" opacity="0.70"/>
<circle cx="0.3" cy="48.6" r="0.4" fill="#e02020" opacity="0.62"/>
<circle cx="33.3" cy="56.6" r="0.5" fill="#e02020" opacity="0.62"/>
<circle cx="49.9" cy="36.0" r="0.5" fill="#30c028" opacity="0.92"/>
<circle cx="32.3" cy="34.4" r="0.6" fill="#e02020" opacity="0.48"/>
<circle cx="15.8" cy="54.5" r="0.6" fill="#e02020" opacity="0.77"/>
<circle cx="48.9" cy="23.2" r="0.5" fill="#e02020" opacity="0.91"/>
<circle cx="19.4" cy="29.7" r="0.8" fill="#2a2ad0" opacity="0.76"/>
<circle cx="19.4" cy="41.2" r="0.5" fill="#2a2ad0" opacity="0.75"/>
<circle cx="17.2" cy="10.7" r="0.8" fill="#30c028" opacity="0.83"/>
<circle cx="28.3" cy="30.7" r="0.7" fill="#2a2ad0" opacity="0.77"/>
<circle cx="33.7" cy="45.0" r="0.6" fill="#e02020" opacity="0.92"/>
<circle cx="33.7" cy="16.2" r="0.5" fill="#e02020" opacity="0.56"/>
<circle cx="23.6" cy="24.0" r="0.6" fill="#d08020" opacity="0.93"/>
<circle cx="52.7" cy="40.9" r="0.5" fill="#30c028" opacity="0.67"/>
<circle cx="22.0" cy="15.4" r="0.5" fill="#e02020" opacity="0.65"/>
<circle cx="13.3" cy="16.8" r="0.7" fill="#e02020" opacity="0.45"/>
<circle cx="37.2" cy="47.2" r="0.6" fill="#2a2ad0" opacity="0.84"/>
<circle cx="3.0" cy="55.0" r="0.4" fill="#d08020" opacity="0.86"/>
<circle cx="23.6" cy="21.2" r="0.5" fill="#2a2ad0" opacity="0.60"/>
<circle cx="39.7" cy="45.1" r="1.0" fill="#30c028" opacity="0.64"/>
<circle cx="53.3" cy="40.9" r="0.6" fill="#d08020" opacity="0.39"/>
<circle cx="66.0" cy="31.3" r="0.4" fill="#30c028" opacity="0.40"/>
<circle cx="45.3" cy="53.5" r="0.5" fill="#e02020" opacity="0.47"/>
<circle cx="24.7" cy="58.8" r="1.0" fill="#30c028" opacity="0.38"/>
<circle cx="37.5" cy="18.7" r="0.7" fill="#30c028" opacity="0.37"/>
<circle cx="0.5" cy="31.6" r="0.5" fill="#e02020" opacity="0.44"/>
<circle cx="12.2" cy="44.5" r="0.7" fill="#d08020" opacity="0.48"/>
<circle cx="51.5" cy="68.3" r="0.7" fill="#e02020" opacity="0.74"/>
<circle cx="35.5" cy="8.7" r="0.6" fill="#d08020" opacity="0.91"/>
<circle cx="41.1" cy="68.6" r="0.7" fill="#2a2ad0" opacity="0.84"/>
<circle cx="7.8" cy="19.5" r="0.6" fill="#d08020" opacity="0.36"/>
<circle cx="18.4" cy="10.2" r="0.5" fill="#e02020" opacity="0.39"/>
<circle cx="37.6" cy="70.6" r="0.7" fill="#d08020" opacity="0.79"/>
<circle cx="52.5" cy="44.4" r="0.5" fill="#d08020" opacity="0.47"/>
<circle cx="8.1" cy="21.3" r="0.5" fill="#d08020" opacity="0.88"/>
<circle cx="21.2" cy="68.1" r="0.5" fill="#e02020" opacity="0.36"/>
<circle cx="37.0" cy="64.7" r="1.0" fill="#30c028" opacity="0.88"/>
<circle cx="26.8" cy="6.0" r="0.6" fill="#2a2ad0" opacity="0.74"/>
<circle cx="49.9" cy="56.5" r="0.8" fill="#30c028" opacity="0.63"/>
<circle cx="71.6" cy="47.2" r="0.7" fill="#d08020" opacity="0.59"/>
<circle cx="26.2" cy="68.4" r="0.6" fill="#e02020" opacity="0.85"/>
<circle cx="26.3" cy="4.9" r="0.7" fill="#2a2ad0" opacity="0.72"/>
<circle cx="44.1" cy="6.8" r="0.8" fill="#d08020" opacity="0.48"/>
<circle cx="5.5" cy="25.7" r="0.9" fill="#30c028" opacity="0.58"/>
<circle cx="14.3" cy="39.3" r="0.4" fill="#e02020" opacity="0.83"/>
<circle cx="46.0" cy="54.0" r="0.4" fill="#d08020" opacity="0.41"/>
<circle cx="67.6" cy="69.9" r="0.6" fill="#d08020" opacity="0.78"/>
<circle cx="33.1" cy="39.0" r="0.8" fill="#30c028" opacity="0.58"/>
<circle cx="65.2" cy="56.5" r="0.5" fill="#30c028" opacity="0.52"/>
<circle cx="39.7" cy="23.0" r="0.7" fill="#e02020" opacity="0.72"/>
<circle cx="17.6" cy="4.8" r="0.5" fill="#d08020" opacity="0.55"/>
<circle cx="62.4" cy="45.4" r="0.6" fill="#2a2ad0" opacity="0.54"/>
<circle cx="68.2" cy="15.8" r="0.6" fill="#2a2ad0" opacity="0.92"/>
<circle cx="16.5" cy="26.9" r="0.4" fill="#2a2ad0" opacity="0.47"/>
<circle cx="66.2" cy="26.0" r="0.8" fill="#30c028" opacity="0.85"/>
<circle cx="16.7" cy="49.0" r="0.4" fill="#2a2ad0" opacity="0.46"/>
<circle cx="10.6" cy="60.6" r="0.4" fill="#d08020" opacity="0.71"/>
<circle cx="54.5" cy="63.0" r="0.7" fill="#2a2ad0" opacity="0.86"/>
<circle cx="5.9" cy="70.8" r="0.7" fill="#d08020" opacity="0.38"/>
<ellipse cx="5.0" cy="8.6" rx="6.8" ry="5.1" transform="rotate(150 5.0 8.6)" fill="#34bb28" opacity="0.13"/>
<circle cx="7.0" cy="7.7" r="1.0" fill="#2aa822"/>
<circle cx="4.7" cy="9.2" r="1.0" fill="#2aa822"/>
<circle cx="4.0" cy="9.9" r="0.9" fill="#34bb28"/>
<circle cx="6.5" cy="10.7" r="1.7" fill="#34bb28"/>
<circle cx="5.0" cy="8.6" r="1.1" fill="#34bb28"/>
<circle cx="6.1" cy="8.3" r="1.4" fill="#3fc82e"/>
<circle cx="5.1" cy="8.3" r="0.9" fill="#34bb28"/>
<circle cx="3.2" cy="9.2" r="1.7" fill="#3fc82e"/>
<circle cx="4.0" cy="10.7" r="1.4" fill="#3fc82e"/>
<circle cx="5.0" cy="8.1" r="1.8" fill="#34bb28"/>
<circle cx="4.7" cy="8.7" r="0.8" fill="#e8c030"/>
<circle cx="4.2" cy="9.2" r="0.6" fill="#e8c030"/>
<circle cx="4.8" cy="8.3" r="0.6" fill="#c8d828"/>
<circle cx="5.4" cy="8.3" r="0.9" fill="#e0b818"/>
<circle cx="5.5" cy="9.0" r="1.1" fill="#c8d828"/>
<circle cx="4.9" cy="10.1" r="0.8" fill="#e8c030"/>
<circle cx="5.5" cy="7.5" r="0.6" fill="#e0b818"/>
<ellipse cx="45.2" cy="5.0" rx="8.9" ry="4.4" transform="rotate(90 45.2 5.0)" fill="#34bb28" opacity="0.13"/>
<circle cx="44.7" cy="4.2" r="1.2" fill="#2aa822"/>
<circle cx="44.7" cy="3.2" r="1.5" fill="#3fc82e"/>
<circle cx="46.5" cy="4.5" r="1.4" fill="#34bb28"/>
<circle cx="44.5" cy="6.2" r="1.8" fill="#34bb28"/>
<circle cx="45.8" cy="6.5" r="1.1" fill="#2aa822"/>
<circle cx="45.6" cy="3.0" r="1.9" fill="#3fc82e"/>
<circle cx="45.6" cy="6.9" r="1.1" fill="#34bb28"/>
<circle cx="46.6" cy="5.5" r="1.8" fill="#2aa822"/>
<circle cx="45.8" cy="3.8" r="1.0" fill="#4cd03a"/>
<circle cx="44.1" cy="7.7" r="1.2" fill="#3fc82e"/>
<circle cx="45.1" cy="5.4" r="0.7" fill="#d86a14"/>
<circle cx="45.2" cy="5.3" r="1.1" fill="#e0a020"/>
<circle cx="44.5" cy="6.2" r="0.9" fill="#d86a14"/>
<circle cx="45.3" cy="5.8" r="0.6" fill="#d01414"/>
<circle cx="44.6" cy="5.3" r="1.1" fill="#e08818"/>
<circle cx="43.7" cy="6.1" r="0.9" fill="#c81818"/>
<circle cx="45.2" cy="5.1" r="0.5" fill="#f02828"/>
<ellipse cx="62.4" cy="1.4" rx="5.2" ry="4.4" transform="rotate(91 62.4 1.4)" fill="#34bb28" opacity="0.13"/>
<circle cx="61.4" cy="0.5" r="1.5" fill="#2aa822"/>
<circle cx="62.4" cy="0.7" r="0.7" fill="#2aa822"/>
<circle cx="63.4" cy="-0.1" r="1.2" fill="#34bb28"/>
<circle cx="62.4" cy="1.3" r="0.9" fill="#34bb28"/>
<circle cx="62.4" cy="1.4" r="1.0" fill="#3fc82e"/>
<circle cx="63.7" cy="3.0" r="1.2" fill="#2aa822"/>
<circle cx="64.1" cy="-0.1" r="0.9" fill="#34bb28"/>
<circle cx="63.6" cy="3.3" r="1.0" fill="#3fc82e"/>
<circle cx="61.0" cy="1.6" r="0.9" fill="#4cd03a"/>
<circle cx="60.8" cy="1.3" r="1.4" fill="#34bb28"/>
<circle cx="63.4" cy="1.6" r="1.2" fill="#2aa822"/>
<circle cx="62.1" cy="2.0" r="1.0" fill="#4cd03a"/>
<circle cx="62.4" cy="2.0" r="1.1" fill="#3fc82e"/>
<ellipse cx="63.8" cy="15.8" rx="9.6" ry="4.5" transform="rotate(144 63.8 15.8)" fill="#34bb28" opacity="0.13"/>
<circle cx="64.5" cy="13.1" r="2.0" fill="#34bb28"/>
<circle cx="64.0" cy="16.7" r="2.0" fill="#2aa822"/>
<circle cx="65.7" cy="16.3" r="1.5" fill="#34bb28"/>
<circle cx="63.2" cy="17.2" r="1.4" fill="#34bb28"/>
<circle cx="66.7" cy="13.5" r="1.1" fill="#3fc82e"/>
<circle cx="64.5" cy="15.1" r="1.9" fill="#2aa822"/>
<circle cx="60.6" cy="17.8" r="1.1" fill="#3fc82e"/>
<circle cx="62.9" cy="16.2" r="1.4" fill="#34bb28"/>
<circle cx="62.9" cy="16.2" r="1.0" fill="#3fc82e"/>
<circle cx="61.8" cy="18.5" r="1.9" fill="#3fc82e"/>
<circle cx="64.5" cy="14.7" r="0.6" fill="#e01c1c"/>
<circle cx="63.6" cy="18.6" r="0.5" fill="#e0a020"/>
<circle cx="63.9" cy="16.2" r="0.6" fill="#e01c1c"/>
<circle cx="63.5" cy="15.0" r="0.9" fill="#d01414"/>
<circle cx="63.9" cy="17.1" r="0.5" fill="#e01c1c"/>
<circle cx="64.6" cy="15.4" r="0.7" fill="#e01c1c"/>
<circle cx="63.6" cy="17.5" r="0.6" fill="#d86a14"/>
<ellipse cx="37.3" cy="20.8" rx="7.1" ry="3.7" transform="rotate(88 37.3 20.8)" fill="#34bb28" opacity="0.13"/>
<circle cx="37.6" cy="23.9" r="1.4" fill="#2aa822"/>
<circle cx="37.1" cy="21.2" r="1.7" fill="#34bb28"/>
<circle cx="39.0" cy="21.4" r="1.4" fill="#4cd03a"/>
<circle cx="37.6" cy="18.4" r="1.3" fill="#4cd03a"/>
<circle cx="37.1" cy="19.0" r="0.7" fill="#4cd03a"/>
<circle cx="36.9" cy="21.7" r="1.1" fill="#34bb28"/>
<circle cx="37.3" cy="20.6" r="1.5" fill="#34bb28"/>
<circle cx="37.8" cy="21.0" r="1.3" fill="#4cd03a"/>
<circle cx="37.3" cy="20.1" r="0.9" fill="#34bb28"/>
<circle cx="37.6" cy="23.9" r="1.0" fill="#34bb28"/>
<circle cx="37.2" cy="21.0" r="0.8" fill="#f02828"/>
<circle cx="37.7" cy="20.8" r="0.6" fill="#c81818"/>
<circle cx="36.7" cy="21.0" r="0.9" fill="#f02828"/>
<circle cx="37.1" cy="20.7" r="0.9" fill="#e08818"/>
<circle cx="37.7" cy="21.3" r="0.8" fill="#d86a14"/>
<circle cx="36.2" cy="21.3" r="0.6" fill="#e08818"/>
<circle cx="37.2" cy="20.9" r="0.7" fill="#f02828"/>
<ellipse cx="44.5" cy="19.4" rx="5.4" ry="4.2" transform="rotate(136 44.5 19.4)" fill="#34bb28" opacity="0.13"/>
<circle cx="43.1" cy="18.6" r="1.2" fill="#34bb28"/>
<circle cx="43.7" cy="18.2" r="1.5" fill="#2aa822"/>
<circle cx="45.5" cy="19.1" r="1.5" fill="#2aa822"/>
<circle cx="42.8" cy="18.8" r="0.9" fill="#2aa822"/>
<circle cx="42.9" cy="19.8" r="1.1" fill="#3fc82e"/>
<circle cx="43.7" cy="19.1" r="0.7" fill="#34bb28"/>
<circle cx="43.7" cy="18.2" r="0.7" fill="#34bb28"/>
<circle cx="44.1" cy="17.2" r="1.1" fill="#2aa822"/>
<circle cx="43.1" cy="19.8" r="1.2" fill="#4cd03a"/>
<circle cx="45.4" cy="18.2" r="0.7" fill="#3fc82e"/>
<circle cx="43.9" cy="18.7" r="0.7" fill="#e01c1c"/>
<circle cx="45.4" cy="19.1" r="0.7" fill="#d01414"/>
<circle cx="45.9" cy="19.5" r="0.6" fill="#e08818"/>
<circle cx="44.2" cy="19.5" r="0.6" fill="#d86a14"/>
<circle cx="44.2" cy="18.3" r="0.5" fill="#c81818"/>
<circle cx="44.5" cy="19.5" r="0.6" fill="#f02828"/>
<circle cx="44.2" cy="19.7" r="0.9" fill="#d86a14"/>
<ellipse cx="49.5" cy="17.9" rx="4.9" ry="4.0" transform="rotate(55 49.5 17.9)" fill="#34bb28" opacity="0.13"/>
<circle cx="50.3" cy="19.6" r="1.1" fill="#2aa822"/>
<circle cx="49.9" cy="17.9" r="0.8" fill="#34bb28"/>
<circle cx="47.8" cy="16.2" r="1.0" fill="#34bb28"/>
<circle cx="47.5" cy="17.8" r="0.6" fill="#2aa822"/>
<circle cx="49.0" cy="18.0" r="0.8" fill="#3fc82e"/>
<circle cx="50.0" cy="18.6" r="1.0" fill="#4cd03a"/>
<circle cx="47.9" cy="18.8" r="0.8" fill="#34bb28"/>
<circle cx="49.2" cy="17.9" r="1.4" fill="#2aa822"/>
<circle cx="50.1" cy="18.8" r="1.3" fill="#34bb28"/>
<circle cx="49.3" cy="17.7" r="0.6" fill="#3fc82e"/>
<circle cx="49.5" cy="18.2" r="0.8" fill="#34bb28"/>
<circle cx="49.6" cy="15.9" r="1.0" fill="#34bb28"/>
<circle cx="51.3" cy="19.3" r="0.6" fill="#4cd03a"/>
<ellipse cx="53.8" cy="26.5" rx="7.5" ry="3.5" transform="rotate(177 53.8 26.5)" fill="#34bb28" opacity="0.13"/>
<circle cx="54.4" cy="26.1" r="1.5" fill="#4cd03a"/>
<circle cx="56.5" cy="27.2" r="1.1" fill="#34bb28"/>
<circle cx="52.2" cy="27.1" r="1.4" fill="#34bb28"/>
<circle cx="53.3" cy="26.7" r="1.6" fill="#34bb28"/>
<circle cx="52.0" cy="27.7" r="1.4" fill="#3fc82e"/>
<circle cx="53.9" cy="25.5" r="1.3" fill="#2aa822"/>
<circle cx="55.0" cy="27.0" r="1.4" fill="#4cd03a"/>
<circle cx="53.4" cy="25.5" r="1.5" fill="#3fc82e"/>
<circle cx="54.0" cy="26.5" r="1.3" fill="#2aa822"/>
<circle cx="53.0" cy="25.3" r="0.8" fill="#2aa822"/>
<circle cx="54.8" cy="26.5" r="0.8" fill="#c8d828"/>
<circle cx="54.8" cy="26.4" r="0.9" fill="#e0b818"/>
<circle cx="54.1" cy="26.0" r="0.8" fill="#e0b818"/>
<circle cx="54.5" cy="26.5" r="0.6" fill="#e0b818"/>
<circle cx="53.7" cy="26.6" r="0.7" fill="#e0b818"/>
<circle cx="55.0" cy="26.7" r="0.8" fill="#d6d020"/>
<circle cx="55.1" cy="26.9" r="0.6" fill="#e8c030"/>
<ellipse cx="26.5" cy="28.7" rx="5.3" ry="3.1" transform="rotate(45 26.5 28.7)" fill="#34bb28" opacity="0.13"/>
<circle cx="25.7" cy="29.3" r="1.1" fill="#34bb28"/>
<circle cx="26.6" cy="28.1" r="0.8" fill="#4cd03a"/>
<circle cx="26.0" cy="28.2" r="0.7" fill="#2aa822"/>
<circle cx="26.8" cy="27.0" r="1.2" fill="#4cd03a"/>
<circle cx="27.6" cy="29.8" r="1.3" fill="#2aa822"/>
<circle cx="26.5" cy="28.9" r="1.2" fill="#34bb28"/>
<circle cx="25.7" cy="28.0" r="1.2" fill="#34bb28"/>
<circle cx="26.7" cy="29.0" r="0.7" fill="#34bb28"/>
<circle cx="25.6" cy="28.2" r="1.1" fill="#4cd03a"/>
<circle cx="26.6" cy="28.7" r="0.9" fill="#4cd03a"/>
<circle cx="27.2" cy="29.4" r="1.1" fill="#2aa822"/>
<circle cx="24.8" cy="26.8" r="0.7" fill="#2aa822"/>
<circle cx="26.4" cy="28.5" r="0.6" fill="#2aa822"/>
<ellipse cx="26.9" cy="35.1" rx="8.5" ry="3.1" transform="rotate(158 26.9 35.1)" fill="#34bb28" opacity="0.13"/>
<circle cx="26.5" cy="36.2" r="1.0" fill="#2aa822"/>
<circle cx="26.6" cy="34.9" r="0.7" fill="#2aa822"/>
<circle cx="25.2" cy="35.7" r="0.7" fill="#2aa822"/>
<circle cx="27.0" cy="34.7" r="1.6" fill="#2aa822"/>
<circle cx="27.1" cy="35.1" r="1.6" fill="#3fc82e"/>
<circle cx="24.3" cy="37.1" r="1.4" fill="#4cd03a"/>
<circle cx="26.5" cy="36.2" r="1.6" fill="#2aa822"/>
<circle cx="28.3" cy="34.2" r="0.9" fill="#2aa822"/>
<circle cx="25.5" cy="36.1" r="1.3" fill="#3fc82e"/>
<circle cx="23.7" cy="35.7" r="1.1" fill="#4cd03a"/>
<circle cx="27.0" cy="35.1" r="0.9" fill="#e8c030"/>
<circle cx="26.8" cy="35.1" r="1.0" fill="#d6d020"/>
<circle cx="27.4" cy="35.7" r="0.6" fill="#c8d828"/>
<circle cx="25.8" cy="35.5" r="0.4" fill="#d6d020"/>
<circle cx="27.2" cy="35.4" r="0.6" fill="#e8c030"/>
<circle cx="26.2" cy="34.7" r="0.9" fill="#d6d020"/>
<circle cx="27.4" cy="35.0" r="0.7" fill="#c8d828"/>
<circle cx="34.1" cy="34.2" r="1.2" fill="#2a2ad8"/>
<circle cx="33.0" cy="36.3" r="1.1" fill="#3030c0"/>
<circle cx="32.4" cy="36.7" r="0.6" fill="#3030c0"/>
<circle cx="34.7" cy="34.3" r="1.1" fill="#2020a0"/>
<circle cx="32.9" cy="36.7" r="1.2" fill="#2a2ad8"/>
<circle cx="31.8" cy="36.8" r="0.7" fill="#2a2ad8"/>
<circle cx="33.6" cy="37.3" r="1.2" fill="#2020a0"/>
<circle cx="37.5" cy="36.8" r="0.8" fill="#3030c0"/>
<circle cx="37.2" cy="37.0" r="0.7" fill="#2a2ad8"/>
<circle cx="37.2" cy="38.6" r="1.0" fill="#2a2ad8"/>
<circle cx="36.8" cy="38.3" r="0.6" fill="#3030c0"/>
<circle cx="37.3" cy="37.4" r="0.9" fill="#3030c0"/>
<circle cx="37.9" cy="35.9" r="0.8" fill="#2a2ad8"/>
<circle cx="38.3" cy="37.2" r="0.8" fill="#2a2ad8"/>
<ellipse cx="41.6" cy="33.0" rx="4.9" ry="3.3" transform="rotate(89 41.6 33.0)" fill="#34bb28" opacity="0.13"/>
<circle cx="41.3" cy="33.9" r="0.6" fill="#3fc82e"/>
<circle cx="41.0" cy="33.0" r="1.3" fill="#4cd03a"/>
<circle cx="42.5" cy="35.0" r="1.1" fill="#3fc82e"/>
<circle cx="42.4" cy="33.9" r="0.8" fill="#34bb28"/>
<circle cx="41.1" cy="32.8" r="0.9" fill="#3fc82e"/>
<circle cx="41.3" cy="31.7" r="0.5" fill="#3fc82e"/>
<circle cx="41.6" cy="33.9" r="0.9" fill="#3fc82e"/>
<circle cx="41.3" cy="33.7" r="0.7" fill="#3fc82e"/>
<circle cx="43.1" cy="33.8" r="1.0" fill="#2aa822"/>
<circle cx="41.7" cy="30.7" r="1.2" fill="#3fc82e"/>
<circle cx="41.3" cy="32.1" r="1.0" fill="#4cd03a"/>
<circle cx="42.6" cy="34.9" r="0.6" fill="#3fc82e"/>
<circle cx="41.2" cy="32.2" r="1.2" fill="#2aa822"/>
<ellipse cx="50.2" cy="34.4" rx="5.9" ry="2.3" transform="rotate(40 50.2 34.4)" fill="#34bb28" opacity="0.13"/>
<circle cx="49.3" cy="33.4" r="0.6" fill="#2aa822"/>
<circle cx="48.7" cy="33.3" r="1.0" fill="#3fc82e"/>
<circle cx="49.9" cy="33.8" r="0.6" fill="#2aa822"/>
<circle cx="48.8" cy="32.7" r="1.1" fill="#3fc82e"/>
<circle cx="50.6" cy="34.3" r="0.5" fill="#3fc82e"/>
<circle cx="48.3" cy="33.3" r="1.0" fill="#2aa822"/>
<circle cx="49.9" cy="35.0" r="1.2" fill="#3fc82e"/>
<circle cx="50.3" cy="34.4" r="0.9" fill="#34bb28"/>
<circle cx="51.6" cy="36.4" r="0.7" fill="#3fc82e"/>
<circle cx="51.4" cy="34.9" r="1.1" fill="#34bb28"/>
<circle cx="50.7" cy="33.3" r="0.6" fill="#e01c1c"/>
<circle cx="50.2" cy="34.3" r="0.5" fill="#f02828"/>
<circle cx="50.8" cy="34.2" r="0.3" fill="#d01414"/>
<circle cx="50.0" cy="35.6" r="0.6" fill="#f02828"/>
<circle cx="49.5" cy="34.2" r="0.6" fill="#e08818"/>
<circle cx="51.1" cy="33.7" r="0.5" fill="#f02828"/>
<circle cx="50.1" cy="35.6" r="0.7" fill="#d86a14"/>
<ellipse cx="43.7" cy="43.7" rx="7.8" ry="6.2" transform="rotate(107 43.7 43.7)" fill="#34bb28" opacity="0.13"/>
<circle cx="44.1" cy="40.1" r="2.0" fill="#2aa822"/>
<circle cx="40.8" cy="43.9" r="2.1" fill="#4cd03a"/>
<circle cx="43.7" cy="43.7" r="1.6" fill="#3fc82e"/>
<circle cx="42.0" cy="42.4" r="2.1" fill="#34bb28"/>
<circle cx="44.8" cy="45.0" r="1.9" fill="#4cd03a"/>
<circle cx="45.1" cy="43.8" r="2.2" fill="#2aa822"/>
<circle cx="45.2" cy="41.7" r="1.3" fill="#34bb28"/>
<circle cx="43.6" cy="47.5" r="1.3" fill="#34bb28"/>
<circle cx="44.0" cy="42.5" r="1.2" fill="#4cd03a"/>
<circle cx="44.3" cy="47.2" r="1.5" fill="#4cd03a"/>
<circle cx="42.4" cy="44.0" r="0.9" fill="#d6d020"/>
<circle cx="43.7" cy="43.9" r="1.0" fill="#c8d828"/>
<circle cx="45.6" cy="45.3" r="1.1" fill="#e0b818"/>
<circle cx="42.5" cy="42.3" r="0.8" fill="#d6d020"/>
<circle cx="45.3" cy="44.4" r="0.8" fill="#c8d828"/>
<circle cx="42.1" cy="43.4" r="0.6" fill="#c8d828"/>
<circle cx="45.1" cy="44.2" r="1.3" fill="#d6d020"/>
<ellipse cx="51.6" cy="43.0" rx="4.8" ry="4.1" transform="rotate(101 51.6 43.0)" fill="#34bb28" opacity="0.13"/>
<circle cx="51.4" cy="43.0" r="0.8" fill="#3fc82e"/>
<circle cx="52.8" cy="42.9" r="1.3" fill="#34bb28"/>
<circle cx="53.0" cy="43.8" r="0.8" fill="#34bb28"/>
<circle cx="51.6" cy="42.7" r="0.6" fill="#3fc82e"/>
<circle cx="52.6" cy="42.9" r="1.4" fill="#3fc82e"/>
<circle cx="51.4" cy="43.1" r="1.3" fill="#2aa822"/>
<circle cx="52.9" cy="43.6" r="0.8" fill="#34bb28"/>
<circle cx="52.4" cy="43.2" r="1.4" fill="#2aa822"/>
<circle cx="51.4" cy="43.4" r="0.7" fill="#34bb28"/>
<circle cx="52.5" cy="42.9" r="0.9" fill="#4cd03a"/>
<circle cx="51.7" cy="42.5" r="0.7" fill="#2aa822"/>
<circle cx="50.3" cy="43.9" r="0.8" fill="#3fc82e"/>
<circle cx="49.8" cy="43.0" r="1.1" fill="#2aa822"/>
<ellipse cx="37.3" cy="44.5" rx="5.0" ry="2.7" transform="rotate(7 37.3 44.5)" fill="#34bb28" opacity="0.13"/>
<circle cx="38.9" cy="44.9" r="0.8" fill="#2aa822"/>
<circle cx="35.3" cy="43.8" r="0.7" fill="#34bb28"/>
<circle cx="39.5" cy="45.0" r="0.6" fill="#4cd03a"/>
<circle cx="35.5" cy="43.7" r="0.8" fill="#3fc82e"/>
<circle cx="37.9" cy="44.3" r="0.8" fill="#2aa822"/>
<circle cx="37.1" cy="44.5" r="0.9" fill="#34bb28"/>
<circle cx="36.9" cy="43.5" r="0.9" fill="#3fc82e"/>
<circle cx="37.4" cy="44.7" r="0.7" fill="#34bb28"/>
<circle cx="37.2" cy="44.2" r="0.7" fill="#3fc82e"/>
<circle cx="38.8" cy="44.4" r="0.7" fill="#34bb28"/>
<circle cx="37.5" cy="44.7" r="0.6" fill="#3fc82e"/>
<circle cx="37.7" cy="44.0" r="1.1" fill="#34bb28"/>
<circle cx="36.7" cy="44.0" r="0.6" fill="#2aa822"/>
<ellipse cx="67.4" cy="37.3" rx="5.9" ry="5.9" transform="rotate(72 67.4 37.3)" fill="#34bb28" opacity="0.13"/>
<circle cx="64.7" cy="37.4" r="1.1" fill="#2aa822"/>
<circle cx="69.8" cy="36.9" r="1.4" fill="#4cd03a"/>
<circle cx="67.7" cy="35.7" r="1.8" fill="#2aa822"/>
<circle cx="69.1" cy="37.7" r="1.8" fill="#4cd03a"/>
<circle cx="67.7" cy="37.8" r="1.1" fill="#34bb28"/>
<circle cx="67.7" cy="38.0" r="1.2" fill="#3fc82e"/>
<circle cx="66.3" cy="37.3" r="1.8" fill="#4cd03a"/>
<circle cx="68.3" cy="40.0" r="1.1" fill="#2aa822"/>
<circle cx="67.5" cy="38.5" r="1.3" fill="#2aa822"/>
<circle cx="69.1" cy="38.6" r="1.7" fill="#34bb28"/>
<circle cx="67.1" cy="37.5" r="0.5" fill="#e0b818"/>
<circle cx="67.4" cy="37.3" r="0.7" fill="#e0b818"/>
<circle cx="66.8" cy="38.2" r="1.0" fill="#c8d828"/>
<circle cx="66.1" cy="36.9" r="0.8" fill="#d6d020"/>
<circle cx="68.3" cy="36.5" r="0.9" fill="#e8c030"/>
<circle cx="68.7" cy="37.4" r="0.7" fill="#c8d828"/>
<circle cx="65.5" cy="37.4" r="0.6" fill="#e8c030"/>
<ellipse cx="15.1" cy="48.0" rx="7.4" ry="5.9" transform="rotate(38 15.1 48.0)" fill="#34bb28" opacity="0.13"/>
<circle cx="15.4" cy="45.7" r="1.8" fill="#2aa822"/>
<circle cx="14.8" cy="47.5" r="1.5" fill="#34bb28"/>
<circle cx="17.0" cy="48.9" r="1.1" fill="#4cd03a"/>
<circle cx="15.7" cy="48.1" r="1.1" fill="#2aa822"/>
<circle cx="15.9" cy="48.0" r="1.8" fill="#3fc82e"/>
<circle cx="15.5" cy="50.6" r="1.5" fill="#4cd03a"/>
<circle cx="15.1" cy="48.0" r="1.5" fill="#2aa822"/>
<circle cx="16.7" cy="49.4" r="2.0" fill="#2aa822"/>
<circle cx="16.7" cy="48.5" r="1.1" fill="#3fc82e"/>
<circle cx="16.7" cy="46.3" r="1.0" fill="#4cd03a"/>
<circle cx="15.1" cy="45.3" r="1.3" fill="#e0b818"/>
<circle cx="15.4" cy="47.7" r="1.2" fill="#e8c030"/>
<circle cx="14.4" cy="50.3" r="1.1" fill="#e8c030"/>
<circle cx="15.1" cy="48.2" r="1.1" fill="#c8d828"/>
<circle cx="15.9" cy="49.5" r="0.9" fill="#d6d020"/>
<circle cx="14.7" cy="49.0" r="0.8" fill="#e0b818"/>
<circle cx="14.8" cy="47.4" r="1.1" fill="#d6d020"/>
<ellipse cx="4.3" cy="54.5" rx="9.9" ry="3.5" transform="rotate(42 4.3 54.5)" fill="#34bb28" opacity="0.13"/>
<circle cx="5.9" cy="54.9" r="1.7" fill="#3fc82e"/>
<circle cx="2.3" cy="53.5" r="0.9" fill="#3fc82e"/>
<circle cx="2.1" cy="54.0" r="1.4" fill="#34bb28"/>
<circle cx="5.0" cy="54.4" r="1.2" fill="#4cd03a"/>
<circle cx="2.7" cy="54.9" r="1.5" fill="#2aa822"/>
<circle cx="1.7" cy="53.9" r="1.4" fill="#2aa822"/>
<circle cx="4.3" cy="54.6" r="1.9" fill="#34bb28"/>
<circle cx="6.3" cy="56.5" r="1.3" fill="#3fc82e"/>
<circle cx="4.2" cy="55.6" r="1.6" fill="#3fc82e"/>
<circle cx="4.2" cy="54.0" r="1.9" fill="#2aa822"/>
<circle cx="6.3" cy="53.6" r="0.6" fill="#c8d828"/>
<circle cx="4.3" cy="54.2" r="0.5" fill="#e0b818"/>
<circle cx="5.2" cy="53.8" r="0.7" fill="#c8d828"/>
<circle cx="4.3" cy="54.5" r="0.7" fill="#d6d020"/>
<circle cx="4.5" cy="54.1" r="0.9" fill="#e8c030"/>
<circle cx="5.9" cy="53.1" r="0.6" fill="#d6d020"/>
<circle cx="2.0" cy="55.1" r="1.1" fill="#c8d828"/>
<ellipse cx="17.9" cy="58.8" rx="7.5" ry="3.0" transform="rotate(142 17.9 58.8)" fill="#34bb28" opacity="0.13"/>
<circle cx="16.7" cy="60.6" r="0.7" fill="#4cd03a"/>
<circle cx="19.7" cy="56.2" r="0.7" fill="#34bb28"/>
<circle cx="17.0" cy="58.3" r="0.9" fill="#3fc82e"/>
<circle cx="18.1" cy="57.3" r="1.3" fill="#3fc82e"/>
<circle cx="17.3" cy="59.9" r="0.8" fill="#3fc82e"/>
<circle cx="15.4" cy="61.1" r="1.0" fill="#34bb28"/>
<circle cx="18.4" cy="59.2" r="0.9" fill="#4cd03a"/>
<circle cx="18.1" cy="58.2" r="1.1" fill="#3fc82e"/>
<circle cx="16.2" cy="60.3" r="1.1" fill="#2aa822"/>
<circle cx="17.9" cy="58.3" r="0.9" fill="#34bb28"/>
<circle cx="18.2" cy="58.3" r="0.6" fill="#c81818"/>
<circle cx="17.4" cy="58.5" r="0.7" fill="#d01414"/>
<circle cx="17.9" cy="58.6" r="0.5" fill="#e0a020"/>
<circle cx="18.6" cy="59.0" r="0.5" fill="#c81818"/>
<circle cx="16.9" cy="59.7" r="0.4" fill="#d86a14"/>
<circle cx="18.4" cy="59.5" r="0.9" fill="#d01414"/>
<circle cx="18.1" cy="60.1" r="0.6" fill="#d01414"/>
<ellipse cx="19.4" cy="64.5" rx="6.7" ry="2.4" transform="rotate(49 19.4 64.5)" fill="#34bb28" opacity="0.13"/>
<circle cx="19.1" cy="64.2" r="1.1" fill="#34bb28"/>
<circle cx="18.8" cy="65.5" r="1.0" fill="#2aa822"/>
<circle cx="17.7" cy="62.6" r="0.7" fill="#3fc82e"/>
<circle cx="19.3" cy="64.9" r="0.7" fill="#34bb28"/>
<circle cx="17.7" cy="62.1" r="1.0" fill="#3fc82e"/>
<circle cx="17.7" cy="62.7" r="0.6" fill="#2aa822"/>
<circle cx="18.4" cy="64.4" r="0.8" fill="#3fc82e"/>
<circle cx="19.5" cy="64.7" r="0.7" fill="#34bb28"/>
<circle cx="19.6" cy="64.5" r="1.1" fill="#3fc82e"/>
<circle cx="19.0" cy="64.4" r="1.0" fill="#4cd03a"/>
<circle cx="19.7" cy="64.6" r="0.5" fill="#e0a020"/>
<circle cx="19.9" cy="63.5" r="0.7" fill="#d86a14"/>
<circle cx="18.1" cy="64.5" r="0.6" fill="#e0a020"/>
<circle cx="19.6" cy="64.4" r="0.5" fill="#e0a020"/>
<circle cx="19.4" cy="63.7" r="0.4" fill="#e01c1c"/>
<circle cx="19.1" cy="63.8" r="0.5" fill="#e01c1c"/>
<circle cx="18.4" cy="64.6" r="0.4" fill="#d86a14"/>
<ellipse cx="48.8" cy="52.3" rx="6.7" ry="4.5" transform="rotate(9 48.8 52.3)" fill="#34bb28" opacity="0.13"/>
<circle cx="47.5" cy="52.8" r="1.3" fill="#34bb28"/>
<circle cx="49.3" cy="51.3" r="1.2" fill="#4cd03a"/>
<circle cx="49.4" cy="52.5" r="1.6" fill="#4cd03a"/>
<circle cx="50.1" cy="52.2" r="0.9" fill="#2aa822"/>
<circle cx="48.0" cy="52.5" r="1.7" fill="#34bb28"/>
<circle cx="48.7" cy="52.2" r="1.7" fill="#4cd03a"/>
<circle cx="51.4" cy="51.7" r="1.2" fill="#3fc82e"/>
<circle cx="50.2" cy="54.1" r="0.9" fill="#3fc82e"/>
<circle cx="48.7" cy="52.3" r="0.9" fill="#34bb28"/>
<circle cx="51.6" cy="53.4" r="1.2" fill="#4cd03a"/>
<circle cx="48.3" cy="53.5" r="1.1" fill="#e8c030"/>
<circle cx="48.7" cy="52.3" r="0.8" fill="#c8d828"/>
<circle cx="48.6" cy="52.2" r="1.0" fill="#e0b818"/>
<circle cx="48.5" cy="52.3" r="0.9" fill="#c8d828"/>
<circle cx="47.9" cy="52.0" r="0.7" fill="#e8c030"/>
<circle cx="50.3" cy="52.4" r="0.6" fill="#e0b818"/>
<circle cx="49.4" cy="53.4" r="0.9" fill="#c8d828"/>
<ellipse cx="49.5" cy="62.4" rx="9.9" ry="4.4" transform="rotate(76 49.5 62.4)" fill="#34bb28" opacity="0.13"/>
<circle cx="50.1" cy="60.0" r="1.2" fill="#34bb28"/>
<circle cx="48.8" cy="63.1" r="1.1" fill="#3fc82e"/>
<circle cx="50.1" cy="66.2" r="1.4" fill="#34bb28"/>
<circle cx="48.7" cy="63.5" r="0.9" fill="#4cd03a"/>
<circle cx="50.3" cy="64.3" r="1.8" fill="#3fc82e"/>
<circle cx="49.9" cy="63.1" r="1.5" fill="#3fc82e"/>
<circle cx="48.5" cy="58.7" r="0.9" fill="#34bb28"/>
<circle cx="51.3" cy="64.5" r="1.4" fill="#34bb28"/>
<circle cx="48.7" cy="62.6" r="1.2" fill="#4cd03a"/>
<circle cx="49.4" cy="61.2" r="1.7" fill="#34bb28"/>
<circle cx="48.4" cy="61.5" r="0.9" fill="#4cd03a"/>
<circle cx="51.0" cy="62.5" r="1.6" fill="#4cd03a"/>
<circle cx="49.3" cy="61.4" r="1.1" fill="#4cd03a"/>
<ellipse cx="58.8" cy="58.8" rx="6.4" ry="2.5" transform="rotate(117 58.8 58.8)" fill="#e01c1c" opacity="0.13"/>
<circle cx="59.1" cy="59.1" r="1.2" fill="#d01414"/>
<circle cx="59.1" cy="56.8" r="1.0" fill="#f02828"/>
<circle cx="58.2" cy="61.4" r="0.5" fill="#c81818"/>
<circle cx="58.0" cy="60.0" r="0.7" fill="#f02828"/>
<circle cx="59.0" cy="57.0" r="1.1" fill="#c81818"/>
<circle cx="59.3" cy="57.8" r="0.6" fill="#d01414"/>
<circle cx="59.1" cy="58.8" r="0.7" fill="#e01c1c"/>
<circle cx="57.2" cy="60.5" r="0.6" fill="#e01c1c"/>
<circle cx="60.2" cy="56.5" r="0.5" fill="#f02828"/>
<circle cx="58.7" cy="59.3" r="1.0" fill="#d01414"/>
<circle cx="57.7" cy="58.2" r="1.2" fill="#d01414"/>
<circle cx="58.9" cy="60.3" r="0.8" fill="#c81818"/>
<circle cx="58.9" cy="58.8" r="1.2" fill="#d01414"/>
<circle cx="9.1" cy="30.2" r="0.8" fill="#3030c0"/>
<circle cx="8.3" cy="29.5" r="0.7" fill="#3030c0"/>
<circle cx="8.1" cy="29.9" r="0.8" fill="#3030c0"/>
<circle cx="9.3" cy="31.2" r="0.7" fill="#2a2ad8"/>
<circle cx="9.3" cy="31.4" r="0.5" fill="#2a2ad8"/>
<circle cx="8.7" cy="30.0" r="0.7" fill="#2a2ad8"/>
<circle cx="7.4" cy="30.1" r="0.6" fill="#2a2ad8"/>
<circle cx="1.9" cy="27.9" r="0.9" fill="#3030c0"/>
<circle cx="3.8" cy="28.3" r="0.7" fill="#3030c0"/>
<circle cx="2.3" cy="28.0" r="0.7" fill="#2a2ad8"/>
<circle cx="3.9" cy="27.8" r="0.8" fill="#2a2ad8"/>
<circle cx="2.8" cy="28.1" r="0.7" fill="#3030c0"/>
<circle cx="4.3" cy="27.5" r="0.9" fill="#3030c0"/>
<circle cx="2.6" cy="27.2" r="0.6" fill="#2a2ad8"/>
<circle cx="10.1" cy="61.7" r="0.7" fill="#2020a0"/>
<circle cx="10.1" cy="62.0" r="0.7" fill="#3030c0"/>
<circle cx="9.8" cy="62.4" r="0.5" fill="#2a2ad8"/>
<circle cx="9.9" cy="64.0" r="0.8" fill="#2020a0"/>
<circle cx="10.1" cy="63.5" r="0.6" fill="#3030c0"/>
<circle cx="9.7" cy="62.9" r="0.4" fill="#2a2ad8"/>
<circle cx="10.2" cy="61.6" r="0.8" fill="#3030c0"/>
<ellipse cx="25.1" cy="65.2" rx="4.8" ry="2.3" transform="rotate(100 25.1 65.2)" fill="#34bb28" opacity="0.13"/>
<circle cx="24.0" cy="65.1" r="0.7" fill="#4cd03a"/>
<circle cx="25.9" cy="64.9" r="0.6" fill="#4cd03a"/>
<circle cx="24.8" cy="65.8" r="0.8" fill="#2aa822"/>
<circle cx="25.1" cy="65.2" r="0.8" fill="#4cd03a"/>
<circle cx="24.7" cy="66.3" r="0.8" fill="#34bb28"/>
<circle cx="25.2" cy="64.9" r="0.4" fill="#4cd03a"/>
<circle cx="25.0" cy="65.0" r="0.5" fill="#34bb28"/>
<circle cx="26.2" cy="65.1" r="0.8" fill="#34bb28"/>
<circle cx="24.9" cy="64.6" r="0.6" fill="#3fc82e"/>
<circle cx="25.6" cy="65.1" r="0.4" fill="#3fc82e"/>
<circle cx="25.7" cy="64.2" r="0.8" fill="#2aa822"/>
<circle cx="25.1" cy="64.0" r="0.5" fill="#2aa822"/>
<circle cx="25.2" cy="65.1" r="0.9" fill="#2aa822"/>
<ellipse cx="38.0" cy="10.8" rx="4.1" ry="2.6" transform="rotate(87 38.0 10.8)" fill="#34bb28" opacity="0.13"/>
<circle cx="37.9" cy="10.5" r="0.6" fill="#3fc82e"/>
<circle cx="37.6" cy="8.8" r="0.7" fill="#2aa822"/>
<circle cx="37.9" cy="10.5" r="0.8" fill="#34bb28"/>
<circle cx="37.2" cy="10.2" r="0.7" fill="#3fc82e"/>
<circle cx="38.5" cy="10.6" r="0.9" fill="#3fc82e"/>
<circle cx="38.1" cy="10.7" r="0.8" fill="#3fc82e"/>
<circle cx="37.6" cy="10.9" r="0.9" fill="#2aa822"/>
<circle cx="37.1" cy="10.8" r="0.8" fill="#34bb28"/>
<circle cx="39.0" cy="11.4" r="0.5" fill="#2aa822"/>
<circle cx="37.9" cy="12.4" r="1.0" fill="#2aa822"/>
<circle cx="38.0" cy="10.5" r="0.4" fill="#2aa822"/>
<circle cx="38.8" cy="9.5" r="0.8" fill="#4cd03a"/>
<circle cx="38.0" cy="10.8" r="0.7" fill="#4cd03a"/>
<ellipse cx="1.4" cy="23.7" rx="4.8" ry="3.4" transform="rotate(172 1.4 23.7)" fill="#34bb28" opacity="0.13"/>
<circle cx="0.5" cy="25.1" r="0.7" fill="#3fc82e"/>
<circle cx="1.5" cy="23.1" r="0.7" fill="#4cd03a"/>
<circle cx="1.5" cy="23.3" r="0.7" fill="#34bb28"/>
<circle cx="1.2" cy="24.9" r="1.2" fill="#4cd03a"/>
<circle cx="0.8" cy="22.2" r="0.9" fill="#34bb28"/>
<circle cx="2.9" cy="22.6" r="0.9" fill="#2aa822"/>
<circle cx="2.0" cy="23.9" r="1.1" fill="#2aa822"/>
<circle cx="3.4" cy="23.1" r="1.2" fill="#34bb28"/>
<circle cx="1.3" cy="23.7" r="1.0" fill="#2aa822"/>
<circle cx="2.0" cy="23.3" r="0.7" fill="#4cd03a"/>
<circle cx="1.3" cy="23.6" r="0.6" fill="#2aa822"/>
<circle cx="1.8" cy="23.7" r="1.0" fill="#34bb28"/>
<circle cx="1.4" cy="23.8" r="1.0" fill="#2aa822"/>
<ellipse cx="68.8" cy="62.4" rx="5.3" ry="3.1" transform="rotate(69 68.8 62.4)" fill="#34bb28" opacity="0.13"/>
<circle cx="68.2" cy="62.3" r="1.0" fill="#3fc82e"/>
<circle cx="68.6" cy="61.1" r="0.7" fill="#2aa822"/>
<circle cx="68.2" cy="62.4" r="0.8" fill="#2aa822"/>
<circle cx="67.3" cy="61.4" r="0.7" fill="#34bb28"/>
<circle cx="68.0" cy="61.5" r="0.8" fill="#34bb28"/>
<circle cx="68.3" cy="61.7" r="0.6" fill="#34bb28"/>
<circle cx="69.4" cy="61.3" r="0.6" fill="#2aa822"/>
<circle cx="69.1" cy="64.1" r="0.7" fill="#4cd03a"/>
<circle cx="69.9" cy="62.7" r="0.6" fill="#2aa822"/>
<circle cx="68.5" cy="61.6" r="0.6" fill="#2aa822"/>
<circle cx="69.3" cy="63.3" r="0.8" fill="#4cd03a"/>
<circle cx="69.7" cy="61.6" r="0.6" fill="#34bb28"/>
<circle cx="67.4" cy="61.8" r="1.1" fill="#2aa822"/>
<polyline points="21.5,14.3 21.7,13.4 22.0,12.4 22.1,11.4" stroke="#34bb28" stroke-width="1.3"/>
<polyline points="22.1,11.4 22.4,10.5 22.3,9.5 21.8,8.6" stroke="#34bb28" stroke-width="0.9"/>
<polyline points="21.8,8.6 21.0,8.0 20.3,7.3 19.7,6.5" stroke="#34bb28" stroke-width="0.6"/>
<polyline points="22.3,9.5 23.1,8.8" stroke="#34bb28" stroke-width="1.0"/>
<polyline points="23.1,8.8 23.9,8.3 24.7,7.7" stroke="#34bb28" stroke-width="0.7"/>
<polyline points="24.7,7.7 25.6,7.2" stroke="#34bb28" stroke-width="0.4"/>
<polyline points="63.1,50.2 64.1,50.2 65.1,50.1 66.0,49.8" stroke="#2aa822" stroke-width="1.3"/>
<polyline points="66.0,49.8 67.0,49.5 67.9,49.0 68.7,48.4" stroke="#2aa822" stroke-width="0.9"/>
<polyline points="68.7,48.4 69.6,48.0 70.6,47.8 71.5,47.6" stroke="#2aa822" stroke-width="0.6"/>
<polyline points="64.1,50.2 64.3,49.3" stroke="#2aa822" stroke-width="1.0"/>
<polyline points="64.3,49.3 64.4,48.3 64.8,47.4" stroke="#2aa822" stroke-width="0.7"/>
<polyline points="64.8,47.4 65.1,46.4" stroke="#2aa822" stroke-width="0.4"/>
<polyline points="69.6,48.0 69.3,47.1" stroke="#2aa822" stroke-width="1.0"/>
<polyline points="69.3,47.1 68.9,46.2 68.7,45.2" stroke="#2aa822" stroke-width="0.7"/>
<polyline points="68.7,45.2 68.4,44.2" stroke="#2aa822" stroke-width="0.4"/>
<polyline points="70.6,47.8 70.4,46.8" stroke="#2aa822" stroke-width="1.0"/>
<polyline points="70.4,46.8 70.2,45.9 70.4,44.9" stroke="#2aa822" stroke-width="0.7"/>
<polyline points="70.4,44.9 70.4,43.9" stroke="#2aa822" stroke-width="0.4"/>
<polyline points="32.3,50.2 33.3,50.4 34.2,50.7" stroke="#3fc82e" stroke-width="1.3"/>
<polyline points="34.2,50.7 35.2,50.9 36.0,51.4" stroke="#3fc82e" stroke-width="0.9"/>
<polyline points="36.0,51.4 36.9,51.8 37.9,51.7" stroke="#3fc82e" stroke-width="0.6"/>
</g></svg>
<svg x="435.90" y="431.70" width="72.30" height="71.70" viewBox="0 0 72.30 71.70" overflow="hidden">
<rect width="72.30" height="71.70" fill="#050605"/>
<filter id="nz16" x="0" y="0" width="100%" height="100%" filterUnits="userSpaceOnUse" color-interpolation-filters="sRGB"><feTurbulence type="fractalNoise" baseFrequency="0.55" numOctaves="2" seed="16"/><feColorMatrix type="matrix" values="0.7 0 0 0 -0.28 0 0.4 0 0 -0.18 0 0 0.8 0 -0.3 0 0 0 0 1"/></filter>
<rect width="72.30" height="71.70" filter="url(#nz16)"/>
<g filter="url(#bh)">
<circle cx="32.5" cy="10.8" r="7.0" fill="#d01818" opacity="0.4"/>
<circle cx="21.7" cy="43.0" r="10.0" fill="#2020a0" opacity="0.3"/>
<circle cx="57.8" cy="50.2" r="8.0" fill="#401060" opacity="0.3"/>
</g>
<filter id="tx16" x="0" y="0" width="100%" height="100%" filterUnits="userSpaceOnUse" color-interpolation-filters="sRGB"><feGaussianBlur in="SourceGraphic" stdDeviation="0.5" result="b"/><feTurbulence type="fractalNoise" baseFrequency="0.7" numOctaves="2" seed="66" result="n"/><feColorMatrix in="n" type="matrix" values="0 0 0 0 1 0 0 0 0 1 0 0 0 0 1 2.0 0 0 0 0.05" result="na"/><feComposite in="b" in2="na" operator="in"/></filter>
<g filter="url(#tx16)">
<circle cx="26.1" cy="34.5" r="0.5" fill="#e02020" opacity="0.35"/>
<circle cx="61.8" cy="51.0" r="0.7" fill="#c01818" opacity="0.36"/>
<circle cx="21.8" cy="24.0" r="0.9" fill="#c01818" opacity="0.71"/>
<circle cx="1.6" cy="15.8" r="0.5" fill="#30a828" opacity="0.89"/>
<circle cx="58.4" cy="47.9" r="0.7" fill="#e02020" opacity="0.71"/>
<circle cx="50.9" cy="70.7" r="0.6" fill="#2a2ad0" opacity="0.60"/>
<circle cx="6.2" cy="35.4" r="0.5" fill="#30a828" opacity="0.92"/>
<circle cx="21.2" cy="3.2" r="1.0" fill="#e02020" opacity="0.82"/>
<circle cx="37.8" cy="16.8" r="0.6" fill="#c01818" opacity="0.54"/>
<circle cx="32.8" cy="11.8" r="0.7" fill="#e02020" opacity="0.36"/>
<circle cx="60.9" cy="35.2" r="0.7" fill="#e02020" opacity="0.42"/>
<circle cx="60.2" cy="5.6" r="1.1" fill="#e02020" opacity="0.77"/>
<circle cx="66.5" cy="64.3" r="0.8" fill="#e02020" opacity="0.75"/>
<circle cx="28.9" cy="22.9" r="0.5" fill="#30a828" opacity="0.84"/>
<circle cx="49.2" cy="59.5" r="0.6" fill="#e02020" opacity="0.41"/>
<circle cx="6.7" cy="8.7" r="0.7" fill="#e02020" opacity="0.38"/>
<circle cx="61.0" cy="52.9" r="1.1" fill="#e02020" opacity="0.81"/>
<circle cx="11.1" cy="45.8" r="0.5" fill="#2a2ad0" opacity="0.70"/>
<circle cx="17.3" cy="17.5" r="0.5" fill="#e02020" opacity="0.44"/>
<circle cx="28.1" cy="2.8" r="0.8" fill="#e02020" opacity="0.63"/>
<circle cx="18.8" cy="4.2" r="0.6" fill="#c01818" opacity="0.50"/>
<circle cx="69.9" cy="27.5" r="0.5" fill="#c01818" opacity="0.73"/>
<circle cx="20.5" cy="32.7" r="0.8" fill="#c01818" opacity="0.49"/>
<circle cx="63.8" cy="62.8" r="0.6" fill="#e02020" opacity="0.59"/>
<circle cx="26.2" cy="35.6" r="0.8" fill="#c01818" opacity="0.48"/>
<circle cx="30.8" cy="1.6" r="0.7" fill="#2a2ad0" opacity="0.93"/>
<circle cx="61.3" cy="53.9" r="0.8" fill="#2a2ad0" opacity="0.49"/>
<circle cx="46.6" cy="15.0" r="0.6" fill="#e02020" opacity="0.64"/>
<circle cx="5.8" cy="45.3" r="0.9" fill="#e02020" opacity="0.54"/>
<circle cx="33.4" cy="57.8" r="0.8" fill="#e02020" opacity="0.67"/>
<circle cx="7.2" cy="26.1" r="0.6" fill="#2a2ad0" opacity="0.48"/>
<circle cx="32.8" cy="51.5" r="0.6" fill="#e02020" opacity="0.59"/>
<circle cx="45.1" cy="4.0" r="0.7" fill="#e02020" opacity="0.38"/>
<circle cx="48.2" cy="38.4" r="0.5" fill="#c01818" opacity="0.82"/>
<circle cx="45.4" cy="38.7" r="0.7" fill="#2a2ad0" opacity="0.72"/>
<circle cx="57.7" cy="36.6" r="0.6" fill="#c01818" opacity="0.64"/>
<circle cx="9.9" cy="33.0" r="0.5" fill="#c01818" opacity="0.36"/>
<circle cx="67.3" cy="52.4" r="0.5" fill="#e02020" opacity="0.46"/>
<circle cx="44.3" cy="54.3" r="0.9" fill="#e02020" opacity="0.81"/>
<circle cx="24.9" cy="40.7" r="0.5" fill="#e02020" opacity="0.40"/>
<circle cx="5.7" cy="2.3" r="0.5" fill="#c01818" opacity="0.79"/>
<circle cx="11.4" cy="14.7" r="0.9" fill="#e02020" opacity="0.42"/>
<circle cx="62.5" cy="29.4" r="0.8" fill="#e02020" opacity="0.71"/>
<circle cx="25.6" cy="31.6" r="0.4" fill="#e02020" opacity="0.47"/>
<circle cx="5.8" cy="68.2" r="0.8" fill="#e02020" opacity="0.38"/>
<circle cx="15.3" cy="55.4" r="0.5" fill="#30a828" opacity="0.66"/>
<circle cx="29.3" cy="1.5" r="0.6" fill="#c01818" opacity="0.93"/>
<circle cx="12.1" cy="4.0" r="1.0" fill="#e02020" opacity="0.73"/>
<circle cx="54.2" cy="46.7" r="0.5" fill="#e02020" opacity="0.93"/>
<circle cx="12.1" cy="63.4" r="0.7" fill="#c01818" opacity="0.53"/>
<circle cx="48.3" cy="42.3" r="0.4" fill="#e02020" opacity="0.89"/>
<circle cx="37.5" cy="38.5" r="0.6" fill="#c01818" opacity="0.72"/>
<circle cx="42.4" cy="21.7" r="0.7" fill="#c01818" opacity="0.92"/>
<circle cx="40.7" cy="57.8" r="0.4" fill="#30a828" opacity="0.76"/>
<circle cx="66.8" cy="44.2" r="0.5" fill="#2a2ad0" opacity="0.74"/>
<circle cx="50.4" cy="66.0" r="0.4" fill="#2a2ad0" opacity="0.84"/>
<circle cx="64.6" cy="18.7" r="0.8" fill="#2a2ad0" opacity="0.95"/>
<circle cx="40.8" cy="34.2" r="0.5" fill="#e02020" opacity="0.88"/>
<circle cx="29.1" cy="68.3" r="0.5" fill="#e02020" opacity="0.82"/>
<circle cx="19.7" cy="1.0" r="0.9" fill="#e02020" opacity="0.87"/>
<circle cx="57.8" cy="11.2" r="0.6" fill="#30a828" opacity="0.91"/>
<circle cx="29.6" cy="55.2" r="0.9" fill="#2a2ad0" opacity="0.85"/>
<circle cx="55.3" cy="22.8" r="0.6" fill="#c01818" opacity="0.70"/>
<circle cx="26.4" cy="15.4" r="0.8" fill="#c01818" opacity="0.66"/>
<circle cx="38.5" cy="20.0" r="0.8" fill="#e02020" opacity="0.86"/>
<circle cx="60.9" cy="14.0" r="0.7" fill="#e02020" opacity="0.56"/>
<circle cx="0.3" cy="4.7" r="0.7" fill="#2a2ad0" opacity="0.87"/>
<circle cx="23.7" cy="42.8" r="0.8" fill="#e02020" opacity="0.72"/>
<circle cx="22.0" cy="16.0" r="0.5" fill="#c01818" opacity="0.79"/>
<circle cx="25.5" cy="5.2" r="0.9" fill="#e02020" opacity="0.81"/>
<circle cx="66.9" cy="54.4" r="0.4" fill="#e02020" opacity="0.51"/>
<circle cx="67.9" cy="65.3" r="0.5" fill="#e02020" opacity="0.82"/>
<circle cx="57.0" cy="28.4" r="0.5" fill="#2a2ad0" opacity="0.36"/>
<circle cx="70.7" cy="25.1" r="0.8" fill="#e02020" opacity="0.59"/>
<circle cx="29.6" cy="42.3" r="0.4" fill="#30a828" opacity="0.49"/>
<circle cx="17.8" cy="12.4" r="0.5" fill="#c01818" opacity="0.57"/>
<circle cx="71.3" cy="35.6" r="0.8" fill="#c01818" opacity="0.50"/>
<circle cx="33.9" cy="67.9" r="0.8" fill="#2a2ad0" opacity="0.50"/>
<circle cx="29.9" cy="0.7" r="0.8" fill="#e02020" opacity="0.84"/>
<circle cx="14.8" cy="45.0" r="0.7" fill="#e02020" opacity="0.35"/>
<circle cx="63.7" cy="68.7" r="0.5" fill="#30a828" opacity="0.37"/>
<circle cx="7.0" cy="36.4" r="0.4" fill="#30a828" opacity="0.91"/>
<circle cx="19.8" cy="33.0" r="0.8" fill="#2a2ad0" opacity="0.54"/>
<circle cx="24.1" cy="17.7" r="1.1" fill="#e02020" opacity="0.52"/>
<circle cx="51.2" cy="23.2" r="0.5" fill="#2a2ad0" opacity="0.40"/>
<circle cx="3.7" cy="45.3" r="0.8" fill="#c01818" opacity="0.59"/>
<circle cx="11.3" cy="20.5" r="0.4" fill="#30a828" opacity="0.56"/>
<circle cx="1.1" cy="25.3" r="0.6" fill="#2a2ad0" opacity="0.61"/>
<circle cx="22.1" cy="70.3" r="1.0" fill="#e02020" opacity="0.72"/>
<circle cx="64.6" cy="46.2" r="0.8" fill="#e02020" opacity="0.87"/>
<circle cx="31.0" cy="13.3" r="0.5" fill="#30a828" opacity="0.43"/>
<circle cx="43.9" cy="57.6" r="0.5" fill="#30a828" opacity="0.50"/>
<circle cx="10.2" cy="44.5" r="0.5" fill="#e02020" opacity="0.92"/>
<circle cx="57.8" cy="56.9" r="0.8" fill="#2a2ad0" opacity="0.69"/>
<circle cx="21.2" cy="45.6" r="0.8" fill="#e02020" opacity="0.36"/>
<circle cx="47.9" cy="7.2" r="0.9" fill="#c01818" opacity="0.58"/>
<circle cx="26.2" cy="16.6" r="0.5" fill="#c01818" opacity="0.77"/>
<circle cx="45.2" cy="28.4" r="0.5" fill="#30a828" opacity="0.87"/>
<circle cx="38.9" cy="29.3" r="0.6" fill="#c01818" opacity="0.41"/>
<circle cx="30.3" cy="35.2" r="0.6" fill="#c01818" opacity="0.61"/>
<circle cx="41.8" cy="58.9" r="0.6" fill="#30a828" opacity="0.74"/>
<circle cx="14.2" cy="39.4" r="0.9" fill="#e02020" opacity="0.58"/>
<circle cx="29.8" cy="0.8" r="0.4" fill="#30a828" opacity="0.75"/>
<circle cx="71.5" cy="57.8" r="1.1" fill="#e02020" opacity="0.81"/>
<circle cx="50.3" cy="13.1" r="0.5" fill="#e02020" opacity="0.57"/>
<circle cx="24.6" cy="60.4" r="0.7" fill="#2a2ad0" opacity="0.81"/>
<circle cx="31.5" cy="19.6" r="0.5" fill="#e02020" opacity="0.68"/>
<circle cx="5.3" cy="30.3" r="0.9" fill="#c01818" opacity="0.57"/>
<circle cx="19.9" cy="37.1" r="0.6" fill="#e02020" opacity="0.92"/>
<circle cx="57.5" cy="51.6" r="0.4" fill="#c01818" opacity="0.94"/>
<circle cx="31.8" cy="63.9" r="0.5" fill="#2a2ad0" opacity="0.90"/>
<circle cx="48.4" cy="46.5" r="0.9" fill="#e02020" opacity="0.56"/>
<circle cx="44.1" cy="9.0" r="0.7" fill="#e02020" opacity="0.67"/>
<circle cx="60.0" cy="21.2" r="0.4" fill="#c01818" opacity="0.55"/>
<circle cx="41.4" cy="57.0" r="0.5" fill="#2a2ad0" opacity="0.69"/>
<circle cx="68.1" cy="46.7" r="0.6" fill="#c01818" opacity="0.58"/>
<circle cx="62.3" cy="19.2" r="0.5" fill="#30a828" opacity="0.52"/>
<circle cx="60.3" cy="26.5" r="0.8" fill="#e02020" opacity="0.91"/>
<circle cx="40.3" cy="23.9" r="0.5" fill="#30a828" opacity="0.81"/>
<circle cx="56.5" cy="11.8" r="0.6" fill="#30a828" opacity="0.60"/>
<circle cx="1.7" cy="24.2" r="0.6" fill="#e02020" opacity="0.76"/>
<circle cx="35.3" cy="61.4" r="0.7" fill="#e02020" opacity="0.58"/>
<circle cx="41.2" cy="21.5" r="0.7" fill="#e02020" opacity="0.58"/>
<circle cx="19.4" cy="23.8" r="0.4" fill="#c01818" opacity="0.47"/>
<circle cx="25.2" cy="12.6" r="0.4" fill="#30a828" opacity="0.60"/>
<circle cx="52.2" cy="35.0" r="0.5" fill="#2a2ad0" opacity="0.84"/>
<circle cx="51.9" cy="27.8" r="0.6" fill="#e02020" opacity="0.81"/>
<circle cx="47.4" cy="40.5" r="0.9" fill="#2a2ad0" opacity="0.67"/>
<circle cx="31.8" cy="4.3" r="0.7" fill="#e02020" opacity="0.39"/>
<circle cx="8.5" cy="23.9" r="0.5" fill="#c01818" opacity="0.81"/>
<circle cx="32.2" cy="32.0" r="0.5" fill="#30a828" opacity="0.42"/>
<circle cx="54.6" cy="61.6" r="0.6" fill="#e02020" opacity="0.56"/>
<circle cx="52.4" cy="61.2" r="0.7" fill="#e02020" opacity="0.41"/>
<circle cx="17.5" cy="31.2" r="0.6" fill="#c01818" opacity="0.37"/>
<circle cx="54.2" cy="45.7" r="0.5" fill="#e02020" opacity="0.44"/>
<circle cx="7.3" cy="27.8" r="0.6" fill="#c01818" opacity="0.86"/>
<circle cx="37.4" cy="6.0" r="0.4" fill="#e02020" opacity="0.82"/>
<circle cx="48.2" cy="0.7" r="0.7" fill="#e02020" opacity="0.36"/>
<circle cx="64.1" cy="0.1" r="0.8" fill="#c01818" opacity="0.42"/>
<circle cx="61.0" cy="66.0" r="0.8" fill="#e02020" opacity="0.82"/>
<circle cx="4.6" cy="12.1" r="0.8" fill="#e02020" opacity="0.79"/>
<circle cx="5.7" cy="25.8" r="1.0" fill="#e02020" opacity="0.89"/>
<circle cx="38.0" cy="69.4" r="0.5" fill="#c01818" opacity="0.84"/>
<circle cx="47.8" cy="45.0" r="0.6" fill="#c01818" opacity="0.50"/>
<circle cx="66.2" cy="64.5" r="0.7" fill="#e02020" opacity="0.52"/>
<circle cx="22.2" cy="69.9" r="0.5" fill="#e02020" opacity="0.67"/>
<circle cx="23.1" cy="48.2" r="0.8" fill="#2a2ad0" opacity="0.69"/>
<circle cx="9.7" cy="37.3" r="0.7" fill="#e02020" opacity="0.77"/>
<circle cx="11.9" cy="37.1" r="0.5" fill="#e02020" opacity="0.51"/>
<circle cx="47.5" cy="12.1" r="0.6" fill="#e02020" opacity="0.39"/>
<circle cx="66.1" cy="22.0" r="0.7" fill="#2a2ad0" opacity="0.64"/>
<circle cx="63.8" cy="31.6" r="0.9" fill="#e02020" opacity="0.86"/>
<circle cx="48.5" cy="56.9" r="0.6" fill="#e02020" opacity="0.50"/>
<circle cx="62.6" cy="64.0" r="0.7" fill="#e02020" opacity="0.82"/>
<circle cx="53.5" cy="49.7" r="0.8" fill="#e02020" opacity="0.56"/>
<circle cx="42.5" cy="20.3" r="0.8" fill="#c01818" opacity="0.39"/>
<circle cx="43.0" cy="4.4" r="0.8" fill="#e02020" opacity="0.44"/>
<circle cx="24.5" cy="64.0" r="0.8" fill="#c01818" opacity="0.39"/>
<circle cx="6.8" cy="47.6" r="0.6" fill="#e02020" opacity="0.69"/>
<circle cx="20.9" cy="15.1" r="0.5" fill="#2a2ad0" opacity="0.89"/>
<ellipse cx="8.7" cy="7.9" rx="5.7" ry="4.2" transform="rotate(4 8.7 7.9)" fill="#34bb28" opacity="0.13"/>
<circle cx="8.6" cy="9.2" r="1.1" fill="#2aa822"/>
<circle cx="6.5" cy="7.0" r="0.8" fill="#3fc82e"/>
<circle cx="8.0" cy="8.4" r="1.3" fill="#3fc82e"/>
<circle cx="9.3" cy="7.6" r="1.5" fill="#3fc82e"/>
<circle cx="8.4" cy="5.8" r="1.5" fill="#2aa822"/>
<circle cx="9.5" cy="9.3" r="0.8" fill="#34bb28"/>
<circle cx="7.6" cy="7.5" r="1.3" fill="#2aa822"/>
<circle cx="7.7" cy="8.0" r="1.2" fill="#2aa822"/>
<circle cx="6.6" cy="8.7" r="1.2" fill="#2aa822"/>
<circle cx="7.1" cy="6.6" r="1.1" fill="#34bb28"/>
<circle cx="9.5" cy="7.2" r="1.3" fill="#34bb28"/>
<circle cx="8.0" cy="9.5" r="0.8" fill="#34bb28"/>
<circle cx="10.5" cy="7.2" r="0.7" fill="#34bb28"/>
<ellipse cx="15.9" cy="13.6" rx="9.3" ry="3.4" transform="rotate(174 15.9 13.6)" fill="#34bb28" opacity="0.13"/>
<circle cx="15.9" cy="13.6" r="1.3" fill="#3fc82e"/>
<circle cx="13.2" cy="13.8" r="1.4" fill="#2aa822"/>
<circle cx="13.5" cy="14.4" r="1.0" fill="#3fc82e"/>
<circle cx="15.4" cy="14.0" r="1.6" fill="#34bb28"/>
<circle cx="15.5" cy="14.2" r="1.6" fill="#4cd03a"/>
<circle cx="14.2" cy="14.5" r="0.8" fill="#3fc82e"/>
<circle cx="17.3" cy="13.3" r="1.2" fill="#4cd03a"/>
<circle cx="19.1" cy="12.7" r="1.5" fill="#4cd03a"/>
<circle cx="16.9" cy="13.2" r="1.3" fill="#3fc82e"/>
<circle cx="20.5" cy="13.0" r="0.9" fill="#2aa822"/>
<circle cx="16.3" cy="12.3" r="1.5" fill="#34bb28"/>
<circle cx="16.9" cy="13.2" r="1.5" fill="#4cd03a"/>
<circle cx="16.3" cy="13.6" r="1.2" fill="#2aa822"/>
<ellipse cx="58.6" cy="13.6" rx="8.4" ry="4.8" transform="rotate(152 58.6 13.6)" fill="#34bb28" opacity="0.13"/>
<circle cx="57.4" cy="14.0" r="1.4" fill="#4cd03a"/>
<circle cx="56.5" cy="14.0" r="1.5" fill="#34bb28"/>
<circle cx="57.2" cy="14.0" r="1.9" fill="#4cd03a"/>
<circle cx="57.9" cy="12.4" r="1.5" fill="#34bb28"/>
<circle cx="55.6" cy="15.9" r="1.0" fill="#4cd03a"/>
<circle cx="56.8" cy="16.3" r="1.2" fill="#34bb28"/>
<circle cx="58.4" cy="13.6" r="0.9" fill="#2aa822"/>
<circle cx="61.9" cy="13.8" r="1.6" fill="#34bb28"/>
<circle cx="60.5" cy="11.9" r="2.0" fill="#3fc82e"/>
<circle cx="58.6" cy="13.5" r="1.5" fill="#2aa822"/>
<circle cx="58.6" cy="12.8" r="1.3" fill="#4cd03a"/>
<circle cx="58.5" cy="13.6" r="1.3" fill="#4cd03a"/>
<circle cx="58.6" cy="13.7" r="1.3" fill="#4cd03a"/>
<ellipse cx="47.7" cy="35.8" rx="5.9" ry="5.3" transform="rotate(91 47.7 35.8)" fill="#34bb28" opacity="0.13"/>
<circle cx="48.1" cy="36.0" r="1.3" fill="#34bb28"/>
<circle cx="48.3" cy="36.1" r="1.2" fill="#2aa822"/>
<circle cx="47.7" cy="35.8" r="1.4" fill="#4cd03a"/>
<circle cx="47.8" cy="36.4" r="0.9" fill="#2aa822"/>
<circle cx="47.5" cy="33.2" r="1.7" fill="#4cd03a"/>
<circle cx="47.7" cy="33.4" r="1.7" fill="#34bb28"/>
<circle cx="46.9" cy="37.5" r="1.0" fill="#34bb28"/>
<circle cx="47.2" cy="35.4" r="0.8" fill="#4cd03a"/>
<circle cx="47.3" cy="36.3" r="1.1" fill="#3fc82e"/>
<circle cx="47.6" cy="34.2" r="1.4" fill="#4cd03a"/>
<circle cx="48.2" cy="34.3" r="0.9" fill="#d6d020"/>
<circle cx="47.6" cy="34.6" r="0.6" fill="#e8c030"/>
<circle cx="47.5" cy="35.6" r="1.1" fill="#e0b818"/>
<circle cx="47.1" cy="36.8" r="0.8" fill="#d6d020"/>
<circle cx="47.7" cy="34.1" r="0.8" fill="#c8d828"/>
<circle cx="47.7" cy="35.9" r="0.6" fill="#d6d020"/>
<circle cx="47.5" cy="36.1" r="1.0" fill="#d6d020"/>
<ellipse cx="50.6" cy="43.7" rx="6.2" ry="4.4" transform="rotate(143 50.6 43.7)" fill="#34bb28" opacity="0.13"/>
<circle cx="50.8" cy="43.1" r="1.2" fill="#4cd03a"/>
<circle cx="51.1" cy="45.6" r="1.6" fill="#2aa822"/>
<circle cx="51.4" cy="43.0" r="1.2" fill="#2aa822"/>
<circle cx="51.9" cy="43.8" r="1.5" fill="#2aa822"/>
<circle cx="52.0" cy="43.3" r="0.8" fill="#4cd03a"/>
<circle cx="53.3" cy="43.0" r="1.6" fill="#2aa822"/>
<circle cx="51.0" cy="43.8" r="0.8" fill="#3fc82e"/>
<circle cx="50.7" cy="44.8" r="1.5" fill="#4cd03a"/>
<circle cx="51.3" cy="44.2" r="0.8" fill="#34bb28"/>
<circle cx="49.7" cy="45.9" r="0.8" fill="#4cd03a"/>
<circle cx="48.2" cy="44.9" r="0.9" fill="#3fc82e"/>
<circle cx="49.8" cy="45.8" r="0.8" fill="#4cd03a"/>
<circle cx="49.7" cy="45.2" r="0.9" fill="#4cd03a"/>
<ellipse cx="27.5" cy="60.9" rx="7.2" ry="5.6" transform="rotate(12 27.5 60.9)" fill="#34bb28" opacity="0.13"/>
<circle cx="28.7" cy="61.3" r="1.4" fill="#4cd03a"/>
<circle cx="27.4" cy="61.1" r="1.5" fill="#34bb28"/>
<circle cx="27.3" cy="61.6" r="1.5" fill="#3fc82e"/>
<circle cx="27.3" cy="60.9" r="1.5" fill="#2aa822"/>
<circle cx="30.9" cy="61.1" r="1.9" fill="#34bb28"/>
<circle cx="27.3" cy="61.6" r="1.6" fill="#4cd03a"/>
<circle cx="29.9" cy="61.0" r="1.0" fill="#2aa822"/>
<circle cx="27.2" cy="60.3" r="1.0" fill="#34bb28"/>
<circle cx="30.3" cy="60.8" r="1.8" fill="#4cd03a"/>
<circle cx="24.6" cy="59.6" r="1.1" fill="#34bb28"/>
<circle cx="27.9" cy="61.5" r="1.6" fill="#2aa822"/>
<circle cx="27.3" cy="61.7" r="1.1" fill="#4cd03a"/>
<circle cx="26.9" cy="61.7" r="1.1" fill="#4cd03a"/>
<polyline points="62.9,29.4 62.0,29.0 61.2,28.4 60.5,27.6 60.2,26.7" stroke="#34bb28" stroke-width="1.3"/>
<polyline points="60.2,26.7 60.0,25.7 59.4,24.9 58.6,24.4 57.6,24.2" stroke="#34bb28" stroke-width="0.9"/>
<polyline points="57.6,24.2 56.8,23.6 56.0,22.9 55.5,22.1" stroke="#34bb28" stroke-width="0.6"/>
<polyline points="61.2,28.4 61.4,27.4 61.6,26.4" stroke="#34bb28" stroke-width="1.0"/>
<polyline points="61.6,26.4 61.5,25.4 61.1,24.6" stroke="#34bb28" stroke-width="0.7"/>
<polyline points="61.1,24.6 61.0,23.6" stroke="#34bb28" stroke-width="0.4"/>
<polyline points="57.6,24.2 57.0,25.0 56.5,25.8" stroke="#34bb28" stroke-width="1.0"/>
<polyline points="56.5,25.8 56.4,26.8 56.1,27.8" stroke="#34bb28" stroke-width="0.7"/>
<polyline points="56.1,27.8 55.5,28.6" stroke="#34bb28" stroke-width="0.4"/>
<ellipse cx="60.0" cy="4.3" rx="5.3" ry="4.5" transform="rotate(147 60.0 4.3)" fill="#e01c1c" opacity="0.13"/>
<circle cx="60.1" cy="4.3" r="1.5" fill="#c81818"/>
<circle cx="59.9" cy="4.4" r="0.9" fill="#f02828"/>
<circle cx="62.3" cy="4.1" r="1.3" fill="#e01c1c"/>
<circle cx="61.7" cy="3.0" r="1.2" fill="#c81818"/>
<circle cx="61.6" cy="2.7" r="1.0" fill="#e01c1c"/>
<circle cx="61.2" cy="4.7" r="1.0" fill="#f02828"/>
<circle cx="60.1" cy="2.0" r="0.7" fill="#f02828"/>
<circle cx="60.6" cy="2.4" r="1.1" fill="#e01c1c"/>
<circle cx="58.1" cy="4.9" r="0.8" fill="#c81818"/>
<circle cx="60.5" cy="3.9" r="1.2" fill="#c81818"/>
<circle cx="59.5" cy="3.5" r="1.1" fill="#f02828"/>
<circle cx="62.3" cy="4.8" r="1.0" fill="#e01c1c"/>
<circle cx="60.2" cy="3.9" r="1.2" fill="#c81818"/>
<ellipse cx="54.2" cy="19.4" rx="6.4" ry="3.7" transform="rotate(56 54.2 19.4)" fill="#e01c1c" opacity="0.13"/>
<circle cx="53.9" cy="19.5" r="1.2" fill="#e01c1c"/>
<circle cx="54.5" cy="18.9" r="0.6" fill="#c81818"/>
<circle cx="54.3" cy="18.7" r="0.8" fill="#d01414"/>
<circle cx="55.5" cy="19.2" r="1.4" fill="#f02828"/>
<circle cx="53.2" cy="19.1" r="1.1" fill="#d01414"/>
<circle cx="54.2" cy="19.3" r="0.6" fill="#e01c1c"/>
<circle cx="56.1" cy="19.6" r="0.9" fill="#f02828"/>
<circle cx="54.7" cy="20.4" r="1.2" fill="#f02828"/>
<circle cx="53.3" cy="17.7" r="1.1" fill="#f02828"/>
<circle cx="53.7" cy="17.4" r="1.2" fill="#d01414"/>
<circle cx="53.0" cy="19.2" r="1.2" fill="#c81818"/>
<circle cx="53.1" cy="18.3" r="1.2" fill="#e01c1c"/>
<circle cx="55.5" cy="19.1" r="0.8" fill="#c81818"/>
<ellipse cx="44.8" cy="12.2" rx="6.3" ry="2.2" transform="rotate(146 44.8 12.2)" fill="#e01c1c" opacity="0.13"/>
<circle cx="45.8" cy="11.9" r="0.9" fill="#f02828"/>
<circle cx="44.6" cy="12.3" r="1.0" fill="#e01c1c"/>
<circle cx="46.4" cy="11.9" r="1.2" fill="#f02828"/>
<circle cx="44.3" cy="12.8" r="1.0" fill="#e01c1c"/>
<circle cx="45.3" cy="13.0" r="0.8" fill="#e01c1c"/>
<circle cx="45.9" cy="11.4" r="0.9" fill="#e01c1c"/>
<circle cx="46.1" cy="11.0" r="1.1" fill="#f02828"/>
<circle cx="42.8" cy="13.4" r="0.7" fill="#c81818"/>
<circle cx="44.8" cy="12.4" r="1.1" fill="#d01414"/>
<circle cx="45.9" cy="12.4" r="0.6" fill="#e01c1c"/>
<circle cx="44.8" cy="12.6" r="1.1" fill="#c81818"/>
<circle cx="44.3" cy="12.4" r="1.1" fill="#e01c1c"/>
<circle cx="45.3" cy="12.1" r="1.1" fill="#e01c1c"/>
<ellipse cx="69.4" cy="23.7" rx="6.5" ry="3.1" transform="rotate(82 69.4 23.7)" fill="#e01c1c" opacity="0.13"/>
<circle cx="69.4" cy="23.9" r="1.0" fill="#c81818"/>
<circle cx="70.1" cy="21.9" r="1.2" fill="#d01414"/>
<circle cx="69.3" cy="24.6" r="1.2" fill="#c81818"/>
<circle cx="70.2" cy="24.8" r="1.4" fill="#e01c1c"/>
<circle cx="70.0" cy="23.0" r="0.6" fill="#d01414"/>
<circle cx="69.5" cy="23.6" r="1.3" fill="#d01414"/>
<circle cx="68.7" cy="21.2" r="1.3" fill="#c81818"/>
<circle cx="68.2" cy="23.1" r="1.2" fill="#d01414"/>
<circle cx="68.6" cy="24.7" r="0.6" fill="#d01414"/>
<circle cx="70.4" cy="26.0" r="1.4" fill="#f02828"/>
<circle cx="69.4" cy="23.6" r="0.9" fill="#c81818"/>
<circle cx="68.1" cy="22.2" r="0.6" fill="#c81818"/>
<circle cx="68.8" cy="26.0" r="1.3" fill="#f02828"/>
<ellipse cx="8.7" cy="31.5" rx="7.3" ry="3.3" transform="rotate(3 8.7 31.5)" fill="#e01c1c" opacity="0.13"/>
<circle cx="11.4" cy="32.1" r="1.1" fill="#f02828"/>
<circle cx="7.3" cy="30.0" r="0.8" fill="#c81818"/>
<circle cx="11.8" cy="31.4" r="1.5" fill="#e01c1c"/>
<circle cx="9.4" cy="31.5" r="1.5" fill="#f02828"/>
<circle cx="7.4" cy="31.2" r="0.8" fill="#f02828"/>
<circle cx="9.9" cy="32.1" r="1.5" fill="#d01414"/>
<circle cx="6.7" cy="32.2" r="1.5" fill="#f02828"/>
<circle cx="9.9" cy="32.8" r="1.6" fill="#c81818"/>
<circle cx="9.3" cy="31.8" r="0.9" fill="#e01c1c"/>
<circle cx="7.3" cy="32.0" r="0.7" fill="#d01414"/>
<circle cx="11.2" cy="31.7" r="1.1" fill="#c81818"/>
<circle cx="9.0" cy="32.8" r="1.0" fill="#e01c1c"/>
<circle cx="8.8" cy="31.5" r="1.1" fill="#d01414"/>
<ellipse cx="21.0" cy="33.0" rx="4.3" ry="3.2" transform="rotate(73 21.0 33.0)" fill="#e01c1c" opacity="0.13"/>
<circle cx="20.0" cy="33.4" r="0.7" fill="#c81818"/>
<circle cx="21.0" cy="33.0" r="0.7" fill="#c81818"/>
<circle cx="20.9" cy="32.0" r="0.8" fill="#c81818"/>
<circle cx="20.0" cy="34.1" r="1.1" fill="#c81818"/>
<circle cx="21.4" cy="33.5" r="0.5" fill="#d01414"/>
<circle cx="21.2" cy="32.5" r="0.7" fill="#c81818"/>
<circle cx="21.1" cy="35.1" r="1.0" fill="#c81818"/>
<circle cx="22.4" cy="33.2" r="0.8" fill="#f02828"/>
<circle cx="19.8" cy="32.1" r="0.7" fill="#c81818"/>
<circle cx="22.0" cy="33.3" r="0.5" fill="#c81818"/>
<circle cx="21.1" cy="32.3" r="0.9" fill="#d01414"/>
<circle cx="21.3" cy="33.6" r="0.5" fill="#c81818"/>
<circle cx="21.3" cy="33.4" r="1.0" fill="#d01414"/>
<ellipse cx="34.7" cy="34.4" rx="7.1" ry="2.8" transform="rotate(15 34.7 34.4)" fill="#e01c1c" opacity="0.13"/>
<circle cx="34.8" cy="34.4" r="1.4" fill="#e01c1c"/>
<circle cx="37.2" cy="35.9" r="0.7" fill="#f02828"/>
<circle cx="32.2" cy="33.0" r="1.1" fill="#c81818"/>
<circle cx="35.2" cy="34.3" r="1.4" fill="#f02828"/>
<circle cx="33.9" cy="34.5" r="0.8" fill="#d01414"/>
<circle cx="34.6" cy="34.4" r="0.6" fill="#f02828"/>
<circle cx="35.8" cy="35.6" r="1.3" fill="#e01c1c"/>
<circle cx="34.9" cy="34.2" r="1.4" fill="#c81818"/>
<circle cx="34.1" cy="34.5" r="1.1" fill="#d01414"/>
<circle cx="33.7" cy="35.0" r="0.7" fill="#c81818"/>
<circle cx="34.6" cy="34.5" r="1.0" fill="#e01c1c"/>
<circle cx="33.8" cy="34.3" r="1.3" fill="#d01414"/>
<circle cx="37.0" cy="35.1" r="1.1" fill="#e01c1c"/>
<ellipse cx="26.8" cy="43.0" rx="4.1" ry="3.4" transform="rotate(173 26.8 43.0)" fill="#e01c1c" opacity="0.13"/>
<circle cx="26.9" cy="42.0" r="1.0" fill="#c81818"/>
<circle cx="26.1" cy="43.4" r="0.9" fill="#d01414"/>
<circle cx="26.7" cy="43.3" r="1.1" fill="#e01c1c"/>
<circle cx="27.3" cy="44.2" r="1.1" fill="#f02828"/>
<circle cx="26.5" cy="43.0" r="0.8" fill="#d01414"/>
<circle cx="26.8" cy="43.0" r="0.9" fill="#e01c1c"/>
<circle cx="26.4" cy="43.1" r="0.5" fill="#e01c1c"/>
<circle cx="25.2" cy="43.8" r="0.5" fill="#c81818"/>
<circle cx="27.4" cy="41.7" r="1.2" fill="#c81818"/>
<circle cx="26.5" cy="44.2" r="0.6" fill="#e01c1c"/>
<circle cx="27.1" cy="42.9" r="0.9" fill="#d01414"/>
<circle cx="26.6" cy="43.7" r="0.6" fill="#f02828"/>
<circle cx="26.9" cy="43.0" r="0.7" fill="#d01414"/>
<ellipse cx="33.3" cy="46.6" rx="5.2" ry="2.2" transform="rotate(120 33.3 46.6)" fill="#e01c1c" opacity="0.13"/>
<circle cx="32.6" cy="47.0" r="1.0" fill="#c81818"/>
<circle cx="33.1" cy="46.9" r="0.9" fill="#d01414"/>
<circle cx="33.5" cy="45.5" r="0.6" fill="#f02828"/>
<circle cx="33.5" cy="46.9" r="0.6" fill="#f02828"/>
<circle cx="34.0" cy="46.5" r="0.8" fill="#e01c1c"/>
<circle cx="33.8" cy="45.6" r="0.5" fill="#d01414"/>
<circle cx="33.4" cy="46.7" r="0.7" fill="#d01414"/>
<circle cx="33.6" cy="46.3" r="0.6" fill="#d01414"/>
<circle cx="33.5" cy="46.8" r="0.7" fill="#d01414"/>
<circle cx="33.1" cy="45.4" r="0.6" fill="#e01c1c"/>
<circle cx="34.2" cy="44.8" r="0.6" fill="#f02828"/>
<circle cx="33.3" cy="46.6" r="0.5" fill="#f02828"/>
<circle cx="31.9" cy="48.1" r="0.4" fill="#c81818"/>
<ellipse cx="19.5" cy="58.1" rx="7.6" ry="3.6" transform="rotate(106 19.5 58.1)" fill="#e01c1c" opacity="0.13"/>
<circle cx="18.4" cy="56.8" r="1.3" fill="#e01c1c"/>
<circle cx="19.6" cy="57.9" r="1.6" fill="#d01414"/>
<circle cx="19.5" cy="58.1" r="1.6" fill="#e01c1c"/>
<circle cx="19.6" cy="58.0" r="0.8" fill="#f02828"/>
<circle cx="19.2" cy="58.8" r="1.1" fill="#c81818"/>
<circle cx="20.8" cy="56.9" r="0.8" fill="#e01c1c"/>
<circle cx="18.5" cy="59.6" r="1.1" fill="#d01414"/>
<circle cx="19.5" cy="57.5" r="0.9" fill="#c81818"/>
<circle cx="21.1" cy="57.4" r="1.7" fill="#f02828"/>
<circle cx="21.2" cy="57.4" r="1.7" fill="#d01414"/>
<circle cx="17.6" cy="59.1" r="0.7" fill="#d01414"/>
<circle cx="18.9" cy="55.4" r="1.4" fill="#f02828"/>
<circle cx="20.8" cy="54.6" r="0.9" fill="#f02828"/>
<ellipse cx="54.2" cy="60.9" rx="5.3" ry="5.2" transform="rotate(5 54.2 60.9)" fill="#e01c1c" opacity="0.13"/>
<circle cx="54.6" cy="63.4" r="1.4" fill="#d01414"/>
<circle cx="52.0" cy="60.2" r="0.9" fill="#f02828"/>
<circle cx="53.1" cy="58.7" r="1.1" fill="#d01414"/>
<circle cx="52.6" cy="62.1" r="1.3" fill="#c81818"/>
<circle cx="54.1" cy="59.2" r="0.9" fill="#c81818"/>
<circle cx="54.1" cy="61.7" r="1.1" fill="#f02828"/>
<circle cx="54.4" cy="60.3" r="1.6" fill="#e01c1c"/>
<circle cx="54.5" cy="61.0" r="0.8" fill="#f02828"/>
<circle cx="53.3" cy="62.4" r="1.1" fill="#e01c1c"/>
<circle cx="53.6" cy="59.8" r="1.7" fill="#d01414"/>
<circle cx="55.2" cy="61.7" r="1.6" fill="#d01414"/>
<circle cx="52.3" cy="60.4" r="1.1" fill="#d01414"/>
<circle cx="54.6" cy="61.3" r="1.1" fill="#d01414"/>
<ellipse cx="70.1" cy="44.5" rx="6.6" ry="3.1" transform="rotate(22 70.1 44.5)" fill="#e01c1c" opacity="0.13"/>
<circle cx="69.5" cy="43.4" r="1.1" fill="#c81818"/>
<circle cx="71.0" cy="43.8" r="0.9" fill="#d01414"/>
<circle cx="69.8" cy="44.0" r="0.9" fill="#f02828"/>
<circle cx="72.0" cy="45.0" r="1.1" fill="#e01c1c"/>
<circle cx="70.1" cy="43.7" r="1.4" fill="#d01414"/>
<circle cx="67.8" cy="42.8" r="1.1" fill="#e01c1c"/>
<circle cx="70.2" cy="44.5" r="0.9" fill="#f02828"/>
<circle cx="68.7" cy="42.8" r="0.8" fill="#f02828"/>
<circle cx="68.0" cy="44.0" r="1.3" fill="#f02828"/>
<circle cx="69.3" cy="44.1" r="0.9" fill="#f02828"/>
<circle cx="70.4" cy="44.9" r="1.3" fill="#d01414"/>
<circle cx="69.9" cy="45.4" r="0.7" fill="#e01c1c"/>
<circle cx="70.6" cy="45.1" r="1.3" fill="#c81818"/>
<ellipse cx="66.5" cy="4.3" rx="5.3" ry="2.6" transform="rotate(5 66.5 4.3)" fill="#e01c1c" opacity="0.13"/>
<circle cx="66.2" cy="4.2" r="0.9" fill="#e01c1c"/>
<circle cx="65.1" cy="4.9" r="1.0" fill="#c81818"/>
<circle cx="66.8" cy="4.5" r="0.7" fill="#d01414"/>
<circle cx="68.3" cy="4.8" r="0.5" fill="#d01414"/>
<circle cx="66.7" cy="4.2" r="0.8" fill="#c81818"/>
<circle cx="68.5" cy="5.1" r="0.8" fill="#f02828"/>
<circle cx="66.4" cy="4.0" r="1.1" fill="#e01c1c"/>
<circle cx="66.4" cy="5.2" r="0.5" fill="#e01c1c"/>
<circle cx="67.5" cy="3.8" r="1.2" fill="#c81818"/>
<circle cx="65.1" cy="5.2" r="1.1" fill="#f02828"/>
<circle cx="67.8" cy="4.2" r="0.9" fill="#d01414"/>
<circle cx="66.3" cy="4.0" r="1.2" fill="#d01414"/>
<circle cx="66.4" cy="4.5" r="0.6" fill="#f02828"/>
<ellipse cx="5.8" cy="66.0" rx="5.7" ry="3.0" transform="rotate(169 5.8 66.0)" fill="#e01c1c" opacity="0.13"/>
<circle cx="4.7" cy="65.1" r="1.2" fill="#e01c1c"/>
<circle cx="5.8" cy="66.4" r="1.0" fill="#c81818"/>
<circle cx="3.6" cy="66.8" r="0.8" fill="#e01c1c"/>
<circle cx="6.3" cy="66.6" r="1.2" fill="#d01414"/>
<circle cx="5.7" cy="66.0" r="1.0" fill="#c81818"/>
<circle cx="8.4" cy="65.2" r="0.9" fill="#c81818"/>
<circle cx="3.4" cy="66.1" r="0.8" fill="#f02828"/>
<circle cx="4.3" cy="66.6" r="0.8" fill="#c81818"/>
<circle cx="6.4" cy="66.2" r="1.0" fill="#d01414"/>
<circle cx="6.8" cy="65.9" r="0.7" fill="#c81818"/>
<circle cx="5.7" cy="66.0" r="1.2" fill="#e01c1c"/>
<circle cx="5.2" cy="65.6" r="1.3" fill="#f02828"/>
<circle cx="6.1" cy="65.5" r="1.3" fill="#c81818"/>
<polyline points="30.4,7.2 30.2,8.2 30.3,9.1 30.5,10.1 30.8,11.1" stroke="#f02828" stroke-width="1.1"/>
<polyline points="30.8,11.1 30.8,12.1 30.8,13.1 30.7,14.1 30.8,15.1" stroke="#f02828" stroke-width="0.8"/>
<polyline points="30.8,15.1 31.0,16.0 30.9,17.0 30.9,18.0" stroke="#f02828" stroke-width="0.5"/>
<polyline points="30.2,8.2 30.9,8.8 31.6,9.5" stroke="#f02828" stroke-width="0.9"/>
<polyline points="31.6,9.5 32.3,10.2 33.0,11.0" stroke="#f02828" stroke-width="0.6"/>
<polyline points="33.0,11.0 33.7,11.7" stroke="#f02828" stroke-width="0.4"/>
<polyline points="36.1,14.3 35.3,14.8 34.5,15.4 33.9,16.2 33.2,17.0" stroke="#d01414" stroke-width="1.1"/>
<polyline points="33.2,17.0 32.5,17.6 31.6,18.2 30.8,18.8 29.9,19.2" stroke="#d01414" stroke-width="0.8"/>
<polyline points="29.9,19.2 29.0,19.6 28.0,19.7 27.0,19.6" stroke="#d01414" stroke-width="0.5"/>
<polyline points="32.5,17.6 32.4,18.6 32.2,19.6" stroke="#d01414" stroke-width="0.9"/>
<polyline points="32.2,19.6 31.8,20.5 31.3,21.3" stroke="#d01414" stroke-width="0.6"/>
<polyline points="31.3,21.3 30.5,22.0" stroke="#d01414" stroke-width="0.4"/>
<polyline points="30.8,18.8 29.8,18.9 28.8,18.9" stroke="#d01414" stroke-width="0.9"/>
<polyline points="28.8,18.9 27.9,18.7 27.0,18.2" stroke="#d01414" stroke-width="0.6"/>
<polyline points="27.0,18.2 26.4,17.3" stroke="#d01414" stroke-width="0.4"/>
<polyline points="32.5,17.9 33.3,17.3 34.0,16.6 34.6,15.8" stroke="#e01c1c" stroke-width="1.1"/>
<polyline points="34.6,15.8 34.8,14.8 35.1,13.9 35.6,13.0" stroke="#e01c1c" stroke-width="0.8"/>
<polyline points="35.6,13.0 36.2,12.2 36.9,11.5 37.4,10.7" stroke="#e01c1c" stroke-width="0.5"/>
<polyline points="33.3,17.3 33.9,16.5" stroke="#e01c1c" stroke-width="0.9"/>
<polyline points="33.9,16.5 34.4,15.6 35.0,14.8" stroke="#e01c1c" stroke-width="0.6"/>
<polyline points="35.0,14.8 35.7,14.2" stroke="#e01c1c" stroke-width="0.4"/>
<polyline points="34.0,16.6 35.0,16.3" stroke="#e01c1c" stroke-width="0.9"/>
<polyline points="35.0,16.3 35.9,16.0 36.6,15.3" stroke="#e01c1c" stroke-width="0.6"/>
<polyline points="36.6,15.3 37.3,14.5" stroke="#e01c1c" stroke-width="0.4"/>
<polyline points="34.8,14.8 34.1,14.1" stroke="#e01c1c" stroke-width="0.9"/>
<polyline points="34.1,14.1 33.8,13.2 33.1,12.4" stroke="#e01c1c" stroke-width="0.6"/>
<polyline points="33.1,12.4 32.3,11.9" stroke="#e01c1c" stroke-width="0.4"/>
<polyline points="35.1,13.9 35.8,13.2" stroke="#e01c1c" stroke-width="0.9"/>
<polyline points="35.8,13.2 36.2,12.2 36.8,11.4" stroke="#e01c1c" stroke-width="0.6"/>
<polyline points="36.8,11.4 37.1,10.5" stroke="#e01c1c" stroke-width="0.4"/>
<polyline points="35.6,13.0 35.7,12.0" stroke="#e01c1c" stroke-width="0.9"/>
<polyline points="35.7,12.0 35.4,11.0 35.3,10.0" stroke="#e01c1c" stroke-width="0.6"/>
<polyline points="35.3,10.0 35.2,9.0" stroke="#e01c1c" stroke-width="0.4"/>
<polyline points="36.2,12.2 37.1,12.3" stroke="#e01c1c" stroke-width="0.9"/>
<polyline points="37.1,12.3 38.1,12.4 39.1,12.2" stroke="#e01c1c" stroke-width="0.6"/>
<polyline points="39.1,12.2 39.9,11.6" stroke="#e01c1c" stroke-width="0.4"/>
<polyline points="39.8,5.7 39.7,6.7 40.0,7.7 40.4,8.6" stroke="#d01414" stroke-width="1.1"/>
<polyline points="40.4,8.6 41.1,9.3 41.9,9.9 42.9,10.2" stroke="#d01414" stroke-width="0.8"/>
<polyline points="42.9,10.2 43.7,10.7 44.6,11.3 45.2,12.0" stroke="#d01414" stroke-width="0.5"/>
<polyline points="40.0,7.7 39.8,8.7" stroke="#d01414" stroke-width="0.9"/>
<polyline points="39.8,8.7 40.1,9.6 40.5,10.5" stroke="#d01414" stroke-width="0.6"/>
<polyline points="40.5,10.5 41.0,11.4" stroke="#d01414" stroke-width="0.4"/>
<polyline points="41.9,9.9 42.9,10.0" stroke="#d01414" stroke-width="0.9"/>
<polyline points="42.9,10.0 43.9,10.1 44.9,9.9" stroke="#d01414" stroke-width="0.6"/>
<polyline points="44.9,9.9 45.8,10.1" stroke="#d01414" stroke-width="0.4"/>
<polyline points="43.7,10.7 44.4,10.0" stroke="#d01414" stroke-width="0.9"/>
<polyline points="44.4,10.0 44.8,9.1 45.0,8.1" stroke="#d01414" stroke-width="0.6"/>
<polyline points="45.0,8.1 45.4,7.2" stroke="#d01414" stroke-width="0.4"/>
<circle cx="9.8" cy="39.7" r="1.0" fill="#2020a0"/>
<circle cx="9.5" cy="41.5" r="0.6" fill="#2a2ad8"/>
<circle cx="8.7" cy="40.0" r="1.1" fill="#2a2ad8"/>
<circle cx="10.7" cy="42.6" r="0.9" fill="#2a2ad8"/>
<circle cx="9.6" cy="40.8" r="0.6" fill="#3030c0"/>
<circle cx="10.4" cy="42.8" r="0.9" fill="#3030c0"/>
<circle cx="9.9" cy="43.7" r="0.9" fill="#3030c0"/>
<circle cx="14.6" cy="52.3" r="0.8" fill="#3030c0"/>
<circle cx="14.1" cy="55.1" r="1.2" fill="#2020a0"/>
<circle cx="15.2" cy="54.7" r="1.2" fill="#3030c0"/>
<circle cx="14.5" cy="53.7" r="1.1" fill="#2020a0"/>
<circle cx="13.7" cy="53.8" r="0.6" fill="#3030c0"/>
<circle cx="14.6" cy="53.3" r="1.2" fill="#3030c0"/>
<circle cx="13.8" cy="53.7" r="0.8" fill="#2020a0"/>
<circle cx="38.6" cy="39.6" r="0.4" fill="#2a2ad8"/>
<circle cx="38.7" cy="40.3" r="0.7" fill="#2a2ad8"/>
<circle cx="39.2" cy="39.7" r="0.7" fill="#2a2ad8"/>
<circle cx="39.2" cy="40.1" r="0.8" fill="#2020a0"/>
<circle cx="38.6" cy="39.6" r="0.8" fill="#2020a0"/>
<circle cx="38.9" cy="39.0" r="0.5" fill="#2a2ad8"/>
<circle cx="39.1" cy="40.0" r="1.1" fill="#2020a0"/>
<circle cx="25.7" cy="29.6" r="0.7" fill="#3030c0"/>
<circle cx="25.5" cy="28.5" r="0.7" fill="#2020a0"/>
<circle cx="25.3" cy="27.5" r="0.8" fill="#2020a0"/>
<circle cx="26.0" cy="30.2" r="0.5" fill="#2a2ad8"/>
<circle cx="25.3" cy="28.6" r="0.5" fill="#2020a0"/>
<circle cx="24.9" cy="28.0" r="0.5" fill="#2a2ad8"/>
<circle cx="24.4" cy="28.1" r="0.9" fill="#3030c0"/>
<circle cx="28.6" cy="33.9" r="0.7" fill="#2a2ad8"/>
<circle cx="28.8" cy="33.6" r="0.9" fill="#2020a0"/>
<circle cx="28.9" cy="36.3" r="0.5" fill="#3030c0"/>
<circle cx="29.1" cy="32.8" r="0.5" fill="#2a2ad8"/>
<circle cx="29.4" cy="33.8" r="1.0" fill="#2a2ad8"/>
<circle cx="28.8" cy="34.3" r="0.5" fill="#3030c0"/>
<circle cx="29.6" cy="34.2" r="0.6" fill="#3030c0"/>
<polyline points="65.1,57.4 65.8,56.7 66.3,55.8 66.3,54.8" stroke="#4cd03a" stroke-width="1.3"/>
<polyline points="66.3,54.8 66.5,53.8 66.4,52.8 66.6,51.9" stroke="#4cd03a" stroke-width="0.9"/>
<polyline points="66.6,51.9 67.0,51.0 67.8,50.3 68.4,49.5" stroke="#4cd03a" stroke-width="0.6"/>
<polyline points="66.5,53.8 66.4,52.8" stroke="#4cd03a" stroke-width="1.0"/>
<polyline points="66.4,52.8 66.5,51.9 66.5,50.9" stroke="#4cd03a" stroke-width="0.7"/>
<polyline points="66.5,50.9 66.6,49.9" stroke="#4cd03a" stroke-width="0.4"/>
<polyline points="66.4,52.8 65.4,53.0" stroke="#4cd03a" stroke-width="1.0"/>
<polyline points="65.4,53.0 64.5,53.4 63.5,53.7" stroke="#4cd03a" stroke-width="0.7"/>
<polyline points="63.5,53.7 62.7,54.2" stroke="#4cd03a" stroke-width="0.4"/>
<polyline points="57.8,35.8 58.1,36.8 58.2,37.8 58.7,38.7" stroke="#4cd03a" stroke-width="1.3"/>
<polyline points="58.7,38.7 59.3,39.5 60.1,40.1 60.9,40.7" stroke="#4cd03a" stroke-width="0.9"/>
<polyline points="60.9,40.7 61.4,41.5 62.2,42.1 63.0,42.8" stroke="#4cd03a" stroke-width="0.6"/>
<polyline points="58.1,36.8 57.8,37.8" stroke="#4cd03a" stroke-width="1.0"/>
<polyline points="57.8,37.8 57.4,38.7 56.7,39.4" stroke="#4cd03a" stroke-width="0.7"/>
<polyline points="56.7,39.4 56.0,40.1" stroke="#4cd03a" stroke-width="0.4"/>
<polyline points="58.7,38.7 59.7,38.4" stroke="#4cd03a" stroke-width="1.0"/>
<polyline points="59.7,38.4 60.7,38.4 61.7,38.3" stroke="#4cd03a" stroke-width="0.7"/>
<polyline points="61.7,38.3 62.6,37.9" stroke="#4cd03a" stroke-width="0.4"/>
<polyline points="60.9,40.7 61.9,40.8" stroke="#4cd03a" stroke-width="1.0"/>
<polyline points="61.9,40.8 62.9,40.7 63.8,40.5" stroke="#4cd03a" stroke-width="0.7"/>
<polyline points="63.8,40.5 64.8,40.5" stroke="#4cd03a" stroke-width="0.4"/>
<polyline points="61.4,41.5 60.9,42.4" stroke="#4cd03a" stroke-width="1.0"/>
<polyline points="60.9,42.4 60.4,43.3 60.3,44.2" stroke="#4cd03a" stroke-width="0.7"/>
<polyline points="60.3,44.2 60.4,45.2" stroke="#4cd03a" stroke-width="0.4"/>
</g></svg>
<rect x="237.80" y="497.90" width="12.70" height="1.80" fill="#fff" />
<rect x="491.40" y="497.90" width="12.70" height="1.80" fill="#fff" />
<text x="69.70" y="428.40" font-size="8.6" text-anchor="middle" fill="#4aa646" font-weight="normal" >Iba1</text>
<text x="143.70" y="428.40" font-size="8.6" text-anchor="middle" fill="#4aa646" font-weight="normal" >RM0029-11H3</text>
<text x="218.20" y="428.40" font-size="8.6" text-anchor="middle" fill="#4aa646" font-weight="normal" >Ly6G</text>
<text x="324.00" y="428.40" font-size="8.6" text-anchor="middle" fill="#4aa646" font-weight="normal" >Iba1</text>
<text x="397.90" y="428.40" font-size="8.6" text-anchor="middle" fill="#4aa646" font-weight="normal" >RM0029-11H3</text>
<text x="472.00" y="428.40" font-size="8.6" text-anchor="middle" fill="#4aa646" font-weight="normal" >Ly6G</text>
<text transform="translate(26.4,467.0) rotate(-90)" x="0" y="3.0" font-size="8.6" text-anchor="middle" textLength="41.5" lengthAdjust="spacingAndGlyphs"><tspan fill="#d8202a">cGAS </tspan><tspan fill="#3c3caa">DNA</tspan></text>
<text transform="translate(280.2,467.3) rotate(-90)" x="0" y="3.0" font-size="8.6" text-anchor="middle" textLength="45.8" lengthAdjust="spacingAndGlyphs"><tspan fill="#d8202a">STING </tspan><tspan fill="#3c3caa">DNA</tspan></text>
<rect x="0.00" y="0.00" width="520.00" height="1.20" fill="#000" />
<rect x="0.00" y="0.00" width="1.20" height="635.00" fill="#000" />
<rect x="518.80" y="0.00" width="1.20" height="635.00" fill="#000" />
<rect x="0.00" y="633.60" width="520.00" height="1.40" fill="#000" />
</g></svg></body></html>
